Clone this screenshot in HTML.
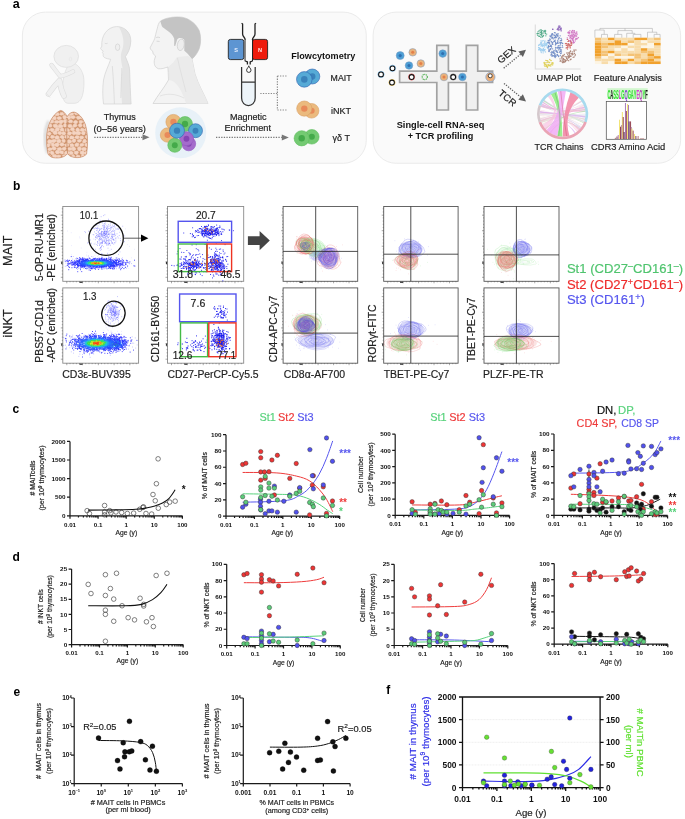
<!DOCTYPE html>
<html><head><meta charset="utf-8"><style>
html,body{margin:0;padding:0;background:#fff;width:685px;height:819px;overflow:hidden}
svg{display:block;position:absolute;left:0;top:0;will-change:transform}
text{font-family:"Liberation Sans", sans-serif}
</style></head><body>
<svg width="685" height="819" viewBox="0 0 685 819">
<text x="12.80" y="8.30" font-size="12.5" text-anchor="start" font-weight="bold" fill="#000">a</text>
<rect x="22.4" y="12.1" width="343.9" height="151.2" rx="23" fill="#fafafa" stroke="#e6e6e6" stroke-width="0.8"/>
<rect x="373.1" y="12.1" width="307.5" height="151.2" rx="23" fill="#fafafa" stroke="#e6e6e6" stroke-width="0.8"/>
<path d="M72,63 C77,63.5 81,68 83.2,75 C84.5,80 84.3,92 81.5,98 C79.5,102 77,103.3 74,103.3 L68,103.3 C65,103.2 63.5,100.5 63,97 C62,90 62.5,82 64,76 C65.5,70 68,64 72,63 Z" fill="#f0f0f0" stroke="#dddddd" stroke-width="0.7"/>
<ellipse cx="66.2" cy="56.4" rx="12.3" ry="11" fill="#f0f0f0" stroke="#dddddd" stroke-width="0.7"/>
<path d="M64,96 C61,90 60,84 59.5,80.5 C56,84 52,89 48.5,94" stroke="#dddddd" stroke-width="5.6" fill="none" stroke-linecap="round" stroke-linejoin="round"/>
<path d="M64,96 C61,90 60,84 59.5,80.5 C56,84 52,89 48.5,94" stroke="#f0f0f0" stroke-width="4.4" fill="none" stroke-linecap="round" stroke-linejoin="round"/>
<path d="M73,71.5 C68,74 63,76.5 60,76 C56.5,72 54,68 51.5,65" stroke="#dddddd" stroke-width="4.4" fill="none" stroke-linecap="round" stroke-linejoin="round"/>
<path d="M73,71.5 C68,74 63,76.5 60,76 C56.5,72 54,68 51.5,65" stroke="#f0f0f0" stroke-width="3.3" fill="none" stroke-linecap="round" stroke-linejoin="round"/>
<path d="M46.5,93.5 L50,97.6" stroke="#dddddd" stroke-width="0.6" fill="none"/>
<ellipse cx="70.5" cy="59" rx="1.3" ry="1.8" fill="none" stroke="#e0e0e0" stroke-width="0.5"/>
<path d="M104.4,57.5 C103,56.5 103,55 103.4,54 L102.4,52.6 L103.2,51.2 L101.3,49.6 L100.6,48.4 L101.8,46.2 C101,36 107,27 116.5,26.6 C125,26.4 131,33 130.8,41 C130.6,48 128,53 125.4,56.6 C127.5,62 129.5,66 129.6,70 C130,80 130.5,95 131.1,104 L103.5,104 C102.5,96 102.5,88 103.5,80 C105,72 108.5,66 110.7,59.3 C108.5,59 106,58.5 104.4,57.5 Z" fill="#f2f2f2"/>
<path d="M119,27 C126,28 131,34 130.8,41 C130.6,48 128,53 125.4,56.6 C127.5,62 129.5,66 129.6,70 C130,80 130.5,95 131.1,104 L122,104 C121,90 121,78 122.5,68 C121.5,62 120,57 121.5,52 C124,46 125,38 119,27 Z" fill="#e4e4e4"/>
<path d="M104.4,57.5 C103,56.5 103,55 103.4,54 L102.4,52.6 L103.2,51.2 L101.3,49.6 L100.6,48.4 L101.8,46.2 C101,36 107,27 116.5,26.6 C125,26.4 131,33 130.8,41 C130.6,48 128,53 125.4,56.6 C127.5,62 129.5,66 129.6,70 C130,80 130.5,95 131.1,104 L103.5,104 C102.5,96 102.5,88 103.5,80 C105,72 108.5,66 110.7,59.3 C108.5,59 106,58.5 104.4,57.5 Z" fill="none" stroke="#d4d4d4" stroke-width="0.7"/>
<ellipse cx="117.6" cy="47.2" rx="2.2" ry="3.3" fill="#efefef" stroke="#cccccc" stroke-width="0.6"/>
<path d="M112.3,66 C113.5,80 114,92 114.4,104 M121.8,68 C121.5,80 121,90 120.8,98" stroke="#d2d2d2" stroke-width="0.6" fill="none"/>
<path d="M104.8,43.2 C105.8,43.8 106.8,43.8 107.6,43.2" stroke="#c4c4c4" stroke-width="0.5" fill="none"/>
<path d="M160.3,21.2 C158.5,23 157.8,26 157.3,28.4 C156.5,31 156,33 155.7,34.5 L154.7,38.6 C154,40 153.5,41.5 152.7,42.7 L150.1,47.8 C150.5,49.5 151.5,50.5 152.7,51.3 L153.2,53.9 L155.6,56 L154.7,59 C154.3,60 154.2,61 154.2,62.1 C154.3,64 154.6,65.3 155.2,66.2 C156.2,67.5 157,68.3 158.3,68.7 C161,69 163.5,68.5 165.4,67.7 L168,67 L168.5,80 C164,88 158,95 153,103.5 L208,103.5 C204,94 198,84 195,74 L192,59 C195,56.5 197.5,53 199.2,48.8 C201,44 201.2,36 199.2,30.4 C195,22 187,17 178.7,16.9 C171,16.8 164,18.5 160.3,21.2 Z" fill="#f3f3f3" stroke="#d0d0d0" stroke-width="0.7"/>
<path d="M168,67 C172,64 175,61 177,57 L188,56 L192,59 L195,74 C198,84 204,94 208,103.5 L186,103.5 C182,90 176,80 168.5,80 Z" fill="#ebebeb"/>
<path d="M160.3,21.2 C164,18.5 171,16.8 178.7,16.9 C187,17 195,22 199.2,30.4 C201.2,36 201,44 199.2,48.8 C197.5,53 195,56.5 192,59 C189,55 186,52 184.3,50.8 L184.3,40 C182,37.5 179,37.5 177.2,39.5 L175.2,46 L174.1,45.7 C174.3,42 174.3,39 174.1,38.6 C173.5,36 171,33 168.5,31.4 C165,29 162.5,27.5 161.9,26.3 Z" fill="#c4c4c4"/>
<ellipse cx="180.8" cy="44.8" rx="3.4" ry="5.8" fill="#ededed" stroke="#c8c8c8" stroke-width="0.6" transform="rotate(10 180.8 44.8)"/>
<path d="M177.5,58 C180,70 183,80 186,92 M160,96 C168,93 176,94 184,98 M168.5,80 C169,74 168.5,70 168,67" stroke="#d8d8d8" stroke-width="0.6" fill="none"/>
<path d="M156.2,37.6 C157.5,37 159,37 160,37.8 M156.6,41.2 L159.6,41.4" stroke="#bdbdbd" stroke-width="0.5" fill="none"/>
<defs><clipPath id="thyc"><path d="M48,154 C45.5,142 46,131 49.5,123 C52.5,116 57,111.5 60.8,110.4 C63.5,111 65.5,113.5 67.2,116.5 C68.8,113.8 71.2,112 74,112 C78.5,113 82.5,117.5 85.2,124 C87.8,132 88.2,144 86.6,154 C83,158 76,158.5 71,156.5 C69,155.5 68,154.5 67.5,153.5 C66,156 62,158 57,158 C52,158 49.5,156.5 48,154 Z"/></clipPath></defs>
<path d="M47.5,153 C44,142 44.5,130 48.5,121" stroke="#888" stroke-width="2.6" fill="none" opacity="0.3" filter="url(#bl2a)"/>
<defs><filter id="bl2a" x="-50%" y="-50%" width="200%" height="200%"><feGaussianBlur stdDeviation="0.8"/></filter></defs>
<path d="M48,154 C45.5,142 46,131 49.5,123 C52.5,116 57,111.5 60.8,110.4 C63.5,111 65.5,113.5 67.2,116.5 C68.8,113.8 71.2,112 74,112 C78.5,113 82.5,117.5 85.2,124 C87.8,132 88.2,144 86.6,154 C83,158 76,158.5 71,156.5 C69,155.5 68,154.5 67.5,153.5 C66,156 62,158 57,158 C52,158 49.5,156.5 48,154 Z" fill="#cf936c"/>
<g clip-path="url(#thyc)"><polygon points="46.0,111.7 43.5,111.1 42.9,109.9 44.4,108.0 46.0,108.0 47.3,110.6" fill="#f4d4c2" stroke="#f4d4c2" stroke-width="0.5" stroke-linejoin="round"/><polygon points="51.5,107.8 51.9,109.4 50.4,110.5 48.2,110.1 47.1,108.9 48.9,107.4" fill="#f4d4c2" stroke="#f4d4c2" stroke-width="0.5" stroke-linejoin="round"/><polygon points="56.7,110.3 53.9,111.0 51.9,109.2 53.0,108.0 56.6,108.2" fill="#f4d4c2" stroke="#f4d4c2" stroke-width="0.5" stroke-linejoin="round"/><polygon points="59.2,110.7 57.4,109.1 58.5,107.4 60.8,107.1 62.6,109.1 61.6,110.7" fill="#f4d4c2" stroke="#f4d4c2" stroke-width="0.5" stroke-linejoin="round"/><polygon points="68.2,109.8 66.9,111.3 65.1,111.1 63.4,108.9 64.8,108.0 66.4,107.7" fill="#f4d4c2" stroke="#f4d4c2" stroke-width="0.5" stroke-linejoin="round"/><polygon points="67.9,109.2 69.9,108.2 72.2,109.3 72.1,110.8 70.4,111.4 67.7,110.4" fill="#f4d4c2" stroke="#f4d4c2" stroke-width="0.5" stroke-linejoin="round"/><polygon points="76.2,108.6 76.6,109.7 75.0,111.3 73.2,111.2 71.6,110.0 72.2,109.0 74.4,108.2" fill="#f4d4c2" stroke="#f4d4c2" stroke-width="0.5" stroke-linejoin="round"/><polygon points="78.8,108.1 81.0,108.9 81.5,110.6 78.8,111.4 77.5,111.0 77.0,109.1" fill="#f4d4c2" stroke="#f4d4c2" stroke-width="0.5" stroke-linejoin="round"/><polygon points="84.4,107.9 86.4,108.3 86.9,110.2 84.7,111.3 82.7,111.0 82.1,108.8" fill="#f4d4c2" stroke="#f4d4c2" stroke-width="0.5" stroke-linejoin="round"/><polygon points="91.0,108.3 91.3,111.1 89.0,111.8 87.1,110.2 87.9,108.3" fill="#f4d4c2" stroke="#f4d4c2" stroke-width="0.5" stroke-linejoin="round"/><polygon points="45.3,113.6 46.7,112.3 49.6,113.3 49.1,115.3 46.4,115.7" fill="#f4d4c2" stroke="#f4d4c2" stroke-width="0.5" stroke-linejoin="round"/><polygon points="50.6,111.8 53.0,111.7 54.3,113.3 53.1,115.7 50.6,115.2 49.8,113.7" fill="#f4d4c2" stroke="#f4d4c2" stroke-width="0.5" stroke-linejoin="round"/><polygon points="57.6,112.0 59.7,114.2 58.5,115.5 55.6,115.7 54.4,113.7 55.2,112.2" fill="#f4d4c2" stroke="#f4d4c2" stroke-width="0.5" stroke-linejoin="round"/><polygon points="60.4,112.5 63.1,112.4 64.0,114.5 61.4,115.3 59.9,114.7" fill="#f4d4c2" stroke="#f4d4c2" stroke-width="0.5" stroke-linejoin="round"/><polygon points="67.9,114.7 65.2,114.6 64.4,113.2 65.7,111.2 67.9,111.4 68.8,113.2" fill="#f4d4c2" stroke="#f4d4c2" stroke-width="0.5" stroke-linejoin="round"/><polygon points="71.6,115.5 69.9,115.5 68.7,114.2 69.6,112.9 72.1,112.5 73.8,113.3 73.2,114.8" fill="#f4d4c2" stroke="#f4d4c2" stroke-width="0.5" stroke-linejoin="round"/><polygon points="76.0,115.0 74.5,113.9 74.4,112.1 76.2,110.8 78.3,111.8 78.0,114.1" fill="#f4d4c2" stroke="#f4d4c2" stroke-width="0.5" stroke-linejoin="round"/><polygon points="83.9,113.1 83.5,114.6 81.7,116.0 79.6,115.3 79.0,113.7 80.4,112.2 82.2,111.7" fill="#f4d4c2" stroke="#f4d4c2" stroke-width="0.5" stroke-linejoin="round"/><polygon points="86.9,115.7 84.8,115.2 83.5,113.6 84.1,112.5 86.6,112.0 88.2,113.2 88.5,114.6" fill="#f4d4c2" stroke="#f4d4c2" stroke-width="0.5" stroke-linejoin="round"/><polygon points="42.5,117.3 43.3,115.8 45.9,115.2 46.6,116.3 46.8,117.9 44.7,119.1 43.0,118.6" fill="#f4d4c2" stroke="#f4d4c2" stroke-width="0.5" stroke-linejoin="round"/><polygon points="52.6,118.2 51.2,119.5 48.7,119.4 48.0,118.5 48.0,116.5 49.3,115.6 51.9,116.5" fill="#f4d4c2" stroke="#f4d4c2" stroke-width="0.5" stroke-linejoin="round"/><polygon points="55.7,116.5 56.2,118.8 55.3,120.0 52.7,119.5 52.3,117.7 54.2,116.2" fill="#f4d4c2" stroke="#f4d4c2" stroke-width="0.5" stroke-linejoin="round"/><polygon points="56.7,117.8 57.6,116.9 59.9,116.4 61.8,118.1 60.6,119.2 58.0,119.7" fill="#f4d4c2" stroke="#f4d4c2" stroke-width="0.5" stroke-linejoin="round"/><polygon points="66.5,117.8 65.0,119.2 63.5,118.9 62.7,117.0 63.1,115.7 65.0,115.2 66.7,116.8" fill="#f4d4c2" stroke="#f4d4c2" stroke-width="0.5" stroke-linejoin="round"/><polygon points="66.9,116.8 68.3,115.3 70.0,115.8 70.9,117.6 69.9,119.1 68.7,119.5 67.2,118.4" fill="#f4d4c2" stroke="#f4d4c2" stroke-width="0.5" stroke-linejoin="round"/><polygon points="75.6,117.3 73.5,118.9 70.6,117.9 70.9,116.2 74.1,115.6" fill="#f4d4c2" stroke="#f4d4c2" stroke-width="0.5" stroke-linejoin="round"/><polygon points="80.6,118.7 77.7,119.6 76.1,117.3 77.6,116.0 80.5,116.6" fill="#f4d4c2" stroke="#f4d4c2" stroke-width="0.5" stroke-linejoin="round"/><polygon points="83.3,115.9 85.1,117.4 84.5,118.8 83.1,119.2 81.0,118.8 80.1,117.8 81.5,116.2" fill="#f4d4c2" stroke="#f4d4c2" stroke-width="0.5" stroke-linejoin="round"/><polygon points="86.9,115.8 89.2,115.8 90.1,117.5 88.7,118.9 86.8,119.1 85.2,117.3" fill="#f4d4c2" stroke="#f4d4c2" stroke-width="0.5" stroke-linejoin="round"/><polygon points="49.7,120.9 48.6,123.0 46.1,122.6 45.0,120.9 46.8,119.9" fill="#f4d4c2" stroke="#f4d4c2" stroke-width="0.5" stroke-linejoin="round"/><polygon points="50.3,120.1 52.8,119.7 53.8,120.9 53.5,122.7 50.8,123.2 49.0,121.9" fill="#f4d4c2" stroke="#f4d4c2" stroke-width="0.5" stroke-linejoin="round"/><polygon points="56.5,120.2 59.4,121.3 58.4,122.9 57.3,123.4 54.6,122.8 54.5,121.2" fill="#f4d4c2" stroke="#f4d4c2" stroke-width="0.5" stroke-linejoin="round"/><polygon points="58.6,122.1 59.6,120.3 62.3,120.0 63.4,121.5 61.9,123.7 59.9,123.7" fill="#f4d4c2" stroke="#f4d4c2" stroke-width="0.5" stroke-linejoin="round"/><polygon points="63.1,120.4 65.0,119.4 67.3,119.5 67.9,121.4 66.1,123.2 63.7,122.4" fill="#f4d4c2" stroke="#f4d4c2" stroke-width="0.5" stroke-linejoin="round"/><polygon points="68.3,121.2 69.8,119.8 71.9,119.9 72.9,121.6 72.0,122.8 69.0,122.7" fill="#f4d4c2" stroke="#f4d4c2" stroke-width="0.5" stroke-linejoin="round"/><polygon points="77.3,123.1 75.6,123.9 73.5,122.8 73.8,121.3 75.4,120.3 77.4,121.1" fill="#f4d4c2" stroke="#f4d4c2" stroke-width="0.5" stroke-linejoin="round"/><polygon points="79.1,120.8 81.0,120.4 82.8,120.9 82.8,122.2 80.9,123.8 79.4,123.2" fill="#f4d4c2" stroke="#f4d4c2" stroke-width="0.5" stroke-linejoin="round"/><polygon points="85.5,120.1 87.7,121.4 87.2,122.8 85.0,123.6 83.3,122.1 83.8,120.5" fill="#f4d4c2" stroke="#f4d4c2" stroke-width="0.5" stroke-linejoin="round"/><polygon points="46.4,124.3 48.3,125.7 45.9,127.9 44.1,127.3 43.8,125.0" fill="#f4d4c2" stroke="#f4d4c2" stroke-width="0.5" stroke-linejoin="round"/><polygon points="51.8,124.7 52.1,126.4 50.3,127.2 48.3,126.6 48.3,124.4 50.0,123.5" fill="#f4d4c2" stroke="#f4d4c2" stroke-width="0.5" stroke-linejoin="round"/><polygon points="57.1,124.5 58.2,126.4 56.8,127.5 54.6,127.8 53.6,127.0 53.1,124.8 55.3,123.9" fill="#f4d4c2" stroke="#f4d4c2" stroke-width="0.5" stroke-linejoin="round"/><polygon points="58.0,126.9 58.7,124.4 61.0,124.2 63.0,125.8 62.6,127.2 59.6,128.0" fill="#f4d4c2" stroke="#f4d4c2" stroke-width="0.5" stroke-linejoin="round"/><polygon points="65.8,123.4 67.2,125.3 66.5,127.0 63.9,127.0 63.3,125.1 64.4,123.4" fill="#f4d4c2" stroke="#f4d4c2" stroke-width="0.5" stroke-linejoin="round"/><polygon points="70.8,127.6 69.5,127.6 68.0,126.8 68.3,124.8 69.9,124.2 71.4,124.5 72.2,126.6" fill="#f4d4c2" stroke="#f4d4c2" stroke-width="0.5" stroke-linejoin="round"/><polygon points="72.4,126.5 73.9,124.0 76.4,124.2 77.2,126.0 75.0,127.2" fill="#f4d4c2" stroke="#f4d4c2" stroke-width="0.5" stroke-linejoin="round"/><polygon points="79.7,127.3 78.1,125.5 79.0,124.0 81.1,123.7 82.2,125.2 81.7,126.6" fill="#f4d4c2" stroke="#f4d4c2" stroke-width="0.5" stroke-linejoin="round"/><polygon points="83.5,126.9 83.1,124.6 84.5,123.0 86.4,123.6 87.1,124.7 86.9,126.2 84.7,127.6" fill="#f4d4c2" stroke="#f4d4c2" stroke-width="0.5" stroke-linejoin="round"/><polygon points="89.5,127.5 88.3,126.3 88.8,124.6 91.0,124.2 92.1,125.5 91.7,127.0" fill="#f4d4c2" stroke="#f4d4c2" stroke-width="0.5" stroke-linejoin="round"/><polygon points="45.8,128.9 48.4,128.0 49.8,130.5 47.4,132.0 45.6,130.9" fill="#f4d4c2" stroke="#f4d4c2" stroke-width="0.5" stroke-linejoin="round"/><polygon points="52.9,131.9 51.0,131.5 49.9,129.5 51.0,128.2 53.3,128.4 54.3,129.6" fill="#f4d4c2" stroke="#f4d4c2" stroke-width="0.5" stroke-linejoin="round"/><polygon points="56.2,131.4 54.8,129.9 56.2,127.8 57.8,127.3 59.6,128.7 58.7,130.9" fill="#f4d4c2" stroke="#f4d4c2" stroke-width="0.5" stroke-linejoin="round"/><polygon points="61.9,127.6 63.7,128.7 63.9,130.9 60.6,131.1 59.9,129.4" fill="#f4d4c2" stroke="#f4d4c2" stroke-width="0.5" stroke-linejoin="round"/><polygon points="65.3,128.7 67.6,127.9 69.6,129.9 69.1,131.5 65.2,131.2" fill="#f4d4c2" stroke="#f4d4c2" stroke-width="0.5" stroke-linejoin="round"/><polygon points="73.7,127.6 74.6,130.1 73.1,131.1 70.1,129.9 71.4,127.6" fill="#f4d4c2" stroke="#f4d4c2" stroke-width="0.5" stroke-linejoin="round"/><polygon points="77.8,131.8 75.9,130.7 75.9,129.0 77.3,127.7 78.9,128.4 79.8,130.3" fill="#f4d4c2" stroke="#f4d4c2" stroke-width="0.5" stroke-linejoin="round"/><polygon points="84.9,129.9 83.1,131.5 80.2,130.9 80.4,129.3 81.6,127.9 84.2,128.9" fill="#f4d4c2" stroke="#f4d4c2" stroke-width="0.5" stroke-linejoin="round"/><polygon points="84.5,129.3 86.8,127.3 88.3,127.6 88.8,130.3 87.8,131.6 85.5,131.3" fill="#f4d4c2" stroke="#f4d4c2" stroke-width="0.5" stroke-linejoin="round"/><polygon points="42.7,133.1 44.2,131.2 45.8,131.2 47.7,133.4 46.5,134.2 44.2,134.7" fill="#f4d4c2" stroke="#f4d4c2" stroke-width="0.5" stroke-linejoin="round"/><polygon points="47.4,132.7 49.9,132.0 51.3,133.5 49.9,135.5 47.5,134.8" fill="#f4d4c2" stroke="#f4d4c2" stroke-width="0.5" stroke-linejoin="round"/><polygon points="57.1,133.2 57.0,134.2 54.2,134.6 53.3,133.6 52.8,132.1 54.7,130.6 56.8,131.4" fill="#f4d4c2" stroke="#f4d4c2" stroke-width="0.5" stroke-linejoin="round"/><polygon points="60.6,131.2 61.8,132.4 61.4,134.3 59.8,134.9 57.5,133.3 58.6,131.4" fill="#f4d4c2" stroke="#f4d4c2" stroke-width="0.5" stroke-linejoin="round"/><polygon points="64.5,131.8 66.0,133.3 64.5,135.2 62.3,134.5 61.3,133.1 63.1,131.4" fill="#f4d4c2" stroke="#f4d4c2" stroke-width="0.5" stroke-linejoin="round"/><polygon points="69.8,135.3 67.1,134.2 67.1,133.2 68.4,131.7 70.9,132.0 72.0,132.9 70.7,134.7" fill="#f4d4c2" stroke="#f4d4c2" stroke-width="0.5" stroke-linejoin="round"/><polygon points="76.0,134.0 73.6,135.1 72.1,133.7 72.7,131.3 74.2,131.0 76.3,132.2" fill="#f4d4c2" stroke="#f4d4c2" stroke-width="0.5" stroke-linejoin="round"/><polygon points="80.9,133.5 79.5,134.9 76.1,134.6 75.6,132.4 77.6,131.1 80.3,131.9" fill="#f4d4c2" stroke="#f4d4c2" stroke-width="0.5" stroke-linejoin="round"/><polygon points="81.2,133.5 82.3,131.5 84.2,131.3 85.4,132.6 84.6,134.7 83.0,134.9" fill="#f4d4c2" stroke="#f4d4c2" stroke-width="0.5" stroke-linejoin="round"/><polygon points="88.8,135.1 86.6,133.7 87.0,131.9 89.6,131.7 91.0,132.4 91.4,134.2" fill="#f4d4c2" stroke="#f4d4c2" stroke-width="0.5" stroke-linejoin="round"/><polygon points="45.0,137.3 46.0,135.7 48.4,135.9 49.0,137.4 47.9,138.6 45.3,138.4" fill="#f4d4c2" stroke="#f4d4c2" stroke-width="0.5" stroke-linejoin="round"/><polygon points="51.8,138.6 50.3,137.4 51.5,135.1 54.5,135.9 54.4,137.8" fill="#f4d4c2" stroke="#f4d4c2" stroke-width="0.5" stroke-linejoin="round"/><polygon points="57.2,139.4 55.3,138.7 54.8,137.1 56.7,135.4 58.8,136.2 59.4,138.2" fill="#f4d4c2" stroke="#f4d4c2" stroke-width="0.5" stroke-linejoin="round"/><polygon points="62.9,135.4 64.2,136.7 63.9,138.4 62.9,138.9 60.6,138.0 59.9,136.9 60.9,135.5" fill="#f4d4c2" stroke="#f4d4c2" stroke-width="0.5" stroke-linejoin="round"/><polygon points="66.4,138.5 64.7,137.7 65.3,135.5 67.0,134.8 68.9,136.2 68.5,137.9" fill="#f4d4c2" stroke="#f4d4c2" stroke-width="0.5" stroke-linejoin="round"/><polygon points="74.3,137.7 73.0,139.1 70.2,138.9 69.5,138.2 70.0,136.4 71.1,135.8 73.6,136.5" fill="#f4d4c2" stroke="#f4d4c2" stroke-width="0.5" stroke-linejoin="round"/><polygon points="77.2,139.0 74.8,137.8 75.1,136.4 76.8,135.6 79.2,136.3 78.6,138.6" fill="#f4d4c2" stroke="#f4d4c2" stroke-width="0.5" stroke-linejoin="round"/><polygon points="80.8,139.3 79.5,137.9 80.0,136.2 82.6,136.0 84.0,137.3 82.7,139.0" fill="#f4d4c2" stroke="#f4d4c2" stroke-width="0.5" stroke-linejoin="round"/><polygon points="86.9,138.7 85.4,137.8 85.2,136.1 86.3,135.2 88.6,135.3 89.2,136.1 88.8,137.8" fill="#f4d4c2" stroke="#f4d4c2" stroke-width="0.5" stroke-linejoin="round"/><polygon points="44.9,143.5 42.8,142.3 43.4,140.5 44.8,139.4 47.0,141.3 46.9,142.7" fill="#f4d4c2" stroke="#f4d4c2" stroke-width="0.5" stroke-linejoin="round"/><polygon points="48.0,143.3 47.6,140.8 48.9,139.6 52.0,140.2 52.4,142.0 50.4,143.8" fill="#f4d4c2" stroke="#f4d4c2" stroke-width="0.5" stroke-linejoin="round"/><polygon points="51.8,141.9 51.7,140.2 53.4,139.2 55.5,139.5 56.7,140.6 55.5,142.1 54.1,142.7" fill="#f4d4c2" stroke="#f4d4c2" stroke-width="0.5" stroke-linejoin="round"/><polygon points="56.7,141.3 57.5,139.8 59.3,138.9 60.7,140.1 60.9,142.2 59.1,143.0 57.4,142.6" fill="#f4d4c2" stroke="#f4d4c2" stroke-width="0.5" stroke-linejoin="round"/><polygon points="65.4,141.1 64.5,142.6 62.7,142.3 61.7,140.4 62.4,139.2 64.8,139.6" fill="#f4d4c2" stroke="#f4d4c2" stroke-width="0.5" stroke-linejoin="round"/><polygon points="67.0,142.5 67.1,140.6 68.3,139.7 70.1,139.7 71.8,141.3 71.1,142.8 69.1,143.5" fill="#f4d4c2" stroke="#f4d4c2" stroke-width="0.5" stroke-linejoin="round"/><polygon points="76.0,141.0 74.7,142.6 72.6,142.3 71.9,140.5 73.3,139.1 75.3,138.9" fill="#f4d4c2" stroke="#f4d4c2" stroke-width="0.5" stroke-linejoin="round"/><polygon points="77.4,140.1 80.2,139.2 81.8,140.7 80.0,142.2 77.8,142.1" fill="#f4d4c2" stroke="#f4d4c2" stroke-width="0.5" stroke-linejoin="round"/><polygon points="86.0,139.8 86.5,141.7 85.0,143.1 82.9,142.8 82.5,141.9 83.3,139.7 84.7,139.0" fill="#f4d4c2" stroke="#f4d4c2" stroke-width="0.5" stroke-linejoin="round"/><polygon points="87.0,141.8 87.6,139.9 88.7,138.9 90.5,140.0 91.3,141.8 90.3,143.1 88.6,143.6" fill="#f4d4c2" stroke="#f4d4c2" stroke-width="0.5" stroke-linejoin="round"/><polygon points="50.6,144.8 48.9,147.1 46.4,147.0 45.1,145.4 46.3,143.9 49.1,143.8" fill="#f4d4c2" stroke="#f4d4c2" stroke-width="0.5" stroke-linejoin="round"/><polygon points="53.3,142.7 54.9,144.8 54.0,146.5 51.9,146.6 51.0,143.6" fill="#f4d4c2" stroke="#f4d4c2" stroke-width="0.5" stroke-linejoin="round"/><polygon points="58.7,146.0 57.3,146.9 55.2,146.1 54.4,144.6 55.0,143.7 57.2,142.8 59.1,143.7" fill="#f4d4c2" stroke="#f4d4c2" stroke-width="0.5" stroke-linejoin="round"/><polygon points="61.7,146.3 59.6,145.0 59.9,143.8 62.0,142.5 64.5,144.2 63.7,145.4" fill="#f4d4c2" stroke="#f4d4c2" stroke-width="0.5" stroke-linejoin="round"/><polygon points="68.9,144.2 68.4,146.2 65.7,146.7 64.4,144.7 66.8,143.3" fill="#f4d4c2" stroke="#f4d4c2" stroke-width="0.5" stroke-linejoin="round"/><polygon points="70.4,146.7 69.9,144.3 72.3,143.5 74.0,144.9 73.3,146.8" fill="#f4d4c2" stroke="#f4d4c2" stroke-width="0.5" stroke-linejoin="round"/><polygon points="74.7,144.5 76.6,142.7 79.1,143.8 78.1,146.4 75.3,146.3" fill="#f4d4c2" stroke="#f4d4c2" stroke-width="0.5" stroke-linejoin="round"/><polygon points="79.8,145.0 80.4,143.7 82.9,143.3 84.0,144.4 83.3,146.0 80.4,146.4" fill="#f4d4c2" stroke="#f4d4c2" stroke-width="0.5" stroke-linejoin="round"/><polygon points="84.6,145.1 85.5,143.3 88.8,143.4 89.5,145.5 87.6,146.8 85.4,146.2" fill="#f4d4c2" stroke="#f4d4c2" stroke-width="0.5" stroke-linejoin="round"/><polygon points="45.1,147.0 47.1,148.9 46.4,150.7 43.8,150.3 43.4,148.4" fill="#f4d4c2" stroke="#f4d4c2" stroke-width="0.5" stroke-linejoin="round"/><polygon points="47.6,149.3 48.9,147.7 51.7,148.1 52.1,149.8 49.1,151.1" fill="#f4d4c2" stroke="#f4d4c2" stroke-width="0.5" stroke-linejoin="round"/><polygon points="55.3,149.8 53.8,150.3 51.5,148.6 52.4,147.2 53.7,146.6 55.4,146.9 56.4,148.9" fill="#f4d4c2" stroke="#f4d4c2" stroke-width="0.5" stroke-linejoin="round"/><polygon points="57.6,150.5 57.3,148.2 60.2,147.2 62.1,148.9 60.4,150.7" fill="#f4d4c2" stroke="#f4d4c2" stroke-width="0.5" stroke-linejoin="round"/><polygon points="63.3,147.2 65.3,146.9 66.4,148.8 64.9,150.4 62.8,150.1 61.8,148.5" fill="#f4d4c2" stroke="#f4d4c2" stroke-width="0.5" stroke-linejoin="round"/><polygon points="68.6,150.5 67.4,148.5 68.7,147.4 71.8,147.7 71.8,150.1" fill="#f4d4c2" stroke="#f4d4c2" stroke-width="0.5" stroke-linejoin="round"/><polygon points="72.9,151.0 71.6,148.6 72.2,147.3 74.3,146.7 76.1,148.9 74.6,150.5" fill="#f4d4c2" stroke="#f4d4c2" stroke-width="0.5" stroke-linejoin="round"/><polygon points="78.1,150.6 77.5,148.7 77.5,147.7 79.2,146.6 81.3,147.7 81.5,149.4 79.9,150.9" fill="#f4d4c2" stroke="#f4d4c2" stroke-width="0.5" stroke-linejoin="round"/><polygon points="82.7,150.7 81.9,149.2 82.0,148.0 84.3,147.2 86.2,148.0 86.5,148.9 85.5,150.8" fill="#f4d4c2" stroke="#f4d4c2" stroke-width="0.5" stroke-linejoin="round"/><polygon points="87.3,147.9 89.2,147.1 91.8,148.6 91.0,150.6 87.9,150.4" fill="#f4d4c2" stroke="#f4d4c2" stroke-width="0.5" stroke-linejoin="round"/><polygon points="47.9,154.5 45.7,153.8 44.9,152.9 45.9,151.3 48.0,151.1 49.8,152.2 48.9,153.9" fill="#f4d4c2" stroke="#f4d4c2" stroke-width="0.5" stroke-linejoin="round"/><polygon points="54.3,153.4 52.8,154.4 51.0,154.5 50.1,152.1 51.2,151.1 53.3,151.4" fill="#f4d4c2" stroke="#f4d4c2" stroke-width="0.5" stroke-linejoin="round"/><polygon points="56.3,150.2 59.1,150.8 60.0,152.8 58.6,153.7 56.5,153.9 55.1,152.1" fill="#f4d4c2" stroke="#f4d4c2" stroke-width="0.5" stroke-linejoin="round"/><polygon points="63.5,151.6 63.2,153.9 61.7,154.1 59.7,152.9 60.1,151.1 62.2,150.7" fill="#f4d4c2" stroke="#f4d4c2" stroke-width="0.5" stroke-linejoin="round"/><polygon points="64.3,153.5 65.0,151.4 66.6,151.0 68.4,151.2 69.4,152.7 67.6,154.4 65.5,154.3" fill="#f4d4c2" stroke="#f4d4c2" stroke-width="0.5" stroke-linejoin="round"/><polygon points="73.3,152.6 72.6,154.5 69.5,154.6 69.2,151.8 71.3,151.0" fill="#f4d4c2" stroke="#f4d4c2" stroke-width="0.5" stroke-linejoin="round"/><polygon points="74.4,153.7 74.4,151.3 77.7,151.0 78.5,152.6 77.0,154.8" fill="#f4d4c2" stroke="#f4d4c2" stroke-width="0.5" stroke-linejoin="round"/><polygon points="80.3,151.3 83.4,150.9 84.7,152.9 82.6,154.9 80.1,153.6" fill="#f4d4c2" stroke="#f4d4c2" stroke-width="0.5" stroke-linejoin="round"/><polygon points="85.5,151.4 88.1,151.7 88.3,152.8 86.9,154.9 84.7,154.2 84.1,152.9" fill="#f4d4c2" stroke="#f4d4c2" stroke-width="0.5" stroke-linejoin="round"/><polygon points="44.0,154.8 45.1,154.7 46.7,155.8 46.4,157.7 45.0,158.6 43.3,158.0 42.9,156.4" fill="#f4d4c2" stroke="#f4d4c2" stroke-width="0.5" stroke-linejoin="round"/><polygon points="49.6,155.0 51.4,156.6 50.2,158.0 46.9,157.3 46.6,155.6" fill="#f4d4c2" stroke="#f4d4c2" stroke-width="0.5" stroke-linejoin="round"/><polygon points="57.3,155.7 56.0,158.1 53.8,158.4 52.4,155.9 52.5,154.6 55.5,154.5" fill="#f4d4c2" stroke="#f4d4c2" stroke-width="0.5" stroke-linejoin="round"/><polygon points="60.8,155.4 60.2,157.7 59.1,158.4 56.6,157.0 57.4,155.2 58.9,154.9" fill="#f4d4c2" stroke="#f4d4c2" stroke-width="0.5" stroke-linejoin="round"/><polygon points="66.1,157.3 63.6,157.8 62.3,155.5 64.3,154.4 66.1,154.9" fill="#f4d4c2" stroke="#f4d4c2" stroke-width="0.5" stroke-linejoin="round"/><polygon points="70.4,158.6 67.8,159.0 66.3,156.6 67.5,155.1 69.9,155.4 71.7,157.4" fill="#f4d4c2" stroke="#f4d4c2" stroke-width="0.5" stroke-linejoin="round"/><polygon points="71.1,157.3 71.2,156.1 73.5,154.6 74.4,155.3 75.0,157.0 72.9,158.1" fill="#f4d4c2" stroke="#f4d4c2" stroke-width="0.5" stroke-linejoin="round"/><polygon points="76.4,158.0 75.9,156.5 77.3,154.9 79.7,155.5 80.3,157.5 78.5,158.5" fill="#f4d4c2" stroke="#f4d4c2" stroke-width="0.5" stroke-linejoin="round"/><polygon points="81.2,155.7 82.8,154.3 84.9,155.3 85.2,156.9 83.5,158.5 81.6,157.5" fill="#f4d4c2" stroke="#f4d4c2" stroke-width="0.5" stroke-linejoin="round"/><polygon points="89.9,157.5 86.9,158.6 85.3,156.8 86.2,154.8 89.6,155.0" fill="#f4d4c2" stroke="#f4d4c2" stroke-width="0.5" stroke-linejoin="round"/></g>
<path d="M67.3,118 C66.5,130 66.5,142 67.5,153" stroke="#c98e6a" stroke-width="0.9" fill="none"/>
<path d="M48,154 C45.5,142 46,131 49.5,123 C52.5,116 57,111.5 60.8,110.4 C63.5,111 65.5,113.5 67.2,116.5 C68.8,113.8 71.2,112 74,112 C78.5,113 82.5,117.5 85.2,124 C87.8,132 88.2,144 86.6,154 C83,158 76,158.5 71,156.5 C69,155.5 68,154.5 67.5,153.5 C66,156 62,158 57,158 C52,158 49.5,156.5 48,154 Z" fill="none" stroke="#c88c68" stroke-width="0.6"/>
<text x="119.80" y="120.10" font-size="9" text-anchor="middle" fill="#222" stroke="#222" stroke-width="0.18">Thymus</text>
<text x="119.70" y="131.50" font-size="9" text-anchor="middle" fill="#222" stroke="#222" stroke-width="0.18" textLength="52.6" lengthAdjust="spacingAndGlyphs">(0&#8211;56 years)</text>
<line x1="94.30" y1="137.30" x2="142.50" y2="137.30" stroke="#777" stroke-width="1.2" stroke-dasharray="1.3 1.3"/>
<path d="M149.50,137.30 L142.50,140.30 L142.50,134.30 Z" fill="#777"/>
<circle cx="180.70" cy="132.80" r="25.5" fill="#e8f1f8" stroke="none" stroke-width="0.5"/>
<circle cx="173.40" cy="121.90" r="7.5" fill="#ebba7e" stroke="#d9a064" stroke-width="0.6"/>
<circle cx="173.40" cy="121.90" r="3.15" fill="#e88a5a" stroke="none" stroke-width="0.5"/>
<circle cx="167.50" cy="135.00" r="7.2" fill="#ebba7e" stroke="#d9a064" stroke-width="0.6"/>
<circle cx="167.50" cy="135.00" r="3.024" fill="#e88a5a" stroke="none" stroke-width="0.5"/>
<circle cx="185.00" cy="124.00" r="7.5" fill="#74ca72" stroke="#5cbc5c" stroke-width="0.6"/>
<circle cx="185.00" cy="124.00" r="3.15" fill="#44aa4a" stroke="none" stroke-width="0.5"/>
<circle cx="195.50" cy="130.70" r="7.0" fill="#56aad6" stroke="#3062b0" stroke-width="0.6"/>
<circle cx="195.50" cy="130.70" r="2.94" fill="#3a82ba" stroke="none" stroke-width="0.5"/>
<circle cx="188.70" cy="143.80" r="7.0" fill="#a46ccc" stroke="#9058c0" stroke-width="0.6"/>
<circle cx="188.70" cy="143.80" r="2.94" fill="#8444b4" stroke="none" stroke-width="0.5"/>
<circle cx="186.50" cy="138.70" r="7.0" fill="#a46ccc" stroke="#9058c0" stroke-width="0.6"/>
<circle cx="186.50" cy="138.70" r="2.94" fill="#8444b4" stroke="none" stroke-width="0.5"/>
<circle cx="174.80" cy="145.30" r="7.0" fill="#74ca72" stroke="#5cbc5c" stroke-width="0.6"/>
<circle cx="174.80" cy="145.30" r="2.94" fill="#44aa4a" stroke="none" stroke-width="0.5"/>
<circle cx="177.00" cy="130.70" r="7.5" fill="#56aad6" stroke="#3062b0" stroke-width="0.6"/>
<circle cx="177.00" cy="130.70" r="3.15" fill="#3a82ba" stroke="none" stroke-width="0.5"/>
<text x="248.30" y="120.00" font-size="9" text-anchor="middle" fill="#222" stroke="#222" stroke-width="0.18" textLength="36.7" lengthAdjust="spacingAndGlyphs">Magnetic</text>
<text x="247.70" y="130.70" font-size="9" text-anchor="middle" fill="#222" stroke="#222" stroke-width="0.18" textLength="46.6" lengthAdjust="spacingAndGlyphs">Enrichment</text>
<line x1="216.00" y1="137.40" x2="281.80" y2="137.40" stroke="#777" stroke-width="1.2" stroke-dasharray="1.3 1.3"/>
<path d="M288.80,137.40 L281.80,140.40 L281.80,134.40 Z" fill="#777"/>
<rect x="228.3" y="39.4" width="15.5" height="20.2" rx="2.2" fill="#5d95d2" stroke="#222" stroke-width="0.9"/>
<rect x="252.4" y="39.4" width="15.2" height="20.2" rx="2.2" fill="#ee1b0c" stroke="#222" stroke-width="0.9"/>
<text x="236.00" y="52.30" font-size="5.6" text-anchor="middle" font-weight="bold" fill="#e8f0ff">S</text>
<text x="260.00" y="52.30" font-size="5.6" text-anchor="middle" font-weight="bold" fill="#ffe8e8">N</text>
<path d="M241.6,23.3 L242.6,24 L242.6,34 C242.6,37 245.2,37 245.2,40 L245.2,60.8 L247.4,62 L247.4,64.5 M256,23.3 L255,24 L255,34 C255,37 252.4,37 252.4,40 L252.4,60.8 L250.2,62 L250.2,64.5" stroke="#222" stroke-width="1.3" fill="none"/>
<rect x="245.6" y="40" width="6.4" height="20.5" fill="#fcfcfc"/>
<path d="M248.8,65.8 C248.8,67.3 246.6,68.4 246.6,70.2 A2.2,2.2 0 0 0 251,70.2 C251,68.4 248.8,67.3 248.8,65.8 Z" fill="#fff" stroke="#222" stroke-width="0.9"/>
<path d="M241.6,82.2 L241.6,98 C241.6,108 255.2,108 255.2,98 L255.2,82.2 Z" fill="#edf4f9"/>
<path d="M241.6,66.9 L241.6,98 C241.6,108 255.2,108 255.2,98 L255.2,66.9 M241.6,82.2 L255.2,82.2" stroke="#333" stroke-width="1.25" fill="none"/>
<path d="M260.3,93.5 L277.4,93.5 M277.4,76 L277.4,110 M277.4,76 L287,76 M277.4,110 L287,110" stroke="#8a8a8a" stroke-width="1.2" stroke-dasharray="1.3 1.3" fill="none"/>
<text x="291.20" y="58.70" font-size="9" text-anchor="start" font-weight="bold" fill="#111" textLength="64.2" lengthAdjust="spacingAndGlyphs">Flowcytometry</text>
<circle cx="312.30" cy="76.50" r="7.5" fill="#56aad6" stroke="#3062b0" stroke-width="0.6"/>
<circle cx="312.30" cy="76.50" r="3.15" fill="#3a82ba" stroke="none" stroke-width="0.5"/>
<circle cx="304.30" cy="79.40" r="7.8" fill="#56aad6" stroke="#3062b0" stroke-width="0.6"/>
<circle cx="304.30" cy="79.40" r="3.276" fill="#3a82ba" stroke="none" stroke-width="0.5"/>
<circle cx="311.60" cy="110.80" r="7.3" fill="#ebba7e" stroke="#d9a064" stroke-width="0.6"/>
<circle cx="311.60" cy="110.80" r="3.066" fill="#e88a5a" stroke="none" stroke-width="0.5"/>
<circle cx="304.30" cy="108.60" r="7.6" fill="#ebba7e" stroke="#d9a064" stroke-width="0.6"/>
<circle cx="304.30" cy="108.60" r="3.1919999999999997" fill="#e88a5a" stroke="none" stroke-width="0.5"/>
<circle cx="311.80" cy="136.80" r="7.3" fill="#74ca72" stroke="#5cbc5c" stroke-width="0.6"/>
<circle cx="311.80" cy="136.80" r="3.066" fill="#44aa4a" stroke="none" stroke-width="0.5"/>
<circle cx="301.70" cy="138.30" r="7.6" fill="#74ca72" stroke="#5cbc5c" stroke-width="0.6"/>
<circle cx="301.70" cy="138.30" r="3.1919999999999997" fill="#44aa4a" stroke="none" stroke-width="0.5"/>
<text x="330.60" y="80.90" font-size="9" text-anchor="start" fill="#222" stroke="#222" stroke-width="0.18" textLength="20.9" lengthAdjust="spacingAndGlyphs">MAIT</text>
<text x="331.00" y="113.70" font-size="9" text-anchor="start" fill="#222" stroke="#222" stroke-width="0.18" textLength="20.0" lengthAdjust="spacingAndGlyphs">iNKT</text>
<text x="332.40" y="141.40" font-size="9" text-anchor="start" fill="#222" stroke="#222" stroke-width="0.18" textLength="17.6" lengthAdjust="spacingAndGlyphs">&#947;&#948; T</text>
<path d="M399.6,71.2 L436.8,71.2 L436.8,45.3 L448.4,45.3 L448.4,71.2 L466.3,71.2 L466.3,45.3 L477.7,45.3 L477.7,71.2 L492.6,71.2 L492.6,82.5 L477.7,82.5 L477.7,110 L466.3,110 L466.3,82.5 L448.4,82.5 L448.4,110 L436.8,110 L436.8,82.5 L399.6,82.5 Z" fill="#f0f0f0" stroke="#a2a2a2" stroke-width="1.7"/>
<circle cx="400.20" cy="55.60" r="4.0" fill="#4c9fd6" stroke="#7a9ac0" stroke-width="0.5"/>
<circle cx="400.20" cy="55.60" r="1.6" fill="#2f6fb0" stroke="none" stroke-width="0.5"/>
<circle cx="412.70" cy="52.30" r="3.8" fill="#eab37c" stroke="#7a9ac0" stroke-width="0.5"/>
<circle cx="412.70" cy="52.30" r="1.52" fill="#e4804a" stroke="none" stroke-width="0.5"/>
<circle cx="409.00" cy="65.50" r="3.8" fill="#4c9fd6" stroke="#7a9ac0" stroke-width="0.5"/>
<circle cx="409.00" cy="65.50" r="1.52" fill="#2f6fb0" stroke="none" stroke-width="0.5"/>
<circle cx="420.80" cy="63.50" r="3.8" fill="#eab37c" stroke="#7a9ac0" stroke-width="0.5"/>
<circle cx="420.80" cy="63.50" r="1.52" fill="#e4804a" stroke="none" stroke-width="0.5"/>
<circle cx="442.70" cy="53.60" r="3.8" fill="#4c9fd6" stroke="#7a9ac0" stroke-width="0.5"/>
<circle cx="442.70" cy="53.60" r="1.52" fill="#2f6fb0" stroke="none" stroke-width="0.5"/>
<circle cx="444.00" cy="77.00" r="3.8" fill="#eab37c" stroke="#7a9ac0" stroke-width="0.5"/>
<circle cx="444.00" cy="77.00" r="1.52" fill="#e4804a" stroke="none" stroke-width="0.5"/>
<circle cx="462.40" cy="77.00" r="3.8" fill="#4c9fd6" stroke="#7a9ac0" stroke-width="0.5"/>
<circle cx="462.40" cy="77.00" r="1.52" fill="#2f6fb0" stroke="none" stroke-width="0.5"/>
<circle cx="392.50" cy="68.30" r="3.1" fill="#fff" stroke="#5aa8e0" stroke-width="0.7"/>
<circle cx="392.50" cy="68.30" r="2.4" fill="none" stroke="#111" stroke-width="1.05"/>
<circle cx="381.00" cy="74.40" r="3.1" fill="#fff" stroke="#5aa8e0" stroke-width="0.7"/>
<circle cx="381.00" cy="74.40" r="2.4" fill="none" stroke="#111" stroke-width="1.05"/>
<circle cx="392.00" cy="82.50" r="3.1" fill="#fff" stroke="#e6b830" stroke-width="0.7"/>
<circle cx="392.00" cy="82.50" r="2.4" fill="none" stroke="#111" stroke-width="1.05"/>
<circle cx="411.60" cy="77.00" r="3.1" fill="#fff" stroke="#dd3333" stroke-width="0.7"/>
<circle cx="411.60" cy="77.00" r="2.4" fill="none" stroke="#111" stroke-width="1.05"/>
<circle cx="424.70" cy="77.00" r="2.6" fill="none" stroke="#44aa44" stroke-width="1.1" stroke-dasharray="1.0 0.65"/>
<circle cx="453.20" cy="77.00" r="3.1" fill="#fff" stroke="#777" stroke-width="0.7"/>
<circle cx="453.20" cy="77.00" r="2.4" fill="none" stroke="#111" stroke-width="1.05"/>
<circle cx="490.40" cy="77.00" r="4.6" fill="#ebb07a" stroke="#8aa8d0" stroke-width="0.8"/>
<circle cx="490.20" cy="75.80" r="2.0" fill="#fff" stroke="#222" stroke-width="0.8"/>
<text x="440.50" y="127.90" font-size="8.8" text-anchor="middle" font-weight="bold" fill="#111" textLength="87.6" lengthAdjust="spacingAndGlyphs">Single-cell RNA-seq</text>
<text x="440.50" y="138.80" font-size="8.8" text-anchor="middle" font-weight="bold" fill="#111" textLength="65.6" lengthAdjust="spacingAndGlyphs">+ TCR profiling</text>
<text x="508.60" y="57.40" font-size="9.6" text-anchor="middle" fill="#222" stroke="#222" stroke-width="0.18" transform="rotate(-40 508.60 57.40)">GEX</text>
<text x="505.40" y="100.60" font-size="9.6" text-anchor="middle" fill="#222" stroke="#222" stroke-width="0.18" transform="rotate(40 505.40 100.60)">TCR</text>
<line x1="503.70" y1="68.20" x2="520.60" y2="54.26" stroke="#606060" stroke-width="1.3" stroke-dasharray="1.3 1.3"/>
<path d="M526.00,49.80 L522.89,57.03 L518.31,51.48 Z" fill="#606060"/>
<line x1="504.00" y1="83.40" x2="520.58" y2="96.97" stroke="#606060" stroke-width="1.3" stroke-dasharray="1.3 1.3"/>
<path d="M526.00,101.40 L518.30,99.75 L522.86,94.18 Z" fill="#606060"/>
<path d="M535.3,24.5 L535.3,69.0 L580.5,69.0" stroke="#dcdcdc" stroke-width="1.1" fill="none"/>
<path d="M542.3 36.9h.1M539.3 36.2h.1M541.1 33.0h.1M546.6 34.1h.1M541.9 35.8h.1M545.4 33.7h.1M543.8 31.3h.1M540.8 32.6h.1M538.9 30.9h.1M537.7 33.3h.1M541.4 32.9h.1M542.2 30.6h.1M541.7 34.5h.1M544.3 31.6h.1M541.1 29.9h.1M540.9 29.9h.1M538.5 36.1h.1M537.5 35.2h.1M543.1 32.9h.1M543.5 35.3h.1M545.2 33.2h.1M540.1 32.2h.1M538.9 33.7h.1M539.7 36.4h.1M537.9 31.8h.1M540.0 30.1h.1M545.1 30.5h.1M541.0 32.3h.1M545.1 30.6h.1M545.1 32.0h.1M541.5 31.9h.1M543.9 31.0h.1M541.7 34.8h.1M545.0 30.5h.1M545.8 35.8h.1M540.4 34.7h.1M540.8 37.3h.1M542.7 33.2h.1M541.2 33.2h.1M541.4 31.4h.1M545.6 31.0h.1M537.0 33.7h.1M541.5 34.9h.1M541.3 33.4h.1M543.0 36.3h.1" fill="none" stroke="#2f9a72" stroke-width="1.3" stroke-linecap="round" opacity="0.8"/>
<path d="M541.6 45.0h.1M547.9 48.3h.1M541.2 52.6h.1M545.7 44.2h.1M539.6 47.9h.1M540.7 42.7h.1M539.4 44.8h.1M546.6 45.0h.1M539.2 49.0h.1M543.4 50.3h.1M546.9 46.0h.1M542.7 46.5h.1M539.8 49.3h.1M547.2 47.4h.1M542.3 45.5h.1M540.7 43.5h.1M541.9 43.2h.1M542.0 41.2h.1M544.5 46.9h.1M540.9 40.9h.1M543.2 51.2h.1M540.7 44.6h.1M541.3 49.5h.1M540.5 50.4h.1M542.2 50.6h.1M543.3 45.6h.1M539.2 44.3h.1M542.3 49.6h.1M544.0 43.7h.1M544.5 50.7h.1M542.7 44.7h.1M541.9 50.1h.1M544.9 42.9h.1M544.5 44.6h.1M541.0 51.3h.1M545.8 43.8h.1M543.5 49.0h.1M541.0 46.2h.1M544.9 41.0h.1M544.3 49.9h.1M544.7 41.7h.1M544.3 43.1h.1M545.1 49.3h.1M543.9 43.4h.1M541.3 50.2h.1M540.3 48.7h.1M545.0 45.5h.1M548.2 46.9h.1M547.0 42.2h.1M538.6 49.3h.1M545.4 45.3h.1M543.1 40.7h.1M541.3 42.6h.1M542.5 50.4h.1M543.4 48.4h.1M540.8 44.8h.1M543.6 45.4h.1M546.8 43.6h.1M547.6 43.8h.1M546.4 43.7h.1M547.7 47.2h.1M544.5 49.9h.1M541.2 42.6h.1M538.9 50.0h.1M540.9 44.2h.1M543.1 52.8h.1M538.6 47.5h.1M541.8 49.1h.1M538.6 45.4h.1M545.4 51.9h.1" fill="none" stroke="#8cc6ee" stroke-width="1.3" stroke-linecap="round" opacity="0.8"/>
<path d="M561.6 39.9h.1M555.6 44.4h.1M550.2 36.7h.1M559.3 47.5h.1M554.6 54.8h.1M550.4 49.6h.1M555.4 44.9h.1M558.0 47.0h.1M556.8 47.8h.1M562.6 43.5h.1M560.2 50.1h.1M553.5 52.1h.1M551.5 53.8h.1M551.2 41.4h.1M557.0 52.3h.1M559.5 52.2h.1M554.3 37.6h.1M558.3 48.0h.1M551.0 52.6h.1M556.3 37.6h.1M557.3 35.7h.1M550.9 48.7h.1M548.6 45.7h.1M549.4 50.6h.1M551.5 47.0h.1M548.8 43.0h.1M560.0 49.1h.1M548.6 50.9h.1M559.8 42.3h.1M561.0 38.5h.1M554.9 54.2h.1M560.5 53.6h.1M551.4 35.0h.1M557.0 35.2h.1M554.7 35.7h.1M560.2 51.4h.1M558.3 45.6h.1M555.6 42.7h.1M557.4 47.6h.1M557.8 41.6h.1M562.6 47.2h.1M560.6 53.6h.1M551.9 34.9h.1M561.1 42.5h.1M555.8 43.0h.1M555.9 36.2h.1M554.7 41.3h.1M555.2 32.8h.1M559.5 48.2h.1M548.6 40.8h.1M555.5 50.9h.1M555.3 55.6h.1M555.4 37.2h.1M551.9 51.5h.1M552.3 52.2h.1M560.2 50.0h.1M560.4 44.0h.1M555.2 40.2h.1M552.8 34.9h.1M552.7 37.1h.1M548.9 46.5h.1M557.8 42.4h.1M561.0 51.8h.1M560.3 40.7h.1M548.9 49.3h.1M556.9 51.6h.1M557.2 54.8h.1M553.8 51.2h.1M552.5 33.6h.1M553.4 55.9h.1M549.0 51.6h.1M551.7 42.0h.1M555.5 47.3h.1M550.4 46.4h.1M557.6 52.3h.1M552.2 55.7h.1M560.2 55.6h.1M549.2 46.7h.1M548.1 47.8h.1M557.9 36.7h.1M548.6 46.7h.1M558.4 39.0h.1M554.5 32.7h.1M551.5 46.7h.1M555.9 56.4h.1M551.8 34.0h.1M557.7 40.3h.1M556.8 51.5h.1M557.9 55.5h.1M560.1 35.8h.1M555.1 57.5h.1M553.3 53.2h.1M555.0 41.6h.1M561.4 51.9h.1M554.1 52.9h.1M549.5 40.2h.1M559.9 45.7h.1M550.2 48.9h.1M556.8 55.0h.1M560.1 43.1h.1M552.6 44.2h.1M554.3 55.9h.1M561.0 53.4h.1M557.4 43.2h.1M559.9 42.5h.1M556.3 34.2h.1M553.4 55.7h.1M551.2 35.8h.1M554.6 56.6h.1M561.7 42.8h.1M552.7 44.4h.1M550.6 45.7h.1M554.0 34.9h.1M552.2 43.2h.1M551.4 37.2h.1M558.6 56.5h.1M553.7 41.6h.1M558.0 43.4h.1M552.0 55.0h.1M550.4 39.8h.1M552.0 38.4h.1M554.0 50.4h.1M561.4 50.0h.1M555.5 35.8h.1M555.0 37.6h.1M554.8 53.4h.1M556.4 43.5h.1M551.3 45.2h.1M555.9 37.7h.1M552.8 52.6h.1M548.5 42.5h.1M550.9 55.0h.1M558.5 49.8h.1M557.5 48.0h.1M556.5 34.5h.1M556.7 50.6h.1M549.3 51.0h.1M558.1 35.1h.1M552.7 42.7h.1M552.5 48.8h.1M549.4 43.7h.1M556.5 51.6h.1M555.6 43.2h.1M557.8 33.8h.1M560.0 42.9h.1M549.5 42.2h.1M550.0 35.8h.1M553.6 38.8h.1M558.8 38.4h.1M549.8 38.8h.1M562.3 45.6h.1M552.4 37.6h.1M549.9 44.1h.1M557.3 54.3h.1M560.8 47.5h.1M552.1 38.5h.1M548.1 40.3h.1M557.6 42.4h.1M557.0 35.5h.1M559.9 47.8h.1M555.5 49.0h.1M547.8 42.4h.1M552.0 56.3h.1M554.3 40.9h.1M559.2 37.6h.1M561.4 40.5h.1M555.0 37.8h.1M558.0 33.6h.1M558.7 38.8h.1M555.5 36.4h.1" fill="none" stroke="#5577bb" stroke-width="1.3" stroke-linecap="round" opacity="0.8"/>
<path d="M560.3 28.5h.1M561.1 28.8h.1M561.0 30.0h.1M558.9 25.9h.1M557.1 29.3h.1M558.9 30.2h.1M559.8 26.1h.1M561.1 30.9h.1M559.3 26.2h.1M557.9 29.8h.1M558.3 27.2h.1M561.3 28.1h.1M560.0 26.9h.1M558.2 28.5h.1M560.1 29.4h.1M558.5 28.8h.1M560.9 28.3h.1M560.9 30.1h.1M560.2 28.3h.1M557.5 28.8h.1M559.5 27.4h.1M557.8 29.3h.1" fill="none" stroke="#7a4fb0" stroke-width="1.3" stroke-linecap="round" opacity="0.8"/>
<circle cx="552.80" cy="29.20" r="0.8" fill="#7a4fb0" stroke="none" stroke-width="0.5"/>
<path d="M578.3 37.7h.1M572.8 38.6h.1M570.0 37.0h.1M569.8 33.9h.1M573.4 37.7h.1M572.0 33.2h.1M573.4 32.2h.1M575.5 35.1h.1M572.4 40.0h.1M574.3 31.8h.1M571.4 38.3h.1M569.9 30.7h.1M572.1 36.4h.1M574.2 37.0h.1M573.0 37.7h.1M577.1 38.4h.1M574.6 34.9h.1M576.6 35.9h.1M574.3 30.6h.1M573.4 36.2h.1M570.8 41.4h.1M574.1 36.0h.1M570.9 42.5h.1M575.3 39.3h.1M569.9 41.3h.1M574.7 35.4h.1M572.1 31.0h.1M574.7 32.4h.1M575.7 34.8h.1M569.9 38.2h.1M573.2 32.1h.1M572.1 39.3h.1M571.5 31.6h.1M571.5 32.6h.1M570.0 36.8h.1M572.2 35.6h.1M567.2 37.8h.1M571.6 34.8h.1M572.9 42.6h.1M568.8 31.8h.1M575.2 33.4h.1M576.6 33.2h.1M570.5 40.1h.1M575.9 38.4h.1M574.3 36.0h.1M570.6 35.7h.1M576.7 39.2h.1M572.5 38.1h.1M575.2 40.9h.1M571.8 36.2h.1M573.2 43.0h.1M573.3 41.5h.1M567.7 39.4h.1M568.1 33.0h.1M569.8 36.0h.1M573.2 38.3h.1M573.3 34.6h.1M578.3 37.6h.1M574.2 42.5h.1M576.0 38.9h.1M573.3 42.5h.1M568.7 33.1h.1M572.8 30.5h.1M569.7 40.8h.1M570.5 37.3h.1M574.8 32.2h.1M573.5 33.8h.1M568.4 35.5h.1M572.2 34.8h.1M570.0 40.4h.1M576.5 38.7h.1M572.0 32.3h.1M569.6 32.5h.1M573.2 40.4h.1M575.9 36.5h.1M570.8 37.4h.1M572.9 39.2h.1M577.1 34.2h.1M576.7 32.0h.1M567.9 32.5h.1" fill="none" stroke="#c85ab8" stroke-width="1.3" stroke-linecap="round" opacity="0.8"/>
<path d="M566.0 43.5h.1M571.6 42.6h.1M570.7 43.1h.1M568.6 40.9h.1M571.8 44.1h.1M567.4 49.1h.1M568.8 45.7h.1M568.0 41.4h.1M565.4 43.7h.1M571.4 45.3h.1M567.9 47.6h.1M566.5 47.9h.1M568.3 41.4h.1M569.9 45.9h.1M567.4 45.0h.1M570.1 47.9h.1M567.2 39.3h.1M571.7 43.6h.1M567.3 45.7h.1M567.3 47.5h.1M565.6 43.6h.1M566.1 47.9h.1M567.7 47.7h.1M570.8 41.2h.1M567.8 46.6h.1M568.4 43.7h.1M570.1 47.0h.1M566.8 43.7h.1M569.9 44.9h.1M568.6 40.7h.1M571.6 43.6h.1M569.0 44.1h.1M568.5 44.7h.1M566.3 45.4h.1M570.9 45.4h.1M570.0 45.8h.1" fill="none" stroke="#c8504c" stroke-width="1.3" stroke-linecap="round" opacity="0.8"/>
<path d="M570.3 59.3h.1M564.9 59.6h.1M574.3 53.4h.1M562.0 57.5h.1M574.1 50.4h.1M569.1 57.5h.1M566.8 53.0h.1M560.1 61.2h.1M563.5 58.5h.1M569.1 56.3h.1M561.5 57.1h.1M572.6 51.8h.1M562.2 56.2h.1M569.5 52.2h.1M563.6 61.0h.1M570.9 56.4h.1M562.8 55.4h.1M562.5 59.1h.1M565.9 60.4h.1M568.9 52.9h.1M571.5 53.8h.1M567.2 60.1h.1M562.3 62.3h.1M570.5 50.9h.1M566.9 56.7h.1M561.7 58.8h.1M563.7 59.4h.1M564.2 54.5h.1M575.2 54.3h.1M565.0 60.8h.1M574.0 50.0h.1M565.1 56.6h.1M571.2 53.5h.1M563.6 62.1h.1M567.4 59.1h.1M575.9 50.1h.1M567.2 59.7h.1M568.4 57.9h.1M570.4 59.7h.1M572.5 54.7h.1M569.6 56.7h.1M560.4 60.6h.1M570.6 51.7h.1M568.4 55.9h.1M568.6 60.7h.1M572.9 54.4h.1M563.8 59.4h.1M566.3 57.2h.1M571.1 59.1h.1M575.1 55.6h.1M574.1 56.9h.1M563.5 55.9h.1M570.0 56.1h.1M567.6 54.7h.1M573.1 57.3h.1M569.4 54.9h.1M574.2 51.7h.1M566.6 58.4h.1M562.8 62.7h.1M568.4 57.9h.1M570.8 56.0h.1M564.8 62.1h.1M572.2 54.8h.1M575.8 49.9h.1M572.5 53.4h.1M564.6 62.2h.1M561.0 61.2h.1M568.1 57.1h.1M565.5 61.4h.1M568.1 53.0h.1M562.3 60.8h.1M562.8 61.0h.1M569.5 53.7h.1M560.0 58.9h.1M569.8 53.8h.1" fill="none" stroke="#9a6a5a" stroke-width="1.3" stroke-linecap="round" opacity="0.8"/>
<path d="M552.7 62.6h.1M549.6 65.4h.1M548.7 64.4h.1M551.4 63.1h.1M549.5 62.5h.1M552.9 63.8h.1M549.7 59.5h.1M547.0 60.7h.1M548.5 62.2h.1M545.3 62.8h.1M550.7 66.1h.1M546.9 66.2h.1M546.5 65.2h.1M546.1 66.0h.1M553.0 63.0h.1M551.2 60.6h.1M547.3 67.5h.1M548.2 65.0h.1M544.3 63.5h.1M546.3 66.3h.1M547.4 67.5h.1M545.2 64.3h.1M544.0 62.7h.1M551.9 63.2h.1M544.9 64.7h.1M551.2 64.7h.1M550.8 60.5h.1M552.5 64.9h.1M544.9 66.3h.1M546.9 64.9h.1M544.1 62.3h.1M544.3 65.1h.1M547.7 61.0h.1M547.3 66.3h.1M546.0 65.0h.1M545.8 60.3h.1M546.8 62.7h.1M548.9 66.0h.1M547.1 62.5h.1M550.8 64.7h.1" fill="none" stroke="#d8c532" stroke-width="1.3" stroke-linecap="round" opacity="0.8"/>
<text x="558.90" y="80.70" font-size="9.4" text-anchor="middle" fill="#222" stroke="#222" stroke-width="0.18" textLength="44.6" lengthAdjust="spacingAndGlyphs">UMAP Plot</text>
<rect x="594.90" y="37.70" width="6.62" height="2.68" fill="#f4c274"/>
<rect x="601.47" y="37.70" width="6.62" height="2.68" fill="#f8dcaa"/>
<rect x="608.04" y="37.70" width="6.62" height="2.68" fill="#f1a12c"/>
<rect x="614.61" y="37.70" width="6.62" height="2.68" fill="#f8dcaa"/>
<rect x="621.18" y="37.70" width="6.62" height="2.68" fill="#f8dcaa"/>
<rect x="627.75" y="37.70" width="6.62" height="2.68" fill="#f8dcaa"/>
<rect x="634.32" y="37.70" width="6.62" height="2.68" fill="#f1a12c"/>
<rect x="640.89" y="37.70" width="6.62" height="2.68" fill="#f1a12c"/>
<rect x="647.46" y="37.70" width="6.62" height="2.68" fill="#f8dcaa"/>
<rect x="654.03" y="37.70" width="6.62" height="2.68" fill="#f4c274"/>
<rect x="594.90" y="40.33" width="6.62" height="2.68" fill="#f4c274"/>
<rect x="601.47" y="40.33" width="6.62" height="2.68" fill="#f8dcaa"/>
<rect x="608.04" y="40.33" width="6.62" height="2.68" fill="#f8dcaa"/>
<rect x="614.61" y="40.33" width="6.62" height="2.68" fill="#f1a12c"/>
<rect x="621.18" y="40.33" width="6.62" height="2.68" fill="#f8dcaa"/>
<rect x="627.75" y="40.33" width="6.62" height="2.68" fill="#f4c274"/>
<rect x="634.32" y="40.33" width="6.62" height="2.68" fill="#f8dcaa"/>
<rect x="640.89" y="40.33" width="6.62" height="2.68" fill="#fdf5e4"/>
<rect x="647.46" y="40.33" width="6.62" height="2.68" fill="#f8dcaa"/>
<rect x="654.03" y="40.33" width="6.62" height="2.68" fill="#f8dcaa"/>
<rect x="594.90" y="42.96" width="6.62" height="2.68" fill="#f1a12c"/>
<rect x="601.47" y="42.96" width="6.62" height="2.68" fill="#f4c274"/>
<rect x="608.04" y="42.96" width="6.62" height="2.68" fill="#f1a12c"/>
<rect x="614.61" y="42.96" width="6.62" height="2.68" fill="#f1a12c"/>
<rect x="621.18" y="42.96" width="6.62" height="2.68" fill="#f1a12c"/>
<rect x="627.75" y="42.96" width="6.62" height="2.68" fill="#fdf5e4"/>
<rect x="634.32" y="42.96" width="6.62" height="2.68" fill="#f8dcaa"/>
<rect x="640.89" y="42.96" width="6.62" height="2.68" fill="#f8dcaa"/>
<rect x="647.46" y="42.96" width="6.62" height="2.68" fill="#fdf5e4"/>
<rect x="654.03" y="42.96" width="6.62" height="2.68" fill="#f1a12c"/>
<rect x="594.90" y="45.59" width="6.62" height="2.68" fill="#f1a12c"/>
<rect x="601.47" y="45.59" width="6.62" height="2.68" fill="#f4c274"/>
<rect x="608.04" y="45.59" width="6.62" height="2.68" fill="#f8dcaa"/>
<rect x="614.61" y="45.59" width="6.62" height="2.68" fill="#f8dcaa"/>
<rect x="621.18" y="45.59" width="6.62" height="2.68" fill="#fdf5e4"/>
<rect x="627.75" y="45.59" width="6.62" height="2.68" fill="#f8dcaa"/>
<rect x="634.32" y="45.59" width="6.62" height="2.68" fill="#f8dcaa"/>
<rect x="640.89" y="45.59" width="6.62" height="2.68" fill="#fdf5e4"/>
<rect x="647.46" y="45.59" width="6.62" height="2.68" fill="#fdf5e4"/>
<rect x="654.03" y="45.59" width="6.62" height="2.68" fill="#f8dcaa"/>
<rect x="594.90" y="48.22" width="6.62" height="2.68" fill="#f1a12c"/>
<rect x="601.47" y="48.22" width="6.62" height="2.68" fill="#f8dcaa"/>
<rect x="608.04" y="48.22" width="6.62" height="2.68" fill="#f8dcaa"/>
<rect x="614.61" y="48.22" width="6.62" height="2.68" fill="#fdf5e4"/>
<rect x="621.18" y="48.22" width="6.62" height="2.68" fill="#f8dcaa"/>
<rect x="627.75" y="48.22" width="6.62" height="2.68" fill="#fdf5e4"/>
<rect x="634.32" y="48.22" width="6.62" height="2.68" fill="#f8dcaa"/>
<rect x="640.89" y="48.22" width="6.62" height="2.68" fill="#f1a12c"/>
<rect x="647.46" y="48.22" width="6.62" height="2.68" fill="#f8dcaa"/>
<rect x="654.03" y="48.22" width="6.62" height="2.68" fill="#f8dcaa"/>
<rect x="594.90" y="50.85" width="6.62" height="2.68" fill="#f1a12c"/>
<rect x="601.47" y="50.85" width="6.62" height="2.68" fill="#f4c274"/>
<rect x="608.04" y="50.85" width="6.62" height="2.68" fill="#f1a12c"/>
<rect x="614.61" y="50.85" width="6.62" height="2.68" fill="#f8dcaa"/>
<rect x="621.18" y="50.85" width="6.62" height="2.68" fill="#f8dcaa"/>
<rect x="627.75" y="50.85" width="6.62" height="2.68" fill="#f8dcaa"/>
<rect x="634.32" y="50.85" width="6.62" height="2.68" fill="#f8dcaa"/>
<rect x="640.89" y="50.85" width="6.62" height="2.68" fill="#f4c274"/>
<rect x="647.46" y="50.85" width="6.62" height="2.68" fill="#f4c274"/>
<rect x="654.03" y="50.85" width="6.62" height="2.68" fill="#f8dcaa"/>
<rect x="594.90" y="53.48" width="6.62" height="2.68" fill="#f1a12c"/>
<rect x="601.47" y="53.48" width="6.62" height="2.68" fill="#f4c274"/>
<rect x="608.04" y="53.48" width="6.62" height="2.68" fill="#fdf5e4"/>
<rect x="614.61" y="53.48" width="6.62" height="2.68" fill="#f4c274"/>
<rect x="621.18" y="53.48" width="6.62" height="2.68" fill="#f8dcaa"/>
<rect x="627.75" y="53.48" width="6.62" height="2.68" fill="#f4c274"/>
<rect x="634.32" y="53.48" width="6.62" height="2.68" fill="#f4c274"/>
<rect x="640.89" y="53.48" width="6.62" height="2.68" fill="#f8dcaa"/>
<rect x="647.46" y="53.48" width="6.62" height="2.68" fill="#f1a12c"/>
<rect x="654.03" y="53.48" width="6.62" height="2.68" fill="#f8dcaa"/>
<rect x="594.90" y="56.11" width="6.62" height="2.68" fill="#f4c274"/>
<rect x="601.47" y="56.11" width="6.62" height="2.68" fill="#fdf5e4"/>
<rect x="608.04" y="56.11" width="6.62" height="2.68" fill="#f8dcaa"/>
<rect x="614.61" y="56.11" width="6.62" height="2.68" fill="#fdf5e4"/>
<rect x="621.18" y="56.11" width="6.62" height="2.68" fill="#fdf5e4"/>
<rect x="627.75" y="56.11" width="6.62" height="2.68" fill="#fdf5e4"/>
<rect x="634.32" y="56.11" width="6.62" height="2.68" fill="#f4c274"/>
<rect x="640.89" y="56.11" width="6.62" height="2.68" fill="#f8dcaa"/>
<rect x="647.46" y="56.11" width="6.62" height="2.68" fill="#f4c274"/>
<rect x="654.03" y="56.11" width="6.62" height="2.68" fill="#f1a12c"/>
<rect x="594.90" y="58.74" width="6.62" height="2.68" fill="#f8dcaa"/>
<rect x="601.47" y="58.74" width="6.62" height="2.68" fill="#f8dcaa"/>
<rect x="608.04" y="58.74" width="6.62" height="2.68" fill="#f8dcaa"/>
<rect x="614.61" y="58.74" width="6.62" height="2.68" fill="#f1a12c"/>
<rect x="621.18" y="58.74" width="6.62" height="2.68" fill="#f8dcaa"/>
<rect x="627.75" y="58.74" width="6.62" height="2.68" fill="#f1a12c"/>
<rect x="634.32" y="58.74" width="6.62" height="2.68" fill="#f8dcaa"/>
<rect x="640.89" y="58.74" width="6.62" height="2.68" fill="#f4c274"/>
<rect x="647.46" y="58.74" width="6.62" height="2.68" fill="#f1a12c"/>
<rect x="654.03" y="58.74" width="6.62" height="2.68" fill="#f8dcaa"/>
<rect x="594.90" y="61.37" width="6.62" height="2.68" fill="#fdf5e4"/>
<rect x="601.47" y="61.37" width="6.62" height="2.68" fill="#f8dcaa"/>
<rect x="608.04" y="61.37" width="6.62" height="2.68" fill="#fdf5e4"/>
<rect x="614.61" y="61.37" width="6.62" height="2.68" fill="#f1a12c"/>
<rect x="621.18" y="61.37" width="6.62" height="2.68" fill="#f1a12c"/>
<rect x="627.75" y="61.37" width="6.62" height="2.68" fill="#f8dcaa"/>
<rect x="634.32" y="61.37" width="6.62" height="2.68" fill="#f4c274"/>
<rect x="640.89" y="61.37" width="6.62" height="2.68" fill="#f1a12c"/>
<rect x="647.46" y="61.37" width="6.62" height="2.68" fill="#f1a12c"/>
<rect x="654.03" y="61.37" width="6.62" height="2.68" fill="#f1a12c"/>
<path d="M594.9,30.0L604.2,30.0M594.9,30.0L594.9,37.7M604.2,30.0L604.2,34.4M601.5,34.4L607.5,34.4M601.5,34.4L601.5,37.7M607.5,34.4L607.5,37.7M617.9,30.6L632.2,30.6M617.9,30.6L617.9,34.4M614.6,34.4L621.8,34.4M614.6,34.4L614.6,37.7M621.8,34.4L621.8,37.7M632.2,30.6L632.2,33.3M626.7,33.3L634.9,33.3M626.7,33.3L626.7,37.7M634.9,33.3L634.9,34.4M633.2,34.4L640.9,34.4M633.2,34.4L633.2,37.7M640.9,34.4L640.9,37.7M647.5,32.2L656.8,32.2M647.5,32.2L647.5,37.7M656.8,32.2L656.8,34.4M654.1,34.4L660.1,34.4M654.1,34.4L654.1,37.7M660.1,34.4L660.1,37.7M599.9,28.4L652.4,28.4M599.9,28.4L599.9,30.0M625.0,28.4L625.0,30.6M652.4,28.4L652.4,32.2" stroke="#a8a8a8" stroke-width="0.55" fill="none"/>
<text x="627.80" y="80.60" font-size="9.4" text-anchor="middle" fill="#222" stroke="#222" stroke-width="0.18" textLength="68.0" lengthAdjust="spacingAndGlyphs">Feature Analysis</text>
<rect x="607.4" y="88.2" width="40.3" height="10.6" fill="#b8f5b0" opacity="0.6"/>
<text x="607.4" y="98.6" font-size="11.5" font-weight="bold" textLength="40.3" lengthAdjust="spacingAndGlyphs" transform="translate(0,-7.5) scale(1,1.08)" style="font-family:"Liberation Sans", sans-serif"><tspan fill="#2ee02e">C</tspan><tspan fill="#111">A</tspan><tspan fill="#2ee02e">S</tspan><tspan fill="#2ee02e">S</tspan><tspan fill="#d040d0">L</tspan><tspan fill="#2ee02e">G</tspan><tspan fill="#7a3ad0">Q</tspan><tspan fill="#2ee02e">G</tspan><tspan fill="#2ee02e">A</tspan><tspan fill="#2ee02e">Y</tspan><tspan fill="#e03ad8">E</tspan><tspan fill="#b03ab0">Q</tspan><tspan fill="#2ee02e">Y</tspan><tspan fill="#111">F</tspan></text>
<rect x="606.3" y="101.5" width="40.2" height="37.8" fill="#fff" stroke="#555" stroke-width="0.75"/>
<rect x="614.85" y="137.80" width="0.9" height="1.20" fill="#a66"/>
<rect x="616.55" y="136.50" width="0.9" height="2.50" fill="#6a2a4a"/>
<rect x="617.75" y="135.00" width="0.9" height="4.00" fill="#b070a0"/>
<rect x="619.15" y="119.70" width="0.9" height="19.30" fill="#f0e060"/>
<rect x="620.05" y="126.70" width="0.9" height="12.30" fill="#8a3040"/>
<rect x="621.05" y="125.00" width="0.9" height="14.00" fill="#b080b0"/>
<rect x="621.85" y="112.00" width="0.9" height="27.00" fill="#f0e060"/>
<rect x="622.75" y="117.00" width="0.9" height="22.00" fill="#8a3040"/>
<rect x="623.65" y="132.00" width="0.9" height="7.00" fill="#4a1a40"/>
<rect x="624.95" y="103.00" width="0.9" height="36.00" fill="#a070b0"/>
<rect x="625.85" y="111.00" width="0.9" height="28.00" fill="#8a3040"/>
<rect x="627.15" y="104.00" width="0.9" height="35.00" fill="#f0e060"/>
<rect x="628.05" y="105.00" width="0.9" height="34.00" fill="#a070b0"/>
<rect x="628.65" y="121.40" width="0.9" height="17.60" fill="#4a1a40"/>
<rect x="630.15" y="121.40" width="0.9" height="17.60" fill="#8a3040"/>
<rect x="630.85" y="127.00" width="0.9" height="12.00" fill="#b080b0"/>
<rect x="631.55" y="128.50" width="0.9" height="10.50" fill="#f0e060"/>
<rect x="632.65" y="130.60" width="0.9" height="8.40" fill="#8a3040"/>
<rect x="634.15" y="134.00" width="0.9" height="5.00" fill="#f0e060"/>
<rect x="635.45" y="136.00" width="0.9" height="3.00" fill="#6a2a4a"/>
<rect x="637.65" y="136.00" width="0.9" height="3.00" fill="#a66"/>
<rect x="640.55" y="138.00" width="0.9" height="1.00" fill="#a66"/>
<rect x="642.55" y="138.00" width="0.9" height="1.00" fill="#a66"/>
<text x="628.10" y="150.30" font-size="9.4" text-anchor="middle" fill="#222" stroke="#222" stroke-width="0.18" textLength="74.4" lengthAdjust="spacingAndGlyphs">CDR3 Amino Acid</text>
<circle cx="562.7" cy="113.7" r="23.0" fill="#fff"/>
<path d="M540.99,121.29 A23.0,23.0 0 0 1 540.75,120.58 Q562.7,113.7 584.90,119.72 A23.0,23.0 0 0 1 584.73,120.30 Q562.7,113.7 540.99,121.29 Z" fill="#d8d8d8" opacity="0.55"/>
<path d="M541.82,104.05 A23.0,23.0 0 0 1 542.10,103.47 Q562.7,113.7 580.53,128.23 A23.0,23.0 0 0 1 580.20,128.63 Q562.7,113.7 541.82,104.05 Z" fill="#e0c0f0" opacity="0.55"/>
<path d="M540.83,120.83 A23.0,23.0 0 0 1 540.58,120.01 Q562.7,113.7 585.68,114.58 A23.0,23.0 0 0 1 585.65,115.27 Q562.7,113.7 540.83,120.83 Z" fill="#c8c8e8" opacity="0.55"/>
<path d="M539.82,116.06 A23.0,23.0 0 0 1 539.79,115.69 Q562.7,113.7 585.54,116.43 A23.0,23.0 0 0 1 585.50,116.73 Q562.7,113.7 539.82,116.06 Z" fill="#f0d0c0" opacity="0.55"/>
<path d="M540.93,106.27 A23.0,23.0 0 0 1 541.20,105.53 Q562.7,113.7 581.83,126.47 A23.0,23.0 0 0 1 581.47,126.99 Q562.7,113.7 540.93,106.27 Z" fill="#d8d8d8" opacity="0.55"/>
<path d="M543.82,100.56 A23.0,23.0 0 0 1 544.36,99.82 Q562.7,113.7 584.43,121.22 A23.0,23.0 0 0 1 584.18,121.91 Q562.7,113.7 543.82,100.56 Z" fill="#e0c0f0" opacity="0.55"/>
<path d="M539.71,114.21 A23.0,23.0 0 0 1 539.70,113.52 Q562.7,113.7 581.18,127.39 A23.0,23.0 0 0 1 580.85,127.83 Q562.7,113.7 539.71,114.21 Z" fill="#c0e0f0" opacity="0.55"/>
<path d="M541.45,122.49 A23.0,23.0 0 0 1 541.23,121.96 Q562.7,113.7 581.27,127.27 A23.0,23.0 0 0 1 581.00,127.64 Q562.7,113.7 541.45,122.49 Z" fill="#e8c8d8" opacity="0.55"/>
<path d="M540.85,106.53 A23.0,23.0 0 0 1 541.13,105.71 Q562.7,113.7 582.01,101.20 A23.0,23.0 0 0 1 582.38,101.79 Q562.7,113.7 540.85,106.53 Z" fill="#c8c8e8" opacity="0.55"/>
<path d="M539.70,113.92 A23.0,23.0 0 0 1 539.70,113.36 Q562.7,113.7 585.64,115.37 A23.0,23.0 0 0 1 585.60,115.81 Q562.7,113.7 539.70,113.92 Z" fill="#d8d8d8" opacity="0.55"/>
<path d="M541.11,121.63 A23.0,23.0 0 0 1 540.90,121.03 Q562.7,113.7 585.09,118.96 A23.0,23.0 0 0 1 584.97,119.45 Q562.7,113.7 541.11,121.63 Z" fill="#f0d0c0" opacity="0.55"/>
<path d="M540.46,119.55 A23.0,23.0 0 0 1 540.34,119.10 Q562.7,113.7 583.96,122.47 A23.0,23.0 0 0 1 583.82,122.81 Q562.7,113.7 540.46,119.55 Z" fill="#f0d0c0" opacity="0.55"/>
<path d="M542.41,102.86 A23.0,23.0 0 0 1 542.82,102.13 Q562.7,113.7 584.26,121.71 A23.0,23.0 0 0 1 584.02,122.34 Q562.7,113.7 542.41,102.86 Z" fill="#e0c0f0" opacity="0.55"/>
<path d="M543.69,100.75 A23.0,23.0 0 0 1 544.10,100.17 Q562.7,113.7 581.69,100.73 A23.0,23.0 0 0 1 582.01,101.20 Q562.7,113.7 543.69,100.75 Z" fill="#e0c0f0" opacity="0.55"/>
<path d="M541.65,104.43 A23.0,23.0 0 0 1 542.05,103.57 Q562.7,113.7 583.73,104.38 A23.0,23.0 0 0 1 584.02,105.08 Q562.7,113.7 541.65,104.43 Z" fill="#e0c0f0" opacity="0.55"/>
<path d="M539.74,115.05 A23.0,23.0 0 0 1 539.71,114.43 Q562.7,113.7 585.29,109.40 A23.0,23.0 0 0 1 585.38,109.89 Q562.7,113.7 539.74,115.05 Z" fill="#d8d8d8" opacity="0.55"/>
<path d="M540.00,117.43 A23.0,23.0 0 0 1 539.93,116.93 Q562.7,113.7 585.69,113.20 A23.0,23.0 0 0 1 585.70,113.60 Q562.7,113.7 540.00,117.43 Z" fill="#f0d0c0" opacity="0.55"/>
<path d="M541.68,123.03 A23.0,23.0 0 0 1 541.29,122.11 Q562.7,113.7 584.64,120.60 A23.0,23.0 0 0 1 584.39,121.35 Q562.7,113.7 541.68,123.03 Z" fill="#d8d8d8" opacity="0.55"/>
<path d="M542.74,125.14 A23.0,23.0 0 0 1 542.39,124.50 Q562.7,113.7 581.68,100.71 A23.0,23.0 0 0 1 582.00,101.20 Q562.7,113.7 542.74,125.14 Z" fill="#e0c0f0" opacity="0.55"/>
<path d="M540.54,119.87 A23.0,23.0 0 0 1 540.37,119.19 Q562.7,113.7 585.43,117.18 A23.0,23.0 0 0 1 585.34,117.74 Q562.7,113.7 540.54,119.87 Z" fill="#e0c0f0" opacity="0.55"/>
<path d="M541.48,122.57 A23.0,23.0 0 0 1 541.20,121.87 Q562.7,113.7 585.06,119.10 A23.0,23.0 0 0 1 584.91,119.68 Q562.7,113.7 541.48,122.57 Z" fill="#f0d0c0" opacity="0.55"/>
<path d="M542.83,102.11 A23.0,23.0 0 0 1 543.21,101.49 Q562.7,113.7 585.17,108.81 A23.0,23.0 0 0 1 585.29,109.38 Q562.7,113.7 542.83,102.11 Z" fill="#c8e8c8" opacity="0.55"/>
<path d="M540.39,119.27 A23.0,23.0 0 0 1 540.17,118.35 Q562.7,113.7 583.28,103.44 A23.0,23.0 0 0 1 583.61,104.12 Q562.7,113.7 540.39,119.27 Z" fill="#e8c8d8" opacity="0.55"/>
<path d="M541.16,105.64 A23.0,23.0 0 0 1 541.45,104.91 Q562.7,113.7 585.35,109.70 A23.0,23.0 0 0 1 585.45,110.32 Q562.7,113.7 541.16,105.64 Z" fill="#c0e0f0" opacity="0.55"/>
<path d="M539.75,112.18 A23.0,23.0 0 0 1 539.79,111.70 Q562.7,113.7 585.14,118.73 A23.0,23.0 0 0 1 585.05,119.11 Q562.7,113.7 539.75,112.18 Z" fill="#e8c8d8" opacity="0.55"/>
<path d="M543.30,101.34 A23.0,23.0 0 0 1 543.81,100.58 Q562.7,113.7 585.52,116.60 A23.0,23.0 0 0 1 585.41,117.33 Q562.7,113.7 543.30,101.34 Z" fill="#d8d8d8" opacity="0.55"/>
<path d="M539.73,112.54 A23.0,23.0 0 0 1 539.80,111.58 Q562.7,113.7 585.08,119.01 A23.0,23.0 0 0 1 584.89,119.76 Q562.7,113.7 539.73,112.54 Z" fill="#e8c8d8" opacity="0.55"/>
<path d="M541.01,121.36 A23.0,23.0 0 0 1 540.74,120.53 Q562.7,113.7 581.67,100.69 A23.0,23.0 0 0 1 582.05,101.27 Q562.7,113.7 541.01,121.36 Z" fill="#f0d0c0" opacity="0.55"/>
<path d="M540.85,106.52 A23.0,23.0 0 0 1 541.02,106.03 Q562.7,113.7 581.45,100.37 A23.0,23.0 0 0 1 581.68,100.71 Q562.7,113.7 540.85,106.52 Z" fill="#f0d0c0" opacity="0.55"/>
<path d="M540.31,118.96 A23.0,23.0 0 0 1 540.18,118.37 Q562.7,113.7 584.72,107.05 A23.0,23.0 0 0 1 584.85,107.52 Q562.7,113.7 540.31,118.96 Z" fill="#e8c8d8" opacity="0.55"/>
<path d="M539.77,115.45 A23.0,23.0 0 0 1 539.72,114.69 Q562.7,113.7 582.69,125.07 A23.0,23.0 0 0 1 582.38,125.60 Q562.7,113.7 539.77,115.45 Z" fill="#e8c8d8" opacity="0.55"/>
<path d="M543.62,100.86 A23.0,23.0 0 0 1 543.98,100.33 Q562.7,113.7 584.36,121.44 A23.0,23.0 0 0 1 584.18,121.93 Q562.7,113.7 543.62,100.86 Z" fill="#c8e8c8" opacity="0.55"/>
<path d="M541.22,121.91 A23.0,23.0 0 0 1 540.90,121.03 Q562.7,113.7 585.20,118.49 A23.0,23.0 0 0 1 585.03,119.23 Q562.7,113.7 541.22,121.91 Z" fill="#d8d8d8" opacity="0.55"/>
<path d="M542.42,124.55 A23.0,23.0 0 0 1 542.02,123.76 Q562.7,113.7 583.87,104.70 A23.0,23.0 0 0 1 584.14,105.36 Q562.7,113.7 542.42,124.55 Z" fill="#f0d0c0" opacity="0.55"/>
<path d="M584.79,107.30 A23.0,23.0 0 0 1 585.13,108.59 Q562.7,113.7 541.01,121.35 A23.0,23.0 0 0 1 540.60,120.09 Q562.7,113.7 584.79,107.30 Z" fill="#f4b8d0" opacity="0.6"/>
<path d="M583.98,122.43 A23.0,23.0 0 0 1 583.67,123.14 Q562.7,113.7 543.50,101.03 A23.0,23.0 0 0 1 543.94,100.39 Q562.7,113.7 583.98,122.43 Z" fill="#a0e0a0" opacity="0.6"/>
<path d="M584.64,106.80 A23.0,23.0 0 0 1 584.88,107.63 Q562.7,113.7 540.99,106.10 A23.0,23.0 0 0 1 541.29,105.30 Q562.7,113.7 584.64,106.80 Z" fill="#d0a0f0" opacity="0.6"/>
<path d="M575.61,132.74 A23.0,23.0 0 0 1 574.67,133.34 Q562.7,113.7 550.31,133.08 A23.0,23.0 0 0 1 549.39,132.46 Q562.7,113.7 575.61,132.74 Z" fill="#d0a0f0" opacity="0.6"/>
<path d="M578.49,130.43 A23.0,23.0 0 0 1 577.96,130.91 Q562.7,113.7 539.76,111.98 A23.0,23.0 0 0 1 539.83,111.28 Q562.7,113.7 578.49,130.43 Z" fill="#f4b8d0" opacity="0.6"/>
<path d="M580.91,127.75 A23.0,23.0 0 0 1 580.56,128.19 Q562.7,113.7 542.65,102.43 A23.0,23.0 0 0 1 542.93,101.94 Q562.7,113.7 580.91,127.75 Z" fill="#d0a0f0" opacity="0.6"/>
<path d="M584.10,105.28 A23.0,23.0 0 0 1 584.26,105.69 Q562.7,113.7 547.81,131.23 A23.0,23.0 0 0 1 547.49,130.95 Q562.7,113.7 584.10,105.28 Z" fill="#f4b8d0" opacity="0.6"/>
<path d="M580.12,128.71 A23.0,23.0 0 0 1 579.76,129.12 Q562.7,113.7 548.57,131.85 A23.0,23.0 0 0 1 548.14,131.51 Q562.7,113.7 580.12,128.71 Z" fill="#a0e0a0" opacity="0.6"/>
<path d="M584.50,106.36 A23.0,23.0 0 0 1 584.74,107.11 Q562.7,113.7 539.70,114.00 A23.0,23.0 0 0 1 539.71,113.21 Q562.7,113.7 584.50,106.36 Z" fill="#f4b8d0" opacity="0.6"/>
<path d="M577.51,131.30 A23.0,23.0 0 0 1 577.03,131.69 Q562.7,113.7 539.94,110.37 A23.0,23.0 0 0 1 540.04,109.75 Q562.7,113.7 577.51,131.30 Z" fill="#f4b8d0" opacity="0.6"/>
<path d="M585.21,108.98 A23.0,23.0 0 0 1 585.44,110.27 Q562.7,113.7 541.35,105.14 A23.0,23.0 0 0 1 541.88,103.93 Q562.7,113.7 585.21,108.98 Z" fill="#f0a0c8" opacity="0.6"/>
<path d="M580.01,128.84 A23.0,23.0 0 0 1 579.37,129.55 Q562.7,113.7 550.90,133.44 A23.0,23.0 0 0 1 550.09,132.93 Q562.7,113.7 580.01,128.84 Z" fill="#f0a0c8" opacity="0.6"/>
<path d="M585.58,116.03 A23.0,23.0 0 0 1 585.39,117.45 Q562.7,113.7 539.72,112.75 A23.0,23.0 0 0 1 539.82,111.32 Q562.7,113.7 585.58,116.03 Z" fill="#d0a0f0" opacity="0.6"/>
<path d="M585.52,110.80 A23.0,23.0 0 0 1 585.60,111.58 Q562.7,113.7 540.66,107.11 A23.0,23.0 0 0 1 540.90,106.37 Q562.7,113.7 585.52,110.80 Z" fill="#f0a0c8" opacity="0.6"/>
<path d="M585.48,110.51 A23.0,23.0 0 0 1 585.62,111.78 Q562.7,113.7 545.83,129.33 A23.0,23.0 0 0 1 544.99,128.37 Q562.7,113.7 585.48,110.51 Z" fill="#a0e0a0" opacity="0.6"/>
<path d="M579.36,129.56 A23.0,23.0 0 0 1 578.66,130.26 Q562.7,113.7 542.46,102.78 A23.0,23.0 0 0 1 542.95,101.92 Q562.7,113.7 579.36,129.56 Z" fill="#f0a0c8" opacity="0.6"/>
<path d="M570.57,92.09 A23.0,23.0 0 0 1 578.96,97.44 Q562.7,113.7 569.42,135.70 A23.0,23.0 0 0 1 562.70,136.70 Q562.7,113.7 570.57,92.09 Z" fill="#f28aa6" opacity="0.9"/>
<path d="M550.85,93.99 A23.0,23.0 0 0 1 556.75,91.48 Q562.7,113.7 562.30,136.70 A23.0,23.0 0 0 1 557.14,136.02 Q562.7,113.7 550.85,93.99 Z" fill="#94ec86" opacity="0.9"/>
<path d="M557.92,91.20 A23.0,23.0 0 0 1 565.90,90.92 Q562.7,113.7 557.14,136.02 A23.0,23.0 0 0 1 546.44,129.96 Q562.7,113.7 557.92,91.20 Z" fill="#f0a6f4" opacity="0.8"/>
<path d="M547.61,96.34 A23.0,23.0 0 0 1 550.51,94.19 Q562.7,113.7 546.16,129.68 A23.0,23.0 0 0 1 542.78,125.20 Q562.7,113.7 547.61,96.34 Z" fill="#f8c0e0" opacity="0.7"/>
<path d="M560.70,90.79 Q562.7,113.7 566.69,136.35" stroke="#d05070" stroke-width="0.6" fill="none" opacity="0.7"/>
<path d="M554.83,92.09 Q562.7,113.7 558.71,136.35" stroke="#50a050" stroke-width="0.6" fill="none" opacity="0.7"/>
<path d="M539.87,105.39 A24.3,24.3 0 0 1 585.53,122.01" stroke="#a8daee" stroke-width="2.6" fill="none"/>
<path d="M585.53,122.01 A24.3,24.3 0 0 1 539.87,122.01" stroke="#eaa4b4" stroke-width="2.6" fill="none"/>
<path d="M539.87,122.01 A24.3,24.3 0 0 1 539.87,105.39" stroke="#d4c8cc" stroke-width="2.6" fill="none"/>
<text x="559.00" y="150.30" font-size="9.4" text-anchor="middle" fill="#222" stroke="#222" stroke-width="0.18" textLength="49.0" lengthAdjust="spacingAndGlyphs">TCR Chains</text>
<text x="13.00" y="190.40" font-size="12" text-anchor="start" font-weight="bold" fill="#000">b</text>
<defs><filter id="bl1" x="-50%" y="-50%" width="200%" height="200%"><feGaussianBlur stdDeviation="1.2"/></filter><filter id="bl2" x="-50%" y="-50%" width="200%" height="200%"><feGaussianBlur stdDeviation="0.6"/></filter></defs>
<rect x="62.8" y="206.5" width="75.80" height="74.80" fill="#fff" stroke="#8a8a8a" stroke-width="0.9"/>
<path d="M62.80,277.30 L60.80,277.30 M62.80,274.10 L61.80,274.10 M62.80,270.90 L61.80,270.90 M62.80,267.70 L61.80,267.70 M62.80,264.50 L61.80,264.50 M62.80,261.77 L60.80,261.77 M62.80,258.57 L61.80,258.57 M62.80,255.37 L61.80,255.37 M62.80,252.17 L61.80,252.17 M62.80,248.97 L61.80,248.97 M62.80,246.23 L60.80,246.23 M62.80,243.03 L61.80,243.03 M62.80,239.83 L61.80,239.83 M62.80,236.63 L61.80,236.63 M62.80,233.43 L61.80,233.43 M62.80,230.70 L60.80,230.70 M62.80,227.50 L61.80,227.50 M62.80,224.30 L61.80,224.30 M62.80,221.10 L61.80,221.10 M62.80,217.90 L61.80,217.90 M62.80,215.16 L60.80,215.16 M62.80,211.96 L61.80,211.96 M62.80,208.76 L61.80,208.76 M66.80,281.30 L66.80,283.30 M70.00,281.30 L70.00,282.30 M73.20,281.30 L73.20,282.30 M76.40,281.30 L76.40,282.30 M79.60,281.30 L79.60,282.30 M82.57,281.30 L82.57,283.30 M85.77,281.30 L85.77,282.30 M88.97,281.30 L88.97,282.30 M92.17,281.30 L92.17,282.30 M95.37,281.30 L95.37,282.30 M98.33,281.30 L98.33,283.30 M101.53,281.30 L101.53,282.30 M104.73,281.30 L104.73,282.30 M107.93,281.30 L107.93,282.30 M111.13,281.30 L111.13,282.30 M114.10,281.30 L114.10,283.30 M117.30,281.30 L117.30,282.30 M120.50,281.30 L120.50,282.30 M123.70,281.30 L123.70,282.30 M126.90,281.30 L126.90,282.30 M129.87,281.30 L129.87,283.30 M133.07,281.30 L133.07,282.30 M136.27,281.30 L136.27,282.30 " stroke="#555" stroke-width="0.5"/>
<rect x="61.20" y="261.85" width="1.2" height="2.2" fill="#333"/>
<rect x="79.48" y="281.70" width="3" height="1.2" fill="#333"/>
<rect x="167.5" y="206.5" width="76.20" height="74.80" fill="#fff" stroke="#8a8a8a" stroke-width="0.9"/>
<path d="M167.50,277.30 L165.50,277.30 M167.50,274.10 L166.50,274.10 M167.50,270.90 L166.50,270.90 M167.50,267.70 L166.50,267.70 M167.50,264.50 L166.50,264.50 M167.50,261.77 L165.50,261.77 M167.50,258.57 L166.50,258.57 M167.50,255.37 L166.50,255.37 M167.50,252.17 L166.50,252.17 M167.50,248.97 L166.50,248.97 M167.50,246.23 L165.50,246.23 M167.50,243.03 L166.50,243.03 M167.50,239.83 L166.50,239.83 M167.50,236.63 L166.50,236.63 M167.50,233.43 L166.50,233.43 M167.50,230.70 L165.50,230.70 M167.50,227.50 L166.50,227.50 M167.50,224.30 L166.50,224.30 M167.50,221.10 L166.50,221.10 M167.50,217.90 L166.50,217.90 M167.50,215.16 L165.50,215.16 M167.50,211.96 L166.50,211.96 M167.50,208.76 L166.50,208.76 M171.50,281.30 L171.50,283.30 M174.70,281.30 L174.70,282.30 M177.90,281.30 L177.90,282.30 M181.10,281.30 L181.10,282.30 M184.30,281.30 L184.30,282.30 M187.36,281.30 L187.36,283.30 M190.56,281.30 L190.56,282.30 M193.76,281.30 L193.76,282.30 M196.96,281.30 L196.96,282.30 M200.16,281.30 L200.16,282.30 M203.22,281.30 L203.22,283.30 M206.42,281.30 L206.42,282.30 M209.62,281.30 L209.62,282.30 M212.82,281.30 L212.82,282.30 M216.02,281.30 L216.02,282.30 M219.08,281.30 L219.08,283.30 M222.28,281.30 L222.28,282.30 M225.48,281.30 L225.48,282.30 M228.68,281.30 L228.68,282.30 M231.88,281.30 L231.88,282.30 M234.94,281.30 L234.94,283.30 M238.14,281.30 L238.14,282.30 M241.34,281.30 L241.34,282.30 " stroke="#555" stroke-width="0.5"/>
<rect x="165.90" y="261.85" width="1.2" height="2.2" fill="#333"/>
<rect x="184.26" y="281.70" width="3" height="1.2" fill="#333"/>
<rect x="283.1" y="206.5" width="74.60" height="74.80" fill="#fff" stroke="#555" stroke-width="0.9"/>
<path d="M283.10,277.30 L281.10,277.30 M283.10,274.10 L282.10,274.10 M283.10,270.90 L282.10,270.90 M283.10,267.70 L282.10,267.70 M283.10,264.50 L282.10,264.50 M283.10,261.77 L281.10,261.77 M283.10,258.57 L282.10,258.57 M283.10,255.37 L282.10,255.37 M283.10,252.17 L282.10,252.17 M283.10,248.97 L282.10,248.97 M283.10,246.23 L281.10,246.23 M283.10,243.03 L282.10,243.03 M283.10,239.83 L282.10,239.83 M283.10,236.63 L282.10,236.63 M283.10,233.43 L282.10,233.43 M283.10,230.70 L281.10,230.70 M283.10,227.50 L282.10,227.50 M283.10,224.30 L282.10,224.30 M283.10,221.10 L282.10,221.10 M283.10,217.90 L282.10,217.90 M283.10,215.16 L281.10,215.16 M283.10,211.96 L282.10,211.96 M283.10,208.76 L282.10,208.76 M287.10,281.30 L287.10,283.30 M290.30,281.30 L290.30,282.30 M293.50,281.30 L293.50,282.30 M296.70,281.30 L296.70,282.30 M299.90,281.30 L299.90,282.30 M302.59,281.30 L302.59,283.30 M305.79,281.30 L305.79,282.30 M308.99,281.30 L308.99,282.30 M312.19,281.30 L312.19,282.30 M315.39,281.30 L315.39,282.30 M318.08,281.30 L318.08,283.30 M321.28,281.30 L321.28,282.30 M324.48,281.30 L324.48,282.30 M327.68,281.30 L327.68,282.30 M330.88,281.30 L330.88,282.30 M333.57,281.30 L333.57,283.30 M336.77,281.30 L336.77,282.30 M339.97,281.30 L339.97,282.30 M343.17,281.30 L343.17,282.30 M346.37,281.30 L346.37,282.30 M349.05,281.30 L349.05,283.30 M352.25,281.30 L352.25,282.30 M355.45,281.30 L355.45,282.30 " stroke="#555" stroke-width="0.5"/>
<rect x="281.50" y="261.85" width="1.2" height="2.2" fill="#333"/>
<rect x="299.51" y="281.70" width="3" height="1.2" fill="#333"/>
<rect x="383.7" y="206.5" width="74.40" height="74.80" fill="#fff" stroke="#555" stroke-width="0.9"/>
<path d="M383.70,277.30 L381.70,277.30 M383.70,274.10 L382.70,274.10 M383.70,270.90 L382.70,270.90 M383.70,267.70 L382.70,267.70 M383.70,264.50 L382.70,264.50 M383.70,261.77 L381.70,261.77 M383.70,258.57 L382.70,258.57 M383.70,255.37 L382.70,255.37 M383.70,252.17 L382.70,252.17 M383.70,248.97 L382.70,248.97 M383.70,246.23 L381.70,246.23 M383.70,243.03 L382.70,243.03 M383.70,239.83 L382.70,239.83 M383.70,236.63 L382.70,236.63 M383.70,233.43 L382.70,233.43 M383.70,230.70 L381.70,230.70 M383.70,227.50 L382.70,227.50 M383.70,224.30 L382.70,224.30 M383.70,221.10 L382.70,221.10 M383.70,217.90 L382.70,217.90 M383.70,215.16 L381.70,215.16 M383.70,211.96 L382.70,211.96 M383.70,208.76 L382.70,208.76 M387.70,281.30 L387.70,283.30 M390.90,281.30 L390.90,282.30 M394.10,281.30 L394.10,282.30 M397.30,281.30 L397.30,282.30 M400.50,281.30 L400.50,282.30 M403.14,281.30 L403.14,283.30 M406.34,281.30 L406.34,282.30 M409.54,281.30 L409.54,282.30 M412.74,281.30 L412.74,282.30 M415.94,281.30 L415.94,282.30 M418.58,281.30 L418.58,283.30 M421.78,281.30 L421.78,282.30 M424.98,281.30 L424.98,282.30 M428.18,281.30 L428.18,282.30 M431.38,281.30 L431.38,282.30 M434.03,281.30 L434.03,283.30 M437.23,281.30 L437.23,282.30 M440.43,281.30 L440.43,282.30 M443.63,281.30 L443.63,282.30 M446.83,281.30 L446.83,282.30 M449.47,281.30 L449.47,283.30 M452.67,281.30 L452.67,282.30 M455.87,281.30 L455.87,282.30 " stroke="#555" stroke-width="0.5"/>
<rect x="382.10" y="261.85" width="1.2" height="2.2" fill="#333"/>
<rect x="400.07" y="281.70" width="3" height="1.2" fill="#333"/>
<rect x="484.0" y="206.5" width="75.00" height="74.80" fill="#fff" stroke="#555" stroke-width="0.9"/>
<path d="M484.00,277.30 L482.00,277.30 M484.00,274.10 L483.00,274.10 M484.00,270.90 L483.00,270.90 M484.00,267.70 L483.00,267.70 M484.00,264.50 L483.00,264.50 M484.00,261.77 L482.00,261.77 M484.00,258.57 L483.00,258.57 M484.00,255.37 L483.00,255.37 M484.00,252.17 L483.00,252.17 M484.00,248.97 L483.00,248.97 M484.00,246.23 L482.00,246.23 M484.00,243.03 L483.00,243.03 M484.00,239.83 L483.00,239.83 M484.00,236.63 L483.00,236.63 M484.00,233.43 L483.00,233.43 M484.00,230.70 L482.00,230.70 M484.00,227.50 L483.00,227.50 M484.00,224.30 L483.00,224.30 M484.00,221.10 L483.00,221.10 M484.00,217.90 L483.00,217.90 M484.00,215.16 L482.00,215.16 M484.00,211.96 L483.00,211.96 M484.00,208.76 L483.00,208.76 M488.00,281.30 L488.00,283.30 M491.20,281.30 L491.20,282.30 M494.40,281.30 L494.40,282.30 M497.60,281.30 L497.60,282.30 M500.80,281.30 L500.80,282.30 M503.58,281.30 L503.58,283.30 M506.78,281.30 L506.78,282.30 M509.98,281.30 L509.98,282.30 M513.18,281.30 L513.18,282.30 M516.38,281.30 L516.38,282.30 M519.16,281.30 L519.16,283.30 M522.36,281.30 L522.36,282.30 M525.56,281.30 L525.56,282.30 M528.76,281.30 L528.76,282.30 M531.96,281.30 L531.96,282.30 M534.74,281.30 L534.74,283.30 M537.94,281.30 L537.94,282.30 M541.14,281.30 L541.14,282.30 M544.34,281.30 L544.34,282.30 M547.54,281.30 L547.54,282.30 M550.33,281.30 L550.33,283.30 M553.53,281.30 L553.53,282.30 M556.73,281.30 L556.73,282.30 " stroke="#555" stroke-width="0.5"/>
<rect x="482.40" y="261.85" width="1.2" height="2.2" fill="#333"/>
<rect x="500.50" y="281.70" width="3" height="1.2" fill="#333"/>
<rect x="62.8" y="287.9" width="75.80" height="75.30" fill="#fff" stroke="#8a8a8a" stroke-width="0.9"/>
<path d="M62.80,359.20 L60.80,359.20 M62.80,356.00 L61.80,356.00 M62.80,352.80 L61.80,352.80 M62.80,349.60 L61.80,349.60 M62.80,346.40 L61.80,346.40 M62.80,343.55 L60.80,343.55 M62.80,340.35 L61.80,340.35 M62.80,337.15 L61.80,337.15 M62.80,333.95 L61.80,333.95 M62.80,330.75 L61.80,330.75 M62.80,327.90 L60.80,327.90 M62.80,324.70 L61.80,324.70 M62.80,321.50 L61.80,321.50 M62.80,318.30 L61.80,318.30 M62.80,315.10 L61.80,315.10 M62.80,312.25 L60.80,312.25 M62.80,309.05 L61.80,309.05 M62.80,305.85 L61.80,305.85 M62.80,302.65 L61.80,302.65 M62.80,299.45 L61.80,299.45 M62.80,296.60 L60.80,296.60 M62.80,293.40 L61.80,293.40 M62.80,290.20 L61.80,290.20 M66.80,363.20 L66.80,365.20 M70.00,363.20 L70.00,364.20 M73.20,363.20 L73.20,364.20 M76.40,363.20 L76.40,364.20 M79.60,363.20 L79.60,364.20 M82.57,363.20 L82.57,365.20 M85.77,363.20 L85.77,364.20 M88.97,363.20 L88.97,364.20 M92.17,363.20 L92.17,364.20 M95.37,363.20 L95.37,364.20 M98.33,363.20 L98.33,365.20 M101.53,363.20 L101.53,364.20 M104.73,363.20 L104.73,364.20 M107.93,363.20 L107.93,364.20 M111.13,363.20 L111.13,364.20 M114.10,363.20 L114.10,365.20 M117.30,363.20 L117.30,364.20 M120.50,363.20 L120.50,364.20 M123.70,363.20 L123.70,364.20 M126.90,363.20 L126.90,364.20 M129.87,363.20 L129.87,365.20 M133.07,363.20 L133.07,364.20 M136.27,363.20 L136.27,364.20 " stroke="#555" stroke-width="0.5"/>
<rect x="61.20" y="343.62" width="1.2" height="2.2" fill="#333"/>
<rect x="79.48" y="363.60" width="3" height="1.2" fill="#333"/>
<rect x="167.5" y="287.9" width="76.20" height="75.30" fill="#fff" stroke="#8a8a8a" stroke-width="0.9"/>
<path d="M167.50,359.20 L165.50,359.20 M167.50,356.00 L166.50,356.00 M167.50,352.80 L166.50,352.80 M167.50,349.60 L166.50,349.60 M167.50,346.40 L166.50,346.40 M167.50,343.55 L165.50,343.55 M167.50,340.35 L166.50,340.35 M167.50,337.15 L166.50,337.15 M167.50,333.95 L166.50,333.95 M167.50,330.75 L166.50,330.75 M167.50,327.90 L165.50,327.90 M167.50,324.70 L166.50,324.70 M167.50,321.50 L166.50,321.50 M167.50,318.30 L166.50,318.30 M167.50,315.10 L166.50,315.10 M167.50,312.25 L165.50,312.25 M167.50,309.05 L166.50,309.05 M167.50,305.85 L166.50,305.85 M167.50,302.65 L166.50,302.65 M167.50,299.45 L166.50,299.45 M167.50,296.60 L165.50,296.60 M167.50,293.40 L166.50,293.40 M167.50,290.20 L166.50,290.20 M171.50,363.20 L171.50,365.20 M174.70,363.20 L174.70,364.20 M177.90,363.20 L177.90,364.20 M181.10,363.20 L181.10,364.20 M184.30,363.20 L184.30,364.20 M187.36,363.20 L187.36,365.20 M190.56,363.20 L190.56,364.20 M193.76,363.20 L193.76,364.20 M196.96,363.20 L196.96,364.20 M200.16,363.20 L200.16,364.20 M203.22,363.20 L203.22,365.20 M206.42,363.20 L206.42,364.20 M209.62,363.20 L209.62,364.20 M212.82,363.20 L212.82,364.20 M216.02,363.20 L216.02,364.20 M219.08,363.20 L219.08,365.20 M222.28,363.20 L222.28,364.20 M225.48,363.20 L225.48,364.20 M228.68,363.20 L228.68,364.20 M231.88,363.20 L231.88,364.20 M234.94,363.20 L234.94,365.20 M238.14,363.20 L238.14,364.20 M241.34,363.20 L241.34,364.20 " stroke="#555" stroke-width="0.5"/>
<rect x="165.90" y="343.62" width="1.2" height="2.2" fill="#333"/>
<rect x="184.26" y="363.60" width="3" height="1.2" fill="#333"/>
<rect x="283.1" y="287.9" width="74.60" height="75.30" fill="#fff" stroke="#555" stroke-width="0.9"/>
<path d="M283.10,359.20 L281.10,359.20 M283.10,356.00 L282.10,356.00 M283.10,352.80 L282.10,352.80 M283.10,349.60 L282.10,349.60 M283.10,346.40 L282.10,346.40 M283.10,343.55 L281.10,343.55 M283.10,340.35 L282.10,340.35 M283.10,337.15 L282.10,337.15 M283.10,333.95 L282.10,333.95 M283.10,330.75 L282.10,330.75 M283.10,327.90 L281.10,327.90 M283.10,324.70 L282.10,324.70 M283.10,321.50 L282.10,321.50 M283.10,318.30 L282.10,318.30 M283.10,315.10 L282.10,315.10 M283.10,312.25 L281.10,312.25 M283.10,309.05 L282.10,309.05 M283.10,305.85 L282.10,305.85 M283.10,302.65 L282.10,302.65 M283.10,299.45 L282.10,299.45 M283.10,296.60 L281.10,296.60 M283.10,293.40 L282.10,293.40 M283.10,290.20 L282.10,290.20 M287.10,363.20 L287.10,365.20 M290.30,363.20 L290.30,364.20 M293.50,363.20 L293.50,364.20 M296.70,363.20 L296.70,364.20 M299.90,363.20 L299.90,364.20 M302.59,363.20 L302.59,365.20 M305.79,363.20 L305.79,364.20 M308.99,363.20 L308.99,364.20 M312.19,363.20 L312.19,364.20 M315.39,363.20 L315.39,364.20 M318.08,363.20 L318.08,365.20 M321.28,363.20 L321.28,364.20 M324.48,363.20 L324.48,364.20 M327.68,363.20 L327.68,364.20 M330.88,363.20 L330.88,364.20 M333.57,363.20 L333.57,365.20 M336.77,363.20 L336.77,364.20 M339.97,363.20 L339.97,364.20 M343.17,363.20 L343.17,364.20 M346.37,363.20 L346.37,364.20 M349.05,363.20 L349.05,365.20 M352.25,363.20 L352.25,364.20 M355.45,363.20 L355.45,364.20 " stroke="#555" stroke-width="0.5"/>
<rect x="281.50" y="343.62" width="1.2" height="2.2" fill="#333"/>
<rect x="299.51" y="363.60" width="3" height="1.2" fill="#333"/>
<rect x="383.7" y="287.9" width="74.40" height="75.30" fill="#fff" stroke="#555" stroke-width="0.9"/>
<path d="M383.70,359.20 L381.70,359.20 M383.70,356.00 L382.70,356.00 M383.70,352.80 L382.70,352.80 M383.70,349.60 L382.70,349.60 M383.70,346.40 L382.70,346.40 M383.70,343.55 L381.70,343.55 M383.70,340.35 L382.70,340.35 M383.70,337.15 L382.70,337.15 M383.70,333.95 L382.70,333.95 M383.70,330.75 L382.70,330.75 M383.70,327.90 L381.70,327.90 M383.70,324.70 L382.70,324.70 M383.70,321.50 L382.70,321.50 M383.70,318.30 L382.70,318.30 M383.70,315.10 L382.70,315.10 M383.70,312.25 L381.70,312.25 M383.70,309.05 L382.70,309.05 M383.70,305.85 L382.70,305.85 M383.70,302.65 L382.70,302.65 M383.70,299.45 L382.70,299.45 M383.70,296.60 L381.70,296.60 M383.70,293.40 L382.70,293.40 M383.70,290.20 L382.70,290.20 M387.70,363.20 L387.70,365.20 M390.90,363.20 L390.90,364.20 M394.10,363.20 L394.10,364.20 M397.30,363.20 L397.30,364.20 M400.50,363.20 L400.50,364.20 M403.14,363.20 L403.14,365.20 M406.34,363.20 L406.34,364.20 M409.54,363.20 L409.54,364.20 M412.74,363.20 L412.74,364.20 M415.94,363.20 L415.94,364.20 M418.58,363.20 L418.58,365.20 M421.78,363.20 L421.78,364.20 M424.98,363.20 L424.98,364.20 M428.18,363.20 L428.18,364.20 M431.38,363.20 L431.38,364.20 M434.03,363.20 L434.03,365.20 M437.23,363.20 L437.23,364.20 M440.43,363.20 L440.43,364.20 M443.63,363.20 L443.63,364.20 M446.83,363.20 L446.83,364.20 M449.47,363.20 L449.47,365.20 M452.67,363.20 L452.67,364.20 M455.87,363.20 L455.87,364.20 " stroke="#555" stroke-width="0.5"/>
<rect x="382.10" y="343.62" width="1.2" height="2.2" fill="#333"/>
<rect x="400.07" y="363.60" width="3" height="1.2" fill="#333"/>
<rect x="484.0" y="287.9" width="75.00" height="75.30" fill="#fff" stroke="#555" stroke-width="0.9"/>
<path d="M484.00,359.20 L482.00,359.20 M484.00,356.00 L483.00,356.00 M484.00,352.80 L483.00,352.80 M484.00,349.60 L483.00,349.60 M484.00,346.40 L483.00,346.40 M484.00,343.55 L482.00,343.55 M484.00,340.35 L483.00,340.35 M484.00,337.15 L483.00,337.15 M484.00,333.95 L483.00,333.95 M484.00,330.75 L483.00,330.75 M484.00,327.90 L482.00,327.90 M484.00,324.70 L483.00,324.70 M484.00,321.50 L483.00,321.50 M484.00,318.30 L483.00,318.30 M484.00,315.10 L483.00,315.10 M484.00,312.25 L482.00,312.25 M484.00,309.05 L483.00,309.05 M484.00,305.85 L483.00,305.85 M484.00,302.65 L483.00,302.65 M484.00,299.45 L483.00,299.45 M484.00,296.60 L482.00,296.60 M484.00,293.40 L483.00,293.40 M484.00,290.20 L483.00,290.20 M488.00,363.20 L488.00,365.20 M491.20,363.20 L491.20,364.20 M494.40,363.20 L494.40,364.20 M497.60,363.20 L497.60,364.20 M500.80,363.20 L500.80,364.20 M503.58,363.20 L503.58,365.20 M506.78,363.20 L506.78,364.20 M509.98,363.20 L509.98,364.20 M513.18,363.20 L513.18,364.20 M516.38,363.20 L516.38,364.20 M519.16,363.20 L519.16,365.20 M522.36,363.20 L522.36,364.20 M525.56,363.20 L525.56,364.20 M528.76,363.20 L528.76,364.20 M531.96,363.20 L531.96,364.20 M534.74,363.20 L534.74,365.20 M537.94,363.20 L537.94,364.20 M541.14,363.20 L541.14,364.20 M544.34,363.20 L544.34,364.20 M547.54,363.20 L547.54,364.20 M550.33,363.20 L550.33,365.20 M553.53,363.20 L553.53,364.20 M556.73,363.20 L556.73,364.20 " stroke="#555" stroke-width="0.5"/>
<rect x="482.40" y="343.62" width="1.2" height="2.2" fill="#333"/>
<rect x="500.50" y="363.60" width="3" height="1.2" fill="#333"/>
<path d="M92.8 262.8h.6M93.3 265.0h.6M93.1 259.3h.6M100.0 262.5h.6M91.7 263.5h.6M98.5 266.2h.6M104.8 263.5h.6M83.9 260.6h.6M98.7 266.6h.6M95.6 262.9h.6M103.0 259.4h.6M90.3 264.5h.6M108.1 262.6h.6M100.6 263.8h.6M106.7 260.3h.6M103.5 259.3h.6M81.3 265.5h.6M105.0 260.0h.6M107.7 260.6h.6M93.7 262.4h.6M96.7 265.3h.6M104.6 264.1h.6M104.7 264.4h.6M85.6 261.3h.6M88.0 264.5h.6M91.2 269.3h.6M82.7 260.3h.6M106.5 266.9h.6M102.6 265.4h.6M116.4 263.0h.6M73.7 261.8h.6M109.3 259.4h.6M95.5 263.9h.6M90.3 265.1h.6M103.7 269.2h.6M104.3 261.6h.6M86.6 261.0h.6M109.3 261.7h.6M93.9 265.1h.6M84.1 262.4h.6M67.4 260.4h.6M86.5 264.3h.6M112.9 263.2h.6M98.9 263.6h.6M111.3 265.5h.6M99.1 260.6h.6M108.6 264.2h.6M113.4 263.1h.6M124.3 262.3h.6M118.9 263.5h.6M87.3 260.3h.6M92.7 266.9h.6M107.2 265.0h.6M103.3 261.8h.6M85.6 263.2h.6M120.9 260.5h.6M88.6 266.7h.6M88.3 262.3h.6M96.5 260.0h.6M98.3 260.1h.6M108.3 263.2h.6M129.3 263.9h.6M115.5 259.8h.6M93.2 264.0h.6M121.2 258.8h.6M109.9 264.7h.6M118.0 265.1h.6M95.8 261.8h.6M76.3 263.7h.6M92.1 268.5h.6M85.8 264.0h.6M71.5 262.2h.6M98.9 265.3h.6M116.7 263.1h.6M78.2 264.4h.6M102.8 264.5h.6M84.5 266.1h.6M96.3 265.0h.6M114.1 264.8h.6M99.3 268.8h.6M98.7 262.4h.6M96.7 267.1h.6M96.8 264.6h.6M112.9 261.9h.6M69.1 264.0h.6M98.4 261.6h.6M108.1 264.8h.6M80.1 264.5h.6M92.1 259.3h.6M101.8 263.1h.6M83.8 264.6h.6M102.3 261.7h.6M101.0 265.8h.6M84.3 264.2h.6M95.0 269.1h.6M67.1 265.0h.6M90.4 262.9h.6M123.5 263.2h.6M128.6 262.1h.6M100.3 261.9h.6M84.6 263.4h.6M90.8 263.7h.6M92.5 267.7h.6M79.9 264.0h.6M72.6 261.8h.6M102.1 265.0h.6M114.4 262.5h.6M71.0 262.1h.6M113.6 264.4h.6M65.6 263.1h.6M116.0 268.7h.6M103.4 264.0h.6M76.4 261.0h.6M95.7 264.5h.6M103.7 262.0h.6M77.7 261.2h.6M77.6 264.9h.6M101.7 267.2h.6M96.1 265.8h.6M89.0 261.3h.6M84.9 267.2h.6M109.9 264.5h.6M104.3 264.0h.6M91.7 269.2h.6M117.6 259.6h.6M89.0 264.3h.6M106.7 259.7h.6M93.9 262.9h.6M100.2 261.2h.6M76.6 257.9h.6M99.9 264.2h.6M109.9 265.3h.6M92.1 266.7h.6M93.0 261.5h.6M87.2 261.7h.6M98.7 262.3h.6M84.3 264.2h.6M120.8 263.3h.6M87.4 261.7h.6M94.0 259.9h.6M93.1 263.4h.6M122.7 265.7h.6M110.5 261.3h.6M105.0 260.2h.6M99.7 264.3h.6M83.5 268.4h.6M103.5 258.3h.6M103.3 262.1h.6M95.0 264.4h.6M100.9 257.9h.6M77.6 265.2h.6M114.5 268.1h.6M122.0 257.9h.6M106.5 258.2h.6M119.2 263.9h.6M77.9 268.4h.6M104.7 258.3h.6M99.4 261.3h.6M96.7 262.0h.6M115.6 259.5h.6M99.8 267.9h.6M82.6 263.7h.6M98.0 261.4h.6M104.7 263.5h.6M80.8 267.8h.6M106.9 262.8h.6M85.4 261.2h.6M113.5 262.8h.6M101.9 262.7h.6M104.2 262.9h.6M106.5 262.7h.6M107.4 264.9h.6M93.3 261.0h.6M80.9 261.3h.6M80.2 265.5h.6M94.3 267.3h.6M129.2 263.3h.6M71.8 262.2h.6M93.9 259.3h.6M91.2 263.9h.6M88.1 261.2h.6M83.6 267.8h.6M92.6 261.0h.6M89.4 265.7h.6M84.7 264.5h.6M105.9 265.1h.6M116.0 261.8h.6M112.0 261.1h.6M89.1 266.3h.6M107.3 263.2h.6M77.1 264.7h.6M85.5 260.8h.6M85.3 263.8h.6M97.6 261.7h.6M110.6 264.8h.6M85.9 261.5h.6M105.4 259.3h.6M90.0 261.6h.6M96.0 263.7h.6M95.6 266.2h.6M98.4 262.4h.6M76.8 265.1h.6M102.9 267.0h.6M83.8 263.3h.6M94.1 263.0h.6M95.2 258.7h.6M107.4 264.9h.6M112.0 269.0h.6M90.2 263.1h.6M95.1 268.2h.6M69.0 264.5h.6M72.9 256.5h.6M64.7 259.6h.6M111.0 260.9h.6M91.6 260.2h.6M104.2 260.3h.6M114.8 260.6h.6M83.5 263.5h.6M95.4 266.9h.6M96.8 260.1h.6M86.6 261.7h.6M105.9 264.2h.6M93.2 265.5h.6M87.1 262.8h.6M97.7 267.2h.6M93.5 262.3h.6M79.3 265.0h.6M86.2 264.1h.6M66.5 265.9h.6M75.0 261.2h.6M110.9 259.7h.6M93.8 263.4h.6M80.0 266.7h.6M117.5 258.1h.6M73.3 265.3h.6M75.5 262.2h.6M96.9 265.0h.6M91.7 263.4h.6M83.3 266.6h.6M87.6 264.1h.6M87.3 263.5h.6M92.5 262.8h.6M79.8 265.3h.6M116.2 263.8h.6M106.0 265.4h.6M108.9 264.0h.6M98.2 265.4h.6M96.0 260.7h.6M95.4 258.3h.6M94.9 264.3h.6M113.5 263.6h.6M108.9 263.2h.6M79.6 259.5h.6M80.5 259.6h.6M104.5 262.7h.6M103.6 263.4h.6M110.7 266.0h.6M85.3 262.5h.6M87.0 259.0h.6M105.1 266.3h.6M94.9 261.9h.6M111.4 257.1h.6M97.7 263.6h.6M86.4 266.8h.6M109.6 262.5h.6M93.7 262.2h.6M87.3 259.8h.6M115.7 265.9h.6M107.0 260.4h.6M126.2 268.3h.6M97.8 260.8h.6M82.0 264.3h.6M81.3 263.1h.6M111.3 259.3h.6M125.1 267.3h.6M76.4 259.5h.6M90.7 260.5h.6M91.0 256.5h.6M91.6 267.9h.6M78.3 262.5h.6M72.7 264.9h.6M91.6 268.2h.6M98.1 262.2h.6M103.3 261.9h.6M74.9 264.0h.6M92.4 263.6h.6M100.6 261.9h.6M101.3 267.7h.6M78.4 267.7h.6M91.4 261.2h.6M131.4 263.6h.6M115.6 265.3h.6M69.8 263.5h.6M87.1 259.7h.6M68.4 263.5h.6M103.9 264.2h.6M90.4 261.1h.6M80.2 261.8h.6M79.5 262.7h.6M94.7 260.9h.6M91.5 261.2h.6M94.9 264.5h.6M97.7 264.4h.6M70.2 262.2h.6M99.2 264.9h.6M71.0 263.6h.6M113.1 262.7h.6M93.6 264.4h.6M98.7 265.0h.6M96.1 263.6h.6M83.3 262.8h.6M113.8 262.7h.6M92.5 261.9h.6M106.8 261.0h.6M108.7 260.8h.6M79.1 263.7h.6M97.0 264.0h.6M110.9 262.1h.6M101.6 260.8h.6M113.9 264.8h.6M103.0 263.7h.6M83.2 262.3h.6M102.5 263.2h.6M96.9 259.7h.6M97.7 261.4h.6M78.7 262.8h.6M67.2 265.0h.6M107.8 263.1h.6M80.1 260.7h.6M92.7 256.9h.6M97.7 264.9h.6M90.3 261.9h.6M97.7 264.1h.6M111.4 263.2h.6M84.7 262.0h.6M97.7 267.2h.6M90.2 260.5h.6M81.9 257.7h.6M99.9 259.7h.6M76.5 258.1h.6M78.2 264.7h.6M75.3 258.7h.6M97.7 262.3h.6M101.5 265.1h.6M94.9 259.8h.6M93.1 264.5h.6M86.3 259.5h.6M111.5 262.1h.6M88.9 263.2h.6M110.5 263.9h.6M90.0 265.0h.6M127.2 266.8h.6M105.1 260.3h.6M89.4 261.4h.6M119.4 264.3h.6M73.6 263.9h.6M103.2 262.4h.6M76.7 261.3h.6M88.4 263.3h.6M87.2 265.1h.6M80.8 258.7h.6M83.9 266.7h.6M86.4 269.3h.6M102.4 260.2h.6M82.5 263.8h.6M77.3 269.4h.6M80.1 265.0h.6M116.9 262.9h.6M80.1 262.5h.6M100.4 265.5h.6M95.9 259.6h.6M95.6 261.4h.6M73.5 264.7h.6M124.2 268.0h.6M86.4 262.0h.6M105.3 266.0h.6M88.7 262.8h.6M128.1 262.9h.6M87.7 263.5h.6M103.7 260.5h.6M91.3 260.2h.6M90.8 268.1h.6M106.1 263.0h.6M81.0 262.4h.6M110.8 261.7h.6M116.8 259.6h.6M90.6 267.7h.6M64.9 266.3h.6M67.2 263.0h.6M92.4 265.3h.6M86.5 263.3h.6M81.6 262.6h.6M77.2 262.2h.6M82.3 263.8h.6M103.7 266.9h.6M85.2 262.4h.6M95.7 262.4h.6M94.2 259.1h.6M100.6 260.8h.6M80.6 259.1h.6M112.4 262.8h.6M112.2 263.9h.6M69.4 260.4h.6M106.4 261.2h.6M78.6 262.7h.6M92.3 260.6h.6M90.1 262.0h.6M82.8 266.6h.6M77.7 259.1h.6M112.8 259.1h.6M85.5 264.8h.6M90.1 258.9h.6M97.8 262.7h.6M114.3 264.7h.6M94.7 260.4h.6M112.3 265.3h.6M106.3 261.2h.6M83.8 257.9h.6M120.6 264.5h.6M91.1 265.6h.6M106.3 265.7h.6M70.6 261.3h.6M97.9 264.1h.6M109.4 260.6h.6M96.9 268.9h.6M105.4 265.5h.6M94.7 265.2h.6M122.1 263.5h.6M113.4 260.9h.6M103.9 265.6h.6M83.7 266.1h.6M84.9 261.1h.6M95.0 268.2h.6M99.6 265.6h.6M84.0 263.4h.6M77.4 261.7h.6M107.5 263.1h.6M116.8 262.7h.6M92.0 266.5h.6M85.3 259.2h.6M114.5 264.3h.6M88.9 267.7h.6M84.1 261.7h.6M81.3 260.5h.6M84.5 259.5h.6M79.5 259.0h.6M72.5 259.1h.6M87.2 261.4h.6M76.6 264.4h.6M94.3 262.1h.6M88.0 267.3h.6M98.6 264.4h.6M100.6 261.4h.6M102.8 260.5h.6M103.6 259.2h.6M91.1 264.3h.6M103.0 262.9h.6M124.1 262.1h.6M88.2 256.0h.6M121.5 262.2h.6M77.4 266.6h.6M113.5 263.5h.6M73.5 264.3h.6M85.7 260.2h.6M110.7 257.7h.6M103.5 264.4h.6M125.8 264.0h.6M64.1 261.0h.6M96.0 264.1h.6M109.7 258.1h.6M90.1 265.7h.6M118.2 268.0h.6M89.1 266.1h.6M120.7 266.3h.6M105.9 265.4h.6M83.2 259.4h.6M109.7 262.3h.6M94.6 261.7h.6M89.1 263.8h.6M79.7 263.4h.6M98.7 263.0h.6M83.8 265.2h.6M123.1 261.6h.6" stroke="#3030ff" stroke-width="0.6" opacity="0.7"/>
<path d="M77.3 271.7h.9M101.4 254.1h.9M81.3 271.6h.9M68.3 269.7h.9M70.8 256.6h.9M120.2 269.7h.9M134.1 260.2h.9M134.4 266.1h.9M123.4 268.6h.9M90.1 270.3h.9M80.0 269.7h.9M133.5 265.8h.9M88.7 270.0h.9M120.8 268.5h.9M125.0 267.3h.9M113.5 269.1h.9M108.3 257.1h.9M79.3 257.5h.9M68.9 267.5h.9M71.5 267.7h.9M112.2 268.8h.9M121.9 267.4h.9M119.4 267.9h.9M101.5 269.3h.9M115.8 258.0h.9M98.0 269.3h.9M127.2 266.0h.9M129.4 261.9h.9M125.9 260.3h.9M113.9 268.2h.9M76.0 268.1h.9M110.0 268.6h.9M67.2 260.1h.9M110.7 257.8h.9M68.3 266.6h.9M101.5 257.3h.9M106.5 268.8h.9M118.5 258.8h.9M126.7 260.9h.9M65.8 260.6h.9M95.1 269.1h.9M126.7 260.9h.9M79.8 268.2h.9M76.8 258.5h.9M112.1 268.2h.9M82.2 258.1h.9M121.9 259.8h.9M118.9 259.3h.9M65.4 261.4h.9M109.5 258.0h.9M127.4 262.5h.9M85.3 268.5h.9M82.3 258.1h.9M73.8 267.2h.9M66.9 265.3h.9M109.6 268.3h.9M69.0 260.4h.9M113.4 267.9h.9M123.0 260.4h.9M107.9 268.4h.9M87.4 268.6h.9M111.2 268.0h.9M74.7 267.3h.9M119.0 266.8h.9M74.3 267.1h.9M76.9 267.5h.9M85.6 268.4h.9M68.0 261.0h.9M79.8 258.6h.9M67.3 261.3h.9M123.5 265.5h.9M90.6 268.5h.9M125.5 264.6h.9M126.2 262.8h.9M91.1 268.5h.9M88.8 258.0h.9M93.9 268.6h.9M125.2 264.6h.9M67.6 261.6h.9M68.0 264.8h.9M107.7 258.5h.9M125.1 263.2h.9M120.4 260.5h.9M124.8 262.7h.9M122.5 261.2h.9M89.6 268.2h.9M105.9 258.5h.9M71.2 260.5h.9M105.9 258.4h.9M109.3 267.7h.9M110.1 258.8h.9M78.7 259.2h.9M67.4 263.7h.9M116.8 259.7h.9M84.4 258.6h.9M92.0 268.1h.9M103.6 268.0h.9M112.8 267.2h.9M98.6 258.2h.9M68.0 263.1h.9M102.2 258.3h.9M121.8 265.2h.9M80.6 267.3h.9M82.6 258.8h.9M80.3 259.0h.9M115.5 266.8h.9M105.4 267.9h.9M94.8 258.3h.9M120.1 265.7h.9M89.4 258.5h.9M101.3 268.0h.9M122.5 264.4h.9M109.3 267.4h.9M98.7 258.5h.9M91.0 267.9h.9M80.8 259.2h.9M114.4 259.7h.9M122.5 262.3h.9M74.3 260.4h.9M92.8 268.0h.9M122.8 262.8h.9M81.7 267.3h.9M121.9 264.3h.9M96.8 258.5h.9M69.1 263.4h.9M71.6 265.2h.9M120.5 261.3h.9M114.1 266.6h.9M120.6 265.0h.9M117.2 266.0h.9M122.1 263.0h.9M101.6 267.7h.9M101.3 267.7h.9M121.6 261.9h.9M116.9 260.4h.9M101.0 258.7h.9M115.7 260.2h.9M120.9 264.5h.9M70.5 262.2h.9M99.8 258.6h.9M79.6 259.7h.9M72.5 261.4h.9M110.0 259.4h.9M71.6 264.8h.9M101.1 258.6h.9M82.7 259.3h.9M70.2 263.8h.9M118.8 261.0h.9M94.3 258.6h.9M119.0 265.3h.9M71.7 264.7h.9M119.3 261.3h.9M92.8 258.8h.9M118.2 261.1h.9M114.3 266.3h.9M81.4 259.5h.9M110.7 259.4h.9M93.4 258.7h.9M121.5 263.7h.9M119.5 261.5h.9M106.1 259.1h.9M115.9 260.5h.9M85.6 259.2h.9M112.8 266.4h.9M74.7 265.5h.9M115.5 266.0h.9M115.7 260.4h.9M82.9 259.4h.9M103.8 258.9h.9M86.8 259.0h.9M82.1 259.5h.9M112.7 266.6h.9M81.5 266.8h.9M110.0 266.9h.9M74.5 265.4h.9M119.9 264.3h.9M78.8 260.1h.9M70.9 263.0h.9M77.4 266.1h.9M97.5 267.6h.9M106.0 259.3h.9" stroke="#2828ff" stroke-width="0.9"/>
<path d="M118.5 261.3h.9M118.2 261.2h.9M95.9 267.6h.9M83.9 267.1h.9M118.1 261.3h.9M78.1 266.2h.9M79.8 266.4h.9M84.9 259.4h.9M108.1 266.9h.9M115.4 260.6h.9M112.5 266.3h.9M108.8 266.9h.9M115.6 265.8h.9M94.7 267.4h.9M71.8 262.6h.9M86.5 259.2h.9M72.4 262.5h.9M112.2 260.0h.9M109.0 259.6h.9M120.4 263.5h.9M82.7 266.8h.9M96.3 259.0h.9M76.6 260.6h.9M88.6 267.2h.9M82.1 266.6h.9M107.8 259.6h.9M118.2 264.8h.9M109.9 266.6h.9M73.2 264.2h.9M120.2 263.1h.9M119.2 264.0h.9M116.5 265.2h.9M87.6 259.2h.9M114.0 265.9h.9M77.0 265.8h.9M105.5 259.4h.9M95.6 267.4h.9M72.4 262.9h.9M119.7 263.7h.9M78.9 260.4h.9M102.8 267.2h.9M83.9 266.8h.9M73.5 264.5h.9M111.6 266.4h.9M109.6 259.8h.9M110.8 266.3h.9M73.1 264.2h.9M72.6 263.6h.9M104.0 259.3h.9M76.3 261.0h.9M78.0 265.8h.9M114.9 260.8h.9M86.7 267.0h.9M99.0 267.3h.9M78.3 260.7h.9M117.8 264.6h.9M78.9 260.4h.9M115.9 261.1h.9M94.1 259.1h.9M117.1 264.6h.9M78.2 265.6h.9M77.4 260.8h.9M114.0 265.5h.9M118.1 264.2h.9M118.5 263.0h.9M103.4 259.3h.9M116.6 264.8h.9M74.3 261.8h.9M106.2 266.8h.9M73.9 263.9h.9M74.7 261.9h.9M116.7 264.7h.9M73.5 262.6h.9M112.3 260.4h.9M118.2 262.3h.9M116.1 264.8h.9M100.6 259.3h.9M114.1 265.4h.9M92.8 267.1h.9M118.2 262.6h.9M74.4 264.2h.9M78.7 265.7h.9M89.9 266.9h.9M112.5 265.7h.9M80.7 266.0h.9M110.6 266.2h.9M112.9 265.8h.9M82.4 266.3h.9M99.7 267.1h.9M86.3 259.7h.9M77.0 265.3h.9M79.3 260.6h.9M75.4 261.7h.9M114.0 265.5h.9M77.3 265.3h.9M74.0 262.6h.9M116.0 261.8h.9M117.5 263.4h.9M86.8 259.7h.9M75.4 264.3h.9M106.4 259.8h.9M84.0 266.5h.9M80.5 265.9h.9M104.3 266.8h.9M76.1 264.5h.9M109.0 266.4h.9M101.0 267.0h.9M74.9 262.8h.9M100.3 267.0h.9M110.8 260.5h.9M87.0 259.6h.9M101.2 259.4h.9M116.1 264.7h.9M74.2 263.3h.9M81.8 260.4h.9M77.5 261.2h.9M77.3 261.2h.9M114.3 261.3h.9M113.0 260.8h.9M98.9 259.5h.9M116.2 264.4h.9M83.8 266.3h.9M75.2 262.9h.9M75.4 262.5h.9M116.8 262.4h.9M91.7 259.6h.9M112.0 265.7h.9M88.7 266.8h.9M112.4 265.4h.9M105.6 259.8h.9M97.7 267.0h.9M110.4 265.9h.9M81.0 265.8h.9M84.1 266.3h.9M76.0 262.1h.9M113.1 265.3h.9M99.2 259.5h.9M90.7 266.8h.9M113.1 265.3h.9M74.8 263.5h.9M102.6 266.8h.9M79.4 261.1h.9M103.8 259.8h.9M106.1 266.4h.9M110.0 266.0h.9M76.8 264.4h.9M102.1 259.7h.9M76.6 264.6h.9M78.7 261.4h.9" stroke="#2830ff" stroke-width="0.9"/>
<path d="M84.7 260.1h.9M83.7 266.2h.9M80.4 265.5h.9M97.5 266.9h.9M112.9 261.1h.9M84.6 266.2h.9M111.2 265.5h.9M103.9 259.9h.9M110.6 265.9h.9M113.7 261.4h.9M97.5 259.7h.9M77.0 264.4h.9M77.7 261.6h.9M81.8 265.9h.9M102.1 266.6h.9M114.3 261.7h.9M105.6 260.1h.9M115.7 262.5h.9M104.6 266.4h.9M114.9 264.6h.9M76.7 264.1h.9M93.5 266.8h.9M110.0 260.5h.9M81.2 265.7h.9M110.1 265.9h.9M107.8 266.0h.9M96.1 266.7h.9M113.2 261.3h.9M84.6 266.2h.9M82.1 265.8h.9M115.5 262.9h.9M104.7 266.3h.9M84.9 260.3h.9M84.3 260.4h.9M78.8 265.1h.9M83.6 260.4h.9M113.5 261.5h.9M115.0 262.3h.9M76.9 262.1h.9M83.6 260.4h.9M103.4 266.5h.9M89.9 266.6h.9M82.8 260.5h.9M79.5 265.0h.9M84.2 260.4h.9M76.5 262.9h.9M77.3 264.3h.9M79.9 265.2h.9M94.6 259.7h.9M112.0 265.2h.9M115.9 263.8h.9M116.0 263.4h.9M107.8 265.9h.9M112.5 265.0h.9M103.0 259.9h.9M76.9 263.4h.9M87.8 260.1h.9M107.5 260.5h.9M115.6 262.5h.9M78.2 261.6h.9M86.1 260.4h.9M107.9 265.8h.9M85.9 260.3h.9M115.3 263.6h.9M85.5 260.3h.9M103.1 266.4h.9M92.4 259.9h.9M115.3 263.4h.9M115.4 263.8h.9M77.4 264.1h.9M99.0 266.7h.9M103.9 266.3h.9M112.8 264.8h.9M100.4 266.5h.9M113.1 261.5h.9M111.4 265.2h.9M108.7 265.7h.9M81.9 261.0h.9M114.2 262.4h.9M79.3 261.7h.9M76.9 263.9h.9M98.3 259.9h.9M93.3 266.6h.9M81.7 261.0h.9M80.9 265.2h.9M114.1 262.0h.9M87.8 266.2h.9M104.2 266.1h.9M78.0 262.4h.9M114.2 262.0h.9M105.8 260.3h.9M77.6 264.2h.9M103.5 260.0h.9M94.0 266.5h.9M84.3 265.9h.9M101.2 266.5h.9M95.6 266.5h.9M85.1 266.0h.9M114.6 262.8h.9M97.0 266.6h.9M91.5 260.0h.9M107.7 260.5h.9M98.9 259.9h.9M77.2 263.8h.9M99.2 266.5h.9M114.2 263.1h.9M114.9 263.4h.9M114.3 262.5h.9M114.9 263.4h.9M101.7 266.4h.9M103.9 260.2h.9M110.0 265.3h.9M83.2 260.8h.9M89.8 260.1h.9M79.3 261.7h.9M79.9 264.8h.9M107.4 260.5h.9M101.8 260.0h.9" stroke="#2839ff" stroke-width="0.9"/>
<path d="M101.5 266.3h.9M82.0 265.3h.9M79.0 262.2h.9M82.6 265.3h.9M86.4 266.0h.9M85.4 260.7h.9M81.0 261.3h.9M90.0 266.2h.9M96.0 266.5h.9M112.6 261.8h.9M93.1 266.3h.9M100.1 260.1h.9M91.3 260.0h.9M85.3 260.7h.9M81.7 265.3h.9M89.8 260.1h.9M77.9 263.8h.9M113.9 262.9h.9M112.8 264.5h.9M95.7 260.1h.9M83.4 265.5h.9M105.9 265.9h.9M111.3 264.9h.9M110.8 261.4h.9M84.0 260.8h.9M110.6 264.9h.9M81.3 261.4h.9M84.6 260.7h.9M100.8 266.1h.9M93.3 260.1h.9M83.5 260.9h.9M87.4 265.8h.9M101.7 260.2h.9M99.0 266.2h.9M92.9 260.2h.9M83.1 261.2h.9M110.6 265.1h.9M100.2 260.3h.9M107.0 265.7h.9M111.2 264.9h.9M112.4 263.9h.9M102.4 260.4h.9M96.3 260.1h.9M81.6 261.4h.9M79.1 263.1h.9M82.4 261.5h.9M112.8 262.8h.9M100.2 266.1h.9M109.5 261.4h.9M79.0 263.4h.9M91.6 260.3h.9M101.7 266.2h.9M111.4 261.9h.9M96.7 266.3h.9M113.1 262.6h.9M110.9 261.9h.9M87.8 260.4h.9M86.7 265.8h.9M80.6 262.0h.9M90.1 266.1h.9M112.5 263.3h.9M112.3 262.6h.9M81.1 261.7h.9M81.1 264.5h.9M82.0 264.7h.9M83.3 265.3h.9M106.8 260.9h.9M83.3 265.1h.9M91.8 260.2h.9M79.2 263.2h.9M85.1 261.0h.9M82.4 265.1h.9M97.6 260.3h.9M97.4 260.2h.9M111.0 264.5h.9M84.2 265.2h.9M81.6 264.9h.9" stroke="#2842ff" stroke-width="0.9"/>
<path d="M94.6 266.1h.9M83.5 265.2h.9M112.5 263.0h.9M85.0 261.0h.9M112.2 263.0h.9M97.3 260.2h.9M104.4 265.8h.9M103.2 260.6h.9M80.2 263.7h.9M112.5 263.2h.9M80.0 264.0h.9M101.7 260.6h.9M110.8 264.3h.9M102.3 260.5h.9M111.1 262.4h.9M81.8 264.8h.9M108.7 264.9h.9M105.2 260.7h.9M80.8 264.1h.9M92.4 266.0h.9M79.5 263.2h.9M88.6 265.7h.9M81.3 264.2h.9M112.2 263.0h.9M88.5 260.6h.9M101.9 265.8h.9M96.5 260.3h.9M87.7 260.8h.9M85.3 265.5h.9M82.3 261.6h.9M104.9 265.7h.9M110.1 261.8h.9M112.0 263.1h.9M90.8 265.9h.9M87.5 260.8h.9M110.0 264.6h.9M111.7 264.0h.9M83.7 261.5h.9M108.8 264.9h.9M110.5 264.4h.9M109.1 261.7h.9M83.8 261.5h.9M104.0 260.8h.9M106.6 261.1h.9M80.8 263.0h.9M88.3 260.7h.9M81.6 261.9h.9M103.2 265.7h.9M103.6 260.7h.9M110.5 264.1h.9M106.4 261.1h.9M110.5 264.1h.9M92.8 260.4h.9M90.5 265.7h.9M107.9 261.3h.9M85.8 265.2h.9M103.9 265.6h.9M91.0 265.8h.9M80.1 263.7h.9M90.6 260.6h.9M110.8 263.9h.9M80.6 262.3h.9M81.4 262.1h.9M84.7 261.5h.9M80.4 263.2h.9M82.8 264.5h.9M82.7 261.6h.9M110.0 262.3h.9M110.0 264.3h.9M91.9 265.9h.9" stroke="#284bff" stroke-width="0.9"/>
<path d="M95.1 265.9h.9M84.4 261.4h.9M108.6 261.5h.9M107.0 265.0h.9M106.9 261.4h.9M110.2 262.3h.9M82.1 264.2h.9M105.2 260.9h.9M110.0 261.9h.9M89.6 265.6h.9M99.8 260.5h.9M81.9 262.4h.9M102.9 260.8h.9M110.8 263.2h.9M111.0 262.8h.9M82.3 262.1h.9M105.9 265.2h.9M107.6 265.0h.9M91.9 265.7h.9M83.8 264.8h.9M99.1 260.6h.9M83.1 264.7h.9M81.7 263.0h.9M106.1 261.2h.9M109.8 264.4h.9M107.2 265.0h.9M81.9 263.7h.9M101.5 265.8h.9M109.4 262.1h.9M99.0 260.7h.9M90.9 260.7h.9M107.7 265.0h.9M92.1 260.8h.9M84.9 261.4h.9M80.8 263.1h.9M89.9 265.5h.9M103.9 261.0h.9M81.3 263.5h.9M109.2 264.3h.9M110.0 262.7h.9M98.7 260.6h.9M104.8 261.3h.9M83.3 264.7h.9M107.8 261.5h.9M88.7 265.5h.9M90.6 265.5h.9M83.3 261.7h.9M89.5 260.8h.9M87.1 265.3h.9M100.5 260.7h.9M107.3 261.7h.9M110.4 263.9h.9M89.4 265.5h.9M97.4 260.5h.9M99.1 260.6h.9M82.0 262.4h.9M108.2 264.7h.9M87.2 261.3h.9M109.5 262.7h.9M99.9 265.8h.9M82.4 264.4h.9M108.7 264.4h.9M92.3 265.7h.9M97.2 265.8h.9M86.4 265.0h.9M86.3 261.4h.9M110.0 262.6h.9M110.6 262.9h.9M88.0 265.2h.9" stroke="#2854ff" stroke-width="0.9"/>
<path d="M95.6 260.6h.9M82.2 262.3h.9M92.4 260.8h.9M110.1 263.2h.9M82.1 263.4h.9M100.7 260.9h.9M109.6 263.0h.9M87.0 265.2h.9M110.5 262.9h.9M101.3 260.8h.9M106.2 264.7h.9M82.4 263.1h.9M104.7 261.1h.9M106.4 264.8h.9M101.4 265.5h.9M110.5 263.6h.9M110.5 263.2h.9M90.4 265.4h.9M83.8 264.5h.9M90.1 265.5h.9M94.9 265.6h.9M84.2 264.4h.9M103.1 265.4h.9M98.0 260.7h.9M97.4 265.7h.9M107.9 264.5h.9M84.8 264.8h.9M87.7 261.3h.9M93.6 265.7h.9M98.9 265.5h.9M97.5 265.5h.9M87.3 265.1h.9M84.0 262.3h.9M84.8 264.3h.9M91.0 261.0h.9M95.2 260.9h.9M83.9 262.3h.9M108.2 264.5h.9M108.6 263.1h.9M93.2 265.4h.9M82.1 263.2h.9M109.2 264.0h.9M98.9 265.5h.9M85.1 261.7h.9M95.1 265.7h.9M95.1 260.7h.9M102.6 265.2h.9M83.4 263.6h.9M86.0 264.7h.9" stroke="#285dff" stroke-width="0.9"/>
<path d="M104.3 264.9h.9M95.0 265.4h.9M106.7 264.6h.9M107.5 264.0h.9M87.8 261.5h.9M83.0 263.7h.9M89.6 261.3h.9M88.5 265.2h.9M107.6 263.9h.9M82.5 263.2h.9M109.9 263.0h.9M83.0 263.5h.9M90.1 265.3h.9M95.0 260.9h.9M89.3 261.1h.9M109.0 263.9h.9M103.8 265.1h.9M109.1 263.2h.9M108.7 264.0h.9M98.6 265.3h.9M91.0 265.2h.9M101.3 265.2h.9M84.5 263.8h.9M88.1 265.0h.9M108.5 263.8h.9M100.8 261.0h.9M84.0 263.2h.9M83.5 262.6h.9M85.2 264.4h.9M85.0 264.2h.9M84.1 262.2h.9M84.0 264.1h.9M106.7 264.7h.9M108.6 263.3h.9M86.0 264.5h.9M90.2 261.1h.9M83.0 263.2h.9M84.0 262.7h.9M85.7 262.1h.9M106.7 262.1h.9M108.9 263.6h.9M104.8 264.8h.9M106.6 264.4h.9M84.1 263.7h.9M106.6 262.4h.9M97.1 261.0h.9M107.0 262.6h.9M87.4 264.7h.9M107.3 264.0h.9M84.7 263.7h.9M108.8 263.2h.9M86.4 264.4h.9M108.1 262.9h.9" stroke="#2866ff" stroke-width="0.9"/>
<path d="M102.4 261.5h.9M101.4 265.3h.9M104.5 264.8h.9M107.5 264.2h.9M85.2 262.4h.9M106.5 262.0h.9M94.2 265.4h.9M92.1 261.3h.9M98.4 261.1h.9M102.1 265.1h.9M108.3 262.5h.9M108.8 263.1h.9M91.4 265.3h.9M88.9 261.4h.9M107.5 262.2h.9M96.9 265.2h.9M96.6 265.4h.9M101.5 261.2h.9M95.3 265.2h.9M107.0 262.7h.9M94.1 261.1h.9M103.3 264.8h.9M92.8 261.3h.9M86.2 261.9h.9M84.2 262.5h.9M92.2 261.1h.9M98.7 265.2h.9M91.6 265.2h.9M97.6 265.3h.9M90.3 261.2h.9M98.3 261.1h.9M106.2 264.3h.9M96.0 265.4h.9M87.9 264.5h.9M88.0 261.5h.9M95.0 261.2h.9M90.7 261.4h.9M104.8 264.8h.9M95.9 261.3h.9M92.3 261.3h.9M90.3 261.4h.9M97.5 265.2h.9M85.0 262.2h.9M104.9 264.4h.9M104.2 264.5h.9M101.6 261.4h.9M85.7 262.6h.9M96.1 265.3h.9M101.2 264.9h.9M99.1 261.1h.9M107.0 263.3h.9M99.6 261.1h.9" stroke="#286fff" stroke-width="0.9"/>
<path d="M87.1 264.4h.9M85.7 263.9h.9M102.5 261.5h.9M88.5 264.7h.9M103.2 264.7h.9M97.3 265.3h.9M86.2 264.0h.9M102.2 261.6h.9M95.3 261.3h.9M91.1 265.1h.9M101.2 264.8h.9M91.6 265.1h.9M102.2 261.6h.9M102.1 264.9h.9M106.4 262.1h.9M94.7 261.2h.9M105.3 262.0h.9M93.0 261.1h.9M98.9 261.4h.9M94.1 265.2h.9M107.1 262.9h.9M107.4 263.0h.9M104.2 264.4h.9M84.8 262.7h.9M89.4 264.6h.9M87.9 261.9h.9M99.3 261.2h.9M87.9 264.5h.9M85.1 263.7h.9M95.2 265.2h.9M104.8 264.1h.9M105.1 263.9h.9M98.4 261.3h.9M107.4 263.4h.9M87.2 262.0h.9M85.7 263.6h.9M99.6 261.3h.9M88.6 264.5h.9M101.0 265.0h.9M86.1 262.3h.9M105.4 263.6h.9M86.4 263.8h.9M100.8 261.7h.9M87.3 261.9h.9M86.3 263.7h.9" stroke="#2878ff" stroke-width="0.9"/>
<path d="M94.7 261.4h.9M89.9 264.9h.9M105.4 262.2h.9M102.4 261.6h.9M106.6 262.6h.9M95.6 261.2h.9M92.5 265.0h.9M105.0 264.4h.9M91.1 264.8h.9M86.2 264.0h.9M86.0 262.7h.9M100.7 261.6h.9M100.4 264.9h.9M105.7 263.0h.9M106.2 262.3h.9M88.2 264.5h.9M105.8 263.3h.9M99.2 261.4h.9M96.2 265.1h.9M86.6 262.6h.9M102.5 264.5h.9M99.8 261.7h.9M87.4 262.3h.9M93.3 265.0h.9M87.7 262.4h.9M93.0 261.5h.9M93.3 265.0h.9M88.8 262.0h.9M86.6 263.0h.9M91.4 261.5h.9M91.8 261.5h.9M100.4 261.6h.9M86.0 263.8h.9M104.3 264.1h.9M102.3 261.7h.9M85.3 263.2h.9M99.2 264.9h.9M88.3 262.0h.9M105.3 262.8h.9M105.5 262.4h.9M87.5 262.6h.9M88.3 262.0h.9M105.0 264.2h.9M101.8 261.6h.9M100.6 264.7h.9M101.1 261.7h.9M92.2 264.7h.9M87.7 262.4h.9" stroke="#2592f4" stroke-width="0.9"/>
<path d="M89.0 262.3h.9M86.3 263.9h.9M86.9 263.6h.9M102.7 261.7h.9M88.5 261.8h.9M88.8 262.1h.9M91.8 261.7h.9M100.2 264.6h.9M85.7 262.7h.9M87.1 263.4h.9M91.3 261.8h.9M94.8 264.9h.9M88.1 262.3h.9M99.5 264.8h.9M105.9 263.3h.9M88.9 262.4h.9M101.7 264.4h.9M87.9 263.9h.9M95.9 264.9h.9M93.5 265.0h.9M96.8 261.4h.9M85.8 262.9h.9M103.0 264.5h.9M102.6 261.9h.9M98.3 264.7h.9M87.9 262.9h.9M104.1 262.1h.9M100.3 261.9h.9M86.1 262.8h.9M94.4 261.6h.9M104.7 262.9h.9M101.7 264.4h.9M104.8 264.0h.9M101.9 262.2h.9M97.1 261.5h.9M93.2 261.8h.9M90.2 261.8h.9M104.2 262.7h.9M90.2 264.5h.9M94.4 261.6h.9M94.5 264.6h.9M93.0 261.6h.9M94.6 261.6h.9M90.9 262.0h.9" stroke="#22acea" stroke-width="0.9"/>
<path d="M97.0 264.8h.9M94.7 261.7h.9M98.1 261.6h.9M104.4 263.6h.9M95.4 264.9h.9M90.7 264.3h.9M102.9 263.9h.9M87.1 262.6h.9M93.0 261.9h.9M102.3 264.4h.9M88.3 264.1h.9M96.2 261.7h.9M103.5 263.6h.9M101.8 262.3h.9M98.0 264.6h.9M90.4 262.3h.9M90.8 262.3h.9M89.7 264.1h.9M87.3 263.4h.9M96.3 261.7h.9M92.4 262.1h.9M104.7 263.3h.9M94.1 261.9h.9M89.5 262.5h.9M95.7 261.5h.9M88.3 263.1h.9M88.3 262.6h.9M96.4 264.7h.9M89.5 262.2h.9M93.9 264.7h.9M102.7 264.4h.9M100.6 262.2h.9M105.1 263.2h.9M95.7 264.9h.9M96.0 261.8h.9M100.5 264.3h.9M104.4 262.8h.9M102.1 263.9h.9" stroke="#1fc7e0" stroke-width="0.9"/>
<path d="M89.7 262.8h.9M101.1 262.2h.9M102.8 263.8h.9M103.8 263.9h.9M91.3 264.4h.9M88.1 263.8h.9M97.3 264.4h.9M98.8 261.9h.9M100.3 262.2h.9M94.7 264.4h.9M89.5 263.9h.9M103.1 262.5h.9M100.0 262.1h.9M103.2 262.7h.9M88.9 264.0h.9M92.1 264.4h.9M101.9 262.8h.9M102.8 264.2h.9M100.6 262.0h.9M88.3 262.7h.9M96.7 261.7h.9M89.0 262.3h.9M97.8 262.0h.9M90.8 264.1h.9M95.4 264.4h.9M104.4 263.5h.9M96.0 264.6h.9M87.7 263.5h.9M90.9 263.8h.9M97.6 264.2h.9M102.9 263.0h.9M89.4 263.1h.9M90.2 262.2h.9M98.2 264.3h.9M96.8 264.5h.9M96.4 264.5h.9" stroke="#24d5b9" stroke-width="0.9"/>
<path d="M94.7 262.1h.9M91.5 262.0h.9M89.1 262.6h.9M88.0 262.8h.9M96.7 262.0h.9M89.6 262.2h.9M100.6 263.9h.9M95.2 262.0h.9M102.0 263.6h.9M89.2 262.4h.9M91.0 262.8h.9M96.4 261.8h.9M88.1 263.3h.9M101.3 262.2h.9M99.3 264.1h.9M100.8 264.3h.9M98.4 262.1h.9M102.7 262.9h.9M99.5 262.4h.9M100.6 263.6h.9M95.6 264.6h.9M102.0 262.2h.9M102.5 263.9h.9M93.1 264.4h.9M92.1 263.9h.9M91.9 262.6h.9M94.5 264.1h.9M90.4 263.0h.9M103.0 262.9h.9M100.3 262.7h.9M103.3 262.7h.9M96.1 264.2h.9" stroke="#2fda80" stroke-width="0.9"/>
<path d="M96.3 264.4h.9M91.8 263.7h.9M94.7 262.1h.9M93.7 261.9h.9M93.1 262.5h.9M100.9 262.9h.9M98.9 262.5h.9M90.1 262.3h.9M92.7 264.3h.9M89.8 263.1h.9M91.0 263.9h.9M93.1 264.1h.9M91.0 263.7h.9M98.5 262.7h.9M99.7 262.8h.9M90.4 262.4h.9M91.2 263.8h.9M102.1 263.9h.9M101.7 263.9h.9M94.3 262.5h.9M91.7 263.5h.9M90.7 264.1h.9M95.6 262.0h.9M99.4 264.2h.9M95.7 263.9h.9M95.6 263.9h.9M95.8 264.3h.9M95.3 264.1h.9M92.3 262.7h.9M91.2 262.4h.9M91.6 264.2h.9M100.2 262.5h.9M92.0 263.2h.9M90.1 263.3h.9" stroke="#39df47" stroke-width="0.9"/>
<path d="M90.7 263.8h.9M93.2 263.8h.9M102.8 263.0h.9M98.5 264.3h.9M100.6 262.6h.9M97.4 262.8h.9M95.0 263.9h.9M101.7 263.2h.9M92.2 263.1h.9M95.1 264.2h.9M97.0 263.6h.9M94.2 262.2h.9M93.4 262.9h.9M98.4 262.1h.9M91.3 262.6h.9M99.5 262.5h.9M101.5 262.7h.9M96.3 262.8h.9M91.3 263.2h.9M100.9 263.8h.9M96.4 262.9h.9M95.9 263.7h.9M95.2 262.3h.9M89.9 263.5h.9M97.7 263.8h.9M93.2 262.8h.9M92.5 262.9h.9M90.3 262.8h.9M100.5 263.0h.9" stroke="#6be236" stroke-width="0.9"/>
<path d="M98.4 262.2h.9M98.6 264.0h.9M93.3 263.9h.9M101.6 263.6h.9M98.7 262.8h.9M100.1 262.5h.9M94.0 262.2h.9M91.7 262.9h.9M94.2 264.1h.9M99.2 263.5h.9M97.7 263.3h.9M100.9 262.7h.9M98.8 263.2h.9M94.1 263.8h.9M98.3 263.6h.9M94.6 262.2h.9M100.8 263.2h.9M93.5 263.5h.9M98.0 263.5h.9M99.3 263.2h.9M94.0 262.4h.9M96.3 263.9h.9M93.3 263.7h.9M100.3 263.1h.9M99.4 263.9h.9" stroke="#a6e42f" stroke-width="0.9"/>
<path d="M93.2 262.4h.9M97.0 263.3h.9M99.9 263.3h.9M100.3 262.8h.9M91.2 263.1h.9M100.9 263.5h.9M95.2 263.8h.9M92.7 263.2h.9M92.1 262.7h.9M99.3 263.1h.9M96.0 263.5h.9M91.8 263.4h.9M97.2 262.3h.9M94.1 263.0h.9M99.6 263.0h.9M94.6 264.0h.9M95.5 262.9h.9M99.7 263.7h.9M93.5 263.5h.9" stroke="#e1e628" stroke-width="0.9"/>
<path d="M95.8 263.1h.9M91.4 263.2h.9M97.3 263.0h.9M93.8 262.8h.9M94.1 263.9h.9M98.8 263.5h.9M93.7 263.7h.9M92.0 263.1h.9M92.3 263.4h.9M97.1 263.7h.9M99.2 263.4h.9M92.0 263.0h.9M94.3 263.1h.9M93.6 262.6h.9M93.8 262.9h.9M93.8 263.4h.9M98.1 262.9h.9M95.9 263.6h.9" stroke="#ef8c1e" stroke-width="0.9"/>
<path d="M98.2 263.3h.9M95.0 263.7h.9M94.4 263.3h.9M95.2 263.4h.9M96.2 262.9h.9" stroke="#ff3214" stroke-width="0.9"/>
<path d="M97.1 241.6h.6M114.2 234.0h.6M85.0 232.6h.6M103.7 240.4h.6M107.7 248.2h.6M117.5 236.7h.6M103.6 229.9h.6M97.7 232.1h.6M108.9 233.2h.6M111.4 236.5h.6M109.5 240.0h.6M101.4 232.6h.6M106.6 232.2h.6M93.8 244.0h.6M104.5 224.1h.6M106.6 231.0h.6M110.1 225.8h.6M92.9 228.2h.6M101.0 231.8h.6M104.5 226.2h.6M107.4 236.1h.6M106.3 228.8h.6M108.3 228.6h.6M114.4 224.9h.6M106.9 244.8h.6M104.7 234.4h.6M106.6 228.4h.6M104.9 236.9h.6M101.9 234.0h.6M100.9 234.9h.6M115.5 238.4h.6M100.0 239.6h.6M99.1 230.5h.6M106.4 240.5h.6M102.8 237.2h.6M112.8 239.4h.6M111.7 237.1h.6M112.1 239.1h.6M106.0 231.4h.6M111.0 241.5h.6M96.1 235.8h.6M108.5 243.9h.6M105.1 229.9h.6M115.6 240.1h.6M98.9 248.8h.6M113.7 240.4h.6M100.2 237.9h.6M101.7 243.2h.6M111.0 235.9h.6M114.5 234.3h.6M112.5 234.5h.6M106.7 236.6h.6M107.3 230.9h.6M97.8 243.2h.6M107.4 232.3h.6M120.4 240.6h.6M117.2 228.9h.6M106.0 234.0h.6M104.4 231.9h.6M104.2 235.5h.6M107.6 243.2h.6M107.8 242.9h.6M105.1 242.8h.6M105.0 231.3h.6M105.1 233.8h.6M97.2 230.0h.6M109.3 236.1h.6M103.1 246.7h.6M103.9 233.5h.6M105.0 234.3h.6M101.5 238.5h.6M111.2 227.0h.6M106.3 234.0h.6M111.8 227.7h.6M106.3 241.6h.6M108.4 234.5h.6M100.3 247.5h.6M101.4 234.1h.6M98.3 235.0h.6M106.7 234.4h.6M105.6 243.3h.6M102.2 240.9h.6M108.8 240.2h.6M100.1 242.6h.6M107.1 253.7h.6M93.6 234.9h.6M96.1 225.1h.6M114.7 227.1h.6M113.6 236.6h.6M104.8 238.8h.6M113.1 229.0h.6M110.9 238.5h.6M114.2 232.7h.6M102.2 231.5h.6M105.7 238.9h.6M119.5 232.3h.6M101.6 242.5h.6M106.5 238.6h.6M94.2 231.9h.6M109.1 230.6h.6M103.3 227.0h.6M119.7 251.9h.6M109.1 234.4h.6M118.7 228.8h.6M102.1 242.9h.6M108.6 233.9h.6M100.0 247.7h.6M103.9 223.5h.6M110.4 230.2h.6M99.5 238.9h.6M118.1 229.2h.6M110.2 232.8h.6M106.1 231.8h.6M109.9 245.6h.6M101.6 231.5h.6M101.2 233.0h.6M106.6 245.3h.6M99.2 243.0h.6M97.9 236.2h.6M97.4 228.4h.6M96.6 244.5h.6M102.0 235.2h.6M106.1 236.6h.6M105.6 233.8h.6M104.7 242.0h.6M104.6 214.8h.6M105.6 232.5h.6M122.5 226.2h.6M110.6 229.2h.6M102.2 241.7h.6M105.6 241.9h.6M115.7 237.9h.6M101.4 239.0h.6M97.3 227.8h.6M98.9 230.4h.6M113.6 226.6h.6M98.4 234.0h.6M106.4 233.2h.6M113.4 234.8h.6M97.1 241.8h.6M98.2 232.1h.6M104.1 233.4h.6M103.8 241.6h.6M101.4 247.0h.6M98.9 236.7h.6M103.9 233.5h.6M101.9 234.6h.6M108.9 228.5h.6M105.0 231.7h.6M108.3 219.2h.6M104.3 231.5h.6M99.4 238.8h.6M109.3 243.2h.6M104.5 230.6h.6M100.8 236.4h.6M100.4 221.2h.6M108.5 224.6h.6M107.8 237.3h.6M99.6 237.0h.6M99.2 234.0h.6M107.5 227.1h.6M111.5 232.9h.6M97.4 242.9h.6M112.6 230.4h.6M103.5 231.7h.6M108.3 231.9h.6M103.9 228.1h.6M101.4 245.8h.6M96.9 238.2h.6M108.1 237.4h.6M108.1 244.1h.6M105.4 242.5h.6M110.5 228.3h.6M118.9 235.5h.6M106.2 244.0h.6M98.9 236.1h.6M113.2 239.4h.6M105.8 243.6h.6M99.4 229.1h.6M106.4 233.1h.6M111.1 242.9h.6M117.9 238.0h.6M99.3 223.8h.6M101.1 249.6h.6M111.9 237.1h.6M109.7 244.1h.6M97.9 228.3h.6M96.0 228.3h.6M108.7 241.7h.6M92.3 227.5h.6M110.1 238.2h.6M101.2 239.9h.6M111.8 238.0h.6M100.4 233.2h.6M112.1 242.8h.6M104.3 243.2h.6M95.6 233.4h.6M103.1 232.9h.6M104.3 225.5h.6M112.9 234.4h.6M99.8 220.3h.6M110.8 234.5h.6M101.1 231.3h.6M84.6 231.5h.6M103.4 237.8h.6M98.2 231.8h.6M100.4 229.2h.6M109.3 243.4h.6M100.8 216.7h.6M106.9 235.0h.6M103.2 232.6h.6M112.2 225.1h.6M112.2 235.0h.6M101.3 242.5h.6M104.9 234.2h.6M107.1 240.3h.6M106.9 229.4h.6M99.8 234.7h.6M115.4 235.4h.6M99.8 244.2h.6M104.3 233.9h.6M108.1 240.4h.6M100.4 243.6h.6M115.5 228.9h.6M101.0 228.8h.6M95.9 224.7h.6M99.8 233.6h.6M106.9 228.1h.6M104.9 222.1h.6M102.3 245.4h.6M102.3 242.7h.6M108.1 245.0h.6M109.7 221.5h.6M95.1 249.3h.6M105.2 236.7h.6M114.6 234.0h.6M110.1 227.6h.6M98.8 240.8h.6M112.7 226.5h.6M103.9 229.3h.6M112.1 236.4h.6M100.7 235.1h.6M90.3 240.0h.6M106.7 240.6h.6M114.2 242.7h.6M108.0 220.2h.6M104.1 235.5h.6M97.9 235.9h.6M110.9 249.3h.6M104.6 226.8h.6M106.1 231.3h.6M113.9 225.9h.6M114.5 231.1h.6M112.5 243.1h.6M95.6 237.7h.6M104.9 234.9h.6M114.5 230.7h.6M103.2 233.4h.6M103.5 235.4h.6M96.0 233.7h.6M102.2 243.2h.6M100.3 248.3h.6M103.7 239.0h.6M104.6 240.9h.6M102.5 236.2h.6M108.6 239.4h.6M114.5 235.9h.6M101.1 234.6h.6M102.1 239.8h.6M111.9 243.2h.6M104.5 240.0h.6M113.6 239.1h.6M101.8 241.2h.6M110.5 240.6h.6M104.1 232.1h.6M112.0 237.4h.6M109.3 243.3h.6M95.2 227.9h.6M102.7 226.1h.6M100.9 246.6h.6M103.3 225.1h.6M88.4 231.2h.6M105.8 227.4h.6M113.5 244.2h.6M111.9 231.3h.6M96.0 237.8h.6M103.7 227.6h.6M106.0 239.8h.6M111.3 227.8h.6M111.0 231.5h.6M102.5 225.4h.6M108.7 221.3h.6M104.0 235.5h.6M99.5 236.0h.6M101.6 236.0h.6M106.5 225.8h.6M107.6 237.3h.6M110.3 223.9h.6M101.2 243.7h.6M107.6 226.9h.6M100.0 239.1h.6M99.6 229.1h.6M111.8 233.9h.6M99.1 245.5h.6M95.9 228.6h.6M95.0 239.7h.6M100.9 233.6h.6M104.1 232.7h.6M113.2 231.3h.6M96.8 235.8h.6M97.5 237.0h.6M107.3 231.2h.6M107.9 234.3h.6M114.7 242.9h.6M106.3 228.4h.6M96.0 235.4h.6M115.6 241.8h.6M116.2 225.4h.6M105.4 234.9h.6M107.7 238.1h.6M99.2 233.7h.6M101.7 232.9h.6M103.1 229.6h.6M92.5 228.6h.6M100.3 250.3h.6M88.5 242.7h.6M103.9 237.4h.6M124.5 236.0h.6M102.7 237.0h.6M103.8 241.3h.6M103.5 234.3h.6M102.0 222.9h.6M97.3 245.5h.6M108.7 231.3h.6M103.6 228.5h.6M102.8 241.1h.6M99.5 240.8h.6M101.6 228.4h.6M107.9 241.2h.6M116.6 229.1h.6M118.2 254.4h.6M103.8 231.8h.6M106.5 235.5h.6M104.2 227.3h.6M87.3 243.0h.6M113.5 239.9h.6M99.3 238.8h.6M107.6 226.0h.6M101.8 236.9h.6M97.3 234.5h.6M99.7 237.0h.6M109.0 243.5h.6M94.4 228.8h.6M106.1 243.0h.6M98.6 239.5h.6M93.4 249.0h.6M96.3 230.6h.6M111.1 240.1h.6M104.2 231.5h.6M103.3 215.6h.6M116.7 233.8h.6M102.9 235.6h.6M107.7 233.1h.6M95.0 236.9h.6M108.0 234.3h.6M97.7 225.9h.6M104.7 237.1h.6M99.2 244.8h.6M97.9 236.6h.6M95.1 237.1h.6M91.0 243.2h.6M107.1 229.6h.6M119.9 238.4h.6M105.5 224.0h.6M103.4 234.1h.6M101.6 235.7h.6M124.3 241.6h.6M108.8 226.1h.6M104.9 237.7h.6M92.8 234.5h.6" stroke="#3a3aff" stroke-width="0.6" opacity="0.8"/>
<path d="M98.1 255.3h.5M92.4 269.4h.5M109.7 250.4h.5M112.2 261.9h.5M112.7 258.8h.5M105.5 242.7h.5M93.0 239.0h.5M112.2 231.0h.5M95.4 253.5h.5M128.6 268.4h.5M113.3 259.6h.5M134.3 249.3h.5M101.6 260.7h.5M91.1 244.8h.5M98.2 240.8h.5M79.0 236.9h.5M109.0 254.0h.5M86.4 255.0h.5M99.2 233.3h.5M80.9 248.0h.5M93.8 239.1h.5M124.7 266.0h.5M71.4 254.8h.5M129.4 246.4h.5M67.5 231.0h.5M111.4 243.0h.5M99.0 254.5h.5M88.7 241.8h.5M104.8 233.5h.5M97.4 236.7h.5M106.2 258.5h.5M95.4 244.1h.5M71.4 245.6h.5M101.5 248.6h.5M107.7 252.7h.5M86.7 252.3h.5M97.3 256.4h.5M108.7 250.7h.5M127.1 244.5h.5M125.1 228.9h.5M79.7 238.0h.5M128.7 263.5h.5M120.0 260.6h.5M120.9 242.4h.5M94.9 242.8h.5M70.9 232.7h.5M96.5 260.4h.5M128.2 240.2h.5M94.7 255.3h.5M131.0 257.8h.5M86.7 256.0h.5M98.0 260.7h.5M90.4 246.0h.5" stroke="#6a6aff" stroke-width="0.5" opacity="0.5"/>
<circle cx="106.1" cy="238.2" r="17.2" fill="none" stroke="#111" stroke-width="1.3"/>
<line x1="123.3" y1="238.2" x2="141.5" y2="238.2" stroke="#333" stroke-width="0.8"/>
<path d="M148.4,238.2 L141,234.6 L141,241.8 Z" fill="#000"/>
<text x="79.80" y="218.80" font-size="10.8" text-anchor="start" fill="#222" stroke="#222" stroke-width="0.18" textLength="18.36" lengthAdjust="spacingAndGlyphs">10.1</text>
<path d="M89.6 343.5h.6M99.2 340.3h.6M77.4 335.8h.6M96.5 341.4h.6M115.5 345.9h.6M97.9 348.2h.6M104.8 341.9h.6M75.8 335.5h.6M92.0 340.4h.6M88.0 334.3h.6M81.9 341.0h.6M114.2 341.5h.6M71.4 346.7h.6M103.1 335.8h.6M96.8 343.3h.6M124.5 341.1h.6M78.7 344.0h.6M111.0 341.8h.6M91.7 339.4h.6M72.5 335.2h.6M113.6 346.3h.6M104.0 343.0h.6M73.2 345.3h.6M92.4 341.2h.6M112.3 344.5h.6M106.4 349.7h.6M114.8 339.6h.6M94.0 344.8h.6M81.6 338.1h.6M104.3 345.6h.6M94.2 337.6h.6M92.6 343.5h.6M85.6 342.4h.6M70.2 341.6h.6M103.0 343.7h.6M99.0 342.1h.6M118.0 348.8h.6M89.8 339.2h.6M84.7 335.3h.6M109.7 348.1h.6M101.7 342.9h.6M111.8 348.4h.6M65.0 345.2h.6M120.4 345.3h.6M104.3 345.4h.6M110.2 344.6h.6M102.5 338.7h.6M107.6 348.6h.6M100.9 341.5h.6M71.1 343.5h.6M103.0 351.2h.6M73.5 347.0h.6M120.5 342.7h.6M79.6 354.1h.6M90.8 342.3h.6M111.8 336.7h.6M99.8 337.5h.6M94.1 345.3h.6M107.8 346.9h.6M91.7 338.1h.6M66.3 347.2h.6M104.7 343.9h.6M109.9 338.4h.6M98.5 342.6h.6M96.3 343.4h.6M100.8 345.1h.6M79.9 335.9h.6M74.5 347.4h.6M101.3 336.7h.6M103.8 349.5h.6M82.7 342.7h.6M117.1 341.1h.6M107.2 344.0h.6M79.7 337.9h.6M97.2 343.7h.6M98.7 345.6h.6M91.4 343.0h.6M81.6 349.1h.6M87.8 342.6h.6M100.8 337.0h.6M96.4 346.2h.6M104.6 337.0h.6M114.7 342.4h.6M108.0 349.3h.6M118.8 345.1h.6M94.5 348.0h.6M84.3 350.3h.6M98.2 342.1h.6M95.9 333.4h.6M109.8 350.3h.6M90.6 343.6h.6M117.0 339.1h.6M86.9 341.3h.6M105.1 349.7h.6M86.1 350.2h.6M94.9 345.2h.6M95.7 334.5h.6M90.5 345.6h.6M81.0 344.3h.6M104.5 341.8h.6M112.9 341.3h.6M91.8 344.9h.6M94.0 337.3h.6M108.0 342.9h.6M114.1 348.2h.6M105.6 344.3h.6M107.9 339.5h.6M104.5 347.0h.6M113.4 339.5h.6M103.3 337.3h.6M91.0 341.7h.6M127.0 341.8h.6M123.3 347.9h.6M74.0 338.8h.6M93.6 350.4h.6M97.0 340.1h.6M88.8 348.5h.6M113.6 339.7h.6M109.6 348.0h.6M114.4 344.6h.6M98.5 342.3h.6M81.2 342.4h.6M106.3 335.6h.6M87.4 344.4h.6M95.8 343.2h.6M93.8 332.7h.6M106.4 346.1h.6M94.1 341.9h.6M85.3 343.9h.6M89.4 335.1h.6M97.9 342.4h.6M73.2 345.5h.6M108.8 340.2h.6M101.6 339.3h.6M77.3 344.8h.6M101.7 342.1h.6M108.6 340.9h.6M113.5 344.3h.6M93.5 354.0h.6M72.3 341.3h.6M99.4 341.6h.6M115.9 338.5h.6M132.0 347.0h.6M83.7 335.2h.6M109.0 346.1h.6M87.5 340.5h.6M106.7 348.4h.6M119.5 346.2h.6M109.9 355.3h.6M98.5 345.6h.6M64.8 338.0h.6M104.2 350.4h.6M100.2 347.5h.6M95.5 350.0h.6M97.1 345.0h.6M88.2 347.6h.6M90.4 343.0h.6M92.4 337.0h.6M85.8 342.7h.6M78.5 338.0h.6M123.7 340.7h.6M103.1 342.8h.6M110.9 340.3h.6M126.1 347.9h.6M89.0 354.1h.6M107.3 345.6h.6M92.3 338.5h.6M110.9 339.6h.6M89.3 340.8h.6M116.4 342.4h.6M107.3 346.4h.6M77.7 345.6h.6M96.6 344.9h.6M105.6 341.1h.6M118.4 341.3h.6M86.3 345.5h.6M89.9 340.3h.6M78.7 339.6h.6M106.9 339.4h.6M95.3 345.6h.6M100.3 340.8h.6M96.9 348.5h.6M123.3 342.0h.6M111.4 344.6h.6M89.3 344.1h.6M119.0 340.2h.6M89.1 354.9h.6M110.3 337.7h.6M93.7 341.2h.6M98.3 344.7h.6M94.8 345.5h.6M97.4 346.2h.6M94.3 343.0h.6M92.4 347.1h.6M85.0 347.3h.6M104.6 346.6h.6M111.4 341.3h.6M89.6 343.4h.6M85.3 344.4h.6M122.6 343.6h.6M111.3 342.8h.6M93.3 338.6h.6M89.1 353.6h.6M117.4 342.7h.6M109.7 347.9h.6M111.5 340.8h.6M88.9 336.8h.6M104.7 342.0h.6M85.8 342.2h.6M74.6 348.3h.6M91.8 344.0h.6M118.2 345.5h.6M88.8 341.8h.6M109.1 342.0h.6M116.5 344.2h.6M76.9 345.6h.6M113.3 346.1h.6M102.5 347.0h.6M69.6 336.9h.6M109.9 341.1h.6M115.6 350.3h.6M88.1 346.5h.6M95.0 347.4h.6M128.2 342.1h.6M118.6 347.1h.6M102.1 340.0h.6M111.6 332.4h.6M69.6 347.7h.6M110.8 347.9h.6M106.8 344.9h.6M68.2 344.8h.6M103.5 343.3h.6M122.4 341.6h.6M111.1 345.8h.6M111.3 341.1h.6M75.8 341.0h.6M98.3 341.0h.6M103.8 347.4h.6M93.8 343.0h.6M111.1 336.0h.6M91.6 348.7h.6M94.6 343.6h.6M109.7 343.5h.6M125.4 341.1h.6M76.5 344.5h.6M110.2 340.5h.6M75.1 343.7h.6M98.2 345.6h.6M89.8 357.3h.6M120.7 346.4h.6M81.1 340.6h.6M112.3 338.8h.6M75.2 344.4h.6M111.1 347.0h.6M72.2 339.5h.6M100.7 344.7h.6M84.9 351.6h.6M103.9 345.4h.6M95.8 347.9h.6M110.0 341.2h.6M93.4 348.6h.6M114.6 341.3h.6M99.0 340.6h.6M118.8 347.5h.6M68.7 341.0h.6M108.6 337.5h.6M90.8 349.8h.6M95.5 341.6h.6M73.5 339.5h.6M116.1 343.8h.6M85.9 347.0h.6M80.3 351.6h.6M105.0 344.9h.6M99.7 346.2h.6M114.5 339.7h.6M107.0 338.7h.6M79.4 342.3h.6M98.3 341.2h.6M92.2 343.8h.6M112.3 334.3h.6M85.1 343.9h.6M80.0 349.6h.6M113.6 339.6h.6M99.2 339.4h.6M97.1 342.4h.6M102.2 340.5h.6M103.2 341.5h.6M99.1 345.7h.6M102.1 344.7h.6M88.5 336.2h.6M120.9 347.0h.6M98.2 342.1h.6M118.7 348.3h.6M92.8 343.3h.6M106.4 345.7h.6M118.4 346.0h.6M98.7 335.7h.6M106.9 342.0h.6M105.8 341.8h.6M94.1 344.9h.6M118.3 334.8h.6M111.2 342.1h.6M107.4 347.8h.6M96.5 340.2h.6M91.8 342.5h.6M95.8 343.1h.6M100.0 346.2h.6M91.6 352.7h.6M106.5 345.2h.6M74.5 343.2h.6M84.6 347.8h.6M103.9 347.1h.6M90.4 345.5h.6M99.0 345.5h.6M105.7 343.2h.6M104.2 344.9h.6M99.8 336.5h.6M94.0 343.0h.6M94.5 345.3h.6M93.7 349.2h.6M82.4 354.5h.6M80.1 345.3h.6M90.6 351.8h.6M100.1 344.9h.6M107.2 339.2h.6M93.9 340.9h.6M115.4 343.4h.6M110.7 346.3h.6M94.6 341.8h.6M107.4 346.9h.6M92.1 342.3h.6M134.9 337.9h.6M135.5 348.1h.6M87.3 348.4h.6M105.7 343.3h.6M110.7 337.4h.6M93.8 350.2h.6M87.6 341.7h.6M103.3 337.3h.6M84.2 346.3h.6M85.8 340.7h.6M85.9 343.7h.6M98.8 341.3h.6M97.9 348.6h.6M92.4 341.7h.6M102.0 344.2h.6M118.5 346.2h.6M112.5 342.6h.6M94.3 341.1h.6M93.1 342.0h.6M120.2 346.8h.6M100.9 335.6h.6M104.6 349.6h.6M86.3 343.6h.6M81.5 350.7h.6M113.6 344.3h.6M110.7 341.2h.6M92.2 347.3h.6M94.2 343.7h.6M70.1 340.4h.6M90.3 349.9h.6M89.9 343.5h.6M94.3 338.4h.6M115.4 347.6h.6M85.8 337.7h.6M82.7 341.2h.6M108.9 339.3h.6M84.4 346.6h.6M118.4 342.3h.6M73.1 353.1h.6M96.5 344.3h.6M125.4 345.7h.6M83.6 349.3h.6M129.2 345.0h.6M94.3 345.1h.6M90.1 346.8h.6M84.9 348.6h.6M98.3 349.8h.6M70.5 338.1h.6M109.7 344.9h.6M96.4 344.1h.6M90.3 347.7h.6M110.7 339.1h.6M107.6 341.4h.6M91.3 337.9h.6M112.6 343.0h.6M82.9 347.0h.6M100.5 341.5h.6M91.8 339.9h.6M72.5 343.3h.6M86.9 348.5h.6M87.5 347.0h.6M68.9 343.6h.6M104.6 335.2h.6M86.0 342.6h.6M89.2 345.2h.6M97.7 341.5h.6M101.7 341.8h.6M95.1 344.8h.6M103.4 338.7h.6M104.7 351.0h.6M90.6 340.4h.6M103.3 339.0h.6M88.3 342.7h.6M80.8 346.9h.6M73.6 345.6h.6M99.2 344.2h.6M89.4 335.0h.6M88.8 342.0h.6M122.0 341.7h.6M63.5 345.5h.6M77.7 342.2h.6M99.9 338.7h.6M78.7 340.9h.6M83.9 342.8h.6M103.1 345.4h.6M93.0 340.0h.6M85.9 344.9h.6M100.6 342.0h.6M102.5 347.7h.6M107.7 337.7h.6M97.2 349.4h.6M91.9 344.6h.6M102.0 346.5h.6M105.8 339.1h.6M83.1 341.7h.6M95.5 342.4h.6M102.4 345.4h.6M96.6 351.3h.6M92.9 341.1h.6M121.2 334.3h.6M95.0 343.5h.6M102.0 342.0h.6M73.8 338.1h.6M110.4 340.8h.6M83.6 348.3h.6M128.3 349.1h.6M96.7 341.0h.6M116.6 348.0h.6M114.6 341.2h.6M115.5 333.9h.6M108.4 342.0h.6M106.3 341.2h.6M117.6 348.9h.6M88.5 348.5h.6M78.8 348.1h.6M99.4 348.0h.6M103.7 345.5h.6M113.9 342.5h.6M97.5 349.3h.6M83.5 343.7h.6M110.4 342.2h.6M77.8 346.5h.6M128.0 341.3h.6M111.1 341.8h.6M92.0 335.4h.6M136.8 344.9h.6M75.3 338.2h.6M79.3 334.5h.6M88.4 336.2h.6M99.2 349.0h.6M84.2 353.7h.6M80.1 349.5h.6M119.7 349.5h.6M107.3 340.0h.6M110.6 341.0h.6M109.4 342.9h.6M121.5 347.8h.6M98.9 346.4h.6M123.8 337.2h.6M77.1 336.7h.6M99.6 338.9h.6M127.4 345.3h.6M113.8 334.0h.6M82.8 344.2h.6M110.9 337.5h.6M117.9 337.7h.6M108.5 337.3h.6M84.0 343.2h.6M76.0 338.6h.6M96.7 338.6h.6M102.8 343.6h.6M84.7 338.6h.6M100.1 341.1h.6M80.9 347.0h.6M95.6 345.1h.6M107.9 347.8h.6M125.8 341.8h.6M100.4 334.9h.6M87.5 336.2h.6M90.8 348.0h.6M96.9 340.0h.6M87.2 335.8h.6M101.1 340.6h.6M89.8 344.8h.6M123.7 336.0h.6M106.0 341.3h.6M130.2 340.2h.6M85.3 338.5h.6M131.8 336.8h.6M105.4 349.9h.6M105.4 347.3h.6M87.5 344.9h.6M110.2 345.6h.6M105.1 342.7h.6M94.9 338.8h.6M112.5 341.1h.6M94.5 341.4h.6M95.8 340.6h.6M114.9 337.5h.6M93.9 348.4h.6M118.2 349.7h.6M93.4 349.9h.6M84.6 345.6h.6M105.6 346.3h.6M96.5 349.5h.6M110.0 341.1h.6M91.3 338.9h.6M106.0 343.6h.6M87.8 349.5h.6M88.8 337.0h.6M91.7 336.5h.6M97.7 345.4h.6M110.6 344.8h.6M101.1 353.0h.6M133.5 343.2h.6M117.8 342.2h.6M97.9 342.1h.6M97.5 349.5h.6M93.1 347.6h.6M70.9 351.8h.6M79.6 341.3h.6M96.9 348.6h.6M125.9 339.6h.6M106.9 346.2h.6M89.9 342.9h.6M101.3 344.3h.6M119.1 349.8h.6M110.6 337.1h.6M108.9 341.8h.6M112.8 339.2h.6M98.9 340.0h.6M85.8 352.0h.6M78.6 356.4h.6M98.7 340.9h.6M111.2 338.3h.6M99.5 342.0h.6M104.4 346.0h.6M109.4 344.2h.6M93.6 338.9h.6M132.3 343.1h.6M111.6 344.4h.6M93.6 338.5h.6M69.0 343.8h.6M103.2 341.7h.6M123.1 348.3h.6M101.8 345.8h.6M86.0 343.2h.6M113.4 339.7h.6M63.4 337.5h.6M78.8 342.5h.6M92.8 344.3h.6M100.6 336.8h.6M100.6 342.7h.6M88.5 337.4h.6M82.2 347.0h.6M125.2 340.9h.6M101.5 344.9h.6M108.7 337.8h.6M96.7 343.1h.6M119.5 342.2h.6M110.7 342.2h.6M95.2 336.3h.6M116.8 341.9h.6M99.1 344.7h.6M89.8 340.3h.6M103.4 344.0h.6M112.0 342.1h.6M90.4 345.0h.6M127.3 341.5h.6M122.9 348.0h.6M111.6 349.9h.6M92.5 350.6h.6M93.7 341.6h.6M82.1 343.7h.6M102.5 339.8h.6M94.8 341.3h.6M83.7 336.2h.6" stroke="#3030ff" stroke-width="0.6" opacity="0.7"/>
<path d="M129.7 352.1h.9M96.1 349.5h.9M94.7 341.7h.9M97.3 339.0h.9M111.2 334.1h.9M107.2 353.4h.9M131.4 339.8h.9M98.9 338.3h.9M96.2 346.8h.9M112.6 334.6h.9M99.5 338.5h.9M130.7 340.6h.9M96.5 344.6h.9M124.2 336.8h.9M125.5 337.5h.9M112.4 352.8h.9M109.1 335.6h.9M99.3 339.9h.9M101.4 338.5h.9M121.8 351.6h.9M130.3 343.3h.9M101.7 349.1h.9M104.2 337.7h.9M113.7 335.8h.9M101.2 339.3h.9M98.6 344.3h.9M120.3 336.6h.9M125.7 349.1h.9M101.8 339.1h.9M100.3 340.5h.9M127.8 340.4h.9M113.1 336.0h.9M113.9 336.2h.9M115.6 336.2h.9M110.0 336.5h.9M117.2 336.5h.9M111.2 351.5h.9M105.3 337.7h.9M123.1 350.1h.9M124.1 349.5h.9M121.9 337.8h.9M110.2 351.3h.9M116.7 351.3h.9" stroke="#2828ff" stroke-width="0.9"/>
<path d="M100.9 346.8h.9M113.2 351.3h.9M100.3 342.2h.9M118.4 351.1h.9M120.5 337.6h.9M126.7 340.8h.9M124.7 339.6h.9M123.8 339.3h.9M105.1 338.7h.9M103.5 339.8h.9M104.6 349.2h.9M125.3 340.3h.9M106.4 349.6h.9M126.6 342.8h.9M120.1 349.9h.9M109.3 337.6h.9M109.1 350.1h.9M113.7 337.3h.9M102.5 341.1h.9M125.9 342.1h.9M102.0 345.7h.9M122.2 349.0h.9M102.8 341.3h.9M104.6 348.5h.9M101.7 345.7h.9M124.9 347.2h.9M126.5 343.2h.9M117.6 337.9h.9M125.5 341.9h.9M104.0 340.1h.9M125.6 341.7h.9M102.1 345.4h.9M118.7 338.1h.9M125.9 342.4h.9M103.5 340.9h.9M102.6 345.9h.9M121.3 339.1h.9M103.8 340.5h.9M118.9 338.5h.9M110.1 349.9h.9M114.5 337.8h.9M104.5 347.7h.9M102.3 344.8h.9M122.1 348.4h.9M114.7 350.2h.9" stroke="#2830ff" stroke-width="0.9"/>
<path d="M102.9 346.1h.9M105.9 339.7h.9M102.8 345.4h.9M102.8 342.7h.9M109.0 338.5h.9M108.1 338.7h.9M125.8 344.4h.9M122.4 340.1h.9M119.0 338.7h.9M104.5 341.0h.9M112.9 338.0h.9M124.5 341.7h.9M124.9 346.0h.9M102.9 342.6h.9M104.4 346.9h.9M124.1 346.1h.9M124.5 342.0h.9M106.9 339.3h.9M124.5 342.6h.9M118.2 349.4h.9M105.3 340.4h.9M118.9 349.2h.9M112.3 338.5h.9M110.3 338.7h.9M109.0 349.0h.9M116.5 338.4h.9M104.6 341.4h.9M103.8 342.8h.9M122.8 340.9h.9M125.0 343.5h.9M106.9 348.4h.9M124.9 343.9h.9M122.5 340.8h.9M110.1 349.0h.9M104.5 346.1h.9M122.2 340.5h.9M121.8 340.4h.9M103.6 344.0h.9M110.4 349.3h.9M103.4 343.8h.9M122.9 341.2h.9" stroke="#2839ff" stroke-width="0.9"/>
<path d="M103.7 344.4h.9M104.7 346.2h.9M110.7 338.8h.9M106.6 347.8h.9M116.9 338.9h.9M120.8 340.0h.9M122.9 341.5h.9M123.8 343.1h.9M104.1 343.9h.9M104.4 344.7h.9M122.4 347.1h.9M114.0 339.0h.9M123.7 345.0h.9M122.0 340.8h.9M107.8 347.9h.9M124.0 343.4h.9M114.2 339.0h.9M121.0 347.9h.9M114.3 349.3h.9M107.0 347.7h.9M112.5 349.1h.9M112.1 349.2h.9M121.2 347.3h.9M109.4 339.5h.9M112.4 349.3h.9M116.1 349.1h.9M121.9 341.1h.9M106.0 347.0h.9M104.1 344.4h.9M108.2 339.7h.9M114.1 349.2h.9M123.3 343.0h.9M107.4 340.3h.9M104.7 345.4h.9M107.8 347.9h.9M106.5 340.7h.9M111.9 339.0h.9M117.7 339.5h.9M121.6 346.9h.9M111.1 348.5h.9M108.7 348.2h.9M122.0 346.4h.9M115.0 348.9h.9M110.6 348.4h.9M108.4 340.0h.9M105.2 345.5h.9M114.4 339.3h.9M117.5 348.8h.9M114.1 339.1h.9" stroke="#2842ff" stroke-width="0.9"/>
<path d="M104.6 343.2h.9M122.6 345.3h.9M107.1 347.3h.9M119.1 340.1h.9M116.8 348.4h.9M120.6 340.8h.9M105.5 345.3h.9M121.6 346.5h.9M117.5 339.5h.9M105.2 345.0h.9M119.4 347.5h.9M121.7 341.8h.9M114.8 339.3h.9M121.6 341.9h.9M115.2 339.2h.9M122.6 345.7h.9M122.2 342.7h.9M123.2 344.2h.9M109.0 339.9h.9M122.7 343.5h.9M107.7 341.0h.9M121.4 346.2h.9M120.1 347.0h.9M122.4 342.6h.9M119.5 340.5h.9M107.9 347.5h.9M108.0 347.2h.9M121.2 346.9h.9M107.6 340.6h.9M107.3 341.2h.9M121.0 346.9h.9M114.9 339.4h.9M109.5 340.3h.9M114.9 348.6h.9M110.1 347.9h.9M105.5 343.3h.9M114.1 339.5h.9M105.0 344.4h.9M119.9 347.1h.9M106.9 341.2h.9M113.4 339.6h.9M110.3 340.1h.9M119.7 347.5h.9M105.3 344.5h.9M122.6 344.2h.9M107.2 341.6h.9M121.5 345.8h.9M105.7 344.6h.9" stroke="#284bff" stroke-width="0.9"/>
<path d="M106.9 346.5h.9M116.9 348.2h.9M107.1 346.7h.9M111.2 340.1h.9M107.3 341.9h.9M109.5 340.3h.9M115.6 339.9h.9M108.6 341.0h.9M118.3 340.5h.9M109.8 340.5h.9M122.4 343.7h.9M106.5 342.1h.9M108.4 341.0h.9M117.2 340.4h.9M116.3 348.1h.9M110.2 340.2h.9M122.2 343.8h.9M121.4 345.6h.9M116.2 348.1h.9M106.8 343.9h.9M107.6 346.6h.9M120.1 342.0h.9" stroke="#2854ff" stroke-width="0.9"/>
<path d="M108.5 346.4h.9M111.1 340.2h.9M106.5 342.7h.9M115.1 348.1h.9M118.4 340.9h.9M107.0 343.1h.9M110.0 347.2h.9M106.3 344.7h.9M107.1 342.3h.9M117.5 347.2h.9M106.8 345.5h.9M106.7 344.0h.9M114.5 339.9h.9M114.1 340.3h.9M106.5 344.3h.9M121.2 345.4h.9M108.7 346.8h.9M110.7 347.3h.9M107.7 345.4h.9M120.7 345.4h.9M114.0 340.1h.9M119.3 346.2h.9M111.7 347.6h.9M116.4 347.4h.9M108.3 342.2h.9M107.0 344.5h.9M117.5 347.4h.9M111.5 347.7h.9M117.4 347.1h.9M107.1 344.9h.9M118.3 341.2h.9M115.4 340.2h.9M106.5 343.7h.9M114.1 340.4h.9M107.4 344.5h.9M120.9 344.5h.9M115.8 347.6h.9M111.7 347.3h.9M116.7 347.1h.9" stroke="#285dff" stroke-width="0.9"/>
<path d="M110.6 341.0h.9M115.3 340.6h.9M107.4 344.3h.9M119.3 341.4h.9M114.1 340.6h.9M117.9 346.8h.9M116.1 340.7h.9M117.0 347.1h.9M121.2 344.2h.9M119.3 341.8h.9M111.4 347.0h.9M120.4 345.4h.9M120.1 344.3h.9M107.5 342.4h.9M119.2 342.0h.9M107.4 342.6h.9M120.0 345.2h.9M110.7 346.7h.9M109.0 341.9h.9M118.5 341.8h.9M113.7 347.6h.9M107.8 345.7h.9M116.3 347.1h.9M115.0 340.9h.9M108.9 341.9h.9M108.4 343.3h.9M109.7 342.0h.9M120.0 345.8h.9M120.4 342.6h.9" stroke="#2866ff" stroke-width="0.9"/>
<path d="M119.6 342.4h.9M116.1 346.9h.9M107.5 344.7h.9M119.9 343.8h.9M111.4 340.8h.9M111.5 341.2h.9M111.6 347.3h.9M109.0 345.4h.9M109.9 341.8h.9M117.3 341.5h.9M108.0 344.9h.9M111.9 346.9h.9M119.8 345.2h.9M116.8 340.9h.9M110.8 341.8h.9M117.0 346.9h.9M109.6 345.8h.9M120.4 344.2h.9M117.0 341.3h.9M117.6 341.7h.9M111.2 341.0h.9M119.9 343.7h.9M108.2 344.5h.9M119.4 345.7h.9M110.2 346.0h.9M108.3 345.1h.9M116.2 341.1h.9M109.1 345.6h.9M119.3 343.9h.9M119.7 343.6h.9M109.6 346.2h.9M116.0 341.2h.9M113.0 347.1h.9M118.0 345.9h.9M118.6 346.2h.9" stroke="#286fff" stroke-width="0.9"/>
<path d="M119.2 345.1h.9M120.2 343.3h.9M115.2 341.2h.9M117.6 346.7h.9M117.7 342.1h.9M119.6 343.1h.9M117.1 346.1h.9M116.7 346.4h.9M119.6 343.1h.9M119.5 345.0h.9M118.4 345.2h.9M109.7 344.8h.9M118.4 345.7h.9M117.8 341.8h.9M114.8 346.7h.9M109.1 343.0h.9M117.9 342.0h.9M112.7 341.2h.9M108.9 344.1h.9M111.5 341.8h.9M116.4 341.7h.9M118.5 342.2h.9M116.2 346.3h.9M119.3 344.1h.9M109.1 343.7h.9M117.9 346.0h.9M110.9 341.9h.9M117.7 346.1h.9" stroke="#2878ff" stroke-width="0.9"/>
<path d="M116.8 345.8h.9M110.0 345.6h.9M116.4 345.8h.9M113.3 341.4h.9M118.6 344.1h.9M114.9 346.6h.9M117.7 345.6h.9M111.5 346.4h.9M117.4 345.7h.9M109.6 345.8h.9M117.6 342.0h.9M118.9 345.5h.9M112.8 341.8h.9M112.0 346.0h.9M110.2 343.3h.9M118.6 345.0h.9M109.5 342.3h.9M110.9 346.2h.9M109.9 343.5h.9M118.2 345.0h.9M118.2 344.4h.9M116.2 342.3h.9M111.9 341.6h.9M111.8 341.7h.9M110.3 342.6h.9M113.0 341.6h.9M117.3 345.6h.9M110.6 346.1h.9M115.3 346.1h.9M118.4 343.7h.9M111.0 342.1h.9M117.9 344.3h.9M113.2 341.7h.9M117.3 345.6h.9M118.7 343.8h.9M115.5 342.0h.9M117.6 344.1h.9" stroke="#2592f4" stroke-width="0.9"/>
<path d="M113.0 346.4h.9M117.9 342.2h.9M110.6 342.2h.9M110.0 342.6h.9M109.4 344.9h.9M110.7 343.4h.9M109.8 343.7h.9M110.2 343.1h.9M117.2 344.1h.9M117.2 342.9h.9M116.7 343.0h.9M111.4 345.1h.9M116.3 342.7h.9M110.8 345.2h.9M112.3 342.2h.9M117.5 342.8h.9M117.8 344.9h.9M115.5 342.5h.9M110.6 345.0h.9M111.8 341.9h.9" stroke="#22acea" stroke-width="0.9"/>
<path d="M116.1 345.0h.9M112.5 342.2h.9M112.3 345.0h.9M116.5 344.4h.9M116.2 345.0h.9M116.0 344.8h.9M114.8 346.2h.9M115.6 346.0h.9M117.8 344.8h.9M116.0 344.6h.9M117.2 344.8h.9M115.2 345.8h.9M114.5 345.0h.9M111.8 343.5h.9M115.3 346.0h.9M115.1 346.1h.9M112.6 345.4h.9" stroke="#1fc7e0" stroke-width="0.9"/>
<path d="M115.7 345.4h.9M114.2 345.5h.9M116.5 344.9h.9M116.1 345.4h.9M113.0 344.6h.9M114.5 343.0h.9M117.4 343.4h.9M114.7 345.4h.9M112.4 344.8h.9M113.9 345.4h.9M113.3 343.9h.9M113.4 344.9h.9M113.6 342.5h.9M116.0 345.4h.9M112.8 342.9h.9M116.7 344.7h.9M113.4 344.1h.9M113.6 343.3h.9" stroke="#24d5b9" stroke-width="0.9"/>
<path d="M111.9 345.0h.9M116.0 344.5h.9M116.6 343.0h.9M117.2 344.1h.9M114.7 343.8h.9M114.2 345.4h.9M116.5 344.0h.9M112.0 344.9h.9M112.8 344.8h.9M112.0 343.3h.9M115.2 345.0h.9M113.7 343.8h.9" stroke="#2fda80" stroke-width="0.9"/>
<path d="M114.4 344.9h.9M114.5 342.6h.9M116.0 344.6h.9M111.6 344.2h.9M115.0 345.2h.9M113.2 343.9h.9M112.4 344.6h.9M113.1 343.6h.9M114.1 344.9h.9M114.8 344.7h.9M115.4 344.4h.9M114.5 344.6h.9M114.5 344.9h.9" stroke="#39df47" stroke-width="0.9"/>
<path d="M114.6 344.1h.9M114.8 343.8h.9M113.3 344.1h.9M114.2 344.0h.9" stroke="#6be236" stroke-width="0.9"/>
<path d="M82.1 357.0h.9M133.0 350.1h.9M136.5 340.4h.9M66.4 334.1h.9M129.9 337.8h.9M65.8 335.7h.9M95.0 331.2h.9M92.1 331.5h.9M118.5 334.0h.9M119.2 334.5h.9M65.5 348.9h.9M130.6 341.5h.9M117.8 334.4h.9M115.6 352.4h.9M69.3 336.0h.9M110.4 353.4h.9M65.3 338.6h.9M83.6 353.2h.9M102.9 332.6h.9M65.4 338.7h.9M128.6 345.8h.9M81.7 333.5h.9M123.2 337.0h.9M116.2 334.8h.9M104.4 353.3h.9M109.1 352.8h.9M65.7 340.4h.9M71.5 336.9h.9M121.0 337.0h.9M90.8 353.2h.9M73.3 350.0h.9M65.9 341.9h.9M76.2 335.7h.9M126.2 345.4h.9M115.6 350.7h.9M123.6 347.5h.9M92.4 353.0h.9M100.9 352.9h.9M79.5 351.5h.9M79.0 335.2h.9M121.9 347.7h.9M113.2 335.4h.9M83.5 352.0h.9M94.3 333.5h.9M116.1 336.2h.9M106.2 334.0h.9M91.4 333.6h.9M120.6 338.0h.9M125.3 344.6h.9M120.9 337.8h.9M124.3 340.8h.9M124.1 340.4h.9M118.0 349.4h.9M91.5 352.7h.9M72.1 348.6h.9M119.9 337.6h.9M86.9 352.3h.9M113.6 350.5h.9M101.5 352.4h.9M78.2 335.9h.9M118.9 337.3h.9M68.6 345.4h.9M124.1 344.7h.9M116.4 349.8h.9" stroke="#2828ff" stroke-width="0.9"/>
<path d="M77.6 336.1h.9M123.0 341.3h.9M118.8 338.0h.9M123.1 345.2h.9M113.4 336.3h.9M118.1 348.6h.9M109.7 335.3h.9M104.3 334.8h.9M69.0 344.2h.9M103.5 334.6h.9M105.5 334.9h.9M69.1 342.4h.9M103.4 334.6h.9M122.7 344.4h.9M117.9 348.7h.9M116.5 348.8h.9M72.5 347.2h.9M121.9 341.0h.9M111.0 335.7h.9M114.4 336.6h.9M71.7 339.5h.9M72.0 339.3h.9M85.6 351.1h.9M116.1 337.3h.9M70.7 340.4h.9M108.7 350.9h.9M93.0 334.6h.9M99.3 351.9h.9M115.2 337.0h.9M83.7 350.8h.9M77.1 337.0h.9M114.0 349.5h.9M87.7 351.5h.9M122.3 342.0h.9M117.9 348.3h.9M92.4 334.7h.9M118.3 339.0h.9M70.0 342.3h.9M73.4 339.2h.9M77.2 349.2h.9M92.6 351.6h.9M86.0 350.9h.9M77.1 349.0h.9M112.3 336.6h.9M76.6 348.5h.9M90.0 334.9h.9M70.2 342.0h.9M121.9 342.5h.9M75.1 348.3h.9M93.5 351.4h.9M89.0 335.3h.9M85.3 335.7h.9M94.7 335.0h.9M111.4 336.6h.9M78.6 337.2h.9M87.4 351.1h.9M70.9 345.2h.9M120.8 345.3h.9M108.1 350.7h.9M119.4 340.0h.9M115.5 338.3h.9M119.2 340.2h.9M83.9 350.3h.9M87.6 350.9h.9M118.9 340.1h.9M119.6 340.7h.9M73.6 339.4h.9M118.0 339.8h.9M86.6 350.8h.9M80.8 349.5h.9M114.5 348.4h.9M119.9 341.8h.9M117.6 339.2h.9M71.1 343.1h.9M103.7 335.7h.9M76.7 348.2h.9M115.5 348.1h.9M72.1 341.8h.9M79.9 348.9h.9M72.7 344.7h.9M107.3 350.1h.9M74.1 340.3h.9M81.2 337.2h.9M105.1 350.3h.9M116.8 339.4h.9M98.0 350.9h.9M83.0 349.9h.9M89.2 335.6h.9M110.4 337.0h.9M78.5 348.5h.9M84.9 336.3h.9M115.8 347.5h.9M104.6 350.4h.9M118.9 341.6h.9M75.0 339.3h.9M119.5 344.6h.9M118.9 344.6h.9M97.4 350.8h.9M86.6 350.4h.9M89.8 350.6h.9M79.0 348.3h.9M98.0 335.5h.9M85.8 336.2h.9M72.5 342.3h.9" stroke="#2830ff" stroke-width="0.9"/>
<path d="M117.1 346.7h.9M78.7 337.9h.9M116.4 339.1h.9M83.9 349.7h.9M119.1 343.4h.9M78.9 348.2h.9M104.6 336.1h.9M118.3 345.8h.9M74.4 340.2h.9M116.7 346.6h.9M116.5 339.5h.9M84.1 336.9h.9M86.1 336.4h.9M99.4 335.6h.9M114.2 338.9h.9M79.8 348.8h.9M104.0 336.0h.9M89.9 336.1h.9M113.2 348.4h.9M93.7 335.8h.9M107.6 337.0h.9M75.3 345.9h.9M80.8 348.6h.9M93.6 335.8h.9M75.0 346.4h.9M119.0 343.1h.9M78.0 338.4h.9M94.1 335.9h.9M95.6 335.7h.9M92.4 350.4h.9M74.3 344.6h.9M90.0 336.1h.9M108.7 349.1h.9M112.1 338.3h.9M80.0 348.4h.9M117.9 343.6h.9M75.8 339.7h.9M117.9 343.0h.9M96.4 335.7h.9M78.9 348.2h.9M116.8 345.5h.9M116.3 339.7h.9M74.4 345.4h.9M77.0 339.7h.9M82.9 337.1h.9M78.2 338.5h.9M117.2 340.5h.9M75.1 340.1h.9M114.0 347.8h.9M90.8 336.1h.9M74.3 343.1h.9M109.5 349.1h.9M103.6 350.1h.9M74.7 341.6h.9M95.6 350.6h.9M115.2 346.8h.9M74.1 343.4h.9M80.5 348.3h.9M79.2 338.7h.9M105.5 336.7h.9M88.2 350.0h.9M92.0 336.3h.9M79.0 339.0h.9M75.7 340.1h.9M74.7 344.4h.9M86.6 336.8h.9M108.2 337.3h.9M110.0 337.9h.9M77.4 346.6h.9M103.1 336.4h.9M117.5 343.6h.9M99.8 336.1h.9M83.4 349.2h.9M103.3 349.9h.9M117.8 344.8h.9M79.0 347.7h.9M86.3 336.9h.9M108.0 349.0h.9M94.8 335.9h.9M87.3 336.7h.9M108.8 337.3h.9M95.6 336.3h.9M74.7 341.7h.9M90.5 336.6h.9M113.6 347.5h.9M103.3 349.6h.9M117.5 342.3h.9M103.1 349.7h.9M86.7 336.8h.9M101.1 336.4h.9M75.6 342.2h.9M90.2 336.5h.9M93.7 336.3h.9M91.5 350.0h.9M98.9 349.9h.9M110.5 348.5h.9M79.2 347.2h.9M88.6 349.9h.9M78.4 347.3h.9M103.3 336.6h.9" stroke="#2839ff" stroke-width="0.9"/>
<path d="M105.0 337.0h.9M85.7 349.1h.9M116.3 344.8h.9M76.6 345.7h.9M108.1 348.6h.9M117.1 344.6h.9M116.1 343.8h.9M116.5 342.7h.9M84.5 337.3h.9M92.2 336.7h.9M97.3 349.8h.9M78.1 339.8h.9M77.7 340.4h.9M75.5 344.1h.9M96.1 336.7h.9M76.0 344.7h.9M94.1 350.0h.9M76.0 341.8h.9M116.8 343.7h.9M79.5 338.9h.9M95.6 349.8h.9M95.0 336.6h.9M89.5 349.5h.9M115.5 345.5h.9M91.3 349.5h.9M88.9 349.5h.9M92.6 336.8h.9M76.1 343.3h.9M90.4 349.7h.9M77.7 346.5h.9M107.0 337.6h.9M90.2 349.6h.9M112.5 339.3h.9M114.6 340.8h.9M94.4 349.9h.9M115.7 342.5h.9M105.4 337.6h.9M76.4 341.7h.9M78.1 340.7h.9M104.1 336.9h.9M96.8 349.9h.9M78.6 346.7h.9M104.1 349.3h.9M108.7 348.5h.9M115.1 344.6h.9M112.5 339.7h.9M115.4 345.4h.9M95.4 336.8h.9M116.1 342.0h.9M115.8 343.5h.9M115.5 341.2h.9M94.4 349.6h.9M87.3 337.5h.9M80.5 339.1h.9M94.3 336.8h.9M76.5 342.2h.9M115.6 342.6h.9M112.8 339.6h.9M80.2 339.3h.9M98.0 336.8h.9M81.7 347.9h.9M102.5 349.3h.9M115.1 341.9h.9M114.9 345.5h.9M93.8 336.7h.9M79.2 346.5h.9M114.3 340.5h.9M112.0 347.0h.9M99.4 337.0h.9M110.9 338.9h.9M87.5 348.9h.9M82.7 347.7h.9M115.9 342.4h.9M84.5 348.6h.9M106.1 348.8h.9M78.6 340.0h.9M114.7 344.0h.9M101.3 349.3h.9M110.4 339.1h.9M113.7 340.1h.9M110.1 338.8h.9M92.6 349.6h.9M77.3 341.8h.9M77.2 341.2h.9M103.3 337.5h.9M107.7 338.2h.9M89.0 337.2h.9M86.4 337.9h.9M77.8 341.7h.9M89.7 337.5h.9M77.5 342.3h.9M90.9 337.3h.9M78.1 340.6h.9M104.1 348.8h.9M76.3 343.0h.9" stroke="#2842ff" stroke-width="0.9"/>
<path d="M115.1 342.4h.9M108.9 347.6h.9M115.4 342.9h.9M89.0 337.2h.9M105.8 338.1h.9M106.9 338.0h.9M99.4 337.2h.9M77.8 345.4h.9M83.7 348.0h.9M81.1 339.6h.9M79.8 340.1h.9M78.6 345.3h.9M76.9 344.6h.9M109.7 347.6h.9M104.3 337.7h.9M115.6 342.8h.9M92.7 349.2h.9M99.6 337.0h.9M109.8 347.3h.9M86.0 348.6h.9M109.8 347.5h.9M82.8 338.7h.9M98.0 336.9h.9M80.8 339.7h.9M109.5 339.1h.9M82.9 338.6h.9M86.9 348.6h.9M85.6 337.9h.9M80.9 346.5h.9M112.4 340.7h.9M114.5 342.8h.9M83.0 347.3h.9M92.6 349.3h.9M96.0 337.1h.9M91.0 349.0h.9M110.4 339.4h.9M78.4 344.6h.9M89.0 337.9h.9M113.8 345.3h.9M114.9 342.9h.9M80.6 346.5h.9M110.7 339.3h.9M113.8 342.9h.9M104.6 337.8h.9M78.8 341.0h.9M108.3 347.5h.9M112.4 340.6h.9M86.3 338.3h.9M81.7 346.9h.9M114.3 341.9h.9M114.0 344.4h.9M79.3 346.2h.9M79.8 346.1h.9M114.4 343.2h.9M93.8 337.4h.9M108.5 347.6h.9M113.3 344.9h.9M112.9 344.7h.9M92.6 349.3h.9M108.8 347.4h.9M87.5 348.7h.9M113.8 343.8h.9M103.4 348.7h.9M99.1 337.4h.9M104.6 348.4h.9M102.2 348.9h.9M94.0 349.0h.9M89.3 337.6h.9M101.7 337.7h.9M89.6 337.6h.9M114.1 342.4h.9M99.6 349.1h.9M113.3 344.4h.9M79.9 340.7h.9M112.9 342.3h.9M79.2 345.5h.9M102.8 337.8h.9M79.0 345.2h.9M114.4 342.8h.9" stroke="#284bff" stroke-width="0.9"/>
<path d="M103.5 348.6h.9M95.3 349.1h.9M82.8 346.7h.9M113.0 343.9h.9M99.9 337.7h.9M81.8 346.2h.9M113.7 343.5h.9M95.3 337.7h.9M81.7 346.9h.9M82.6 339.3h.9M98.9 337.6h.9M78.3 342.6h.9M94.4 348.8h.9M82.4 346.5h.9M79.3 343.7h.9M111.9 340.9h.9M112.1 345.5h.9M112.8 341.3h.9M85.8 348.1h.9M108.9 347.3h.9M112.7 341.9h.9M82.3 339.4h.9M82.6 346.9h.9M109.5 346.6h.9M88.5 348.3h.9M88.6 348.2h.9M78.5 342.2h.9M101.7 337.7h.9M105.0 347.9h.9M99.8 348.9h.9M82.1 339.7h.9M99.2 348.8h.9M78.9 344.9h.9M103.0 337.8h.9M103.0 348.6h.9M104.6 338.6h.9M82.4 346.9h.9M80.1 345.1h.9M111.6 346.0h.9M102.3 338.0h.9M95.6 337.5h.9M97.7 337.7h.9M100.5 348.6h.9M94.1 348.7h.9M110.9 345.7h.9M91.1 338.1h.9M86.7 348.0h.9M110.0 340.3h.9M81.0 340.6h.9M105.5 338.7h.9M112.7 344.4h.9M112.1 342.4h.9M90.7 338.1h.9M84.7 339.3h.9M80.6 340.9h.9M79.4 345.0h.9M91.9 348.7h.9M104.7 338.3h.9M80.0 341.9h.9M110.1 340.0h.9M108.9 346.8h.9M100.2 348.2h.9M87.9 347.7h.9M87.5 338.6h.9M84.4 339.5h.9M85.0 347.0h.9M109.7 340.4h.9M113.0 344.2h.9M81.1 341.6h.9M79.9 342.5h.9M80.1 344.2h.9M86.6 347.5h.9M109.6 340.5h.9M79.2 342.2h.9" stroke="#2854ff" stroke-width="0.9"/>
<path d="M101.2 338.2h.9M85.0 347.0h.9M78.9 343.5h.9M102.4 348.0h.9M79.5 344.2h.9M94.1 348.3h.9M84.3 347.2h.9M105.6 347.4h.9M80.8 345.4h.9M98.6 348.3h.9M105.7 347.2h.9M112.1 342.3h.9M111.9 344.1h.9M112.7 343.9h.9M105.6 347.2h.9M93.5 348.4h.9M99.3 338.0h.9M93.2 348.5h.9M98.4 338.2h.9M111.4 341.7h.9M110.6 341.2h.9M112.7 342.6h.9M87.4 347.6h.9M96.6 348.7h.9M104.6 347.9h.9M95.0 337.8h.9M93.2 338.1h.9M99.6 338.1h.9M103.2 338.3h.9M111.1 344.1h.9M90.9 338.3h.9M80.8 341.5h.9M82.4 345.4h.9M100.8 348.1h.9M83.5 340.1h.9M91.0 338.3h.9M80.0 344.3h.9M110.4 345.3h.9M91.8 348.3h.9M86.0 339.4h.9M83.6 340.3h.9M80.3 343.7h.9M107.9 339.7h.9M82.3 341.2h.9M102.7 347.9h.9M109.2 340.9h.9M88.8 347.5h.9M82.7 340.5h.9M112.2 344.3h.9M109.9 345.1h.9M111.5 342.7h.9M112.1 342.0h.9M111.5 344.7h.9M99.6 348.1h.9M101.9 338.5h.9M110.0 340.4h.9M110.8 344.0h.9M108.7 346.4h.9M96.4 348.5h.9M82.5 340.6h.9M111.0 343.2h.9M93.7 338.2h.9M107.1 339.3h.9M103.2 338.9h.9M99.1 338.5h.9M83.5 340.2h.9M110.4 340.8h.9M90.7 347.9h.9M108.1 340.4h.9M88.5 338.9h.9M85.1 339.5h.9M111.9 342.6h.9M106.7 339.5h.9M109.0 346.2h.9M93.5 348.2h.9M84.0 346.3h.9M88.9 347.8h.9M83.3 345.9h.9M82.0 341.3h.9M93.5 348.1h.9M89.8 338.7h.9M100.8 347.7h.9M81.9 341.1h.9M98.5 348.2h.9M90.1 347.8h.9" stroke="#285dff" stroke-width="0.9"/>
<path d="M81.7 345.1h.9M83.8 345.8h.9M109.5 341.3h.9M105.6 347.1h.9M82.0 344.2h.9M101.2 338.5h.9M101.6 348.0h.9M109.2 341.2h.9M110.2 345.5h.9M110.0 343.9h.9M97.7 348.0h.9M89.9 348.0h.9M93.1 338.4h.9M100.6 338.7h.9M82.3 344.4h.9M102.2 338.6h.9M90.8 348.1h.9M102.4 338.8h.9M84.2 340.3h.9M111.0 342.5h.9M87.4 339.2h.9M82.2 340.9h.9M80.6 344.3h.9M92.0 347.9h.9M89.7 338.6h.9M107.7 340.3h.9M111.5 342.5h.9M110.3 342.9h.9M111.2 342.5h.9M81.2 344.8h.9M87.4 347.4h.9M94.9 338.6h.9M81.2 342.3h.9M94.9 338.5h.9M85.7 340.1h.9M83.1 341.1h.9M93.6 338.6h.9M82.5 340.7h.9M85.0 346.5h.9M109.4 344.8h.9M84.4 345.7h.9M108.2 345.4h.9M96.1 348.1h.9M97.8 338.5h.9M93.2 347.6h.9M86.4 346.4h.9M102.7 338.8h.9M85.9 339.5h.9M98.9 347.7h.9M87.7 346.9h.9M86.0 340.1h.9M83.5 340.8h.9M88.8 347.6h.9M110.3 342.3h.9M95.1 338.8h.9M92.8 348.1h.9M85.6 340.2h.9M91.3 339.0h.9M82.1 344.5h.9M83.1 345.2h.9M83.4 346.0h.9M96.3 347.7h.9M91.7 339.0h.9M85.1 346.0h.9M96.2 338.8h.9M86.4 339.8h.9M104.4 339.7h.9M106.2 346.8h.9M92.5 347.9h.9M89.7 347.4h.9M87.1 339.8h.9M106.4 346.3h.9M83.2 340.5h.9M96.0 347.9h.9M81.8 342.4h.9M81.7 341.6h.9M110.7 344.0h.9M82.6 341.2h.9" stroke="#2866ff" stroke-width="0.9"/>
<path d="M83.2 341.1h.9M97.8 338.7h.9M89.6 339.4h.9M90.4 339.0h.9M81.5 342.6h.9M92.0 347.5h.9M108.5 345.8h.9M109.8 342.2h.9M81.8 342.4h.9M100.2 338.6h.9M81.5 342.2h.9M81.6 343.4h.9M102.5 347.0h.9M107.4 340.8h.9M96.0 347.7h.9M95.0 338.8h.9M83.6 341.2h.9M91.3 339.0h.9M103.6 347.0h.9M84.6 340.7h.9M95.1 347.6h.9M107.4 345.4h.9M105.7 346.0h.9M86.1 346.1h.9M109.0 342.1h.9M85.2 346.4h.9M103.8 346.9h.9M108.7 345.1h.9M87.3 339.3h.9M81.7 344.2h.9M93.1 339.0h.9M92.5 339.0h.9M96.4 347.9h.9M81.4 342.9h.9M109.5 342.7h.9M108.1 340.5h.9M100.1 347.3h.9M85.9 345.7h.9M108.9 344.3h.9M83.5 345.5h.9M105.6 346.4h.9M84.4 340.4h.9M84.5 345.8h.9M94.0 347.3h.9M83.3 345.4h.9M109.4 344.3h.9M84.8 340.7h.9M105.1 346.1h.9M84.7 344.9h.9M94.5 338.8h.9M95.2 339.0h.9M104.1 346.5h.9M107.1 340.6h.9M106.4 340.8h.9M92.4 338.7h.9M92.2 338.8h.9M106.9 340.7h.9M82.8 343.3h.9M95.6 347.7h.9M104.9 346.7h.9M96.4 347.6h.9M104.0 339.8h.9M108.2 345.5h.9M104.4 346.7h.9M105.9 340.0h.9M104.4 340.1h.9M101.9 347.2h.9M84.3 345.5h.9M108.5 344.6h.9M94.6 338.6h.9" stroke="#286fff" stroke-width="0.9"/>
<path d="M104.6 340.4h.9M89.9 339.6h.9M86.6 345.8h.9M106.7 340.9h.9M109.9 344.0h.9M110.0 343.7h.9M107.5 344.7h.9M99.3 347.4h.9M106.7 345.5h.9M90.1 339.3h.9M108.8 343.7h.9M99.2 347.7h.9M105.6 346.4h.9M97.7 347.1h.9M88.8 346.9h.9M86.6 340.4h.9M86.5 340.3h.9M87.4 339.6h.9M95.4 347.4h.9M101.9 339.8h.9M108.9 344.1h.9M98.6 338.8h.9M107.7 343.6h.9M98.5 339.0h.9M105.5 339.9h.9M86.6 345.9h.9M86.8 345.7h.9M87.2 346.1h.9M101.0 339.7h.9M85.8 345.2h.9M108.4 343.5h.9M100.1 346.8h.9M93.3 339.0h.9M84.9 344.4h.9M87.3 346.1h.9M83.0 343.8h.9M84.8 345.3h.9M84.7 341.5h.9M98.5 338.8h.9M98.4 347.2h.9M82.6 342.6h.9M85.3 341.4h.9M86.0 345.1h.9M109.3 344.3h.9M84.6 340.8h.9M105.2 345.9h.9M90.9 346.7h.9M109.4 342.4h.9M96.6 347.4h.9M96.9 339.5h.9M104.9 340.0h.9M100.5 339.3h.9M106.8 345.6h.9M91.5 339.6h.9M98.8 347.3h.9M94.5 339.1h.9M107.3 341.1h.9M108.7 342.4h.9M105.3 346.1h.9M85.7 341.7h.9M101.9 339.4h.9M107.5 343.8h.9M108.4 342.1h.9M99.7 347.1h.9M106.3 345.2h.9M107.5 343.0h.9M101.2 346.6h.9M86.5 346.3h.9M92.5 346.8h.9M107.8 344.5h.9M88.2 340.6h.9M107.2 344.1h.9M83.6 342.1h.9M85.1 345.4h.9M84.3 343.8h.9M96.7 347.4h.9M103.7 346.2h.9M95.8 347.1h.9" stroke="#2878ff" stroke-width="0.9"/>
<path d="M100.8 347.1h.9M92.7 347.3h.9M103.0 339.5h.9M108.7 343.1h.9M88.1 345.9h.9M97.3 339.4h.9M87.3 345.9h.9M107.5 345.0h.9M106.3 340.6h.9M102.1 346.2h.9M92.2 339.9h.9M95.6 339.3h.9M88.2 346.6h.9M89.1 340.1h.9M100.2 339.3h.9M87.9 339.9h.9M103.4 346.7h.9M87.0 345.8h.9M84.1 341.7h.9M94.1 347.4h.9M93.0 339.8h.9M102.9 346.6h.9M85.1 345.2h.9M87.1 346.0h.9M102.5 340.0h.9M105.0 341.2h.9M83.9 341.8h.9M93.7 339.7h.9M84.7 343.5h.9M87.5 341.1h.9M93.4 339.2h.9M97.9 339.1h.9M105.7 345.6h.9M107.5 341.6h.9M84.5 344.1h.9M106.6 344.8h.9M86.2 345.1h.9M92.6 346.6h.9M89.2 346.2h.9M106.5 345.0h.9M107.0 341.1h.9M87.2 346.1h.9M108.0 342.3h.9M100.5 346.5h.9M87.1 340.7h.9M94.6 339.4h.9M108.3 342.3h.9M104.2 346.1h.9M90.4 346.7h.9M106.5 342.5h.9M98.2 346.6h.9M106.9 341.9h.9M106.7 344.4h.9M103.5 346.3h.9M87.6 341.0h.9M106.2 344.7h.9M85.7 344.9h.9M87.7 341.1h.9M100.5 346.2h.9M106.0 341.9h.9M92.0 339.5h.9M85.4 342.1h.9M83.6 343.4h.9M88.1 345.6h.9M105.4 344.8h.9M94.0 346.6h.9M106.0 342.5h.9M107.2 342.3h.9M102.9 346.4h.9M86.2 342.3h.9M105.5 345.8h.9M87.0 340.6h.9M105.5 345.9h.9M85.3 344.4h.9M93.6 339.9h.9M98.2 346.5h.9" stroke="#2592f4" stroke-width="0.9"/>
<path d="M87.3 340.6h.9M107.4 342.7h.9M88.8 339.9h.9M99.2 339.8h.9M93.8 339.2h.9M85.9 341.4h.9M92.0 339.5h.9M85.8 344.4h.9M102.0 340.0h.9M107.4 344.0h.9M91.5 339.8h.9M104.8 345.1h.9M107.2 342.3h.9M108.1 342.9h.9M103.8 346.0h.9M86.2 343.6h.9M104.9 345.4h.9M101.4 346.2h.9M91.1 346.6h.9M93.4 346.4h.9M86.5 344.8h.9M85.4 344.7h.9M101.0 339.8h.9M107.6 344.4h.9M88.8 345.7h.9M89.2 340.4h.9M105.7 343.6h.9M97.2 339.8h.9M105.9 342.1h.9M96.3 339.6h.9M101.8 340.2h.9M104.6 340.7h.9M102.1 339.9h.9M97.0 339.5h.9M89.7 340.4h.9M85.9 345.0h.9M105.4 342.4h.9M96.7 346.3h.9M107.1 342.0h.9M87.0 345.5h.9M100.8 346.4h.9M88.1 344.9h.9M106.4 341.5h.9M101.9 346.5h.9M94.5 346.5h.9M88.1 341.3h.9M91.9 346.8h.9M95.2 340.1h.9M97.1 346.7h.9M98.0 346.3h.9M95.4 339.6h.9M85.9 341.9h.9M102.9 341.2h.9M87.2 342.2h.9M97.2 339.8h.9M90.9 346.4h.9M96.0 340.1h.9M89.0 346.3h.9M88.6 345.7h.9M85.7 341.7h.9M93.2 346.6h.9M101.2 345.7h.9M106.8 342.3h.9" stroke="#22acea" stroke-width="0.9"/>
<path d="M106.2 344.2h.9M89.9 340.5h.9M105.5 342.7h.9M105.4 342.8h.9M106.4 344.7h.9M97.2 346.6h.9M95.7 339.7h.9M100.5 340.6h.9M86.6 342.1h.9M87.0 343.7h.9M91.5 346.0h.9M99.1 346.3h.9M85.6 343.1h.9M87.2 343.6h.9M102.1 345.8h.9M106.0 345.0h.9M93.4 340.3h.9M90.5 346.0h.9M90.8 345.8h.9M88.7 341.1h.9M93.0 340.4h.9M98.4 340.0h.9M99.7 346.5h.9M90.2 340.3h.9M104.6 342.5h.9M105.5 344.9h.9M106.2 342.2h.9M96.4 340.1h.9M106.2 342.9h.9M96.8 346.4h.9M101.6 346.2h.9M87.3 345.0h.9M101.1 345.7h.9M104.5 344.1h.9M100.7 346.0h.9M96.0 339.7h.9M85.6 344.5h.9M88.2 341.4h.9M93.6 346.7h.9M93.2 346.1h.9M104.4 343.8h.9M88.5 341.3h.9M86.3 342.5h.9M104.1 345.7h.9M85.2 342.5h.9M94.1 346.7h.9M99.8 345.7h.9M99.0 346.6h.9M95.3 346.3h.9M101.4 345.6h.9M104.9 345.1h.9M99.4 345.9h.9M95.1 340.3h.9M94.4 346.0h.9M105.8 342.3h.9M89.6 341.2h.9M96.4 346.4h.9M87.0 341.6h.9M91.0 340.4h.9M94.6 340.0h.9M88.9 344.9h.9M85.1 343.5h.9M103.6 344.9h.9M99.9 340.4h.9M85.8 342.5h.9M106.7 343.6h.9M104.0 343.9h.9M106.2 343.5h.9M92.3 345.7h.9M96.6 340.1h.9M90.3 340.4h.9M87.2 342.0h.9M95.4 346.2h.9M104.9 344.2h.9M103.2 345.7h.9M94.1 340.3h.9M98.4 346.2h.9M86.3 343.2h.9M93.1 340.3h.9" stroke="#1fc7e0" stroke-width="0.9"/>
<path d="M96.7 340.1h.9M104.0 341.6h.9M89.0 345.5h.9M91.8 340.3h.9M87.9 344.6h.9M86.5 342.2h.9M85.5 343.4h.9M94.6 340.2h.9M96.6 340.5h.9M86.3 342.2h.9M90.5 346.1h.9M105.6 343.4h.9M93.0 339.8h.9M93.1 345.9h.9M95.1 339.9h.9M91.4 341.2h.9M86.4 344.0h.9M86.5 344.6h.9M101.6 340.3h.9M88.2 342.8h.9M103.5 342.6h.9M94.1 340.5h.9M95.4 346.3h.9M87.7 345.1h.9M93.0 346.1h.9M105.6 342.6h.9M90.4 345.5h.9M102.8 341.3h.9M97.3 346.0h.9M90.3 341.0h.9M105.1 341.8h.9M87.5 345.1h.9M103.3 341.7h.9M90.7 341.3h.9M96.3 346.0h.9M103.4 345.0h.9M97.0 346.2h.9M104.2 342.9h.9M102.4 340.7h.9M95.3 346.4h.9M98.0 346.6h.9M100.6 340.6h.9M104.9 342.2h.9M87.7 344.4h.9M96.5 339.9h.9M93.8 345.8h.9M92.7 340.1h.9M91.6 346.3h.9M86.9 342.3h.9M101.6 341.2h.9M87.2 343.2h.9M102.4 340.6h.9M93.5 346.2h.9M97.2 340.5h.9M105.4 342.4h.9M101.5 340.4h.9M86.6 343.2h.9M105.6 342.7h.9M96.9 340.5h.9M89.8 340.7h.9M102.5 345.2h.9M88.5 344.6h.9M101.6 340.6h.9M92.8 345.6h.9M103.0 341.2h.9M103.4 345.0h.9M96.0 340.0h.9M92.7 340.7h.9M96.6 345.6h.9M103.0 342.4h.9M91.6 340.8h.9M93.8 345.5h.9M100.1 346.1h.9M98.3 345.4h.9M99.2 345.9h.9M98.1 345.6h.9M103.7 344.1h.9M87.2 342.5h.9M103.0 344.0h.9M98.0 340.0h.9M91.2 341.4h.9M100.9 344.8h.9M89.0 342.3h.9M93.0 341.0h.9M104.7 343.9h.9M103.3 344.6h.9M103.8 344.9h.9M93.2 340.5h.9M97.1 340.8h.9M86.6 343.7h.9M103.2 343.9h.9M88.0 341.3h.9" stroke="#24d5b9" stroke-width="0.9"/>
<path d="M97.2 340.4h.9M98.6 340.2h.9M91.3 345.0h.9M99.2 340.9h.9M87.0 343.6h.9M102.9 340.9h.9M88.0 341.8h.9M90.7 341.3h.9M103.7 344.7h.9M104.2 342.8h.9M87.3 342.2h.9M102.2 345.1h.9M89.6 342.9h.9M89.2 342.3h.9M90.0 341.2h.9M98.2 345.4h.9M94.6 345.9h.9M87.2 342.7h.9M101.9 345.3h.9M91.3 341.7h.9M104.4 342.3h.9M101.7 340.7h.9M100.3 341.3h.9M103.5 343.6h.9M104.7 341.9h.9M94.1 341.0h.9M93.1 345.3h.9M90.6 340.7h.9M101.1 344.6h.9M91.6 341.1h.9M88.4 342.5h.9M89.8 342.2h.9M98.8 345.5h.9M101.9 341.0h.9M104.4 343.2h.9M95.2 345.4h.9M93.3 345.7h.9M95.3 340.3h.9M86.7 343.6h.9M103.8 343.5h.9M98.5 345.9h.9M90.6 344.2h.9M89.4 342.9h.9M90.9 341.6h.9M93.2 345.8h.9M87.2 342.3h.9M89.7 343.8h.9M95.6 340.7h.9M91.6 340.7h.9M93.2 340.6h.9M89.1 344.4h.9M101.2 342.3h.9M89.6 343.0h.9M90.3 343.5h.9M88.0 343.9h.9M88.9 344.8h.9M96.6 345.5h.9M87.6 344.4h.9M103.6 343.0h.9M103.2 342.2h.9M90.0 342.2h.9M90.7 345.6h.9M96.2 341.3h.9M98.9 345.5h.9M91.8 344.7h.9M88.6 344.6h.9M90.2 342.3h.9M94.1 341.4h.9M98.8 340.7h.9M88.6 341.8h.9M90.6 344.3h.9M103.8 341.9h.9M97.5 346.1h.9M97.4 345.1h.9M102.8 341.2h.9M92.2 341.3h.9M102.1 342.2h.9M95.7 340.7h.9M103.0 345.0h.9M101.1 341.7h.9M92.5 341.6h.9" stroke="#2fda80" stroke-width="0.9"/>
<path d="M97.5 340.9h.9M98.0 341.3h.9M93.6 340.5h.9M87.9 344.2h.9M91.2 341.0h.9M91.6 345.7h.9M101.8 341.1h.9M104.6 342.5h.9M101.2 343.7h.9M102.1 344.6h.9M88.9 343.2h.9M97.8 345.2h.9M96.9 340.6h.9M102.3 344.7h.9M103.0 343.1h.9M87.7 343.0h.9M99.9 345.2h.9M91.9 340.8h.9M96.0 340.5h.9M89.3 341.9h.9M91.2 340.8h.9M90.7 344.8h.9M90.7 343.6h.9M88.2 344.4h.9M91.1 341.7h.9M93.0 341.5h.9M97.8 341.4h.9M87.4 343.1h.9M90.7 342.5h.9M90.9 344.0h.9M97.8 344.8h.9M89.8 343.9h.9M97.6 340.4h.9M96.1 341.0h.9M90.8 341.1h.9M91.5 342.5h.9M91.9 344.3h.9M95.6 345.8h.9M100.5 345.4h.9M101.0 341.1h.9M93.3 345.0h.9M87.7 343.7h.9M99.5 341.4h.9M101.3 341.7h.9M91.2 345.6h.9M102.3 344.4h.9M90.3 344.8h.9M95.5 340.5h.9M94.7 340.5h.9M100.7 342.4h.9M103.5 344.7h.9M92.7 345.0h.9M101.1 344.6h.9M88.6 342.8h.9M93.1 341.4h.9M102.9 343.8h.9M100.1 345.3h.9M91.0 343.9h.9M98.7 344.6h.9M99.8 342.0h.9M91.1 343.4h.9M100.3 341.8h.9M98.6 341.0h.9M90.1 342.4h.9M89.2 343.3h.9M96.9 341.7h.9M88.6 342.6h.9M94.4 344.9h.9M97.0 345.6h.9M89.0 344.6h.9M102.6 342.1h.9M96.0 344.7h.9M92.4 344.4h.9M93.0 344.3h.9M100.4 343.2h.9M90.9 345.3h.9M90.4 341.9h.9M95.9 341.4h.9M95.1 340.9h.9M100.3 342.3h.9M90.8 343.5h.9" stroke="#39df47" stroke-width="0.9"/>
<path d="M98.0 344.8h.9M100.9 343.0h.9M90.3 342.9h.9M98.9 345.4h.9M96.1 341.3h.9M99.9 342.1h.9M103.4 343.0h.9M88.0 343.4h.9M99.1 341.0h.9M102.5 342.6h.9M94.4 345.2h.9M104.2 343.1h.9M103.7 343.4h.9M91.6 341.1h.9M93.4 342.1h.9M91.4 342.7h.9M100.9 342.9h.9M102.3 343.5h.9M91.7 345.3h.9M93.4 342.2h.9M90.6 344.1h.9M90.3 344.1h.9M90.9 342.9h.9M97.8 345.3h.9M99.1 342.3h.9M100.9 342.9h.9M101.5 342.8h.9M92.2 342.1h.9M95.7 342.0h.9M101.2 343.3h.9M93.5 344.6h.9M99.0 343.5h.9M101.5 343.5h.9M95.0 341.8h.9M93.3 342.2h.9M98.4 345.3h.9M98.8 341.6h.9M97.8 342.1h.9M90.8 341.5h.9M92.0 344.2h.9M99.5 341.2h.9M100.6 344.9h.9M98.2 341.3h.9M94.0 342.6h.9M102.1 342.5h.9M102.1 342.2h.9M99.2 344.2h.9M102.3 344.6h.9M102.4 344.1h.9M92.9 342.2h.9M99.9 343.8h.9M101.6 344.1h.9M93.3 344.5h.9M97.7 342.3h.9M91.8 341.7h.9M90.4 344.0h.9M98.3 345.0h.9M103.3 343.6h.9M98.0 341.6h.9M95.8 345.0h.9M92.1 343.0h.9M93.3 341.3h.9" stroke="#6be236" stroke-width="0.9"/>
<path d="M98.9 345.3h.9M100.3 344.0h.9M98.1 343.6h.9M96.3 341.1h.9M100.2 341.7h.9M100.5 342.5h.9M102.9 342.4h.9M91.6 342.0h.9M95.7 340.8h.9M101.6 344.2h.9M96.0 342.9h.9M97.6 344.2h.9M92.4 343.1h.9M92.9 344.5h.9M95.7 341.4h.9M90.2 344.3h.9M98.0 345.2h.9M93.7 345.4h.9M99.8 344.4h.9M96.1 342.7h.9M94.6 342.6h.9M101.7 344.4h.9M94.3 343.5h.9M92.7 343.7h.9M99.4 342.6h.9M92.1 343.0h.9M95.1 342.9h.9M92.5 342.8h.9M90.7 343.2h.9M95.4 345.3h.9M91.1 341.7h.9M99.3 344.2h.9M96.7 343.7h.9M96.2 343.3h.9M101.3 343.5h.9M94.5 345.2h.9M90.9 342.0h.9M98.1 344.3h.9M93.5 342.7h.9M91.3 344.8h.9M99.7 342.9h.9M94.1 344.8h.9M90.0 343.7h.9M93.6 343.1h.9M94.3 345.1h.9M97.4 341.4h.9M102.0 343.7h.9M96.8 341.1h.9M95.1 341.4h.9" stroke="#a6e42f" stroke-width="0.9"/>
<path d="M91.0 341.9h.9M97.2 344.8h.9M95.8 344.1h.9M97.0 343.0h.9M96.0 341.1h.9M90.3 344.2h.9M100.3 342.7h.9M99.1 341.5h.9M95.8 343.1h.9M100.3 342.9h.9M101.9 343.1h.9M89.9 343.6h.9M92.3 344.7h.9M92.1 341.9h.9M94.6 343.9h.9M100.3 344.3h.9M90.5 343.7h.9M95.3 343.7h.9M91.9 343.4h.9M94.8 343.1h.9M90.2 343.6h.9M99.7 342.1h.9M98.5 341.4h.9M93.4 341.7h.9M97.4 342.3h.9M96.1 344.9h.9M91.5 343.5h.9M93.5 342.1h.9M93.3 344.3h.9M94.2 343.6h.9M96.2 343.7h.9M100.4 344.0h.9M95.4 343.2h.9M95.9 342.8h.9M91.5 343.5h.9M98.9 343.5h.9M97.3 344.8h.9M91.9 342.0h.9M95.0 343.1h.9M93.6 343.0h.9M90.3 343.2h.9M96.9 342.9h.9M99.7 343.9h.9M93.9 343.7h.9M96.0 342.7h.9M98.3 343.3h.9" stroke="#e1e628" stroke-width="0.9"/>
<path d="M100.0 343.8h.9M93.3 344.4h.9M98.4 342.1h.9M93.0 343.5h.9M95.1 343.2h.9M98.1 344.2h.9M93.0 343.9h.9M100.7 342.7h.9M94.8 344.0h.9M96.8 342.5h.9M97.9 344.3h.9M97.5 343.5h.9M96.8 342.0h.9M96.8 344.9h.9M93.7 343.2h.9M98.7 341.9h.9M93.8 343.9h.9M100.4 342.5h.9M96.1 343.9h.9M99.5 344.3h.9M99.9 342.2h.9M94.8 341.9h.9M94.1 344.0h.9M95.5 343.6h.9M96.4 344.6h.9M97.9 342.1h.9M100.3 343.4h.9" stroke="#ef8c1e" stroke-width="0.9"/>
<path d="M93.3 343.8h.9M96.8 344.4h.9M93.2 342.8h.9M93.6 342.5h.9M96.9 343.9h.9M94.5 343.7h.9M94.5 342.8h.9M94.9 343.0h.9M95.0 343.4h.9M96.1 343.5h.9M96.4 342.8h.9M96.6 342.6h.9M96.6 343.3h.9M97.5 342.8h.9M97.5 344.3h.9M97.7 342.4h.9M98.2 343.4h.9" stroke="#ff3214" stroke-width="0.9"/>
<path d="M108.3 322.0h.6M112.1 305.8h.6M110.2 312.3h.6M119.9 306.2h.6M117.6 315.8h.6M111.2 317.4h.6M118.0 318.0h.6M113.6 309.8h.6M116.1 314.2h.6M116.7 319.4h.6M114.3 302.2h.6M113.6 312.0h.6M115.5 302.5h.6M111.4 310.0h.6M107.9 304.8h.6M105.9 314.5h.6M113.4 309.7h.6M117.0 317.4h.6M114.9 319.9h.6M114.4 313.1h.6M113.3 311.9h.6M113.7 308.5h.6M114.4 312.6h.6M111.1 317.5h.6M110.6 312.5h.6M117.9 311.5h.6M114.2 315.8h.6M109.8 303.1h.6M115.1 313.2h.6M115.2 312.1h.6M113.6 314.6h.6M103.7 308.5h.6M111.3 304.6h.6M115.1 313.5h.6M108.1 326.0h.6M115.7 318.1h.6M108.9 308.3h.6M110.1 311.8h.6M107.0 316.2h.6M112.6 305.9h.6M107.7 301.2h.6M112.9 320.4h.6M114.2 312.7h.6M109.7 318.7h.6M108.2 305.7h.6M118.4 316.1h.6M112.9 311.2h.6M112.9 309.9h.6M106.2 306.1h.6M109.5 317.8h.6M112.4 310.3h.6M112.5 321.5h.6M107.4 314.5h.6M108.8 312.7h.6M113.3 307.7h.6M115.3 312.0h.6M112.1 311.2h.6M110.6 316.5h.6M105.1 314.7h.6M118.5 301.0h.6M105.5 314.4h.6M111.1 312.8h.6M113.0 306.8h.6M114.9 312.4h.6M108.6 325.8h.6M110.5 308.3h.6M119.3 312.8h.6M111.8 309.4h.6M111.1 310.2h.6M116.0 314.8h.6M114.9 315.7h.6M116.6 312.7h.6M110.0 323.8h.6M110.5 310.9h.6M107.2 312.7h.6M105.0 317.0h.6M118.1 323.1h.6M121.5 316.7h.6M115.9 313.8h.6M110.1 312.6h.6M113.8 323.9h.6M114.2 307.1h.6M116.1 312.3h.6M115.8 317.9h.6M111.5 307.2h.6M114.4 313.8h.6M111.8 319.9h.6M115.5 302.6h.6M106.5 321.7h.6M116.6 314.1h.6M110.9 313.7h.6M111.8 315.2h.6M115.2 308.9h.6M121.3 305.2h.6M114.1 305.8h.6M110.1 309.9h.6M113.6 314.4h.6M110.8 318.4h.6M115.6 311.3h.6M110.8 310.0h.6M114.8 306.8h.6M112.3 312.2h.6M111.4 311.8h.6M113.0 305.0h.6M116.6 314.8h.6M106.9 305.7h.6M115.7 311.0h.6M107.1 314.7h.6M113.7 308.1h.6M117.3 319.6h.6M115.5 313.4h.6M110.9 308.7h.6M114.9 306.9h.6M114.7 315.2h.6M108.5 325.1h.6M109.5 308.2h.6M115.3 305.6h.6M117.7 310.2h.6M117.3 317.6h.6M112.8 308.7h.6M113.9 308.1h.6M114.0 306.9h.6M113.2 311.3h.6M112.9 314.8h.6M118.2 313.1h.6M113.1 310.0h.6M105.3 314.4h.6M116.0 317.6h.6M108.5 309.7h.6M113.1 309.6h.6M112.6 316.0h.6M111.9 306.7h.6M114.0 314.2h.6M114.8 311.3h.6M116.1 307.3h.6M110.9 315.2h.6M112.2 305.8h.6M109.4 306.8h.6M110.5 314.7h.6M113.5 310.9h.6M112.0 318.3h.6M106.2 307.7h.6M118.4 314.7h.6M113.9 313.3h.6M114.9 313.2h.6M104.5 310.3h.6M113.6 320.3h.6M116.2 311.2h.6M107.9 316.3h.6M108.5 312.3h.6M107.9 310.9h.6M111.3 313.8h.6M115.9 303.8h.6M111.3 312.8h.6M115.4 309.9h.6M113.3 319.2h.6M111.9 311.4h.6M114.4 309.0h.6M115.4 312.9h.6M113.2 314.9h.6M115.9 307.7h.6M110.3 319.5h.6M112.7 311.1h.6M113.4 306.2h.6M110.3 305.2h.6M112.0 311.6h.6M110.9 310.2h.6M112.6 311.7h.6M111.6 305.7h.6M107.8 319.9h.6M114.3 315.0h.6M105.2 309.5h.6M112.9 307.9h.6M109.0 309.9h.6M114.3 314.8h.6M110.5 309.2h.6M111.7 315.4h.6M115.2 314.8h.6M117.8 313.2h.6M110.5 307.1h.6M111.1 313.8h.6M119.3 314.3h.6M112.7 301.8h.6M114.4 318.2h.6M112.9 302.5h.6M109.6 302.7h.6M114.4 307.7h.6M117.8 314.3h.6M106.2 307.8h.6M112.9 318.0h.6M112.1 315.2h.6M114.4 316.1h.6M107.3 312.0h.6M112.3 306.6h.6M108.3 317.3h.6M116.6 309.3h.6M107.7 306.9h.6M108.8 301.8h.6M114.5 313.1h.6M113.9 312.0h.6M113.5 312.2h.6M113.0 312.0h.6M107.5 314.7h.6M114.6 311.5h.6M109.5 317.3h.6M118.8 310.5h.6M111.0 314.9h.6M111.3 308.5h.6M114.8 312.6h.6M115.5 316.3h.6M122.4 306.1h.6M114.6 310.7h.6M107.2 302.7h.6M115.0 302.1h.6M115.0 310.7h.6M117.4 317.2h.6M105.8 314.9h.6M112.0 308.2h.6M117.6 312.9h.6M118.1 315.0h.6M113.8 316.9h.6M112.3 313.0h.6M109.3 314.3h.6M113.3 312.7h.6M117.2 307.6h.6M120.1 309.4h.6M111.6 304.3h.6M113.8 315.8h.6M108.6 300.7h.6M115.1 319.1h.6M117.4 296.6h.6M117.5 313.8h.6M115.9 307.0h.6M111.1 303.5h.6M111.7 304.0h.6M112.6 314.1h.6M108.5 318.9h.6M109.7 310.7h.6M117.7 307.3h.6M109.9 310.9h.6M110.6 308.1h.6M110.0 309.7h.6M119.1 311.1h.6M116.2 318.0h.6M117.2 307.2h.6M105.3 319.0h.6M115.4 314.0h.6M118.3 320.7h.6M110.6 307.7h.6M107.7 310.2h.6M115.5 309.1h.6M121.9 305.0h.6M115.0 315.6h.6M109.0 305.9h.6M115.8 306.7h.6M119.3 310.7h.6M114.6 307.5h.6M116.3 302.8h.6M117.5 311.6h.6M108.3 311.2h.6" stroke="#3a3aff" stroke-width="0.6" opacity="0.8"/>
<path d="M109.8 332.6h.5M117.7 321.5h.5M106.5 315.3h.5M105.6 325.4h.5M112.5 320.0h.5M115.6 322.2h.5M111.5 321.2h.5M107.0 329.9h.5M110.0 322.2h.5M106.5 319.9h.5M115.4 314.0h.5M110.1 325.2h.5M111.6 318.2h.5M112.2 327.1h.5M121.0 331.4h.5M110.3 331.1h.5M112.8 318.3h.5M117.5 331.3h.5M111.2 325.2h.5M112.3 327.7h.5M110.3 322.7h.5M109.7 339.7h.5M105.9 327.7h.5M103.7 330.3h.5M108.5 330.7h.5M111.4 331.1h.5M105.2 321.3h.5M108.9 323.8h.5M108.7 325.1h.5M109.5 326.4h.5" stroke="#6a6aff" stroke-width="0.5" opacity="0.5"/>
<ellipse cx="113.4" cy="313.7" rx="11.6" ry="12.6" fill="none" stroke="#111" stroke-width="1.3" transform="rotate(20 113.4 313.7)"/>
<text x="82.90" y="300.00" font-size="10.8" text-anchor="start" fill="#222" stroke="#222" stroke-width="0.18" textLength="13.5" lengthAdjust="spacingAndGlyphs">1.3</text>
<path d="M205.1 227.0h.95M203.0 233.5h.95M217.1 233.6h.95M204.6 230.0h.95M216.4 231.0h.95M210.8 231.6h.95M194.9 231.9h.95M201.0 232.0h.95M218.0 233.4h.95M205.8 226.2h.95M198.6 232.6h.95M210.0 238.4h.95M214.5 231.9h.95M211.2 226.9h.95M210.4 233.9h.95M212.4 231.6h.95M216.4 228.3h.95M215.5 230.5h.95M201.8 231.5h.95M206.9 229.3h.95M217.4 229.9h.95M217.2 232.5h.95M206.6 228.9h.95M213.4 230.3h.95M211.8 233.2h.95M207.5 232.5h.95M216.0 235.3h.95M211.4 234.1h.95M220.2 231.6h.95M213.9 226.6h.95M209.3 230.8h.95M211.4 233.5h.95M203.9 227.3h.95M209.9 234.1h.95M204.6 226.5h.95M211.9 232.3h.95M208.0 225.7h.95M202.6 230.5h.95M202.3 234.3h.95M216.9 231.9h.95M205.8 228.3h.95M214.8 233.2h.95M207.5 234.5h.95M206.9 231.9h.95M207.7 237.3h.95M204.9 233.4h.95M221.4 229.0h.95M211.3 230.6h.95M213.4 234.2h.95M205.4 229.3h.95M215.3 231.4h.95M208.8 232.4h.95M210.0 230.0h.95M201.9 233.1h.95M209.4 232.8h.95M215.8 234.3h.95M211.3 231.6h.95M209.8 230.4h.95M204.7 228.7h.95M222.4 231.8h.95M218.5 235.6h.95M216.5 228.2h.95M211.8 234.0h.95M206.1 231.6h.95M202.0 233.7h.95M197.7 230.4h.95M211.1 232.5h.95M196.1 231.2h.95M216.1 232.7h.95M217.4 231.3h.95M209.2 235.5h.95M212.3 229.6h.95M209.8 233.4h.95M215.4 232.4h.95M216.8 228.5h.95M218.6 232.1h.95M214.9 230.5h.95M198.8 228.5h.95M209.0 230.2h.95M200.4 228.7h.95M216.2 229.3h.95M209.1 230.1h.95M204.6 230.3h.95M210.0 229.0h.95M211.4 231.7h.95M220.8 234.1h.95M214.7 234.2h.95M204.6 233.3h.95M197.5 232.5h.95M213.8 230.5h.95M203.4 231.0h.95M203.3 237.0h.95M202.6 231.3h.95M215.8 228.8h.95M204.0 226.4h.95M201.5 229.3h.95M202.5 230.3h.95M215.3 233.0h.95M204.7 233.9h.95M205.6 230.2h.95M208.4 233.4h.95M207.1 234.3h.95M203.5 236.3h.95M216.0 229.8h.95M205.8 233.2h.95M212.6 228.9h.95M204.7 232.5h.95M200.5 233.1h.95M210.6 226.5h.95M216.1 234.7h.95M206.2 235.0h.95M203.8 233.8h.95M204.0 235.4h.95M205.5 230.8h.95M206.9 226.7h.95M206.2 230.3h.95M212.0 227.1h.95M212.8 234.7h.95M204.1 231.5h.95M203.9 231.7h.95M201.7 230.3h.95M214.4 234.1h.95M208.7 237.8h.95M216.2 225.1h.95M213.2 231.5h.95M222.6 229.3h.95M189.9 233.6h.95M204.5 230.5h.95M205.1 230.8h.95M215.5 232.3h.95M217.7 231.1h.95M202.6 231.9h.95M212.0 232.5h.95M201.5 234.8h.95M220.9 233.1h.95M207.6 234.5h.95M207.7 235.7h.95M217.8 229.9h.95M212.8 236.4h.95M208.2 231.4h.95M204.2 234.4h.95M207.8 234.0h.95M210.1 234.8h.95M204.4 230.7h.95M197.2 230.0h.95M213.8 234.0h.95M207.1 233.0h.95M213.2 227.3h.95M211.6 234.7h.95M211.7 231.2h.95M207.9 224.9h.95M208.1 234.2h.95M219.4 234.1h.95M210.3 234.1h.95M211.0 232.8h.95M209.6 232.6h.95M209.4 233.6h.95M201.3 229.9h.95M205.6 232.6h.95M211.2 232.1h.95M207.4 229.0h.95M208.6 229.1h.95M204.2 229.9h.95M204.0 231.0h.95M214.6 229.6h.95M210.9 228.7h.95M205.7 234.0h.95M199.7 228.5h.95M204.1 230.1h.95M206.5 228.4h.95M207.0 229.3h.95M210.0 229.9h.95M206.4 233.7h.95M209.0 233.5h.95M210.1 234.7h.95M207.6 231.6h.95M213.5 230.8h.95M206.7 229.0h.95M211.0 229.2h.95M205.4 233.4h.95M198.6 231.7h.95M211.4 230.9h.95M208.9 233.2h.95M194.1 237.6h.95M205.1 231.7h.95M214.7 228.8h.95M199.4 228.9h.95M219.3 226.0h.95M201.8 234.6h.95M221.2 234.4h.95M217.4 233.5h.95M211.5 231.8h.95M215.5 230.4h.95M205.6 236.1h.95M206.4 236.8h.95M209.7 233.6h.95M204.3 231.3h.95M210.8 231.9h.95M202.6 228.0h.95M223.8 229.9h.95" stroke="#1818ee" stroke-width="0.95" opacity="1.0"/>
<path d="M211.8 237.5h.9M228.8 230.0h.9M206.9 240.2h.9M211.4 238.9h.9M210.1 233.8h.9M208.1 230.7h.9M214.5 236.1h.9M206.3 226.6h.9M221.0 240.6h.9M205.0 233.5h.9M217.6 227.6h.9M202.6 232.9h.9M200.9 233.0h.9M207.5 233.9h.9M208.6 234.8h.9M219.7 227.2h.9M196.3 231.6h.9M205.2 235.5h.9M212.0 234.9h.9M192.2 227.8h.9M215.7 234.6h.9M218.3 233.0h.9M210.5 227.3h.9M193.2 236.1h.9M192.9 235.8h.9M232.9 230.7h.9M195.1 237.3h.9M201.1 226.5h.9M205.1 228.1h.9M193.1 235.6h.9M183.3 233.0h.9M209.3 238.2h.9M198.2 235.5h.9M195.2 230.5h.9M196.7 235.7h.9M201.8 235.4h.9M217.8 233.4h.9M200.6 231.3h.9M219.1 227.7h.9M204.9 227.2h.9M202.1 235.8h.9M213.6 233.3h.9M192.1 234.7h.9M191.9 233.9h.9M214.9 230.0h.9M201.6 233.7h.9M229.2 230.2h.9M213.9 231.4h.9M217.7 234.5h.9M191.8 236.8h.9" stroke="#1818ee" stroke-width="0.9" opacity="1.0"/>
<path d="M185.0 266.8h.95M188.2 268.0h.95M178.0 266.1h.95M198.0 262.3h.95M190.4 266.7h.95M196.5 264.1h.95M196.6 264.9h.95M191.8 262.5h.95M197.5 265.3h.95M191.6 264.9h.95M183.4 268.3h.95M184.2 266.1h.95M192.5 266.0h.95M189.7 264.8h.95M186.0 266.4h.95M193.2 264.1h.95M194.9 259.9h.95M190.8 264.5h.95M207.8 263.5h.95M186.1 268.3h.95M183.3 266.9h.95M192.6 266.8h.95M195.5 264.3h.95M188.1 267.1h.95M198.3 265.7h.95M197.1 264.4h.95M186.9 263.6h.95M194.7 263.4h.95M188.2 264.3h.95M193.2 264.9h.95M204.8 267.6h.95M192.3 268.7h.95M199.7 266.5h.95M207.7 264.1h.95M190.3 265.1h.95M179.5 266.7h.95M179.5 259.0h.95M202.6 258.6h.95M192.6 269.1h.95M202.2 261.2h.95M188.3 269.1h.95M183.5 264.2h.95M197.4 261.3h.95M188.2 259.7h.95M193.9 262.6h.95M195.8 261.9h.95M190.9 272.5h.95M187.5 273.2h.95M195.1 264.9h.95M183.2 261.9h.95M192.4 271.0h.95M181.2 262.9h.95M196.2 272.9h.95M189.3 265.4h.95M199.6 267.3h.95M186.0 269.0h.95M187.9 266.4h.95M196.4 265.9h.95M178.2 265.9h.95M198.2 266.1h.95M198.3 262.8h.95M194.5 263.3h.95M191.4 265.1h.95M196.0 264.4h.95M194.2 271.6h.95M176.6 265.4h.95M187.4 263.3h.95M196.1 262.9h.95M190.0 263.8h.95M196.1 267.4h.95M191.1 265.9h.95M203.1 267.8h.95M201.1 265.2h.95M190.1 265.1h.95M204.6 263.9h.95M180.9 257.0h.95M197.1 265.0h.95M205.5 271.8h.95M186.4 268.6h.95M195.8 262.3h.95M191.3 264.6h.95M197.5 263.2h.95M201.3 266.0h.95M201.9 264.7h.95M194.8 263.1h.95M196.1 267.8h.95M196.1 264.9h.95M185.5 262.6h.95M180.9 264.0h.95M192.5 266.1h.95M189.0 263.5h.95M186.7 261.1h.95M200.3 267.5h.95M192.4 264.2h.95M198.8 261.2h.95M189.0 259.5h.95M188.1 268.0h.95M190.2 269.8h.95M183.4 268.4h.95M194.8 274.2h.95M190.9 267.7h.95M193.2 266.8h.95M194.5 266.1h.95M190.2 264.2h.95M198.5 267.2h.95M194.5 266.0h.95M194.3 260.2h.95M183.9 262.6h.95M189.9 265.6h.95M183.4 259.0h.95M184.8 263.6h.95M197.1 264.2h.95M191.3 265.1h.95M195.3 266.7h.95M194.5 265.3h.95M196.0 263.1h.95M196.0 268.5h.95M189.4 262.3h.95M191.5 262.3h.95M196.9 267.1h.95M199.7 264.3h.95M187.3 271.5h.95M183.8 263.0h.95M204.4 265.3h.95M199.5 264.1h.95M173.7 265.8h.95M201.1 270.3h.95M193.6 269.3h.95M206.7 263.1h.95M191.8 261.7h.95M194.2 260.5h.95M190.2 259.4h.95M192.7 265.2h.95M180.9 265.6h.95M188.5 265.0h.95M188.3 269.1h.95M192.3 261.2h.95M179.6 263.7h.95M201.9 264.8h.95M187.7 262.8h.95M204.1 263.2h.95M183.1 266.4h.95M185.3 263.8h.95M193.1 264.0h.95M189.7 267.8h.95M185.0 260.9h.95M179.8 266.0h.95M206.0 261.9h.95M189.3 263.5h.95M189.5 268.9h.95M187.8 265.8h.95M191.9 264.3h.95M194.8 271.9h.95M192.9 267.5h.95M191.2 264.8h.95M199.8 264.0h.95M187.5 267.0h.95M204.3 263.5h.95M191.2 270.8h.95M186.5 264.0h.95M176.9 264.9h.95M195.6 260.6h.95M190.0 269.1h.95M211.5 268.0h.95M195.2 269.6h.95M192.2 266.5h.95M194.9 274.6h.95M187.6 263.9h.95M188.8 264.4h.95M191.9 263.8h.95M183.5 258.8h.95M196.4 265.2h.95M193.0 262.5h.95M187.7 261.0h.95M180.8 268.5h.95M194.1 266.8h.95M205.3 269.3h.95M190.0 268.7h.95M190.7 264.6h.95M206.1 264.3h.95M193.3 264.8h.95M193.7 270.5h.95M197.3 257.6h.95M196.1 264.7h.95M189.8 265.5h.95M194.1 259.5h.95M189.8 265.4h.95M190.4 262.8h.95M202.9 267.8h.95M189.1 267.5h.95M198.8 272.2h.95M190.8 258.0h.95M180.5 259.2h.95M195.1 255.1h.95M196.1 267.5h.95M183.2 264.3h.95M199.9 274.2h.95M193.3 262.0h.95M189.5 267.7h.95M193.1 263.5h.95M181.2 264.5h.95M194.0 267.0h.95M185.7 260.8h.95M193.0 263.8h.95M197.7 264.9h.95M185.1 259.1h.95M181.8 265.2h.95M185.9 268.0h.95M193.6 265.9h.95M192.5 265.1h.95M181.1 272.5h.95M201.6 263.1h.95M182.3 268.1h.95M205.7 263.8h.95M203.8 268.1h.95M186.1 262.7h.95M195.6 266.2h.95M171.3 265.4h.95M192.1 262.1h.95M191.8 264.4h.95M195.9 262.6h.95M188.4 270.5h.95M189.5 271.1h.95M198.2 265.9h.95M196.4 264.6h.95M192.7 268.1h.95M196.4 267.4h.95M190.8 265.7h.95M190.5 264.8h.95M191.0 267.5h.95" stroke="#1818ee" stroke-width="0.95" opacity="1.0"/>
<path d="M214.3 261.2h.9M186.1 269.1h.9M204.6 244.5h.9M179.5 248.6h.9M189.7 260.7h.9M191.4 265.2h.9M195.9 254.7h.9M195.4 272.0h.9M192.7 264.4h.9M197.5 249.5h.9M176.7 253.9h.9M195.8 248.7h.9M181.2 252.3h.9M189.0 267.7h.9M187.0 274.2h.9M192.0 255.7h.9M199.3 253.9h.9M188.5 252.7h.9M194.9 259.0h.9M202.1 254.6h.9M199.1 263.7h.9M184.6 259.5h.9M185.9 256.4h.9M183.4 252.5h.9M192.9 254.8h.9M197.7 268.1h.9M177.4 251.3h.9M191.0 256.9h.9M194.5 270.3h.9M201.7 275.6h.9M198.3 250.8h.9M192.8 257.9h.9M185.7 257.1h.9M195.8 244.7h.9M195.9 267.3h.9M197.1 260.0h.9M189.4 253.5h.9M184.8 256.7h.9M183.2 264.0h.9M197.6 254.5h.9M192.1 273.8h.9M197.9 263.9h.9M186.4 250.5h.9M200.1 256.9h.9M194.2 263.7h.9M195.5 261.7h.9M189.4 254.9h.9M190.0 254.2h.9M219.5 265.1h.9M191.6 245.0h.9" stroke="#1818ee" stroke-width="0.9" opacity="1.0"/>
<path d="M215.0 261.8h.95M218.3 275.2h.95M210.2 261.0h.95M214.3 255.7h.95M218.1 264.2h.95M216.7 266.4h.95M214.7 256.2h.95M218.7 261.1h.95M210.4 267.5h.95M213.9 259.6h.95M217.9 270.1h.95M217.1 268.0h.95M222.1 257.5h.95M213.3 259.6h.95M220.6 262.5h.95M215.9 268.8h.95M220.3 270.6h.95M219.8 257.5h.95M213.0 263.5h.95M218.8 266.4h.95M215.4 266.7h.95M216.6 258.9h.95M216.1 262.4h.95M212.3 265.1h.95M216.5 267.0h.95M221.6 257.5h.95M219.5 263.2h.95M211.2 264.6h.95M221.2 269.8h.95M213.3 260.5h.95M221.7 263.5h.95M214.4 262.0h.95M215.5 268.3h.95M215.9 266.1h.95M219.5 259.9h.95M214.3 268.3h.95M226.4 268.4h.95M223.5 270.0h.95M216.0 267.4h.95M226.1 261.3h.95M219.6 259.4h.95M225.0 259.4h.95M207.4 255.1h.95M227.4 264.2h.95M212.8 270.1h.95M210.5 262.1h.95M219.0 264.0h.95M219.0 266.4h.95M216.3 260.6h.95M218.0 258.4h.95M211.4 259.1h.95M221.6 262.6h.95M213.3 267.4h.95M209.3 257.3h.95M212.0 271.9h.95M211.3 269.9h.95M210.9 262.9h.95M210.8 266.4h.95M215.2 262.0h.95M218.6 262.0h.95M218.0 261.7h.95M203.3 271.8h.95M222.1 267.0h.95M220.8 263.3h.95M220.8 269.5h.95M216.4 266.0h.95M215.6 274.1h.95M204.3 271.5h.95M210.1 256.6h.95M217.6 262.8h.95M221.5 261.1h.95M218.8 265.9h.95M209.9 259.7h.95M219.1 262.7h.95M212.4 264.5h.95M219.8 270.6h.95M214.6 253.8h.95M202.0 264.9h.95M218.7 255.0h.95M220.3 267.1h.95M216.8 269.8h.95M222.9 264.0h.95M222.9 261.0h.95M213.5 263.1h.95M215.1 251.4h.95M210.0 261.1h.95M219.0 271.8h.95M216.1 265.4h.95M219.6 271.6h.95M217.2 267.6h.95M220.6 265.8h.95M215.2 263.2h.95M214.9 256.9h.95M210.9 269.6h.95M216.6 255.5h.95M209.8 266.9h.95M217.3 261.7h.95M214.0 265.9h.95M218.7 264.6h.95M218.6 260.1h.95M218.3 265.3h.95M220.2 266.1h.95M209.6 266.8h.95M219.6 270.2h.95M213.9 254.9h.95M206.5 262.1h.95M206.4 257.7h.95M212.5 261.9h.95M207.9 266.5h.95M210.5 260.3h.95M217.1 268.8h.95M220.0 271.6h.95M212.3 265.3h.95M207.9 257.6h.95M218.6 255.8h.95M217.2 267.6h.95M216.7 259.0h.95M221.0 267.2h.95M216.7 261.8h.95M222.9 266.4h.95M207.3 262.1h.95M211.8 262.3h.95M211.8 258.3h.95M216.6 262.6h.95M219.9 272.3h.95M217.0 260.8h.95M224.4 266.8h.95M214.3 263.5h.95M214.2 263.5h.95M214.0 263.7h.95M215.6 269.7h.95M216.6 262.8h.95M207.4 264.5h.95M221.1 270.1h.95M215.4 262.2h.95M218.9 267.9h.95M210.4 267.0h.95M222.7 267.7h.95M209.4 265.7h.95M220.1 263.8h.95M216.7 264.1h.95M222.6 265.1h.95M224.1 265.2h.95M219.9 264.8h.95M216.4 255.8h.95M214.4 263.0h.95M220.1 274.4h.95M222.4 268.6h.95M211.8 262.9h.95M217.7 256.7h.95M210.3 259.6h.95M219.9 263.7h.95M212.2 256.9h.95M212.3 263.9h.95M215.3 266.6h.95M213.6 263.3h.95M213.2 259.1h.95M214.7 269.3h.95M216.3 261.4h.95M217.7 260.7h.95M215.0 263.1h.95M215.1 264.9h.95M215.0 264.4h.95M215.7 263.8h.95M215.8 267.4h.95M213.7 267.4h.95M212.5 268.1h.95M211.5 263.1h.95M213.0 262.7h.95M218.1 266.9h.95M216.6 267.9h.95M213.7 260.4h.95M219.4 256.9h.95M215.1 264.9h.95M214.6 257.9h.95M218.9 265.0h.95M208.5 268.7h.95M210.2 261.8h.95M216.2 263.2h.95M211.5 259.5h.95M225.5 260.1h.95M216.7 265.5h.95M215.8 265.4h.95M219.2 267.1h.95M217.2 262.0h.95M210.8 262.1h.95M222.3 264.2h.95M215.5 272.9h.95M220.8 273.8h.95M205.6 264.1h.95M211.6 263.6h.95M216.5 258.5h.95M219.3 265.4h.95M216.9 265.4h.95M213.9 258.1h.95M215.2 266.6h.95M210.0 261.1h.95M215.4 259.4h.95M217.8 266.8h.95M209.7 267.5h.95M211.1 269.3h.95M212.9 263.4h.95M213.1 271.3h.95M224.0 268.5h.95M217.6 260.6h.95M220.4 263.5h.95M211.4 269.9h.95M216.4 255.0h.95M220.4 265.2h.95M216.9 270.7h.95M212.3 269.8h.95M212.9 275.0h.95M216.8 263.5h.95M219.8 266.2h.95M212.9 265.9h.95M214.5 269.7h.95M218.1 259.1h.95M222.7 260.2h.95M215.5 259.7h.95M211.0 262.2h.95M221.6 275.5h.95M210.1 274.5h.95M207.7 265.8h.95M222.4 266.6h.95M222.7 265.6h.95M224.2 267.1h.95M216.7 274.0h.95M218.0 271.4h.95M210.8 270.7h.95M215.8 267.9h.95M214.8 259.6h.95M216.4 266.4h.95M217.6 265.2h.95M211.5 260.8h.95M214.6 256.2h.95M210.1 262.3h.95M217.9 269.7h.95M214.0 261.8h.95M217.0 268.5h.95M214.6 266.9h.95M222.5 258.0h.95M214.1 252.9h.95M221.4 261.0h.95M208.4 263.8h.95M213.9 268.0h.95M210.8 265.3h.95M211.2 267.1h.95M222.2 256.8h.95M218.9 264.2h.95M222.6 250.0h.95M218.1 264.4h.95M216.4 261.8h.95M220.2 268.4h.95M219.0 262.5h.95M212.4 267.5h.95M215.0 260.6h.95M213.4 276.2h.95M221.3 268.9h.95M215.7 264.2h.95M213.7 261.8h.95" stroke="#1818ee" stroke-width="0.95" opacity="1.0"/>
<path d="M208.8 268.5h.9M217.4 260.1h.9M215.1 260.8h.9M221.2 264.8h.9M216.7 251.5h.9M211.8 256.6h.9M210.5 263.5h.9M220.2 249.0h.9M216.3 249.8h.9M220.6 269.3h.9M223.6 254.1h.9M213.7 257.9h.9M210.8 260.2h.9M213.7 259.7h.9M224.5 253.0h.9M219.1 252.8h.9M209.9 257.0h.9M215.8 243.0h.9M208.9 247.9h.9M212.3 265.9h.9M210.9 263.2h.9M216.5 255.6h.9M215.0 254.3h.9M223.2 268.1h.9M217.7 258.3h.9M222.4 280.8h.9M212.0 257.3h.9M206.4 268.5h.9M226.3 266.5h.9M219.4 258.8h.9M210.9 259.9h.9M215.9 254.3h.9M217.9 263.0h.9M220.5 253.5h.9M218.9 249.3h.9M219.2 267.5h.9M204.4 259.4h.9M209.1 262.7h.9M222.8 251.6h.9M227.3 256.5h.9M212.1 277.9h.9M219.8 262.5h.9M206.0 253.2h.9M226.4 256.7h.9M213.6 262.9h.9M224.6 244.6h.9M215.4 248.2h.9M212.5 261.0h.9M210.9 249.3h.9M218.0 260.6h.9" stroke="#1818ee" stroke-width="0.9" opacity="1.0"/>
<path d="M210.8 267.3h1.0M219.5 264.6h1.0M204.5 263.6h1.0M213.0 263.5h1.0M213.0 267.8h1.0M218.4 262.1h1.0M211.8 264.7h1.0M215.1 261.1h1.0M210.8 261.7h1.0M216.9 262.9h1.0M210.1 260.2h1.0M217.0 260.8h1.0M216.1 260.2h1.0M214.3 259.0h1.0M211.7 259.5h1.0M214.8 263.0h1.0M212.3 263.8h1.0M214.8 260.1h1.0M211.5 261.1h1.0M216.3 267.1h1.0M212.6 269.0h1.0M217.0 261.5h1.0" stroke="#f07020" stroke-width="1.0" opacity="1.0"/>
<path d="M195.1 260.2h1.0M201.1 263.5h1.0M198.9 268.0h1.0M194.0 263.3h1.0M194.3 260.8h1.0M188.3 266.4h1.0M194.3 264.8h1.0M192.4 264.6h1.0M190.8 264.5h1.0M190.2 262.9h1.0M185.7 267.6h1.0M191.4 263.8h1.0" stroke="#f07020" stroke-width="1.0" opacity="1.0"/>
<path d="M211.1 232.9h1.0M212.9 231.0h1.0M207.2 230.2h1.0M205.4 228.2h1.0M205.0 228.4h1.0M204.2 230.7h1.0M209.3 230.9h1.0M211.4 229.9h1.0" stroke="#f07020" stroke-width="1.0" opacity="1.0"/>
<rect x="178.2" y="221.3" width="53.4" height="21.0" fill="none" stroke="#5555ee" stroke-width="1.4"/>
<rect x="178.2" y="244.0" width="28.5" height="27.6" fill="none" stroke="#44bb44" stroke-width="1.4"/>
<rect x="207.1" y="244.0" width="24.5" height="27.6" fill="none" stroke="#ee3322" stroke-width="1.4"/>
<text x="195.90" y="218.80" font-size="10.8" text-anchor="start" fill="#222" stroke="#222" stroke-width="0.18" textLength="19.86" lengthAdjust="spacingAndGlyphs">20.7</text>
<text x="172.70" y="278.40" font-size="10.8" text-anchor="start" fill="#222" stroke="#222" stroke-width="0.18" textLength="20.46" lengthAdjust="spacingAndGlyphs">31.8</text>
<text x="220.60" y="278.40" font-size="10.8" text-anchor="start" fill="#222" stroke="#222" stroke-width="0.18" textLength="19.96" lengthAdjust="spacingAndGlyphs">46.5</text>
<path d="M222.7 313.1h.95M215.2 316.1h.95M227.0 312.1h.95M216.1 311.4h.95M225.7 314.3h.95M220.3 309.2h.95M219.9 308.3h.95M222.6 317.5h.95M223.2 315.7h.95M216.6 311.5h.95M214.1 306.7h.95M220.4 317.8h.95M220.1 311.4h.95M223.0 306.1h.95M220.2 306.1h.95M218.3 316.2h.95M221.1 312.1h.95M222.9 307.5h.95M217.9 314.3h.95M214.4 309.6h.95M221.1 310.5h.95M225.0 308.6h.95M220.5 311.0h.95M219.5 312.8h.95M217.4 309.0h.95M213.3 308.1h.95M209.8 321.8h.95M226.8 320.1h.95M217.7 314.7h.95M221.5 314.2h.95M214.5 308.4h.95M219.9 312.2h.95M222.7 311.8h.95M224.2 314.9h.95M223.8 315.6h.95M224.6 315.8h.95M222.9 314.3h.95M221.7 317.8h.95M221.0 317.7h.95M216.1 314.4h.95M223.0 317.8h.95M220.0 316.0h.95M223.6 313.5h.95M216.8 314.1h.95M222.4 318.1h.95M217.7 313.7h.95M213.8 317.3h.95M217.3 308.5h.95M217.0 317.0h.95M225.4 317.2h.95M218.5 306.0h.95M226.5 309.0h.95M224.0 312.4h.95M220.7 312.4h.95M219.6 312.2h.95M224.3 310.8h.95M218.8 323.0h.95M220.7 317.0h.95M221.1 314.1h.95M222.5 311.5h.95" stroke="#1818ee" stroke-width="0.95" opacity="1.0"/>
<path d="M200.3 344.9h.95M202.1 344.0h.95M180.3 347.9h.95M191.4 346.6h.95M211.3 345.8h.95M194.8 344.5h.95M199.5 349.3h.95M197.4 350.1h.95M204.9 336.1h.95M192.8 350.1h.95M177.6 342.9h.95M192.8 347.8h.95M182.0 348.7h.95M190.2 345.0h.95M186.6 342.5h.95M200.5 350.6h.95M209.4 348.4h.95M195.4 347.1h.95M199.1 342.1h.95M195.5 347.3h.95M185.9 347.8h.95M199.5 342.5h.95M180.3 344.0h.95M205.5 342.3h.95M187.6 346.0h.95M198.4 345.2h.95M201.0 341.1h.95M206.7 340.1h.95M184.9 342.0h.95M199.7 347.6h.95M177.3 344.7h.95M200.2 350.4h.95M195.2 341.4h.95M194.9 340.6h.95M196.7 350.2h.95M202.6 338.8h.95M182.1 344.0h.95M198.5 344.0h.95M193.4 342.8h.95M201.0 346.5h.95M196.0 335.9h.95M208.2 347.0h.95M186.5 342.6h.95M186.5 348.6h.95M203.7 345.8h.95M193.8 342.1h.95M200.8 344.9h.95M185.9 349.9h.95M203.5 351.6h.95M195.7 346.2h.95M193.2 345.6h.95M198.4 343.9h.95M191.7 343.4h.95M207.8 356.5h.95M191.6 340.7h.95M202.3 346.3h.95M212.4 345.3h.95M193.2 342.2h.95M197.6 347.3h.95M186.4 338.3h.95M204.2 348.3h.95M192.7 349.6h.95M186.9 347.4h.95M205.1 347.3h.95M196.8 342.9h.95M187.3 348.3h.95M193.9 350.9h.95M200.1 346.2h.95M197.5 345.3h.95M195.1 346.9h.95" stroke="#1818ee" stroke-width="0.95" opacity="1.0"/>
<path d="M214.6 335.8h.95M217.3 335.5h.95M225.6 339.9h.95M218.2 335.2h.95M219.4 343.6h.95M222.8 337.8h.95M219.5 334.8h.95M215.8 335.5h.95M219.0 346.6h.95M215.5 339.4h.95M223.4 330.3h.95M218.5 335.7h.95M218.4 343.6h.95M223.4 337.8h.95M217.9 343.2h.95M220.7 333.5h.95M225.7 342.2h.95M218.9 349.9h.95M221.5 340.6h.95M212.1 330.9h.95M214.8 341.2h.95M218.2 343.0h.95M213.3 332.9h.95M213.3 340.7h.95M224.5 349.1h.95M217.7 347.2h.95M213.0 341.3h.95M221.3 334.8h.95M219.9 340.8h.95M216.1 334.8h.95M221.1 336.2h.95M217.1 330.9h.95M215.6 332.0h.95M220.1 335.8h.95M219.5 336.4h.95M218.9 341.4h.95M218.8 338.2h.95M222.1 339.1h.95M219.8 330.8h.95M219.7 344.3h.95M215.4 340.1h.95M218.2 342.8h.95M222.7 334.7h.95M221.2 344.6h.95M226.1 338.6h.95M219.5 331.0h.95M221.9 331.5h.95M221.7 353.2h.95M211.3 337.8h.95M218.2 339.9h.95M217.3 343.3h.95M216.3 330.4h.95M222.8 349.1h.95M218.3 329.1h.95M224.4 352.3h.95M211.5 349.8h.95M224.8 352.1h.95M221.1 348.9h.95M216.8 346.9h.95M219.2 338.8h.95M226.4 331.5h.95M225.2 346.1h.95M219.3 341.9h.95M216.9 336.0h.95M229.9 337.6h.95M219.3 340.7h.95M217.9 346.4h.95M216.7 332.2h.95M220.4 344.4h.95M218.5 339.1h.95M217.7 335.4h.95M211.5 335.5h.95M223.6 344.9h.95M218.7 341.2h.95M213.5 339.9h.95M217.1 339.0h.95M227.8 343.3h.95M220.9 345.3h.95M217.9 346.1h.95M218.3 345.1h.95M225.3 346.2h.95M214.2 349.1h.95M222.0 335.6h.95M222.9 335.8h.95M220.3 346.5h.95M220.8 339.7h.95M223.2 340.0h.95M223.7 334.4h.95M218.7 339.0h.95M227.1 338.2h.95M223.8 342.1h.95M214.4 342.9h.95M222.0 340.1h.95M216.0 337.8h.95M226.3 344.1h.95M223.2 345.4h.95M219.7 343.7h.95M222.9 335.7h.95M222.4 337.2h.95M221.2 343.4h.95M216.3 349.3h.95M221.6 335.9h.95M223.5 342.7h.95M220.7 334.9h.95M221.2 335.5h.95M216.7 342.6h.95M222.4 346.3h.95M218.0 345.0h.95M219.6 333.3h.95M216.3 339.8h.95M210.8 333.9h.95M221.1 336.6h.95M218.7 334.0h.95M221.0 343.5h.95M228.9 338.0h.95M227.5 339.1h.95M216.6 343.0h.95M225.4 348.7h.95M220.9 340.0h.95M221.3 336.2h.95M220.8 348.4h.95M221.2 354.0h.95M225.8 348.8h.95M225.8 334.5h.95M222.6 331.0h.95M220.4 341.2h.95M219.4 342.2h.95M221.7 348.1h.95M217.5 339.9h.95M222.9 343.6h.95M223.0 335.9h.95M215.9 345.6h.95M224.9 340.8h.95M211.8 341.0h.95M223.0 340.8h.95M214.3 343.3h.95M210.4 345.6h.95M218.5 338.7h.95M224.0 341.2h.95M213.2 340.2h.95M222.0 345.3h.95M222.7 353.7h.95M212.5 339.5h.95M222.4 346.8h.95M222.8 333.2h.95M220.6 342.7h.95M220.7 343.8h.95M220.3 340.5h.95M219.4 343.2h.95M219.6 341.5h.95M222.7 343.1h.95M219.8 344.1h.95M219.1 335.3h.95M222.5 341.5h.95M215.0 342.1h.95M224.0 344.0h.95M222.1 330.1h.95M216.3 341.6h.95M219.9 336.1h.95M216.6 336.7h.95M213.9 348.1h.95M223.5 339.4h.95M216.3 336.8h.95M221.0 333.4h.95M211.4 344.2h.95M213.6 338.2h.95M215.9 345.1h.95M221.9 346.1h.95M223.4 345.0h.95M225.9 344.1h.95M222.4 349.7h.95M218.7 329.3h.95M213.9 329.8h.95M229.2 337.8h.95M218.8 343.8h.95M215.2 337.9h.95M214.8 335.4h.95M227.7 332.2h.95M219.2 331.7h.95M216.9 335.2h.95M218.0 338.1h.95M217.1 339.8h.95M223.1 347.6h.95M219.1 337.3h.95M212.1 335.8h.95M221.6 347.3h.95M218.4 346.1h.95M214.0 341.5h.95M219.3 330.3h.95M221.5 350.3h.95M217.5 353.0h.95M217.1 339.3h.95M219.8 350.5h.95M220.9 333.9h.95M219.6 337.8h.95M212.6 344.2h.95M222.9 336.7h.95M221.0 344.0h.95M221.3 341.7h.95M220.2 352.2h.95M215.0 342.3h.95M217.9 341.0h.95M211.1 341.7h.95M217.4 347.1h.95M211.3 336.9h.95M220.1 344.0h.95M222.7 333.0h.95M226.1 346.4h.95M214.1 346.5h.95M223.4 336.0h.95M224.0 350.6h.95M219.5 347.6h.95M212.2 333.3h.95M223.8 336.8h.95M214.6 340.7h.95M218.3 343.9h.95M219.6 332.9h.95M216.5 345.5h.95M222.4 347.8h.95M218.8 342.1h.95M223.7 333.6h.95M227.2 340.9h.95M221.0 345.0h.95M216.9 352.1h.95M215.3 333.4h.95M223.4 335.6h.95M221.2 342.2h.95M221.3 338.3h.95M221.7 349.1h.95M226.8 334.8h.95M222.4 341.4h.95M213.5 336.8h.95M219.3 334.1h.95M219.5 341.9h.95M218.4 346.6h.95M216.1 334.0h.95M222.0 347.7h.95M220.1 341.5h.95M215.9 344.0h.95M221.4 347.8h.95M229.2 348.5h.95M220.8 342.3h.95M221.4 343.4h.95M220.6 343.5h.95M217.5 333.6h.95M215.4 342.4h.95M219.3 339.5h.95M214.5 335.7h.95M221.7 342.4h.95M218.2 342.6h.95M220.9 343.4h.95M219.2 335.4h.95M219.0 333.5h.95M226.3 337.0h.95M222.5 339.6h.95M215.1 335.1h.95M225.3 342.6h.95M216.5 343.0h.95M214.0 339.3h.95M211.7 343.9h.95M222.7 332.7h.95M225.7 346.4h.95M219.6 343.3h.95M218.4 350.0h.95M217.6 334.3h.95M222.4 344.6h.95M226.2 341.4h.95M222.4 340.7h.95M219.5 343.7h.95M223.0 335.1h.95M218.8 336.3h.95M226.6 339.3h.95M220.8 339.4h.95M219.7 333.4h.95M221.0 337.6h.95M217.2 334.9h.95M224.5 346.8h.95M219.2 341.0h.95M229.1 348.9h.95M222.5 343.8h.95M216.5 343.3h.95M218.1 345.4h.95M216.7 352.1h.95M220.2 342.2h.95M228.2 337.1h.95M220.2 339.8h.95M229.7 340.3h.95M216.5 343.3h.95M221.6 344.2h.95M218.5 341.1h.95M218.8 339.9h.95M217.9 327.8h.95M212.4 345.3h.95M223.0 341.5h.95M222.4 344.0h.95M214.7 331.9h.95M218.2 344.4h.95M225.2 333.6h.95M217.6 334.2h.95M221.2 349.1h.95M219.3 344.8h.95M224.1 346.1h.95M223.6 338.1h.95M210.7 341.3h.95M217.4 337.2h.95M222.8 338.2h.95M224.2 343.2h.95M213.4 324.5h.95M216.9 344.9h.95M221.5 344.5h.95M218.0 341.3h.95M221.7 337.6h.95M218.1 342.0h.95M213.2 338.0h.95M221.5 335.0h.95M220.9 341.3h.95M226.3 336.1h.95M218.2 340.2h.95M214.3 346.3h.95M222.1 342.7h.95M214.8 340.3h.95M212.4 340.0h.95M217.8 336.0h.95M220.6 342.0h.95M217.9 327.2h.95M218.7 335.4h.95M220.4 342.4h.95M217.0 342.1h.95M217.1 341.9h.95M221.2 341.8h.95" stroke="#1818ee" stroke-width="0.95" opacity="1.0"/>
<path d="M221.6 339.9h1.0M218.0 341.5h1.0M218.6 347.1h1.0M221.8 346.2h1.0M223.2 342.6h1.0M221.3 345.4h1.0M217.7 341.5h1.0M217.6 343.4h1.0M220.0 342.7h1.0M220.2 342.2h1.0M221.2 346.2h1.0M221.2 340.6h1.0M216.2 345.2h1.0M222.4 340.4h1.0M219.9 345.2h1.0M216.3 345.5h1.0M222.9 343.9h1.0M215.3 341.1h1.0M219.1 338.8h1.0M226.8 343.7h1.0M217.8 343.8h1.0M219.2 344.5h1.0M216.4 339.3h1.0M220.2 341.1h1.0M216.9 339.7h1.0" stroke="#f07020" stroke-width="1.0" opacity="1.0"/>
<rect x="179.6" y="294.0" width="56.4" height="27.7" fill="none" stroke="#5555ee" stroke-width="1.4"/>
<rect x="180.5" y="322.9" width="27.1" height="33.8" fill="none" stroke="#44bb44" stroke-width="1.4"/>
<rect x="208.8" y="322.9" width="27.2" height="33.8" fill="none" stroke="#ee3322" stroke-width="1.4"/>
<text x="190.60" y="306.90" font-size="10.8" text-anchor="start" fill="#222" stroke="#222" stroke-width="0.18" textLength="14.7" lengthAdjust="spacingAndGlyphs">7.6</text>
<text x="172.70" y="359.30" font-size="10.8" text-anchor="start" fill="#222" stroke="#222" stroke-width="0.18" textLength="19.66" lengthAdjust="spacingAndGlyphs">12.6</text>
<text x="217.60" y="359.30" font-size="10.8" text-anchor="start" fill="#222" stroke="#222" stroke-width="0.18" textLength="18.56" lengthAdjust="spacingAndGlyphs">77.1</text>
<path d="M247.9,236.2 L259.6,236.2 L259.6,230.9 L269.8,240.6 L259.6,250.2 L259.6,245 L247.9,245 Z" fill="#444"/>
<ellipse cx="312" cy="247" rx="14.25" ry="8.07" fill="#48d048" opacity="0.2" transform="rotate(22 312 247)" filter="url(#bl2)"/>
<path d="M324.1 251.9 323.7 253.6 323.6 255.8 321.3 256.7 318.9 257.8 315.5 257.6 312.0 256.4 309.0 254.3 306.3 252.9 304.2 251.1 301.4 249.5 300.0 247.5 296.6 245.2 296.6 243.0 296.1 240.6 298.3 239.3 300.6 238.3 304.1 238.8 306.7 238.7 309.3 238.8 312.0 238.2 315.3 238.8 318.6 240.1 321.7 241.9 323.7 244.2 324.7 246.5 325.2 248.6 324.6 250.3ZM322.4 251.2 322.5 252.9 321.7 254.4 320.1 255.5 318.0 256.4 315.2 256.6 312.0 255.3 309.1 254.1 307.0 252.2 304.7 250.8 303.2 249.1 302.0 247.4 299.9 245.6 298.3 243.4 298.4 241.5 299.9 240.2 301.2 238.8 304.7 239.3 306.8 238.9 309.4 239.2 312.0 239.7 314.8 240.0 317.7 241.1 320.4 242.6 322.9 244.4 324.4 246.5 324.7 248.5 323.6 250.0ZM321.7 250.9 322.1 252.7 320.8 253.7 319.4 254.7 317.3 255.2 314.3 254.0 312.0 253.7 309.7 252.6 307.7 251.5 305.9 250.2 303.5 249.0 301.3 247.4 300.8 245.7 300.4 244.0 301.5 242.8 302.3 241.5 303.9 240.9 305.7 240.4 307.5 240.0 309.6 239.8 312.0 240.1 314.7 240.4 317.3 241.5 319.3 243.2 320.0 245.1 320.6 246.7 321.0 248.1 322.3 249.7ZM321.4 250.8 321.0 252.1 320.0 253.1 317.7 253.0 315.8 252.9 313.9 252.8 312.0 251.9 310.2 251.5 308.3 250.8 305.8 250.3 304.4 248.8 303.0 247.4 302.7 245.9 302.5 244.5 303.5 243.6 304.5 242.8 305.5 242.1 306.7 241.4 307.8 240.5 309.9 240.7 312.0 240.7 314.1 241.7 315.9 242.9 317.4 244.2 318.3 245.5 319.5 246.7 320.0 247.9 320.7 249.3ZM319.4 250.0 319.5 251.2 318.2 251.7 316.8 252.0 315.2 252.0 313.5 251.4 312.0 251.4 310.5 250.8 308.8 250.3 307.1 249.5 305.6 248.5 304.6 247.3 304.7 246.1 304.5 245.0 305.4 244.3 306.1 243.7 306.4 242.8 307.3 242.1 308.6 241.6 310.3 241.7 312.0 241.8 313.8 242.6 315.4 243.5 316.5 244.7 317.6 245.7 318.1 246.8 319.1 247.8 319.7 249.0ZM317.5 249.2 316.7 249.7 316.2 250.2 315.2 250.4 314.5 250.8 313.3 250.9 312.0 250.9 310.7 250.3 309.5 249.6 308.4 248.9 307.9 248.0 307.4 247.2 306.7 246.4 306.8 245.6 306.2 244.6 306.5 243.9 307.2 243.3 308.2 243.0 309.6 243.2 310.8 243.5 312.0 243.6 313.2 244.1 314.4 244.6 315.6 245.1 316.5 245.9 317.3 246.8 318.2 247.7 317.7 248.5ZM315.9 248.6 315.5 249.0 314.7 249.1 314.4 249.5 313.6 249.5 312.9 249.7 312.0 249.7 311.0 249.4 310.3 248.8 309.4 248.3 309.1 247.7 308.7 247.1 308.2 246.6 308.1 246.0 308.3 245.5 308.4 245.0 308.8 244.6 309.3 244.2 310.3 244.4 311.1 244.3 312.0 244.6 312.8 244.9 313.7 245.2 314.5 245.7 315.3 246.2 315.8 246.8 316.2 247.5 315.9 248.0ZM314.2 247.9 313.9 248.1 313.7 248.3 313.3 248.3 313.0 248.5 312.5 248.6 312.0 248.5 311.5 248.3 311.0 248.0 310.7 247.7 310.3 247.4 310.0 247.1 310.0 246.8 309.8 246.4 309.8 246.1 309.9 245.8 310.1 245.6 310.6 245.5 311.0 245.5 311.5 245.5 312.0 245.7 312.5 245.8 312.9 246.0 313.4 246.3 313.8 246.6 314.2 246.9 314.4 247.3 314.2 247.6Z" fill="none" stroke="#48d048" stroke-width="0.4" opacity="0.55"/>
<path d="M307.3 248.2h.5M316.4 255.6h.5M319.0 244.0h.5M304.8 245.6h.5M308.8 258.8h.5M299.1 242.8h.5M309.9 249.5h.5M318.9 250.0h.5M302.0 246.2h.5M304.5 238.3h.5M325.1 245.4h.5M309.4 236.8h.5M303.4 241.9h.5M329.3 248.1h.5M296.8 248.1h.5M298.0 245.3h.5M322.7 252.4h.5M321.1 248.8h.5M322.8 245.3h.5M315.2 248.6h.5M296.8 253.7h.5M307.9 239.2h.5M318.3 245.6h.5M315.9 253.3h.5M316.8 247.1h.5M305.0 244.4h.5M309.0 247.7h.5M318.2 247.2h.5M314.4 244.7h.5M310.2 246.8h.5M304.7 240.6h.5M306.4 246.3h.5M310.9 245.4h.5M321.6 248.3h.5M306.6 241.1h.5M314.0 248.0h.5M312.7 241.0h.5M307.9 252.1h.5M320.5 245.7h.5M301.3 241.8h.5" stroke="#48d048" stroke-width="0.5" opacity="0.5"/>
<ellipse cx="305" cy="245" rx="9.50" ry="9.50" fill="#e84848" opacity="0.18" transform="rotate(-20 305 245)" filter="url(#bl2)"/>
<path d="M313.2 242.0 314.9 243.8 315.6 246.1 315.8 248.6 314.2 250.6 312.9 252.7 310.5 253.5 308.1 253.4 306.2 254.2 304.2 253.5 301.9 254.1 299.8 253.5 297.5 252.7 295.5 251.1 294.6 248.8 295.0 246.3 295.9 244.1 296.5 242.2 297.5 240.4 298.4 238.6 299.6 236.6 301.3 234.9 303.6 234.0 306.1 234.4 308.3 235.1 309.9 237.0 311.5 238.4 312.8 240.0ZM312.4 242.3 313.2 244.0 314.0 245.9 313.8 248.0 313.8 250.4 312.0 251.8 310.5 253.6 308.1 253.6 306.1 253.7 304.2 253.2 302.3 253.0 300.5 252.3 298.8 251.4 296.9 250.2 295.2 248.6 294.7 246.3 295.9 244.1 296.8 242.2 297.8 240.6 299.3 239.5 300.6 238.1 301.8 236.2 303.8 235.7 306.0 235.1 308.2 235.4 310.0 236.8 311.5 238.3 312.0 240.5ZM312.9 242.1 313.3 244.0 312.2 245.7 311.6 247.2 311.3 248.8 310.9 250.7 309.5 252.0 308.1 253.4 306.1 253.7 304.1 253.6 302.2 253.2 300.8 251.9 300.1 250.0 298.5 249.2 297.7 247.6 297.0 246.0 296.3 244.1 296.0 242.0 297.5 240.4 298.7 238.9 300.5 238.0 302.3 237.7 304.1 237.5 305.8 237.1 307.5 237.6 309.6 237.4 311.6 238.2 312.6 240.1ZM311.8 242.5 312.8 244.0 313.0 245.8 312.7 247.6 311.3 248.8 309.8 249.7 308.7 250.7 307.4 251.5 305.8 251.7 304.3 252.3 302.5 252.5 300.7 252.0 299.2 250.9 298.8 249.0 298.0 247.5 298.3 245.8 298.5 244.4 298.4 242.8 299.2 241.4 299.3 239.5 300.5 238.1 302.1 237.2 304.0 236.9 305.7 237.8 307.2 238.3 308.6 239.1 309.6 240.2 310.9 241.2ZM311.5 242.6 311.7 244.2 312.0 245.7 311.1 247.1 310.3 248.2 309.1 249.0 308.1 249.8 307.0 250.4 305.8 251.4 304.3 251.7 302.7 251.8 301.2 251.2 300.1 250.0 299.5 248.5 299.3 247.1 299.0 245.7 299.2 244.4 299.2 243.1 299.4 241.6 300.2 240.4 301.3 239.2 302.6 238.4 304.2 238.5 305.6 238.9 306.8 239.7 307.9 240.2 309.4 240.5 310.6 241.4ZM310.8 242.9 310.7 244.3 310.5 245.5 309.7 246.6 309.5 247.8 308.7 248.6 307.9 249.5 306.9 250.3 305.7 250.8 304.4 250.7 303.1 250.6 302.1 249.8 301.5 248.6 300.9 247.7 299.9 246.8 299.7 245.7 299.0 244.4 299.1 243.0 299.9 241.9 300.8 240.9 302.0 240.4 303.2 240.1 304.4 239.9 305.5 239.8 306.8 239.7 307.9 240.3 309.1 240.8 310.1 241.7ZM309.2 243.5 309.6 244.4 309.5 245.4 309.8 246.6 309.2 247.6 308.6 248.5 307.5 248.9 306.5 249.1 305.5 249.3 304.6 249.4 303.6 249.1 302.7 248.7 301.5 248.6 300.8 247.7 300.4 246.7 300.2 245.6 300.2 244.5 300.6 243.5 301.3 242.8 301.9 242.0 302.5 241.1 303.4 240.6 304.4 240.1 305.5 239.8 306.6 240.2 307.6 240.8 308.2 241.8 308.8 242.6ZM308.2 243.8 308.7 244.5 308.9 245.4 308.7 246.3 308.4 247.1 307.9 247.8 307.2 248.4 306.2 248.3 305.5 248.7 304.6 248.7 303.9 248.4 303.0 248.3 302.2 247.8 301.7 247.1 301.3 246.3 301.0 245.5 301.4 244.6 301.6 243.9 302.1 243.2 302.6 242.6 303.0 241.9 303.6 241.3 304.5 240.8 305.4 240.9 306.3 241.1 307.0 241.8 307.6 242.3 307.9 243.1ZM307.9 243.9 308.1 244.6 308.2 245.3 307.9 246.0 307.4 246.5 307.1 247.1 306.4 247.2 305.9 247.4 305.4 247.8 304.7 247.8 304.0 247.8 303.4 247.6 302.8 247.2 302.4 246.7 302.3 246.0 302.4 245.3 302.3 244.7 302.5 244.1 302.5 243.5 302.9 243.0 303.3 242.4 303.9 242.1 304.6 241.9 305.3 242.2 305.9 242.3 306.4 242.7 307.0 243.0 307.4 243.4ZM307.0 244.3 306.9 244.8 306.9 245.2 306.7 245.6 306.7 246.0 306.4 246.4 306.2 246.9 305.7 247.0 305.3 247.2 304.8 247.1 304.4 246.9 304.0 246.6 303.6 246.4 303.4 246.0 303.1 245.7 302.8 245.3 302.8 244.8 302.9 244.3 303.2 243.9 303.6 243.6 303.9 243.3 304.4 243.2 304.8 243.2 305.2 243.0 305.7 243.0 306.1 243.2 306.5 243.5 306.8 243.8ZM306.2 244.6 306.2 244.9 306.2 245.1 306.0 245.4 305.9 245.6 305.7 245.7 305.6 245.9 305.4 246.0 305.1 246.1 304.9 246.2 304.6 246.1 304.4 246.0 304.1 245.9 304.1 245.6 304.0 245.4 303.9 245.1 303.9 244.9 303.9 244.6 304.0 244.4 304.1 244.1 304.4 244.0 304.6 243.9 304.9 243.9 305.1 244.0 305.3 244.0 305.5 244.1 305.8 244.2 306.0 244.4Z" fill="none" stroke="#e84848" stroke-width="0.4" opacity="0.6"/>
<path d="M308.6 253.3h.5M300.0 246.5h.5M303.5 245.3h.5M301.3 245.2h.5M310.9 240.2h.5M300.9 245.7h.5M308.5 245.6h.5M304.0 248.6h.5M307.5 240.6h.5M301.0 249.3h.5M303.6 248.5h.5M297.1 236.8h.5M300.7 244.7h.5M304.6 243.5h.5M300.7 240.2h.5M315.9 257.5h.5M310.2 245.6h.5M303.6 243.9h.5M304.9 244.7h.5M313.9 253.4h.5M317.1 244.0h.5M309.6 248.6h.5M305.3 253.7h.5M301.8 243.3h.5M306.9 251.7h.5M309.3 239.6h.5M296.0 238.9h.5M296.6 236.9h.5M300.6 253.7h.5M308.9 246.1h.5M316.8 245.5h.5M310.0 249.6h.5M304.2 249.8h.5M310.7 248.0h.5M298.2 247.8h.5M296.2 236.5h.5M297.5 245.9h.5M309.2 249.0h.5M304.9 254.4h.5M311.1 247.9h.5" stroke="#e84848" stroke-width="0.5" opacity="0.5"/>
<path d="M313.0 246.0 312.3 247.3 311.7 248.5 310.4 249.2 309.4 249.9 308.2 250.1 307.3 251.1 306.0 251.3 304.6 251.6 303.1 251.6 301.7 251.0 301.0 249.7 300.6 248.4 300.9 247.1 300.9 246.0 300.9 244.9 300.6 243.6 301.4 242.6 301.8 241.1 303.1 240.5 304.5 240.0 306.0 240.4 307.3 240.8 308.3 241.7 309.2 242.3 310.3 242.8 311.5 243.6 312.1 244.7ZM310.6 246.0 310.0 246.8 310.2 247.9 309.6 248.7 309.2 249.7 308.4 250.6 307.2 250.9 306.0 251.0 304.9 250.5 303.9 249.9 303.2 249.2 302.6 248.5 301.9 247.8 301.1 247.0 300.6 246.0 300.9 244.9 301.1 243.8 302.1 243.2 303.2 242.8 304.2 242.5 305.0 242.0 306.0 241.9 307.0 241.9 308.2 241.8 309.2 242.3 310.1 243.0 310.5 244.0 310.6 245.0ZM309.7 246.0 310.0 246.8 309.8 247.7 309.2 248.3 308.2 248.6 307.6 249.0 306.8 249.1 306.0 249.3 305.2 249.2 304.3 249.2 303.5 248.9 302.7 248.4 302.2 247.7 302.4 246.8 302.6 246.0 302.7 245.3 302.9 244.6 303.4 244.1 303.6 243.2 304.3 242.8 305.1 242.3 306.0 242.2 306.9 242.4 307.5 243.1 308.1 243.5 308.5 244.2 309.2 244.6 309.8 245.2ZM308.4 246.0 308.5 246.5 308.6 247.2 308.3 247.7 307.8 248.0 307.2 248.2 306.6 248.2 306.0 248.2 305.4 248.2 304.9 248.0 304.4 247.8 303.9 247.5 303.5 247.1 303.2 246.6 303.4 246.0 303.6 245.5 303.9 245.1 304.2 244.7 304.5 244.3 304.9 243.9 305.4 243.5 306.0 243.5 306.6 243.4 307.2 243.7 307.6 244.1 308.0 244.5 308.1 245.1 308.4 245.5ZM307.5 246.0 307.5 246.3 307.4 246.6 307.0 246.8 306.8 247.0 306.6 247.2 306.3 247.2 306.0 247.4 305.7 247.4 305.3 247.3 305.0 247.1 304.8 246.9 304.7 246.6 304.6 246.3 304.7 246.0 304.6 245.7 304.7 245.4 304.8 245.1 305.0 244.9 305.3 244.7 305.7 244.6 306.0 244.7 306.3 244.7 306.6 244.9 306.9 245.0 307.1 245.2 307.3 245.4 307.5 245.7Z" fill="none" stroke="#48d048" stroke-width="0.4" opacity="0.6"/>
<path d="M306.3 250.2h.5M305.9 250.9h.5M308.1 239.0h.5M305.5 243.9h.5M305.9 253.3h.5M304.9 244.7h.5M304.5 243.6h.5M306.0 244.7h.5M307.6 243.6h.5M314.8 245.0h.5M305.6 252.1h.5M298.6 250.7h.5M301.2 248.1h.5M307.0 245.6h.5M297.2 245.6h.5M313.7 244.1h.5M301.3 242.6h.5M308.6 243.2h.5M312.1 247.1h.5M308.3 242.9h.5M305.3 245.3h.5M309.7 244.4h.5M307.5 248.4h.5M305.8 249.2h.5M300.8 247.9h.5M306.7 244.7h.5M300.6 243.5h.5M304.3 248.6h.5M309.8 247.9h.5M309.6 249.5h.5M314.6 247.1h.5M304.7 244.3h.5M303.2 245.5h.5M299.7 248.2h.5M308.3 242.1h.5M304.8 241.8h.5M315.0 248.1h.5M310.2 250.0h.5M298.8 245.9h.5M306.5 251.5h.5" stroke="#48d048" stroke-width="0.5" opacity="0.5"/>
<ellipse cx="329" cy="258" rx="10.92" ry="10.92" fill="#e84848" opacity="0.1" transform="rotate(0 329 258)" filter="url(#bl2)"/>
<path d="M339.4 258.0 340.0 260.5 340.5 263.5 339.0 266.0 336.9 267.9 334.3 269.0 331.6 269.2 329.0 267.9 326.6 268.4 324.5 267.3 322.4 266.3 319.5 265.6 317.6 263.5 316.6 260.8 316.6 258.0 318.2 255.5 319.2 253.3 321.2 251.8 322.5 249.8 324.4 248.4 326.4 246.7 329.0 244.9 331.9 245.1 334.5 246.5 336.3 248.9 337.2 251.5 338.3 253.5 338.8 255.8ZM337.2 258.0 338.0 260.1 337.4 262.1 337.2 264.5 335.6 266.3 333.5 267.4 331.1 267.3 329.0 267.1 327.1 266.2 325.4 265.6 323.3 265.2 321.7 263.8 319.4 262.6 318.7 260.4 317.9 258.0 319.4 255.8 320.4 253.8 322.3 252.7 323.5 251.1 325.3 250.4 326.9 249.0 329.0 247.6 331.3 247.9 333.6 248.4 335.3 250.2 336.8 251.8 337.2 254.0 337.3 256.1ZM336.3 258.0 336.2 259.6 335.9 261.3 335.1 262.9 334.2 264.5 332.6 265.5 330.8 266.0 329.0 266.0 327.3 265.6 325.7 264.8 324.5 263.6 323.5 262.4 322.3 261.2 320.8 259.9 320.9 258.0 320.2 256.0 321.2 254.2 323.0 253.2 324.2 252.0 325.9 251.5 327.4 251.1 329.0 250.9 330.8 249.9 332.6 250.5 334.5 251.1 335.4 252.9 336.4 254.5 336.1 256.4ZM335.6 258.0 335.5 259.5 334.8 260.8 333.6 261.7 332.7 262.7 331.5 263.1 330.2 263.1 329.0 263.6 327.6 263.9 326.3 263.6 324.9 263.1 324.1 261.9 323.2 260.8 323.4 259.3 323.2 258.0 323.7 256.8 323.7 255.5 324.6 254.5 325.2 253.2 326.1 252.0 327.6 251.8 329.0 251.9 330.3 252.2 331.5 252.7 332.5 253.6 333.4 254.5 334.2 255.5 335.0 256.6ZM333.5 258.0 333.2 259.0 332.8 259.8 332.2 260.6 331.5 261.1 330.8 261.7 329.9 261.9 329.0 262.3 328.0 262.3 327.0 262.2 326.3 261.4 325.7 260.7 325.5 259.7 325.4 258.8 325.0 258.0 325.2 257.1 325.3 256.2 325.4 255.1 326.3 254.6 327.1 254.1 328.1 254.0 329.0 253.9 329.8 254.3 330.6 254.6 331.6 254.8 332.3 255.3 332.9 256.1 333.5 257.0ZM331.6 258.0 331.5 258.6 331.2 259.1 330.9 259.5 330.4 259.8 329.9 259.9 329.5 260.1 329.0 260.2 328.5 260.4 327.9 260.2 327.4 260.0 327.0 259.6 326.8 259.1 326.8 258.5 326.8 258.0 326.9 257.5 327.0 257.0 327.1 256.5 327.4 256.0 327.9 255.6 328.4 255.5 329.0 255.6 329.5 255.8 330.0 256.0 330.3 256.4 330.6 256.7 331.0 257.0 331.5 257.4Z" fill="none" stroke="#e84848" stroke-width="0.4" opacity="0.5"/>
<path d="M327.5 250.6h.5M325.6 260.5h.5M320.3 256.5h.5M331.7 258.8h.5M328.7 265.2h.5M342.4 244.9h.5M341.3 262.2h.5M330.0 266.4h.5M331.2 251.1h.5M326.9 246.6h.5M327.3 262.9h.5M339.2 256.5h.5M329.4 260.7h.5M319.8 261.2h.5M330.5 255.3h.5M331.8 254.3h.5M310.7 250.0h.5M322.8 259.5h.5M326.6 256.5h.5M338.0 265.2h.5M325.6 265.9h.5M326.7 268.3h.5M331.4 259.0h.5M328.4 266.4h.5M322.2 250.3h.5M331.2 263.3h.5M336.0 246.5h.5M315.4 256.8h.5M326.5 254.6h.5M331.2 255.3h.5M335.8 267.5h.5M337.3 250.4h.5M329.7 252.3h.5M318.9 265.9h.5M326.3 260.2h.5M328.1 261.2h.5M326.9 262.8h.5M327.0 260.8h.5M332.0 257.1h.5M322.2 271.1h.5" stroke="#e84848" stroke-width="0.5" opacity="0.5"/>
<ellipse cx="328.5" cy="257.5" rx="9.50" ry="9.97" fill="#3c3ce8" opacity="0.25" transform="rotate(0 328.5 257.5)" filter="url(#bl2)"/>
<path d="M338.1 257.5 337.5 259.7 336.8 261.7 335.5 263.3 334.7 265.6 333.1 267.5 330.9 268.5 328.5 269.1 326.2 268.0 324.2 266.9 322.6 265.3 321.4 263.4 320.8 261.4 319.3 259.7 318.3 257.5 317.7 254.9 318.1 252.2 319.9 250.3 322.4 249.4 324.6 249.1 326.6 248.8 328.5 248.3 330.5 248.3 332.7 248.3 335.1 248.8 337.0 250.4 338.6 252.4 339.1 255.0ZM336.6 257.5 336.1 259.3 336.4 261.5 335.7 263.5 334.5 265.4 333.0 267.2 330.9 268.4 328.5 268.1 326.4 267.1 324.8 265.7 323.5 264.1 322.1 262.8 320.7 261.4 319.2 259.7 318.4 257.5 318.9 255.2 319.2 252.8 321.0 251.2 323.0 250.3 324.7 249.3 326.7 249.2 328.5 248.8 330.5 248.4 332.7 248.4 334.9 249.1 336.5 250.8 337.1 253.1 337.4 255.4ZM336.3 257.5 336.6 259.4 336.0 261.3 335.8 263.6 334.2 265.0 332.5 266.1 330.3 266.0 328.5 266.1 326.8 265.4 325.2 264.7 323.5 264.1 322.3 262.7 320.8 261.4 319.4 259.7 319.2 257.5 320.1 255.5 321.2 253.8 322.5 252.5 323.7 251.2 325.2 250.3 326.7 249.4 328.5 248.6 330.5 248.5 332.6 248.6 334.0 250.3 335.1 252.0 335.3 254.0 335.9 255.7ZM335.7 257.5 336.0 259.3 335.6 261.1 334.9 262.9 333.7 264.4 331.9 265.0 330.1 265.0 328.5 264.9 327.0 264.4 325.3 264.4 323.6 263.9 322.4 262.6 320.8 261.4 320.5 259.4 320.2 257.5 321.6 255.8 322.4 254.4 323.2 253.0 324.0 251.6 325.4 250.8 326.8 249.7 328.5 248.6 330.3 249.1 331.9 250.2 333.2 251.3 334.2 252.7 334.8 254.3 335.3 255.9ZM335.0 257.5 335.3 259.1 335.3 260.9 334.5 262.5 332.9 263.3 331.4 263.8 330.0 264.3 328.5 264.0 327.2 263.7 325.7 263.7 324.5 262.8 323.0 262.1 322.1 260.8 321.2 259.2 321.4 257.5 322.2 256.0 322.7 254.6 323.9 253.6 324.8 252.7 325.7 251.4 326.9 250.2 328.5 249.6 330.1 250.0 331.7 250.5 332.6 252.1 333.3 253.5 333.8 254.8 334.6 256.0ZM334.3 257.5 333.8 258.8 333.2 259.9 333.0 261.2 332.3 262.5 331.1 263.3 329.9 264.1 328.5 264.3 327.1 264.0 325.9 263.2 325.2 261.9 324.5 260.8 323.8 259.9 323.0 258.8 322.1 257.5 322.4 256.0 322.8 254.6 323.6 253.4 324.8 252.6 326.0 252.1 327.3 251.9 328.5 252.0 329.7 251.8 331.2 251.7 332.4 252.3 333.7 253.1 334.2 254.6 334.3 256.1ZM333.7 257.5 334.0 258.8 333.4 260.0 332.6 261.0 331.6 261.6 330.7 262.2 329.5 262.2 328.5 262.5 327.3 262.8 326.2 262.6 324.9 262.2 324.2 261.1 323.7 259.9 323.5 258.7 323.7 257.5 324.0 256.4 324.4 255.4 324.5 254.2 325.2 253.2 326.0 252.1 327.3 251.9 328.5 252.0 329.7 252.0 330.5 253.1 331.4 253.7 332.2 254.4 332.8 255.3 333.4 256.3ZM333.2 257.5 333.1 258.6 332.7 259.6 331.7 260.1 330.9 260.7 330.3 261.3 329.4 261.5 328.5 262.1 327.5 261.9 326.5 261.8 325.7 261.2 324.9 260.5 324.7 259.4 324.7 258.4 324.6 257.5 324.4 256.5 324.8 255.6 324.9 254.5 325.6 253.7 326.4 252.9 327.5 253.0 328.5 252.9 329.5 253.1 330.3 253.7 331.1 254.1 331.6 254.9 332.3 255.6 333.0 256.4ZM331.8 257.5 331.8 258.3 331.8 259.1 331.5 260.0 330.9 260.7 330.1 261.0 329.3 261.0 328.5 261.1 327.8 260.8 327.1 260.5 326.4 260.2 325.7 259.9 325.1 259.2 324.7 258.4 324.7 257.5 325.2 256.7 325.4 255.9 326.0 255.4 326.4 254.8 327.1 254.3 327.7 253.8 328.5 253.6 329.3 253.7 330.2 253.9 330.8 254.4 331.1 255.3 331.5 256.0 331.7 256.7ZM330.9 257.5 331.0 258.1 330.8 258.6 330.7 259.3 330.3 259.9 329.7 260.1 329.2 260.5 328.5 260.4 327.9 260.2 327.5 259.8 327.0 259.5 326.5 259.1 326.2 258.7 325.9 258.1 325.7 257.5 325.8 256.9 325.9 256.2 326.4 255.8 326.9 255.3 327.4 255.1 327.9 255.0 328.5 254.7 329.1 254.8 329.7 254.8 330.4 255.1 330.7 255.6 330.9 256.3 331.1 256.9ZM330.2 257.5 330.3 257.9 330.1 258.3 330.0 258.8 329.8 259.2 329.4 259.5 328.9 259.4 328.5 259.5 328.1 259.3 327.7 259.1 327.4 258.9 327.1 258.6 326.8 258.4 326.5 258.0 326.5 257.5 326.6 257.0 326.8 256.6 327.1 256.3 327.4 256.1 327.7 255.8 328.1 255.7 328.5 255.5 328.9 255.6 329.3 255.6 329.7 255.9 330.1 256.2 330.1 256.7 330.2 257.1ZM329.6 257.5 329.5 257.7 329.4 258.0 329.3 258.1 329.1 258.3 329.0 258.5 328.7 258.6 328.5 258.7 328.3 258.6 328.0 258.5 327.9 258.3 327.7 258.2 327.6 258.0 327.5 257.7 327.4 257.5 327.5 257.3 327.5 257.0 327.6 256.7 327.8 256.6 328.0 256.5 328.3 256.5 328.5 256.5 328.7 256.5 328.9 256.5 329.2 256.6 329.3 256.8 329.6 257.0 329.6 257.2Z" fill="none" stroke="#3c3ce8" stroke-width="0.4" opacity="0.6"/>
<path d="M330.7 249.8h.5M331.9 252.0h.5M329.9 257.7h.5M317.6 264.2h.5M333.7 254.1h.5M329.1 258.0h.5M327.6 245.6h.5M325.0 254.1h.5M334.1 249.7h.5M339.6 250.7h.5M325.1 256.4h.5M327.6 253.7h.5M329.6 258.6h.5M338.8 258.3h.5M328.5 257.3h.5M324.0 258.3h.5M328.1 260.9h.5M328.6 259.6h.5M324.1 267.0h.5M324.6 253.6h.5M321.7 256.9h.5M315.3 258.6h.5M321.8 259.7h.5M328.0 254.5h.5M327.2 266.6h.5M320.9 268.2h.5M325.8 268.6h.5M324.4 261.2h.5M325.8 250.8h.5M331.4 255.4h.5M328.4 251.7h.5M341.5 258.3h.5M333.4 263.9h.5M327.7 251.4h.5M325.8 251.4h.5M337.6 252.9h.5M327.8 255.9h.5M331.3 248.4h.5M332.9 253.6h.5M326.6 265.8h.5" stroke="#3c3ce8" stroke-width="0.5" opacity="0.5"/>
<path d="M334.6 257.0 333.5 258.3 333.2 259.5 332.6 260.7 331.9 261.9 330.8 262.9 329.6 263.8 328.0 264.4 326.4 263.8 325.2 262.7 324.1 261.9 323.6 260.5 322.9 259.4 322.3 258.3 321.2 257.0 321.0 255.4 321.6 253.9 322.5 252.6 323.8 251.7 325.2 251.2 326.7 251.2 328.0 251.5 329.4 250.9 330.7 251.3 332.4 251.5 333.6 252.5 334.3 253.9 334.8 255.4ZM334.0 257.0 334.0 258.4 333.1 259.5 332.3 260.4 331.2 261.0 330.2 261.5 329.1 261.7 328.0 262.0 326.8 262.3 325.5 262.2 324.1 261.9 323.3 260.7 322.9 259.5 323.1 258.1 323.2 257.0 323.2 255.9 323.7 254.9 323.9 253.7 324.5 252.5 325.3 251.4 326.7 251.3 328.0 251.4 329.1 252.0 330.2 252.4 331.1 253.1 331.8 253.9 332.7 254.7 333.8 255.7ZM332.3 257.0 332.7 258.1 332.5 259.2 331.7 259.9 330.8 260.5 329.9 260.9 328.9 260.9 328.0 260.8 327.1 261.1 326.1 261.0 325.0 260.8 324.1 260.1 323.6 259.1 323.7 258.0 323.8 257.0 324.1 256.1 324.4 255.3 324.7 254.4 325.3 253.6 326.1 253.0 326.9 252.1 328.0 252.1 329.1 252.3 329.9 253.1 330.5 253.8 331.0 254.6 331.7 255.2 332.2 256.0ZM331.7 257.0 331.5 257.8 330.9 258.4 330.4 258.9 329.9 259.4 329.4 259.8 328.7 260.1 328.0 260.6 327.2 260.6 326.4 260.4 325.8 259.7 325.2 259.2 325.2 258.4 325.0 257.7 324.8 257.0 324.8 256.3 325.1 255.6 325.1 254.7 325.7 254.1 326.4 253.7 327.2 253.5 328.0 253.7 328.7 254.0 329.3 254.3 330.0 254.4 330.7 254.8 331.2 255.5 331.6 256.2ZM330.2 257.0 330.3 257.5 330.1 258.0 330.1 258.6 329.6 259.0 329.0 259.2 328.5 259.4 328.0 259.3 327.5 259.2 327.0 259.1 326.6 258.8 326.2 258.4 325.7 258.1 325.4 257.6 325.6 257.0 325.7 256.5 325.9 256.0 326.4 255.7 326.6 255.3 327.0 255.0 327.5 254.7 328.0 254.5 328.5 254.6 329.1 254.7 329.5 255.2 329.8 255.5 329.9 256.1 330.2 256.5ZM329.4 257.0 329.4 257.3 329.2 257.6 329.0 257.8 328.8 258.0 328.6 258.2 328.3 258.3 328.0 258.4 327.7 258.4 327.4 258.3 327.1 258.1 327.0 257.8 326.9 257.5 326.8 257.3 326.8 257.0 326.7 256.7 326.8 256.4 326.9 256.1 327.1 255.9 327.4 255.7 327.7 255.7 328.0 255.8 328.3 255.8 328.5 255.9 328.8 256.0 329.1 256.1 329.2 256.4 329.4 256.7Z" fill="none" stroke="#8a3ac0" stroke-width="0.4" opacity="0.6"/>
<path d="M330.3 250.8h.5M333.2 259.6h.5M324.9 255.6h.5M327.6 260.6h.5M329.3 256.9h.5M330.5 252.1h.5M332.6 253.4h.5M326.1 256.0h.5M330.8 262.5h.5M337.4 257.5h.5M332.3 262.0h.5M334.1 253.7h.5M329.0 257.0h.5M325.5 250.6h.5M329.8 259.1h.5M325.9 255.5h.5M321.4 257.6h.5M323.0 251.4h.5M334.0 256.4h.5M325.7 258.3h.5M323.2 254.6h.5M326.1 246.6h.5M323.7 260.1h.5M323.5 257.3h.5M333.8 264.3h.5M321.3 261.3h.5M330.8 254.2h.5M329.0 257.4h.5M325.6 259.4h.5M320.4 258.6h.5M328.6 252.3h.5M329.5 258.7h.5M333.3 261.9h.5M327.1 257.5h.5M322.5 257.5h.5M331.2 257.4h.5M327.3 247.3h.5M330.4 261.5h.5M325.1 259.8h.5M321.1 260.4h.5" stroke="#8a3ac0" stroke-width="0.5" opacity="0.5"/>
<path d="M309.3 246.0 308.9 246.8 308.7 247.6 308.3 248.3 307.9 249.2 307.1 249.9 306.1 250.4 305.0 250.3 303.9 250.1 303.0 249.7 302.5 248.8 301.8 248.3 301.4 247.5 300.6 246.9 300.5 246.0 300.3 245.0 300.4 244.0 301.1 243.3 302.2 242.9 303.2 242.7 304.1 242.7 305.0 242.3 305.9 242.5 306.9 242.5 308.0 242.7 308.8 243.3 309.5 244.1 309.7 245.1ZM308.8 246.0 308.5 246.7 308.0 247.3 307.4 247.7 306.9 248.1 306.4 248.7 305.8 249.0 305.0 249.3 304.1 249.4 303.4 249.0 302.8 248.5 302.4 247.8 302.1 247.2 302.0 246.6 301.9 246.0 301.7 245.3 301.7 244.6 302.1 243.9 302.5 243.3 303.3 242.9 304.2 243.0 305.0 243.0 305.7 243.4 306.3 243.6 307.0 243.8 307.6 244.1 308.3 244.6 308.8 245.2ZM307.2 246.0 307.2 246.5 307.3 247.0 307.1 247.5 306.7 247.8 306.1 248.1 305.5 248.1 305.0 248.0 304.5 247.9 304.1 247.7 303.6 247.6 303.1 247.3 302.7 247.0 302.4 246.5 302.4 246.0 302.7 245.5 303.0 245.2 303.2 244.8 303.6 244.5 304.0 244.2 304.4 243.8 305.0 243.6 305.6 243.7 306.1 244.0 306.5 244.3 306.8 244.7 307.1 245.1 307.2 245.6ZM306.5 246.0 306.4 246.3 306.3 246.5 306.1 246.8 305.8 246.9 305.5 247.0 305.3 247.1 305.0 247.1 304.7 247.2 304.4 247.2 304.1 247.0 303.9 246.8 303.8 246.5 303.7 246.3 303.7 246.0 303.8 245.8 303.9 245.5 303.9 245.2 304.1 245.0 304.4 244.9 304.7 244.7 305.0 244.8 305.3 244.8 305.6 245.0 305.8 245.1 306.1 245.3 306.2 245.5 306.4 245.7Z" fill="none" stroke="#3c3ce8" stroke-width="0.4" opacity="0.6"/>
<path d="M305.5 247.8h.5M304.6 251.9h.5M305.9 242.0h.5M303.1 246.7h.5M309.2 242.3h.5M301.6 249.5h.5M307.3 248.7h.5M307.1 242.9h.5M302.9 246.4h.5M303.5 246.3h.5M301.3 244.1h.5M303.9 247.9h.5M303.7 249.7h.5M308.9 246.0h.5M306.7 247.4h.5M304.3 245.4h.5M306.1 247.0h.5M307.7 245.7h.5M308.1 246.3h.5M303.7 246.1h.5M303.4 245.2h.5M309.0 246.4h.5M305.0 242.6h.5M309.8 248.1h.5M303.2 244.6h.5M304.8 243.9h.5M305.1 244.6h.5M302.3 246.0h.5M309.5 245.3h.5M303.3 247.3h.5M302.3 244.2h.5M304.5 247.6h.5M305.2 243.6h.5M300.7 240.5h.5M307.2 247.7h.5M301.9 246.4h.5M303.6 247.3h.5M302.2 244.9h.5M305.8 245.9h.5M299.6 249.7h.5" stroke="#3c3ce8" stroke-width="0.5" opacity="0.5"/>
<ellipse cx="316" cy="256" rx="5.70" ry="4.75" fill="#3c3ce8" opacity="0.1" transform="rotate(0 316 256)" filter="url(#bl2)"/>
<path d="M321.6 256.0 321.5 257.0 321.2 258.1 321.0 259.3 320.3 260.5 319.0 261.2 317.5 261.3 316.0 260.8 314.8 260.5 313.8 259.8 312.8 259.4 311.6 258.9 310.3 258.3 309.7 257.2 309.5 256.0 309.5 254.8 310.9 253.9 311.8 253.2 312.8 252.6 313.6 251.9 314.7 251.3 316.0 250.9 317.5 250.7 319.0 250.8 320.0 251.8 321.0 252.7 320.9 254.0 321.1 255.0ZM320.1 256.0 320.3 256.8 320.2 257.7 320.1 258.7 319.1 259.2 318.1 259.6 317.0 259.6 316.0 259.6 315.0 259.5 314.2 259.1 313.2 258.9 312.4 258.4 311.5 257.8 311.1 256.9 310.8 256.0 311.2 255.1 312.0 254.4 312.9 253.9 313.5 253.3 314.1 252.6 315.0 252.3 316.0 252.0 317.1 251.9 318.1 252.4 319.2 252.7 319.6 253.6 319.8 254.5 320.1 255.2ZM319.6 256.0 319.4 256.6 319.1 257.2 318.5 257.7 317.9 258.0 317.3 258.3 316.7 258.4 316.0 258.5 315.3 258.6 314.5 258.5 313.8 258.3 313.2 257.8 313.0 257.2 312.9 256.6 313.2 256.0 313.2 255.5 313.3 254.9 313.6 254.4 313.9 253.8 314.4 253.3 315.2 253.2 316.0 253.3 316.7 253.4 317.4 253.7 317.8 254.1 318.3 254.5 318.8 254.9 319.3 255.4ZM317.8 256.0 317.7 256.3 317.4 256.6 317.4 256.9 317.2 257.2 316.8 257.4 316.5 257.6 316.0 257.6 315.6 257.6 315.2 257.3 315.0 257.1 314.8 256.8 314.4 256.6 314.3 256.3 314.1 256.0 314.1 255.6 314.2 255.3 314.6 255.1 314.8 254.8 315.3 254.7 315.6 254.6 316.0 254.6 316.4 254.5 316.8 254.7 317.2 254.8 317.5 255.0 317.7 255.3 317.8 255.7Z" fill="none" stroke="#3c3ce8" stroke-width="0.4" opacity="0.35"/>
<path d="M315.0 258.3h.5M310.1 255.7h.5M311.3 261.1h.5M319.0 260.3h.5M317.1 262.3h.5M322.7 257.5h.5M319.0 257.8h.5M312.9 260.4h.5M320.3 254.2h.5M315.0 258.2h.5M314.5 255.3h.5M319.5 259.6h.5M315.7 254.2h.5M314.0 255.2h.5M317.9 252.8h.5M312.7 252.5h.5M313.3 257.8h.5M310.5 247.2h.5M314.2 254.4h.5M317.6 251.1h.5" stroke="#3c3ce8" stroke-width="0.5" opacity="0.5"/>
<path d="M315.7,206.5 L315.7,281.3 M283.1,251.4 L357.7,251.4" stroke="#222" stroke-width="0.8"/>
<ellipse cx="306" cy="325" rx="12.82" ry="10.45" fill="#e84848" opacity="0.18" transform="rotate(0 306 325)" filter="url(#bl2)"/>
<path d="M321.2 325.0 320.9 327.8 318.0 329.7 315.9 331.4 313.7 332.9 311.1 333.6 308.8 335.1 306.0 336.2 302.7 336.6 299.4 336.2 296.8 334.4 294.9 332.2 294.7 329.4 294.1 327.2 293.9 325.0 293.5 322.7 294.4 320.4 295.2 318.0 296.7 315.5 299.6 314.2 302.7 313.1 306.0 314.4 308.8 314.9 310.9 316.7 313.5 317.3 315.9 318.6 318.7 320.0 320.4 322.3ZM317.4 325.0 316.8 327.0 316.1 329.0 314.8 330.7 313.4 332.6 311.9 335.0 309.0 335.6 306.0 336.3 303.2 335.0 300.8 333.9 299.1 332.0 297.1 330.8 295.4 329.2 294.5 327.1 293.0 325.0 293.0 322.6 293.9 320.3 296.0 318.5 298.4 317.3 301.1 316.7 303.7 316.6 306.0 315.9 308.6 315.8 311.4 315.9 314.5 316.3 316.7 318.0 317.8 320.4 318.4 322.7ZM315.2 325.0 315.7 326.8 315.7 328.8 315.0 330.9 313.6 332.8 311.3 334.0 308.5 334.0 306.0 333.6 303.8 332.8 301.8 332.2 299.8 331.3 297.8 330.3 296.0 328.9 294.7 327.1 294.4 325.0 295.0 323.0 295.5 320.9 298.0 319.8 300.0 318.9 301.8 317.9 303.8 317.1 306.0 316.2 308.6 315.7 311.3 316.0 313.2 317.7 314.6 319.4 315.4 321.3 315.6 323.2ZM315.4 325.0 315.0 326.7 314.3 328.2 312.9 329.5 311.3 330.4 310.1 331.9 308.2 332.8 306.0 333.7 303.7 333.3 301.6 332.4 300.2 330.9 299.2 329.4 298.7 327.9 297.2 326.6 297.0 325.0 296.4 323.2 296.5 321.3 298.0 319.8 299.4 318.3 301.7 317.7 304.0 317.8 306.0 318.1 307.9 318.1 309.8 318.6 312.0 318.8 314.1 319.7 315.6 321.2 316.1 323.1ZM314.8 325.0 315.1 326.7 314.0 328.1 312.7 329.3 311.4 330.5 309.4 330.8 307.6 330.9 306.0 330.9 304.2 331.5 302.2 331.4 300.6 330.5 299.2 329.4 298.1 328.1 297.7 326.5 298.0 325.0 298.8 323.7 299.0 322.3 299.9 321.0 300.9 319.7 302.3 318.8 304.1 318.1 306.0 317.7 307.9 318.2 309.6 318.9 310.7 320.2 311.5 321.4 312.6 322.4 313.9 323.5ZM313.3 325.0 313.1 326.3 312.1 327.4 311.3 328.4 310.1 329.2 308.8 329.7 307.6 330.6 306.0 330.9 304.3 331.1 302.6 330.7 301.3 329.8 300.7 328.4 300.4 327.2 299.9 326.1 299.6 325.0 299.7 323.8 299.8 322.6 300.2 321.2 301.1 320.0 302.8 319.7 304.4 319.3 306.0 319.9 307.4 320.1 308.6 320.5 310.0 320.9 311.7 321.3 312.8 322.4 313.3 323.6ZM311.9 325.0 311.8 326.1 310.9 326.9 310.1 327.7 309.4 328.4 308.3 328.9 307.3 329.5 306.0 329.6 304.6 330.1 303.3 329.6 302.3 328.8 301.6 327.8 301.0 327.0 300.8 326.0 300.8 325.0 300.9 324.0 300.7 322.9 301.4 322.0 302.3 321.2 303.4 320.5 304.7 320.3 306.0 320.7 307.2 320.9 308.2 321.2 309.5 321.5 310.2 322.2 311.4 322.9 312.0 323.9ZM310.4 325.0 310.4 325.8 310.1 326.6 309.3 327.2 308.5 327.5 307.8 328.0 306.9 328.3 306.0 328.3 305.0 328.5 303.9 328.5 303.2 327.9 302.6 327.2 302.1 326.5 301.8 325.8 301.8 325.0 301.9 324.2 302.4 323.6 302.6 322.8 303.2 322.2 304.0 321.7 305.0 321.3 306.0 321.3 307.0 321.6 307.7 322.1 308.4 322.5 309.1 323.0 309.8 323.5 310.6 324.1ZM308.9 325.0 308.7 325.5 308.7 326.1 308.5 326.7 308.1 327.1 307.4 327.3 306.7 327.6 306.0 327.5 305.4 327.2 304.8 327.1 304.2 326.8 303.8 326.4 303.1 326.1 302.8 325.6 302.7 325.0 302.8 324.4 303.2 323.9 303.8 323.5 304.2 323.1 304.8 323.0 305.4 322.8 306.0 322.5 306.7 322.5 307.4 322.6 307.9 323.0 308.5 323.4 308.8 323.9 308.9 324.5ZM307.8 325.0 307.6 325.3 307.5 325.6 307.3 325.8 307.0 326.0 306.7 326.2 306.4 326.3 306.0 326.5 305.6 326.4 305.2 326.3 305.0 326.0 304.7 325.8 304.5 325.6 304.5 325.3 304.4 325.0 304.3 324.7 304.4 324.4 304.5 324.1 304.9 323.9 305.2 323.7 305.6 323.7 306.0 323.7 306.4 323.7 306.7 323.8 307.1 323.9 307.3 324.1 307.6 324.4 307.8 324.7Z" fill="none" stroke="#e84848" stroke-width="0.4" opacity="0.55"/>
<path d="M311.5 328.7h.5M317.3 333.5h.5M308.5 329.1h.5M309.3 318.8h.5M307.3 315.1h.5M308.5 329.5h.5M305.3 314.7h.5M312.6 323.7h.5M310.2 315.4h.5M304.0 319.2h.5M285.6 322.1h.5M296.6 313.9h.5M303.9 314.6h.5M317.4 321.9h.5M308.0 329.9h.5M296.5 335.7h.5M314.2 319.0h.5M314.9 325.9h.5M314.9 328.3h.5M299.0 324.6h.5M300.8 331.1h.5M306.9 321.9h.5M295.2 319.4h.5M293.0 329.1h.5M311.6 326.8h.5M296.7 331.3h.5M307.5 328.6h.5M295.7 315.3h.5M294.2 333.2h.5M288.1 326.3h.5M306.7 319.3h.5M298.5 325.1h.5M305.1 324.1h.5M302.7 327.5h.5M292.4 315.2h.5M306.7 323.4h.5M316.4 319.6h.5M296.9 323.4h.5M298.8 310.5h.5M319.4 319.3h.5" stroke="#e84848" stroke-width="0.5" opacity="0.5"/>
<ellipse cx="307.5" cy="324" rx="13.77" ry="9.97" fill="#48d048" opacity="0.12" transform="rotate(0 307.5 324)" filter="url(#bl2)"/>
<path d="M320.0 324.0 319.5 326.0 319.6 328.2 318.9 330.6 316.9 332.5 314.2 334.1 311.2 335.8 307.5 335.2 304.2 334.6 301.4 333.1 299.8 331.0 297.4 329.8 295.6 328.2 293.4 326.3 292.1 324.0 291.6 321.4 292.9 318.9 296.1 317.4 298.6 315.9 302.1 315.9 304.7 315.2 307.5 314.0 310.7 313.9 314.3 313.8 318.1 314.4 320.1 316.7 321.4 319.2 321.1 321.8ZM321.9 324.0 320.6 326.2 318.6 327.9 316.8 329.4 314.3 330.1 312.1 330.9 310.1 332.3 307.5 333.5 304.5 333.6 301.6 332.9 299.1 331.6 296.9 330.1 297.0 327.7 296.0 325.9 295.9 324.0 296.5 322.2 296.3 320.1 297.1 318.0 298.5 315.9 301.5 314.9 304.6 314.7 307.5 315.3 310.1 315.8 312.2 317.0 314.3 317.8 316.6 318.7 319.0 320.0 320.5 321.9ZM318.4 324.0 318.9 325.9 318.2 327.7 316.4 329.1 314.2 330.0 312.1 330.9 309.6 330.7 307.5 331.0 305.3 330.8 303.1 330.6 300.3 330.6 298.3 329.3 297.0 327.7 296.8 325.8 297.6 324.0 298.0 322.4 299.2 321.1 300.3 319.8 300.8 318.0 302.6 316.7 305.0 316.1 307.5 315.4 310.0 316.1 312.1 317.0 313.6 318.4 315.1 319.6 316.0 321.0 317.0 322.4ZM316.5 324.0 316.6 325.5 315.5 326.8 314.0 327.8 312.8 328.8 311.0 329.2 309.3 329.7 307.5 329.9 305.7 329.8 303.7 329.7 301.5 329.4 300.2 328.2 299.8 326.7 299.3 325.3 299.4 324.0 299.7 322.7 300.3 321.5 300.9 320.2 302.0 319.0 303.6 318.1 305.4 317.3 307.5 317.4 309.5 317.8 311.2 318.5 312.4 319.5 313.4 320.6 315.2 321.3 315.6 322.7ZM314.1 324.0 313.7 325.0 312.6 325.8 312.3 326.8 311.4 327.5 310.5 328.5 309.0 328.8 307.5 329.2 305.9 329.0 304.7 328.1 303.7 327.5 302.6 326.8 301.9 326.0 301.4 325.0 300.6 324.0 300.5 322.9 301.0 321.7 302.0 320.8 303.5 320.4 304.7 319.7 306.1 319.5 307.5 319.6 308.9 319.7 310.4 319.7 311.9 320.0 313.1 320.8 313.8 321.8 314.0 322.9ZM312.4 324.0 311.9 324.7 311.7 325.5 310.9 326.0 310.1 326.3 309.3 326.8 308.5 327.3 307.5 327.5 306.4 327.4 305.4 327.1 304.6 326.6 303.8 326.1 303.4 325.4 303.3 324.7 303.3 324.0 303.1 323.3 303.4 322.6 303.6 321.8 304.5 321.2 305.4 320.9 306.5 320.7 307.5 320.8 308.4 321.1 309.3 321.3 310.1 321.6 311.2 321.9 311.6 322.6 312.4 323.2ZM309.8 324.0 309.8 324.4 309.9 324.8 309.6 325.2 309.2 325.6 308.7 325.8 308.1 325.9 307.5 325.8 306.9 325.8 306.5 325.6 306.0 325.3 305.6 325.1 305.2 324.8 304.9 324.4 304.7 324.0 304.9 323.6 305.2 323.2 305.5 322.8 306.0 322.7 306.4 322.4 307.0 322.3 307.5 322.2 308.1 322.1 308.7 322.1 309.2 322.5 309.7 322.8 309.8 323.2 310.0 323.6Z" fill="none" stroke="#48d048" stroke-width="0.4" opacity="0.5"/>
<path d="M304.4 327.4h.5M304.1 322.4h.5M318.7 318.3h.5M311.3 325.0h.5M304.1 321.6h.5M303.7 319.7h.5M296.4 319.1h.5M315.6 320.5h.5M316.4 327.7h.5M307.9 325.1h.5M300.0 321.3h.5M319.4 320.6h.5M300.5 317.7h.5M292.7 315.8h.5M294.1 337.2h.5M304.1 334.2h.5M312.5 321.5h.5M321.4 334.5h.5M311.9 327.0h.5M296.3 320.0h.5M299.4 332.5h.5M310.3 318.0h.5M309.8 328.6h.5M302.2 321.4h.5M292.7 326.1h.5M319.0 317.3h.5M303.3 324.3h.5M307.9 320.0h.5M303.3 321.4h.5M321.6 314.4h.5M304.2 319.4h.5M314.1 321.1h.5M303.4 326.0h.5M298.0 329.2h.5M315.1 324.3h.5M298.3 327.9h.5M313.0 325.8h.5M300.8 325.3h.5M314.2 324.5h.5M305.9 335.9h.5" stroke="#48d048" stroke-width="0.5" opacity="0.5"/>
<ellipse cx="305.5" cy="325" rx="9.03" ry="7.60" fill="#3c3ce8" opacity="0.3" transform="rotate(0 305.5 325)" filter="url(#bl2)"/>
<path d="M314.6 325.0 314.7 326.8 314.8 328.8 313.9 330.7 311.8 331.7 309.9 332.7 307.5 332.5 305.5 332.2 303.6 332.0 301.8 331.5 299.9 330.9 297.6 330.3 296.2 328.8 294.7 327.1 295.6 325.0 296.3 323.2 297.9 321.9 298.7 320.4 300.2 319.4 301.7 318.4 303.4 317.2 305.5 316.5 307.8 316.5 309.9 317.3 311.6 318.5 312.8 320.1 312.9 322.0 314.0 323.4ZM314.8 325.0 314.6 326.7 313.9 328.4 313.0 330.0 311.0 330.9 309.0 331.0 307.2 331.5 305.5 331.6 303.8 331.4 301.8 331.6 299.8 331.1 298.2 329.9 296.6 328.6 296.7 326.7 297.3 325.0 298.3 323.6 298.9 322.3 299.4 320.9 300.2 319.4 301.5 318.0 303.4 317.1 305.5 316.8 307.6 317.3 309.3 318.3 310.5 319.7 311.4 321.0 312.9 322.0 313.7 323.4ZM314.2 325.0 313.8 326.6 313.0 328.1 311.5 329.0 310.1 329.8 308.5 330.2 307.0 330.7 305.5 331.6 303.6 332.0 301.6 331.8 300.3 330.5 299.2 329.2 298.2 328.0 298.4 326.4 298.4 325.0 298.4 323.6 298.8 322.3 299.3 320.9 300.2 319.4 301.7 318.3 303.6 318.1 305.5 318.4 307.2 318.7 308.4 319.9 310.1 320.2 311.1 321.2 312.5 322.1 313.4 323.5ZM312.8 325.0 311.9 326.2 311.0 327.2 310.3 328.2 309.3 329.0 308.5 330.3 307.1 330.9 305.5 331.2 303.8 331.4 302.2 330.9 301.2 329.5 300.5 328.4 299.9 327.3 299.1 326.2 299.1 325.0 298.6 323.7 298.7 322.2 299.6 321.1 300.8 320.0 302.3 319.4 304.1 319.8 305.5 319.5 306.9 319.9 308.3 320.1 309.8 320.4 311.2 321.2 312.6 322.1 313.0 323.5ZM312.3 325.0 311.2 326.1 310.6 327.1 309.8 327.9 308.9 328.6 308.1 329.6 306.9 330.2 305.5 330.6 304.0 330.5 302.6 330.0 301.4 329.3 300.7 328.2 300.7 326.9 299.8 326.1 299.6 325.0 299.8 323.9 299.5 322.6 300.1 321.4 301.2 320.4 302.7 320.1 304.2 320.3 305.5 320.5 306.8 320.3 308.0 320.6 309.4 320.9 310.3 321.8 311.4 322.6 312.3 323.7ZM310.7 325.0 310.4 326.0 310.1 326.9 309.3 327.5 308.5 328.2 307.7 328.9 306.8 329.6 305.5 329.9 304.2 329.9 303.2 329.0 302.3 328.4 301.7 327.6 301.2 326.7 300.8 325.9 300.3 325.0 300.1 324.0 300.4 322.9 301.2 322.1 302.1 321.5 303.2 320.9 304.4 320.9 305.5 320.8 306.6 320.9 307.6 321.3 308.9 321.4 309.8 322.1 310.8 322.8 310.9 324.0ZM309.6 325.0 309.4 325.8 309.3 326.6 309.3 327.6 308.6 328.3 307.6 328.7 306.5 328.7 305.5 328.8 304.5 328.6 303.7 328.2 302.8 327.8 302.3 327.1 301.2 326.7 300.6 325.9 300.8 325.0 301.0 324.1 301.6 323.4 302.2 322.8 302.9 322.2 303.7 321.8 304.6 321.5 305.5 321.1 306.5 321.2 307.7 321.2 308.5 321.9 309.1 322.6 309.4 323.4 309.4 324.2ZM309.0 325.0 308.8 325.6 308.5 326.2 308.3 326.9 307.8 327.5 307.2 328.0 306.4 328.1 305.5 328.2 304.7 328.0 304.0 327.6 303.5 327.1 303.0 326.7 302.3 326.3 302.1 325.7 301.6 325.0 301.6 324.2 301.9 323.5 302.5 323.0 303.2 322.6 304.0 322.3 304.8 322.4 305.5 322.2 306.3 322.1 307.1 322.2 308.0 322.4 308.5 323.0 309.0 323.6 308.9 324.3ZM308.1 325.0 307.9 325.5 307.7 325.9 307.5 326.4 307.3 326.9 306.7 327.1 306.1 327.4 305.5 327.6 304.9 327.3 304.3 327.2 303.9 326.7 303.5 326.3 303.1 326.0 302.9 325.5 302.5 325.0 302.7 324.5 302.8 323.9 303.2 323.4 303.7 323.1 304.3 323.0 304.9 322.9 305.5 322.7 306.1 322.8 306.7 322.9 307.3 323.1 307.9 323.4 308.1 324.0 308.1 324.5ZM307.4 325.0 307.3 325.4 307.3 325.7 307.1 326.1 306.7 326.3 306.3 326.5 305.9 326.5 305.5 326.5 305.1 326.4 304.7 326.4 304.3 326.3 303.9 326.1 303.6 325.8 303.6 325.4 303.4 325.0 303.5 324.6 303.9 324.3 304.1 324.0 304.4 323.8 304.7 323.5 305.1 323.4 305.5 323.3 305.9 323.4 306.4 323.4 306.7 323.8 307.0 324.0 307.2 324.3 307.2 324.7ZM306.5 325.0 306.5 325.2 306.5 325.4 306.4 325.6 306.2 325.8 306.0 325.9 305.7 325.9 305.5 325.9 305.3 325.9 305.1 325.8 304.8 325.7 304.6 325.6 304.5 325.4 304.4 325.2 304.4 325.0 304.4 324.8 304.6 324.6 304.7 324.5 304.8 324.3 305.0 324.2 305.2 324.1 305.5 324.0 305.8 324.1 306.0 324.1 306.2 324.2 306.3 324.5 306.4 324.6 306.5 324.8Z" fill="none" stroke="#3c3ce8" stroke-width="0.4" opacity="0.6"/>
<path d="M309.1 325.0h.5M325.5 324.6h.5M311.4 323.0h.5M294.7 328.6h.5M300.1 328.8h.5M299.2 325.1h.5M312.4 323.1h.5M311.4 329.4h.5M307.6 324.7h.5M297.2 313.8h.5M304.3 322.4h.5M308.6 321.4h.5M300.4 326.1h.5M310.8 336.5h.5M306.3 332.8h.5M303.2 331.7h.5M300.8 322.7h.5M312.3 324.0h.5M298.7 322.0h.5M311.1 314.8h.5M296.6 316.9h.5M308.5 323.7h.5M306.0 317.5h.5M306.5 324.8h.5M308.1 326.6h.5M310.8 330.1h.5M316.9 313.3h.5M302.8 330.9h.5M311.4 328.7h.5M298.4 328.4h.5M300.8 330.5h.5M299.7 322.2h.5M300.8 331.6h.5M311.7 338.1h.5M307.3 320.2h.5M299.8 324.0h.5M299.3 325.6h.5M300.7 332.7h.5M311.7 322.3h.5M304.0 324.5h.5" stroke="#3c3ce8" stroke-width="0.5" opacity="0.5"/>
<path d="M309.3 325.0 309.6 325.8 309.7 326.8 309.2 327.7 308.5 328.5 307.4 328.9 306.1 328.8 305.0 328.8 304.0 328.5 303.1 328.2 302.0 328.0 301.0 327.6 300.3 326.8 299.7 326.0 299.6 325.0 299.9 324.1 300.7 323.3 301.6 322.8 302.1 322.1 303.0 321.7 304.0 321.3 305.0 320.9 306.2 320.7 307.4 321.1 308.3 321.7 309.1 322.4 309.1 323.4 309.5 324.2ZM309.3 325.0 308.9 325.7 308.4 326.3 307.7 326.8 307.2 327.2 306.6 327.6 305.9 328.0 305.0 328.3 304.1 328.3 303.2 328.0 302.6 327.4 302.2 326.8 301.8 326.2 301.8 325.6 301.3 325.0 301.2 324.3 301.5 323.6 301.8 323.0 302.3 322.3 303.3 322.1 304.2 322.0 305.0 322.0 305.8 322.3 306.6 322.4 307.4 322.6 308.0 323.1 308.8 323.5 309.2 324.2ZM307.5 325.0 307.7 325.5 307.5 326.0 307.3 326.5 306.8 326.8 306.2 327.1 305.6 327.0 305.0 327.0 304.4 327.0 303.9 326.8 303.4 326.6 302.9 326.3 302.5 326.0 302.2 325.5 302.1 325.0 302.4 324.5 302.8 324.2 303.2 323.8 303.5 323.5 303.9 323.2 304.4 322.9 305.0 322.8 305.6 322.8 306.3 322.9 306.7 323.3 307.0 323.7 307.2 324.1 307.5 324.5ZM306.6 325.0 306.5 325.3 306.4 325.5 306.2 325.8 305.9 325.9 305.7 326.1 305.3 326.1 305.0 326.2 304.7 326.1 304.3 326.1 304.0 326.0 303.7 325.8 303.5 325.6 303.5 325.3 303.5 325.0 303.7 324.8 303.7 324.5 303.9 324.3 304.1 324.1 304.3 323.8 304.6 323.7 305.0 323.8 305.3 323.8 305.6 324.0 305.9 324.1 306.1 324.3 306.2 324.5 306.4 324.7Z" fill="none" stroke="#8a3ac0" stroke-width="0.4" opacity="0.6"/>
<path d="M311.3 325.6h.5M304.9 322.4h.5M312.6 322.3h.5M303.4 321.3h.5M305.1 324.4h.5M304.0 327.3h.5M310.9 324.9h.5M303.1 327.9h.5M300.7 324.3h.5M308.4 325.0h.5M305.4 323.0h.5M303.1 329.0h.5M300.6 326.3h.5M307.7 324.5h.5M301.5 327.7h.5M303.3 325.6h.5M307.8 328.1h.5M304.6 324.5h.5M306.6 320.9h.5M306.6 322.1h.5M307.2 325.7h.5M307.7 322.0h.5M311.2 325.1h.5M302.5 326.6h.5M308.1 322.9h.5M308.6 320.8h.5M303.9 326.2h.5M305.9 326.2h.5M308.3 328.0h.5M304.9 324.2h.5M302.2 324.9h.5M306.9 322.0h.5M304.5 328.4h.5M302.2 323.9h.5M309.0 322.8h.5M304.6 326.4h.5M311.8 324.6h.5M309.1 326.9h.5M309.6 320.9h.5M304.1 324.9h.5" stroke="#8a3ac0" stroke-width="0.5" opacity="0.5"/>
<ellipse cx="316" cy="341" rx="18.05" ry="7.60" fill="#3c3ce8" opacity="0.15" transform="rotate(0 316 341)" filter="url(#bl2)"/>
<path d="M333.8 341.0 333.3 342.7 331.3 344.1 328.9 345.3 327.8 347.2 325.1 348.9 320.6 349.5 316.0 350.0 311.5 349.2 307.8 348.2 305.2 346.7 302.5 345.5 300.5 344.1 298.1 342.7 296.2 341.0 295.0 339.0 297.6 337.3 300.2 335.7 303.8 334.6 307.9 333.9 312.4 334.3 316.0 334.2 319.8 333.9 324.6 333.5 329.0 334.1 333.1 335.2 335.7 337.0 334.6 339.2ZM332.1 341.0 330.8 342.4 329.4 343.7 328.5 345.2 326.4 346.5 323.8 347.8 320.1 348.5 316.0 348.7 312.2 348.0 308.7 347.4 306.0 346.3 305.0 344.7 302.1 343.8 300.0 342.5 298.8 341.0 297.5 339.2 299.5 337.6 302.4 336.4 305.5 335.5 309.6 335.4 312.6 334.7 316.0 334.4 319.6 334.4 323.8 334.2 327.4 335.0 330.1 336.3 331.8 337.8 332.7 339.4ZM329.8 341.0 330.3 342.4 330.7 344.0 328.5 345.2 325.7 346.1 322.2 346.4 318.9 346.3 316.0 346.2 313.2 346.1 309.8 346.4 306.5 346.0 303.5 345.2 302.0 343.8 300.7 342.5 300.9 341.0 302.6 339.7 303.7 338.5 305.8 337.6 308.1 336.8 309.7 335.5 312.6 334.7 316.0 334.6 319.5 334.5 322.4 335.4 324.5 336.5 326.4 337.5 328.3 338.5 328.6 339.8ZM328.9 341.0 328.4 342.2 326.7 343.2 325.3 344.1 322.8 344.6 320.9 345.3 318.6 345.9 316.0 345.9 313.2 346.1 310.4 345.9 307.8 345.3 305.9 344.4 305.2 343.2 305.2 342.0 305.5 341.0 304.8 339.9 305.4 338.9 306.4 337.8 308.0 336.8 310.2 335.9 313.2 335.8 316.0 335.9 318.4 336.5 320.7 336.9 323.0 337.3 325.0 338.0 327.1 338.7 328.6 339.8ZM325.8 341.0 326.0 342.0 325.2 342.9 323.8 343.6 322.0 344.2 320.0 344.5 317.9 344.5 316.0 344.7 313.8 345.1 311.4 345.0 309.6 344.4 307.7 343.8 306.3 343.0 306.0 342.0 306.5 341.0 307.6 340.2 307.8 339.3 309.1 338.7 309.7 337.7 311.5 337.0 313.7 336.7 316.0 336.6 318.2 336.9 320.3 337.2 322.0 337.8 322.6 338.8 324.6 339.3 325.3 340.1ZM324.1 341.0 323.0 341.7 322.7 342.4 321.1 342.7 320.2 343.2 319.2 343.8 317.7 344.1 316.0 344.5 314.1 344.5 312.6 343.9 311.3 343.5 310.6 342.8 309.4 342.3 309.3 341.6 308.9 341.0 308.5 340.3 308.5 339.5 309.4 338.8 311.1 338.4 312.8 338.2 314.4 338.0 316.0 338.1 317.6 338.1 319.2 338.2 320.8 338.5 322.3 338.9 323.6 339.5 324.2 340.2ZM321.7 341.0 321.6 341.5 321.2 342.1 320.5 342.5 319.2 342.7 318.1 342.9 317.0 342.9 316.0 343.1 314.8 343.1 313.7 343.0 312.4 342.9 311.6 342.5 310.8 342.1 310.8 341.5 311.1 341.0 311.1 340.5 311.5 340.1 312.2 339.7 312.8 339.3 313.6 338.9 314.7 338.6 316.0 338.6 317.2 338.8 318.3 339.0 319.0 339.4 320.0 339.7 320.6 340.1 320.8 340.5ZM318.9 341.0 319.0 341.3 319.0 341.6 318.4 341.8 317.8 342.0 317.2 342.1 316.6 342.1 316.0 342.2 315.3 342.2 314.7 342.2 314.1 342.0 313.4 341.9 313.0 341.6 313.0 341.3 313.0 341.0 313.3 340.7 313.5 340.5 313.8 340.2 314.2 340.0 314.7 339.8 315.3 339.7 316.0 339.7 316.7 339.7 317.3 339.9 317.8 340.1 318.2 340.3 318.4 340.5 318.9 340.7Z" fill="none" stroke="#3c3ce8" stroke-width="0.4" opacity="0.45"/>
<path d="M319.9 333.4h.5M327.2 329.9h.5M299.0 345.9h.5M301.8 341.3h.5M329.9 341.3h.5M300.4 350.4h.5M297.0 330.4h.5M298.8 348.4h.5M314.1 341.0h.5M311.4 342.6h.5M338.4 348.3h.5M324.6 346.0h.5M332.1 347.1h.5M303.3 348.3h.5M295.8 340.3h.5M314.7 343.7h.5M328.0 347.7h.5M330.4 334.2h.5M310.2 341.0h.5M316.3 338.1h.5M313.2 343.7h.5M324.3 338.0h.5M315.7 338.7h.5M314.0 338.9h.5M321.9 337.0h.5M315.4 341.0h.5M309.5 341.5h.5M304.1 339.0h.5M298.7 338.7h.5M339.6 342.1h.5M304.5 348.0h.5M311.6 340.6h.5M318.6 344.4h.5M296.2 345.0h.5M313.6 344.5h.5M326.4 342.5h.5M312.7 346.8h.5M311.6 338.2h.5M310.2 337.0h.5M328.6 338.6h.5" stroke="#3c3ce8" stroke-width="0.5" opacity="0.5"/>
<path d="M328.6 341.0 327.8 342.0 325.4 342.7 323.8 343.3 322.6 344.1 320.9 344.8 318.8 345.6 316.0 345.8 313.0 345.9 310.2 345.5 308.6 344.5 307.1 343.7 306.6 342.7 305.7 341.9 305.2 341.0 304.1 340.0 304.7 339.0 305.8 338.0 307.5 337.0 310.7 336.8 313.5 336.9 316.0 336.8 318.4 337.0 320.6 337.5 323.8 337.3 326.5 337.9 327.9 338.9 329.3 339.9ZM325.5 341.0 325.2 341.8 325.1 342.6 324.2 343.5 322.3 344.0 319.8 343.9 317.9 344.1 316.0 344.1 314.2 344.0 312.0 344.1 309.9 343.9 308.2 343.3 306.7 342.7 306.1 341.8 306.8 341.0 307.3 340.3 308.6 339.7 309.7 339.1 310.5 338.4 311.9 337.8 313.8 337.3 316.0 337.1 318.2 337.4 320.1 337.8 321.6 338.4 322.9 338.9 323.7 339.6 324.5 340.3ZM322.5 341.0 322.7 341.6 322.3 342.1 321.1 342.5 319.8 342.8 318.6 343.0 317.4 343.2 316.0 343.2 314.6 343.2 313.0 343.3 311.6 343.1 310.6 342.6 309.9 342.1 310.0 341.5 309.9 341.0 310.1 340.5 310.7 340.0 311.1 339.5 311.7 339.0 313.0 338.6 314.4 338.4 316.0 338.5 317.5 338.6 318.5 339.0 319.5 339.4 320.5 339.7 321.4 340.0 322.3 340.5ZM319.8 341.0 319.4 341.3 319.0 341.5 318.5 341.8 318.2 342.0 317.5 342.1 316.8 342.3 316.0 342.4 315.1 342.5 314.3 342.3 313.6 342.1 313.3 341.8 313.1 341.5 312.6 341.3 312.5 341.0 312.4 340.7 312.6 340.4 312.8 340.1 313.5 339.8 314.4 339.8 315.2 339.7 316.0 339.7 316.8 339.7 317.5 339.8 318.2 340.0 319.0 340.1 319.5 340.4 319.7 340.7Z" fill="none" stroke="#7070f0" stroke-width="0.4" opacity="0.45"/>
<path d="M301.2 338.1h.5M320.6 343.5h.5M307.0 342.1h.5M317.1 342.8h.5M322.2 343.0h.5M306.8 338.5h.5M309.1 341.4h.5M318.3 345.6h.5M324.5 337.4h.5M306.0 339.6h.5M309.6 345.7h.5M323.9 342.3h.5M308.0 337.5h.5M320.7 337.8h.5M322.8 344.0h.5M321.5 342.8h.5M322.6 341.8h.5M322.7 338.0h.5M326.1 339.3h.5M311.1 339.4h.5M313.8 344.7h.5M316.8 337.3h.5M327.9 338.0h.5M320.0 341.5h.5M312.9 339.8h.5M323.2 341.3h.5M324.6 343.1h.5M313.7 340.5h.5M317.7 337.6h.5M324.6 343.7h.5M317.0 341.6h.5M311.4 340.2h.5M311.9 343.7h.5M314.6 341.5h.5M314.2 341.9h.5M318.6 340.3h.5M311.5 340.9h.5M306.5 338.7h.5M323.0 339.9h.5M316.3 345.7h.5" stroke="#7070f0" stroke-width="0.5" opacity="0.5"/>
<path d="M315.7,287.9 L315.7,363.2 M283.1,333.1 L357.7,333.1" stroke="#222" stroke-width="0.8"/>
<ellipse cx="410.8" cy="249.3" rx="11.88" ry="8.55" fill="#3c3ce8" opacity="0.22" transform="rotate(0 410.8 249.3)" filter="url(#bl2)"/>
<path d="M424.1 249.3 424.8 251.6 423.3 253.6 421.3 255.4 418.5 256.2 415.8 256.8 413.2 257.0 410.8 257.2 408.1 257.9 404.9 258.1 402.1 257.2 400.1 255.5 398.6 253.5 399.0 251.2 399.6 249.3 399.4 247.4 400.7 245.8 401.2 243.8 403.2 242.4 404.7 240.2 407.6 239.2 410.8 239.5 413.6 240.4 416.1 241.4 417.5 243.3 419.1 244.5 421.4 245.6 423.3 247.3ZM420.7 249.3 421.2 251.0 420.4 252.6 420.0 254.6 418.4 256.1 416.0 257.1 413.4 257.5 410.8 257.6 408.6 256.3 406.7 255.5 404.4 255.1 401.9 254.4 400.7 252.8 399.0 251.2 398.8 249.3 398.9 247.4 400.2 245.6 402.2 244.4 404.6 243.7 406.6 243.0 408.5 242.1 410.8 241.2 413.5 240.6 416.1 241.3 418.2 242.6 419.8 244.1 420.3 246.0 420.5 247.7ZM421.2 249.3 421.5 251.1 420.7 252.7 418.8 253.9 417.0 254.9 414.8 255.2 412.9 255.8 410.8 255.7 408.7 256.1 406.5 255.8 403.8 255.6 401.9 254.4 401.0 252.7 400.4 251.0 400.9 249.3 402.2 247.9 402.5 246.4 403.1 244.9 404.6 243.7 406.2 242.4 408.4 241.7 410.8 241.7 413.1 242.0 414.9 243.2 416.4 244.2 417.6 245.4 419.0 246.5 420.3 247.7ZM419.3 249.3 419.0 250.6 417.8 251.7 417.0 252.9 416.3 254.3 414.6 255.0 412.9 255.9 410.8 256.5 408.7 255.9 406.8 255.3 405.4 254.2 404.2 253.1 403.7 251.8 402.5 250.7 402.2 249.3 401.8 247.8 401.9 246.2 403.3 245.0 405.0 244.1 407.1 243.8 409.0 243.7 410.8 243.5 412.7 243.3 414.4 243.9 416.8 243.9 418.6 244.8 419.3 246.3 419.9 247.8ZM418.7 249.3 417.5 250.4 417.2 251.5 416.1 252.4 415.2 253.3 414.1 254.2 412.7 255.3 410.8 255.4 409.0 254.9 407.6 254.1 406.2 253.5 405.5 252.3 404.6 251.4 403.7 250.5 403.2 249.3 402.5 247.9 403.3 246.7 404.1 245.5 405.8 244.8 407.5 244.3 409.3 244.6 410.8 244.2 412.3 244.5 414.0 244.6 415.7 244.8 417.6 245.4 418.5 246.6 418.6 248.0ZM417.8 249.3 417.5 250.4 416.5 251.3 415.7 252.1 414.3 252.4 413.4 253.2 412.1 253.5 410.8 253.8 409.3 253.9 407.9 253.7 406.4 253.3 405.5 252.3 405.0 251.3 404.8 250.3 405.0 249.3 405.2 248.4 404.8 247.2 405.4 246.2 406.3 245.2 407.7 244.6 409.3 244.5 410.8 244.6 412.1 245.3 413.4 245.4 414.5 246.0 415.8 246.4 417.0 247.1 417.7 248.2ZM416.1 249.3 416.1 250.2 415.5 250.9 414.5 251.4 413.8 252.0 413.0 252.6 411.9 252.9 410.8 253.4 409.6 253.2 408.5 252.8 407.5 252.3 406.9 251.6 406.5 250.8 406.1 250.1 405.9 249.3 405.7 248.5 405.7 247.5 406.3 246.7 407.3 246.2 408.4 245.8 409.7 245.7 410.8 245.8 411.8 246.0 412.8 246.3 414.0 246.4 415.1 246.8 415.8 247.6 416.1 248.4ZM415.0 249.3 415.2 250.0 414.5 250.6 414.0 251.1 413.2 251.5 412.5 251.8 411.6 251.9 410.8 252.0 409.9 252.2 408.9 252.1 408.1 251.7 407.3 251.3 406.9 250.6 407.1 249.9 407.0 249.3 407.2 248.7 407.3 248.1 407.8 247.6 408.2 247.0 408.9 246.4 409.8 246.3 410.8 246.3 411.7 246.4 412.5 246.8 413.1 247.2 413.7 247.7 414.2 248.1 414.7 248.7ZM413.4 249.3 413.5 249.7 413.4 250.2 413.2 250.7 412.7 251.0 412.1 251.2 411.4 251.3 410.8 251.3 410.2 251.0 409.6 251.1 409.1 250.9 408.7 250.5 408.1 250.2 408.0 249.8 407.8 249.3 408.1 248.9 408.4 248.5 408.8 248.2 409.2 247.8 409.6 247.6 410.2 247.3 410.8 247.2 411.5 247.2 412.1 247.3 412.5 247.7 413.0 248.0 413.1 248.5 413.2 248.9ZM412.5 249.3 412.4 249.6 412.2 249.8 412.0 250.0 411.7 250.1 411.5 250.3 411.1 250.4 410.8 250.5 410.4 250.4 410.1 250.4 409.8 250.2 409.6 250.0 409.5 249.8 409.4 249.5 409.2 249.3 409.2 249.0 409.3 248.8 409.5 248.6 409.8 248.4 410.1 248.2 410.4 248.2 410.8 248.2 411.1 248.3 411.4 248.4 411.7 248.5 412.1 248.6 412.2 248.8 412.4 249.0Z" fill="none" stroke="#3c3ce8" stroke-width="0.4" opacity="0.5"/>
<path d="M403.8 256.6h.5M406.8 248.7h.5M411.6 247.4h.5M415.9 251.9h.5M409.2 253.9h.5M410.1 248.1h.5M421.4 248.8h.5M411.6 249.4h.5M410.5 252.7h.5M402.9 251.2h.5M414.8 246.8h.5M412.4 252.4h.5M418.0 241.8h.5M396.5 251.2h.5M427.4 255.2h.5M411.5 245.0h.5M403.9 246.3h.5M415.9 247.5h.5M409.6 247.4h.5M418.1 247.3h.5M413.4 240.2h.5M428.2 246.6h.5M412.6 255.5h.5M404.5 238.8h.5M404.7 251.9h.5M405.7 252.5h.5M405.4 248.0h.5M414.9 242.0h.5M409.4 247.2h.5M409.7 251.0h.5M405.4 244.4h.5M402.7 256.2h.5M408.9 247.0h.5M415.9 242.9h.5M414.3 243.2h.5M416.1 247.8h.5M399.0 253.3h.5M421.0 248.2h.5M394.7 240.7h.5M414.0 248.0h.5" stroke="#3c3ce8" stroke-width="0.5" opacity="0.5"/>
<ellipse cx="407.3" cy="260.7" rx="10.92" ry="8.07" fill="#e84848" opacity="0.22" transform="rotate(0 407.3 260.7)" filter="url(#bl2)"/>
<path d="M417.2 260.7 417.3 262.4 417.8 264.4 416.8 266.3 415.3 268.2 413.0 269.5 410.0 269.3 407.3 268.9 405.1 267.8 403.0 267.2 400.9 266.6 398.9 265.7 396.8 264.4 394.9 262.8 394.2 260.7 395.3 258.7 396.7 256.9 399.4 256.1 401.1 255.0 402.8 253.8 404.8 252.6 407.3 251.6 410.1 251.5 412.7 252.4 415.2 253.3 416.5 255.3 417.3 257.1 416.8 259.1ZM417.2 260.7 416.5 262.2 415.9 263.8 414.5 264.9 413.7 266.6 412.2 268.3 409.8 268.9 407.3 269.4 405.0 268.3 402.9 267.4 401.2 266.4 400.1 265.0 398.9 263.7 397.4 262.4 396.1 260.7 395.7 258.7 397.3 257.1 398.6 255.6 400.7 254.6 403.1 254.2 405.2 254.1 407.3 254.0 409.4 253.9 411.7 254.0 414.0 254.5 416.2 255.5 417.4 257.1 418.1 258.9ZM415.8 260.7 415.3 262.1 414.7 263.3 414.4 264.9 413.5 266.4 411.7 267.5 409.5 267.8 407.3 267.9 405.2 267.6 403.7 266.2 402.0 265.6 400.8 264.5 399.1 263.6 397.6 262.3 396.9 260.7 397.1 259.0 398.3 257.5 400.0 256.4 401.8 255.6 403.5 254.9 405.4 254.4 407.3 254.1 409.4 254.0 411.4 254.4 413.9 254.6 415.2 256.0 416.1 257.6 416.2 259.2ZM416.3 260.7 415.7 262.1 415.0 263.4 413.9 264.6 412.0 265.0 410.7 265.9 408.9 265.8 407.3 266.4 405.5 266.6 403.6 266.4 401.5 266.0 400.5 264.7 399.2 263.6 399.6 262.0 399.7 260.7 400.1 259.5 400.3 258.2 401.3 257.2 402.1 255.9 403.6 255.1 405.2 254.0 407.3 254.3 409.2 254.6 410.8 255.4 411.6 256.7 413.3 257.2 414.1 258.3 415.5 259.3ZM414.4 260.7 414.8 262.0 414.0 263.1 413.0 264.1 411.8 264.9 410.2 265.1 408.8 265.5 407.3 265.7 405.8 265.5 404.2 265.5 402.6 265.0 401.5 264.1 400.7 263.1 400.0 261.9 400.6 260.7 401.1 259.6 401.3 258.6 401.9 257.5 402.8 256.5 404.1 255.7 405.7 255.4 407.3 255.3 409.0 255.3 410.2 256.3 411.3 257.0 412.0 257.9 413.3 258.6 414.0 259.6ZM413.6 260.7 413.7 261.8 413.0 262.7 411.8 263.3 410.7 263.9 409.6 264.2 408.6 264.9 407.3 264.9 405.9 265.1 404.6 264.9 403.4 264.3 402.6 263.5 402.2 262.5 402.1 261.6 401.6 260.7 402.1 259.8 402.4 258.9 402.4 257.8 403.2 256.9 404.5 256.5 405.9 256.3 407.3 256.3 408.6 256.4 409.7 257.0 410.7 257.5 411.6 258.2 412.8 258.7 413.7 259.6ZM411.6 260.7 411.4 261.4 411.5 262.2 411.0 262.9 410.3 263.5 409.5 264.1 408.4 264.3 407.3 264.3 406.2 264.2 405.4 263.6 404.7 263.1 403.8 262.8 403.2 262.1 402.6 261.5 402.2 260.7 402.0 259.8 402.6 259.0 403.4 258.4 404.4 258.0 405.5 257.9 406.3 257.5 407.3 257.4 408.4 257.2 409.6 257.2 410.5 257.7 411.4 258.3 411.8 259.1 411.6 260.0ZM411.1 260.7 410.5 261.2 410.5 261.8 409.9 262.2 409.6 262.8 409.0 263.3 408.1 263.4 407.3 263.7 406.4 263.6 405.7 263.2 405.1 262.8 404.7 262.2 404.3 261.8 404.0 261.3 403.7 260.7 403.4 260.0 403.7 259.4 404.2 258.9 405.0 258.6 405.8 258.4 406.5 258.1 407.3 258.2 408.1 258.2 408.8 258.3 409.7 258.5 410.4 258.9 411.0 259.4 410.9 260.1ZM409.8 260.7 409.7 261.1 409.3 261.4 409.1 261.8 408.9 262.2 408.5 262.5 407.9 262.7 407.3 262.7 406.7 262.7 406.2 262.4 405.9 262.0 405.5 261.8 405.1 261.5 405.0 261.1 404.5 260.7 404.6 260.3 404.8 259.8 405.1 259.4 405.7 259.2 406.3 259.1 406.7 258.9 407.3 258.8 407.8 259.0 408.4 259.0 409.0 259.1 409.5 259.4 409.7 259.9 409.8 260.3ZM408.7 260.7 408.7 260.9 408.6 261.1 408.5 261.4 408.3 261.6 408.0 261.8 407.6 261.8 407.3 261.8 407.0 261.8 406.7 261.6 406.5 261.5 406.2 261.3 406.0 261.1 405.9 260.9 405.8 260.7 405.7 260.4 406.0 260.2 406.2 260.0 406.4 259.9 406.7 259.8 407.0 259.7 407.3 259.7 407.6 259.7 408.0 259.7 408.2 259.8 408.5 260.0 408.7 260.2 408.6 260.5Z" fill="none" stroke="#e84848" stroke-width="0.4" opacity="0.6"/>
<path d="M409.8 255.9h.5M393.5 259.9h.5M398.4 262.6h.5M401.8 260.5h.5M398.6 268.1h.5M407.4 254.6h.5M400.5 263.7h.5M413.3 258.5h.5M408.5 257.2h.5M415.6 262.2h.5M394.7 260.0h.5M399.8 261.5h.5M406.7 256.5h.5M409.5 262.3h.5M403.8 257.7h.5M396.2 268.1h.5M403.8 261.0h.5M403.3 258.1h.5M410.7 264.5h.5M405.3 262.8h.5M417.4 259.2h.5M408.4 273.9h.5M410.9 264.3h.5M415.9 263.6h.5M406.0 262.4h.5M414.4 269.3h.5M401.8 253.7h.5M411.8 254.8h.5M409.3 263.0h.5M402.3 261.7h.5M406.9 263.2h.5M403.9 265.1h.5M414.0 251.2h.5M418.5 249.5h.5M400.1 269.7h.5M395.8 270.5h.5M399.6 260.2h.5M405.5 259.4h.5M414.6 253.3h.5M412.8 264.3h.5" stroke="#e84848" stroke-width="0.5" opacity="0.5"/>
<path d="M417.1 261.0 416.8 262.6 415.9 264.0 415.7 265.9 414.6 267.7 412.5 268.9 410.1 269.9 407.3 269.4 404.9 268.8 402.7 267.9 401.5 266.3 400.0 265.2 397.7 264.3 396.3 262.8 395.7 261.0 394.9 258.9 396.1 257.1 398.6 256.0 400.6 254.9 403.0 254.4 405.1 253.8 407.3 254.1 409.6 253.7 412.3 253.5 415.0 254.0 416.9 255.4 417.5 257.4 418.6 259.1ZM417.4 261.0 416.9 262.6 415.5 263.9 414.1 264.9 412.1 265.4 410.7 266.2 409.2 267.2 407.3 267.4 405.2 267.6 403.1 267.3 401.1 266.7 399.8 265.3 399.8 263.6 399.2 262.3 399.1 261.0 399.7 259.7 399.1 258.1 399.9 256.7 401.3 255.6 402.9 254.4 405.1 253.9 407.3 254.6 409.1 255.3 410.9 255.6 412.3 256.4 413.6 257.3 415.5 258.1 417.0 259.4ZM413.6 261.0 413.5 262.0 413.0 263.0 412.9 264.3 411.9 265.2 410.7 266.1 409.0 266.5 407.3 266.3 405.8 265.8 404.5 265.3 403.5 264.5 402.4 263.9 401.1 263.2 400.2 262.2 399.9 261.0 400.1 259.8 400.8 258.7 401.9 257.9 403.4 257.4 404.5 256.8 405.9 256.6 407.3 256.2 408.8 256.1 410.5 256.1 411.9 256.8 413.0 257.7 413.7 258.7 413.6 259.9ZM412.0 261.0 411.8 261.7 411.1 262.3 410.9 263.1 410.3 263.7 409.4 264.2 408.5 264.8 407.3 264.7 406.2 264.4 405.2 264.2 404.6 263.4 403.7 263.1 403.4 262.4 403.0 261.7 402.2 261.0 402.2 260.2 402.6 259.4 403.2 258.6 404.2 258.2 405.4 258.1 406.4 258.0 407.3 258.0 408.3 257.7 409.3 257.9 410.4 258.2 411.3 258.7 411.8 259.4 412.1 260.2ZM410.2 261.0 410.0 261.5 409.9 261.9 409.4 262.2 408.9 262.5 408.4 262.7 407.8 262.7 407.3 262.8 406.7 262.8 406.1 262.8 405.4 262.7 405.0 262.3 404.7 261.9 404.6 261.4 404.6 261.0 404.8 260.6 404.9 260.2 405.3 259.9 405.6 259.4 406.1 259.1 406.7 258.9 407.3 259.0 407.9 259.1 408.4 259.4 408.8 259.6 409.2 259.9 409.5 260.2 409.8 260.6Z" fill="none" stroke="#48d048" stroke-width="0.4" opacity="0.35"/>
<path d="M405.5 263.6h.5M410.2 257.5h.5M410.8 261.8h.5M405.9 257.6h.5M407.6 268.7h.5M405.4 262.5h.5M401.1 250.3h.5M400.2 262.0h.5M414.9 253.5h.5M407.7 263.1h.5M410.7 251.9h.5M406.4 259.7h.5M399.7 257.0h.5M400.6 262.2h.5M414.6 262.9h.5M405.8 260.1h.5M410.9 259.2h.5M401.9 264.2h.5M404.0 263.6h.5M412.8 258.8h.5M399.8 254.9h.5M408.4 255.6h.5M401.9 255.3h.5M403.6 262.6h.5M400.5 261.3h.5M420.2 265.9h.5M407.1 255.2h.5M417.6 252.6h.5M408.6 263.3h.5M406.1 265.8h.5M404.7 264.2h.5M416.9 259.8h.5M413.3 269.3h.5M414.0 263.8h.5M404.3 260.8h.5M427.5 262.4h.5M392.1 260.4h.5M408.5 260.7h.5M413.7 256.1h.5M411.0 262.4h.5" stroke="#48d048" stroke-width="0.5" opacity="0.5"/>
<path d="M410.8,206.5 L410.8,281.3 M383.7,254.2 L458.1,254.2" stroke="#222" stroke-width="0.8"/>
<ellipse cx="410.8" cy="329.9" rx="12.82" ry="8.55" fill="#3c3ce8" opacity="0.2" transform="rotate(0 410.8 329.9)" filter="url(#bl2)"/>
<path d="M426.1 329.9 424.6 332.0 422.8 333.7 420.0 334.8 418.2 336.1 416.1 337.3 413.9 339.0 410.8 339.5 407.5 339.6 404.2 339.1 402.3 337.0 400.1 335.6 399.4 333.6 398.7 331.7 398.9 329.9 397.7 327.9 398.4 325.9 399.1 323.7 401.2 321.9 404.3 320.9 407.8 321.1 410.8 321.7 413.5 321.9 415.8 323.0 418.7 323.3 421.9 324.0 423.9 325.7 425.6 327.6ZM424.3 329.9 423.4 331.8 421.5 333.3 419.8 334.7 417.3 335.3 415.4 336.2 413.5 337.8 410.8 337.9 407.9 338.3 404.7 338.3 402.7 336.7 400.9 335.2 400.6 333.2 400.7 331.4 399.5 329.9 399.2 328.1 400.3 326.5 401.0 324.7 402.2 322.7 405.2 322.1 407.9 321.3 410.8 322.4 413.3 322.7 415.4 323.5 418.0 323.9 420.1 324.9 422.1 326.3 424.1 327.9ZM420.9 329.9 420.7 331.4 420.6 333.1 420.4 335.0 418.3 336.2 416.1 337.3 413.2 337.0 410.8 336.7 408.7 335.9 406.5 335.9 404.2 335.4 401.9 334.6 400.2 333.3 398.6 331.8 398.7 329.9 399.9 328.2 401.3 326.9 403.3 325.9 404.9 325.0 406.4 323.8 408.3 322.6 410.8 321.9 413.5 322.0 416.2 322.5 418.1 323.8 419.0 325.5 420.1 326.9 419.8 328.5ZM419.4 329.9 419.9 331.3 419.5 332.7 418.8 334.2 417.2 335.2 415.2 336.0 413.0 336.2 410.8 335.6 408.8 335.7 407.0 335.1 405.0 334.7 403.1 334.0 401.2 333.0 400.9 331.4 400.7 329.9 401.4 328.5 402.5 327.2 404.1 326.3 405.4 325.4 406.9 324.5 408.6 323.5 410.8 322.9 413.2 322.9 415.4 323.6 417.3 324.5 418.5 325.8 418.8 327.3 419.3 328.6ZM419.8 329.9 419.4 331.2 419.0 332.5 417.3 333.4 415.7 334.0 414.3 334.7 412.4 334.5 410.8 335.1 408.9 335.3 407.1 335.0 405.2 334.6 403.9 333.6 402.8 332.5 402.8 331.1 403.1 329.9 403.6 328.8 403.7 327.6 404.8 326.7 405.7 325.6 406.9 324.5 408.8 324.2 410.8 323.9 412.7 324.3 414.2 325.2 415.3 326.1 416.7 326.8 417.6 327.7 419.1 328.6ZM417.3 329.9 416.6 330.8 416.4 331.7 416.4 332.9 415.3 333.7 414.2 334.6 412.4 334.6 410.8 334.9 409.2 334.5 408.0 333.8 406.7 333.4 406.0 332.5 404.5 331.9 404.0 330.9 403.3 329.9 403.6 328.8 403.9 327.7 405.0 326.8 406.7 326.5 408.1 326.2 409.4 325.9 410.8 325.5 412.4 325.2 413.9 325.6 415.6 325.9 416.9 326.6 417.3 327.8 417.4 328.9ZM417.0 329.9 416.5 330.8 416.2 331.6 415.2 332.3 414.2 332.7 413.0 333.0 411.9 333.2 410.8 333.8 409.5 333.6 408.2 333.5 407.1 333.0 406.3 332.3 405.6 331.6 405.8 330.7 405.4 329.9 405.8 329.1 405.9 328.3 406.2 327.5 407.1 326.8 408.2 326.3 409.4 325.9 410.8 326.1 412.0 326.4 413.0 326.9 413.9 327.3 414.9 327.7 415.8 328.3 416.4 329.0ZM415.4 329.9 415.2 330.6 415.0 331.2 414.2 331.7 413.3 332.0 412.6 332.4 411.7 332.6 410.8 332.5 409.9 332.5 408.8 332.6 407.9 332.3 407.1 331.9 406.9 331.2 406.5 330.6 406.8 329.9 406.8 329.3 407.1 328.7 407.7 328.2 408.1 327.6 408.7 327.1 409.8 326.9 410.8 326.7 411.8 326.9 412.6 327.4 413.3 327.8 413.9 328.3 414.6 328.7 414.8 329.3ZM414.1 329.9 414.0 330.4 413.6 330.8 413.2 331.2 412.6 331.4 412.0 331.6 411.5 331.8 410.8 331.8 410.1 331.8 409.5 331.7 408.7 331.6 408.4 331.2 408.0 330.8 407.9 330.3 407.9 329.9 408.2 329.5 408.2 329.1 408.5 328.7 408.8 328.3 409.4 328.0 410.1 327.8 410.8 327.9 411.4 328.1 412.0 328.2 412.6 328.4 412.9 328.8 413.5 329.0 413.7 329.5ZM412.6 329.9 412.4 330.1 412.4 330.4 412.3 330.7 411.9 330.8 411.6 331.0 411.2 331.0 410.8 330.9 410.4 331.0 410.1 330.9 409.8 330.8 409.3 330.7 409.1 330.4 409.1 330.2 409.1 329.9 409.1 329.6 409.4 329.4 409.6 329.2 409.8 329.1 410.0 328.9 410.4 328.8 410.8 328.7 411.2 328.7 411.6 328.8 411.9 329.0 412.0 329.3 412.3 329.4 412.4 329.7Z" fill="none" stroke="#3c3ce8" stroke-width="0.4" opacity="0.5"/>
<path d="M418.5 328.8h.5M414.3 329.5h.5M393.7 339.1h.5M401.4 332.9h.5M420.0 325.5h.5M404.2 332.3h.5M407.0 339.3h.5M390.5 333.6h.5M404.3 332.7h.5M410.8 329.7h.5M421.2 324.7h.5M408.3 317.5h.5M418.2 330.1h.5M414.0 330.7h.5M410.7 329.1h.5M434.8 324.8h.5M397.4 328.3h.5M405.3 332.6h.5M408.6 326.2h.5M421.4 325.3h.5M395.8 325.2h.5M412.0 335.0h.5M406.6 336.5h.5M409.6 325.7h.5M406.6 328.4h.5M411.1 333.8h.5M401.4 334.7h.5M414.4 327.8h.5M418.4 327.1h.5M401.2 326.2h.5M413.9 327.8h.5M407.8 339.6h.5M402.8 332.7h.5M428.0 325.4h.5M398.0 334.4h.5M410.5 332.6h.5M410.7 330.1h.5M411.6 328.9h.5M409.9 339.6h.5M414.4 323.3h.5" stroke="#3c3ce8" stroke-width="0.5" opacity="0.5"/>
<ellipse cx="404" cy="343" rx="17.57" ry="8.07" fill="#e84848" opacity="0.15" transform="rotate(0 404 343)" filter="url(#bl2)"/>
<path d="M420.2 343.0 421.6 344.8 420.4 346.6 420.0 348.9 416.8 350.3 413.0 351.6 408.3 351.7 404.0 351.0 400.4 350.3 397.1 349.5 393.1 349.3 389.8 348.2 386.5 346.9 384.6 345.0 383.8 343.0 384.6 341.0 387.0 339.2 391.2 338.3 393.4 336.9 397.0 336.4 400.1 335.1 404.0 334.5 408.5 333.9 413.3 334.1 417.1 335.5 418.1 337.8 419.0 339.7 420.8 341.2ZM422.5 343.0 421.0 344.8 419.8 346.5 417.1 347.8 413.6 348.5 410.2 348.9 407.2 349.4 404.0 350.2 400.2 350.6 396.1 350.5 393.0 349.3 390.5 348.0 389.7 346.2 389.3 344.5 388.8 343.0 389.3 341.5 390.6 340.0 390.8 338.2 393.3 336.8 395.8 335.2 399.9 334.8 404.0 335.4 407.5 335.9 410.3 337.0 412.9 337.9 415.2 338.9 419.2 339.6 421.4 341.2ZM416.8 343.0 416.7 344.3 416.0 345.6 414.7 346.9 412.7 348.0 410.9 349.6 407.5 350.1 404.0 350.1 401.0 349.1 398.0 348.7 395.9 347.7 393.8 346.7 392.4 345.6 390.6 344.4 389.0 343.0 389.3 341.5 390.7 340.1 392.7 338.9 395.9 338.3 398.6 337.9 401.1 337.1 404.0 337.3 407.1 336.7 410.1 337.2 413.7 337.4 416.0 338.6 416.9 340.2 417.2 341.6ZM415.7 343.0 416.8 344.3 416.2 345.7 414.0 346.7 411.4 347.2 408.7 347.5 406.3 347.6 404.0 347.9 401.5 348.0 398.6 348.1 396.5 347.3 393.9 346.7 392.8 345.5 392.3 344.2 392.5 343.0 393.5 341.9 394.7 340.9 395.6 339.9 396.9 338.9 398.7 337.9 401.2 337.3 404.0 336.9 406.8 337.4 409.3 337.9 411.2 338.8 412.6 339.9 413.2 341.0 415.4 341.8ZM413.9 343.0 412.9 343.9 411.8 344.7 410.7 345.4 409.7 346.3 408.5 347.3 406.4 347.8 404.0 347.9 401.7 347.5 399.9 346.9 398.0 346.4 397.4 345.4 396.1 344.7 395.5 343.9 394.0 343.0 393.9 341.9 394.9 341.0 396.3 340.2 397.9 339.5 399.9 339.1 402.1 339.2 404.0 338.8 405.9 339.2 408.0 339.2 410.5 339.3 412.0 340.1 413.1 341.0 413.9 342.0ZM411.6 343.0 412.1 343.8 411.0 344.5 410.0 345.2 408.3 345.5 406.9 345.8 405.5 346.1 404.0 346.1 402.3 346.4 400.6 346.3 399.2 345.7 397.8 345.3 397.1 344.5 397.1 343.7 397.2 343.0 397.4 342.3 397.7 341.6 398.6 341.0 399.1 340.2 400.6 339.8 402.2 339.3 404.0 339.5 405.7 339.7 407.1 340.1 408.4 340.5 409.2 341.1 410.3 341.6 411.5 342.2ZM409.3 343.0 409.3 343.6 408.7 344.0 407.7 344.4 406.9 344.7 406.0 344.9 405.1 345.2 404.0 345.3 402.8 345.4 401.7 345.2 400.6 345.0 399.7 344.6 399.2 344.1 399.3 343.5 399.1 343.0 399.4 342.5 399.3 342.0 399.7 341.4 400.7 341.1 401.5 340.6 402.8 340.5 404.0 340.7 405.1 340.9 406.2 340.9 406.9 341.3 407.8 341.6 408.5 342.0 409.2 342.5ZM406.9 343.0 406.7 343.3 406.6 343.6 406.0 343.7 405.6 343.9 405.2 344.2 404.7 344.4 404.0 344.4 403.3 344.4 402.6 344.3 402.1 344.1 401.8 343.8 401.7 343.5 401.3 343.3 401.3 343.0 401.1 342.7 401.2 342.4 401.6 342.1 402.1 341.9 402.8 341.8 403.4 341.7 404.0 341.7 404.6 341.8 405.2 341.8 405.8 342.0 406.4 342.1 406.8 342.4 406.9 342.7Z" fill="none" stroke="#e84848" stroke-width="0.4" opacity="0.45"/>
<path d="M391.5 350.5h.5M418.0 336.4h.5M392.8 351.0h.5M411.8 341.7h.5M432.9 341.3h.5M405.8 347.4h.5M398.5 348.5h.5M408.6 352.1h.5M409.5 344.7h.5M405.5 348.4h.5M419.0 347.7h.5M393.8 339.7h.5M407.7 338.4h.5M417.6 348.2h.5M403.0 336.7h.5M401.0 342.7h.5M377.9 346.3h.5M392.6 340.2h.5M400.8 340.1h.5M397.0 348.1h.5M397.5 344.5h.5M396.1 336.0h.5M395.2 340.9h.5M375.8 329.5h.5M383.3 345.5h.5M405.7 340.6h.5M398.4 350.5h.5M402.7 338.6h.5M390.1 341.9h.5M408.9 339.7h.5M396.3 337.3h.5M394.4 332.3h.5M398.5 341.8h.5M413.4 347.4h.5M401.9 339.5h.5M395.1 334.0h.5M413.9 343.2h.5M396.5 339.0h.5M401.6 335.2h.5M436.8 344.3h.5" stroke="#e84848" stroke-width="0.5" opacity="0.5"/>
<ellipse cx="403" cy="344" rx="11.88" ry="6.65" fill="#48d048" opacity="0.2" transform="rotate(0 403 344)" filter="url(#bl2)"/>
<path d="M417.5 344.0 416.8 345.8 415.5 347.4 412.4 348.2 410.2 349.1 408.0 349.9 405.4 349.8 403.0 350.3 400.1 351.2 396.9 351.1 394.5 350.0 392.5 348.7 391.6 347.1 391.6 345.5 391.4 344.0 391.8 342.6 392.4 341.1 393.0 339.5 395.0 338.4 396.8 336.8 400.0 336.7 403.0 336.6 405.7 337.4 407.7 338.5 410.0 339.1 412.1 339.9 413.8 341.1 416.2 342.3ZM412.6 344.0 412.7 345.2 411.7 346.3 410.9 347.5 410.5 349.2 408.2 350.1 405.7 350.7 403.0 350.1 400.7 349.8 398.9 348.8 397.0 348.2 395.6 347.3 393.4 346.6 392.5 345.3 391.6 344.0 391.8 342.6 392.5 341.2 394.9 340.4 396.6 339.5 398.7 339.0 400.9 338.8 403.0 338.5 405.5 337.8 407.9 338.3 410.5 338.7 412.5 339.8 413.1 341.3 413.0 342.7ZM412.8 344.0 412.0 345.2 410.1 345.9 409.2 346.8 408.4 347.8 406.8 348.4 405.1 349.1 403.0 349.7 400.7 349.6 398.7 349.0 397.6 347.8 396.4 346.9 395.5 346.0 394.9 345.0 394.3 344.0 393.5 342.8 394.2 341.6 395.3 340.6 397.1 339.9 398.9 339.2 401.2 339.5 403.0 339.5 404.7 339.8 406.8 339.6 408.6 340.1 410.8 340.5 411.9 341.6 412.2 342.8ZM410.7 344.0 409.7 344.9 408.8 345.6 407.9 346.2 407.3 347.0 406.3 347.8 404.7 348.3 403.0 348.5 401.3 348.3 399.6 347.9 398.3 347.3 397.9 346.3 397.1 345.6 396.1 344.9 396.1 344.0 395.6 343.1 396.1 342.1 396.6 341.2 398.2 340.6 399.7 340.2 401.4 340.2 403.0 340.2 404.5 340.2 406.1 340.3 407.8 340.6 409.4 341.2 410.4 342.0 410.8 343.0ZM408.0 344.0 408.3 344.7 408.1 345.4 407.5 346.0 406.8 346.7 405.6 347.1 404.4 347.4 403.0 347.3 401.8 347.0 400.9 346.5 399.6 346.4 398.5 346.0 397.5 345.5 397.0 344.8 396.7 344.0 397.1 343.2 398.0 342.7 399.0 342.2 399.8 341.8 400.8 341.4 401.8 341.0 403.0 340.8 404.3 340.7 405.7 340.8 406.8 341.4 407.7 341.9 408.1 342.6 408.2 343.3ZM407.2 344.0 407.2 344.5 406.7 345.0 406.2 345.4 405.4 345.7 404.6 345.9 403.8 346.0 403.0 346.1 402.2 346.0 401.2 346.1 400.5 345.8 399.7 345.5 399.3 345.0 398.9 344.5 399.3 344.0 399.6 343.6 399.7 343.1 400.2 342.7 400.6 342.3 401.2 341.9 402.0 341.6 403.0 341.5 403.9 341.8 404.6 342.1 405.4 342.3 405.9 342.7 406.1 343.2 406.5 343.5ZM405.3 344.0 405.2 344.3 405.0 344.5 404.6 344.7 404.3 344.9 403.9 345.0 403.5 345.2 403.0 345.3 402.5 345.3 402.0 345.2 401.6 345.0 401.3 344.8 401.2 344.5 401.0 344.3 400.9 344.0 400.9 343.7 400.9 343.4 401.1 343.2 401.6 343.0 402.0 342.8 402.5 342.8 403.0 342.7 403.5 342.8 403.9 342.9 404.3 343.1 404.8 343.2 405.0 343.5 405.4 343.7Z" fill="none" stroke="#48d048" stroke-width="0.4" opacity="0.55"/>
<path d="M405.7 339.0h.5M402.6 339.3h.5M390.2 341.6h.5M406.5 354.9h.5M401.3 345.3h.5M400.8 342.7h.5M397.9 352.3h.5M410.1 342.6h.5M404.4 344.2h.5M396.0 345.4h.5M405.8 350.4h.5M404.8 344.0h.5M406.8 344.9h.5M421.7 341.7h.5M385.0 349.7h.5M411.6 346.0h.5M408.0 346.2h.5M384.9 346.6h.5M399.3 348.4h.5M417.3 347.0h.5M393.1 341.8h.5M392.7 338.4h.5M401.8 345.8h.5M413.7 339.5h.5M399.9 344.0h.5M408.5 345.5h.5M399.1 343.9h.5M406.9 345.1h.5M401.8 338.7h.5M397.9 333.4h.5M402.7 342.7h.5M398.5 351.9h.5M395.6 346.3h.5M397.7 337.5h.5M400.3 339.2h.5M395.8 340.3h.5M410.6 346.7h.5M406.9 339.7h.5M406.7 344.7h.5M403.0 338.9h.5" stroke="#48d048" stroke-width="0.5" opacity="0.5"/>
<path d="M410.8,287.9 L410.8,363.2 M383.7,336.1 L458.1,336.1" stroke="#222" stroke-width="0.8"/>
<ellipse cx="521.7" cy="249" rx="9.03" ry="8.07" fill="#3c3ce8" opacity="0.25" transform="rotate(0 521.7 249)" filter="url(#bl2)"/>
<path d="M531.8 249.0 531.6 251.0 530.9 253.0 529.0 254.2 527.5 255.5 525.3 255.7 523.5 256.2 521.7 257.4 519.5 257.6 517.1 257.6 515.3 256.2 513.6 254.8 512.4 253.0 513.2 250.7 513.1 249.0 513.4 247.3 514.1 245.7 514.3 243.7 515.5 242.1 517.0 240.3 519.3 239.5 521.7 239.8 523.7 241.2 525.5 242.0 526.7 243.4 528.6 244.1 530.2 245.3 531.7 247.0ZM531.4 249.0 530.1 250.7 529.0 252.1 528.1 253.6 526.5 254.3 525.2 255.4 523.6 256.3 521.7 257.3 519.6 257.2 517.5 256.9 515.8 255.6 514.7 254.0 514.8 252.0 513.9 250.6 513.6 249.0 513.4 247.3 513.9 245.6 514.5 243.9 515.6 242.1 517.6 241.4 519.7 241.3 521.7 241.9 523.4 242.2 525.1 242.8 526.4 243.7 528.7 244.0 530.1 245.4 531.3 247.0ZM529.2 249.0 529.9 250.7 529.5 252.3 528.1 253.6 526.7 254.7 524.7 254.6 523.2 255.1 521.7 255.1 520.1 255.4 518.3 255.2 516.7 254.6 515.2 253.7 514.2 252.2 513.9 250.6 514.4 249.0 514.7 247.6 515.6 246.4 516.0 245.0 517.0 243.7 518.1 242.3 519.9 241.8 521.7 241.6 523.6 241.6 524.9 243.1 526.3 243.8 527.0 245.3 528.2 246.2 528.8 247.6ZM528.0 249.0 528.1 250.3 528.3 251.9 527.6 253.2 526.4 254.3 524.8 254.8 523.1 254.7 521.7 254.6 520.3 254.5 519.0 254.0 517.4 253.8 515.9 253.1 515.1 251.9 514.5 250.5 514.3 249.0 515.0 247.6 516.1 246.6 517.0 245.7 517.7 244.5 518.9 243.8 520.2 243.0 521.7 242.3 523.4 242.4 524.8 243.3 526.0 244.1 526.7 245.4 527.3 246.6 527.6 247.8ZM527.7 249.0 527.6 250.2 526.5 251.1 525.7 251.9 525.1 252.8 524.0 253.2 523.0 254.0 521.7 254.8 520.3 254.4 519.0 254.0 518.1 253.1 517.1 252.3 516.8 251.1 516.4 250.1 516.5 249.0 516.2 247.9 516.2 246.6 516.9 245.6 517.8 244.6 519.0 243.9 520.4 243.8 521.7 244.0 522.9 244.4 524.0 244.7 525.3 245.0 526.3 245.7 527.5 246.5 527.7 247.8ZM527.0 249.0 526.8 250.0 526.5 251.1 525.3 251.6 524.4 252.1 523.6 252.6 522.7 252.8 521.7 253.1 520.6 253.4 519.3 253.4 518.3 252.8 517.7 251.8 517.5 250.8 517.2 249.9 517.1 249.0 517.4 248.1 517.5 247.2 517.9 246.3 518.6 245.5 519.4 244.7 520.6 244.5 521.7 244.4 522.8 244.9 523.6 245.5 524.4 246.0 525.3 246.4 525.9 247.2 526.5 248.0ZM526.1 249.0 525.7 249.8 525.2 250.5 524.6 251.1 524.0 251.6 523.2 251.8 522.6 252.4 521.7 252.6 520.7 252.8 519.8 252.5 518.9 252.1 518.4 251.3 518.2 250.5 518.2 249.7 518.0 249.0 518.0 248.3 518.3 247.5 518.4 246.7 519.0 245.9 519.9 245.6 520.7 245.2 521.7 245.4 522.5 245.9 523.2 246.2 523.9 246.6 524.6 246.9 525.2 247.5 525.8 248.2ZM524.6 249.0 524.4 249.5 524.3 250.1 524.1 250.7 523.6 251.2 523.2 251.8 522.4 251.8 521.7 251.7 521.0 251.6 520.4 251.4 520.0 250.9 519.3 250.7 518.9 250.2 518.6 249.6 518.3 249.0 518.5 248.4 518.8 247.7 519.5 247.4 520.0 247.1 520.5 246.7 521.0 246.4 521.7 246.4 522.4 246.3 523.1 246.4 523.8 246.7 524.2 247.2 524.3 247.9 524.4 248.4ZM523.7 249.0 523.5 249.4 523.6 249.8 523.4 250.2 523.0 250.5 522.6 250.8 522.2 251.0 521.7 251.0 521.2 250.8 520.8 250.6 520.5 250.3 520.1 250.1 519.8 249.8 519.5 249.4 519.5 249.0 519.4 248.5 519.7 248.1 520.1 247.8 520.4 247.5 520.8 247.3 521.3 247.3 521.7 247.1 522.2 247.1 522.7 247.2 523.1 247.4 523.5 247.7 523.6 248.2 523.8 248.6ZM522.8 249.0 522.9 249.2 522.9 249.5 522.7 249.7 522.5 249.9 522.2 250.0 522.0 250.0 521.7 250.0 521.4 250.0 521.2 250.0 521.0 249.8 520.8 249.7 520.5 249.5 520.5 249.2 520.5 249.0 520.6 248.8 520.7 248.6 520.8 248.4 521.0 248.2 521.2 248.1 521.4 247.9 521.7 247.9 522.0 247.9 522.2 248.0 522.4 248.2 522.6 248.4 522.7 248.6 522.8 248.8Z" fill="none" stroke="#3c3ce8" stroke-width="0.4" opacity="0.55"/>
<path d="M524.9 254.6h.5M515.4 245.4h.5M523.9 249.2h.5M520.8 253.9h.5M528.6 244.5h.5M505.8 249.0h.5M516.7 246.0h.5M520.8 247.9h.5M525.7 242.0h.5M518.2 241.0h.5M525.2 254.5h.5M523.3 250.4h.5M524.2 255.3h.5M521.6 249.9h.5M518.2 252.0h.5M507.5 248.0h.5M528.1 254.8h.5M520.3 253.5h.5M513.3 248.8h.5M524.1 256.6h.5M530.1 252.7h.5M527.5 246.4h.5M525.9 249.7h.5M529.4 248.3h.5M519.3 253.2h.5M525.6 243.5h.5M513.7 245.5h.5M521.2 240.6h.5M526.3 249.1h.5M525.4 239.1h.5M522.0 244.7h.5M515.1 252.0h.5M522.7 262.1h.5M520.6 244.9h.5M522.4 254.4h.5M516.0 247.5h.5M521.4 244.3h.5M524.6 239.4h.5M526.1 249.3h.5M529.1 248.9h.5" stroke="#3c3ce8" stroke-width="0.5" opacity="0.5"/>
<ellipse cx="507" cy="258" rx="12.35" ry="11.40" fill="#48d048" opacity="0.1" transform="rotate(0 507 258)" filter="url(#bl2)"/>
<path d="M521.0 258.0 520.3 260.8 518.3 263.0 516.2 264.8 514.1 266.3 512.1 267.8 509.8 269.4 507.0 271.0 503.9 270.6 500.8 269.8 498.0 268.4 496.8 265.5 496.0 262.9 495.8 260.4 495.3 258.0 495.4 255.6 494.9 252.6 495.6 249.6 498.3 247.9 500.7 245.9 503.9 245.5 507.0 245.9 509.5 247.7 511.9 248.7 514.2 249.7 517.5 250.3 519.3 252.5 521.7 254.9ZM519.3 258.0 518.1 260.3 516.5 262.2 514.5 263.5 512.9 264.9 511.4 266.4 509.4 267.7 507.0 268.9 504.2 269.2 502.0 267.7 499.9 266.2 497.9 264.7 498.1 262.0 497.8 259.9 497.7 258.0 496.8 255.9 496.6 253.4 498.2 251.5 499.6 249.4 501.7 247.9 504.4 247.5 507.0 248.6 509.3 248.7 511.0 250.3 513.2 250.9 515.5 251.8 517.6 253.3 518.5 255.6ZM516.9 258.0 516.2 259.9 515.9 262.0 514.4 263.5 512.2 264.0 510.4 264.5 508.7 265.1 507.0 265.4 505.0 266.1 502.8 266.0 500.7 265.3 499.6 263.5 498.4 261.8 498.9 259.7 498.4 258.0 499.4 256.4 499.5 254.7 500.6 253.3 501.1 251.2 503.0 250.3 504.8 249.1 507.0 249.2 509.0 250.0 510.8 250.8 512.0 252.3 513.5 253.2 514.2 254.8 515.5 256.2ZM514.3 258.0 513.2 259.3 512.4 260.4 511.8 261.6 510.9 262.5 509.9 263.5 508.5 264.2 507.0 264.7 505.4 264.4 503.8 264.1 502.7 263.0 502.1 261.6 501.4 260.5 501.2 259.2 500.3 258.0 500.4 256.6 500.7 255.2 500.9 253.5 502.3 252.5 504.0 252.3 505.5 251.8 507.0 251.9 508.3 252.7 509.7 252.8 511.3 253.0 512.4 254.0 513.9 255.0 514.5 256.4ZM511.5 258.0 511.4 258.9 511.0 259.8 510.4 260.5 510.0 261.5 509.2 262.3 508.1 262.5 507.0 262.8 506.0 262.2 505.0 261.7 504.2 261.2 503.5 260.6 503.1 259.7 502.4 259.0 502.2 258.0 501.8 256.9 502.5 256.0 503.1 255.1 504.0 254.6 505.1 254.3 506.0 254.1 507.0 253.9 508.0 253.8 509.1 254.0 510.3 254.2 511.1 255.0 511.4 256.0 511.8 257.0ZM509.8 258.0 509.7 258.6 509.2 259.0 509.0 259.5 508.5 259.8 508.1 260.1 507.6 260.4 507.0 260.5 506.4 260.6 505.8 260.4 505.4 259.9 505.0 259.4 504.8 259.0 504.6 258.5 504.5 258.0 504.4 257.5 504.5 256.9 504.8 256.3 505.2 256.0 505.8 255.6 506.4 255.6 507.0 255.7 507.6 255.8 508.1 255.9 508.6 256.1 509.1 256.4 509.5 256.9 509.7 257.4Z" fill="none" stroke="#48d048" stroke-width="0.4" opacity="0.4"/>
<path d="M504.7 263.6h.5M513.4 278.7h.5M510.9 251.8h.5M497.7 252.4h.5M506.8 253.2h.5M505.8 251.9h.5M501.3 245.1h.5M514.4 272.0h.5M491.6 255.1h.5M505.5 261.0h.5M505.6 266.7h.5M511.8 256.4h.5M507.4 250.1h.5M513.5 257.7h.5M502.9 258.4h.5M509.2 260.6h.5M510.6 256.6h.5M512.4 269.0h.5M511.4 257.6h.5M487.2 249.3h.5M520.1 249.3h.5M511.5 270.5h.5M514.5 244.4h.5M522.3 255.0h.5M498.2 267.4h.5M493.9 255.9h.5M492.7 262.3h.5M501.6 264.2h.5M504.1 254.6h.5M508.5 257.0h.5M516.3 251.3h.5M501.0 264.7h.5M509.6 243.0h.5M494.2 264.3h.5M515.3 262.3h.5M506.3 261.7h.5M507.3 263.3h.5M511.2 259.4h.5M513.9 270.8h.5M523.8 247.7h.5" stroke="#48d048" stroke-width="0.5" opacity="0.5"/>
<ellipse cx="506.8" cy="260.2" rx="9.97" ry="9.03" fill="#e84848" opacity="0.25" transform="rotate(0 506.8 260.2)" filter="url(#bl2)"/>
<path d="M517.0 260.2 515.9 262.1 515.0 263.8 514.4 265.7 512.9 267.1 511.7 269.4 509.4 270.5 506.8 271.3 504.2 270.6 501.9 269.3 500.7 267.1 499.5 265.5 498.8 263.7 497.5 262.1 496.7 260.2 496.0 258.0 496.1 255.5 498.0 253.8 500.1 252.6 502.2 251.6 504.7 252.0 506.8 252.1 509.0 251.5 511.1 252.1 513.8 252.2 516.0 253.6 517.1 255.7 517.6 258.0ZM517.0 260.2 517.0 262.3 514.9 263.7 514.0 265.4 511.9 266.0 510.5 267.2 508.7 267.8 506.8 268.7 504.5 269.2 502.1 269.1 500.3 267.6 499.2 265.7 498.4 263.9 498.9 261.8 498.0 260.2 498.6 258.5 498.5 256.6 499.1 254.6 500.3 252.9 502.5 252.0 504.6 251.3 506.8 252.0 508.6 252.9 510.5 253.3 512.1 254.1 514.4 254.7 515.9 256.2 517.4 258.0ZM514.6 260.2 515.8 262.1 515.1 263.8 514.1 265.5 512.5 266.6 510.6 267.4 508.5 266.9 506.8 267.1 505.0 267.2 503.3 266.8 501.3 266.4 499.4 265.5 498.3 263.9 497.6 262.1 498.3 260.2 498.8 258.5 499.5 257.0 501.1 256.1 502.1 254.9 503.0 253.1 504.8 252.3 506.8 251.6 508.9 252.0 510.6 253.1 511.8 254.5 513.1 255.7 513.7 257.2 514.7 258.6ZM514.7 260.2 514.5 261.8 513.4 263.1 511.9 263.9 510.8 264.8 509.7 265.7 508.4 266.4 506.8 267.4 504.9 267.6 503.3 266.7 501.7 266.0 500.8 264.5 500.4 263.0 500.3 261.5 500.4 260.2 500.0 258.8 500.1 257.3 500.2 255.5 501.5 254.2 503.2 253.5 505.2 253.7 506.8 253.7 508.4 254.0 509.7 254.8 511.1 255.3 512.9 255.8 514.0 257.0 515.1 258.5ZM513.3 260.2 513.3 261.5 512.0 262.5 511.3 263.5 510.4 264.2 509.4 265.1 508.3 266.0 506.8 266.2 505.2 266.6 503.8 265.8 502.9 264.6 502.2 263.5 501.6 262.5 501.1 261.4 500.8 260.2 500.7 258.9 500.7 257.5 501.4 256.3 502.6 255.4 503.8 254.5 505.5 254.9 506.8 255.1 508.0 255.3 509.5 255.2 510.9 255.6 512.2 256.3 512.9 257.5 513.8 258.8ZM512.1 260.2 512.4 261.4 512.1 262.5 511.4 263.6 510.3 264.1 509.2 264.7 507.9 264.7 506.8 264.8 505.7 264.6 504.5 264.6 503.3 264.2 502.1 263.6 501.5 262.5 501.3 261.3 501.2 260.2 501.4 259.1 502.5 258.3 503.2 257.6 503.7 256.7 504.5 255.9 505.5 255.0 506.8 255.1 508.1 255.0 509.2 255.7 510.3 256.3 510.9 257.3 511.1 258.3 511.6 259.2ZM510.9 260.2 511.0 261.1 511.2 262.1 510.5 262.9 509.7 263.4 508.8 264.0 507.7 263.9 506.8 264.1 505.9 263.9 505.0 263.6 504.0 263.4 503.1 262.9 502.3 262.1 502.1 261.2 502.4 260.2 502.4 259.3 503.2 258.6 503.8 258.0 504.3 257.4 505.0 256.8 505.8 256.2 506.8 255.8 507.9 256.0 508.8 256.5 509.6 257.0 509.9 258.0 510.5 258.6 510.8 259.4ZM510.0 260.2 509.8 260.8 509.9 261.5 509.5 262.1 509.1 262.9 508.3 263.1 507.6 263.2 506.8 263.1 506.1 262.9 505.5 262.7 505.0 262.3 504.1 262.1 503.7 261.5 503.4 260.9 503.2 260.2 503.5 259.5 503.6 258.8 504.1 258.3 504.8 257.9 505.4 257.7 506.1 257.4 506.8 257.2 507.6 257.0 508.4 257.2 509.0 257.7 509.6 258.2 509.8 258.9 509.8 259.6ZM509.2 260.2 509.1 260.7 508.9 261.1 508.4 261.4 508.2 261.8 507.7 262.0 507.3 262.2 506.8 262.4 506.2 262.4 505.7 262.3 505.3 261.9 505.0 261.5 504.9 261.0 504.7 260.6 504.6 260.2 504.4 259.7 504.6 259.3 504.8 258.7 505.3 258.5 505.7 258.2 506.3 258.2 506.8 258.1 507.3 258.2 507.7 258.4 508.2 258.6 508.7 258.9 509.1 259.2 509.2 259.7ZM508.2 260.2 508.2 260.5 508.0 260.7 507.9 261.0 507.6 261.1 507.3 261.2 507.1 261.3 506.8 261.4 506.5 261.4 506.2 261.3 505.9 261.2 505.8 261.0 505.5 260.8 505.5 260.5 505.6 260.2 505.6 260.0 505.6 259.7 505.8 259.5 505.9 259.2 506.2 259.0 506.5 258.9 506.8 259.0 507.1 259.1 507.4 259.1 507.6 259.3 507.8 259.5 508.0 259.7 508.1 259.9Z" fill="none" stroke="#e84848" stroke-width="0.4" opacity="0.6"/>
<path d="M503.9 264.6h.5M512.2 261.0h.5M495.1 257.6h.5M511.0 255.9h.5M509.7 259.2h.5M496.0 263.6h.5M505.9 254.8h.5M511.1 258.2h.5M506.1 253.9h.5M504.9 260.3h.5M498.9 256.1h.5M506.6 256.2h.5M506.6 261.4h.5M502.7 255.4h.5M507.8 275.3h.5M509.3 267.0h.5M505.7 272.2h.5M508.5 258.8h.5M505.9 262.0h.5M509.5 280.4h.5M503.3 255.0h.5M501.3 255.9h.5M512.9 269.7h.5M511.3 259.5h.5M508.7 263.8h.5M500.3 267.9h.5M504.2 256.4h.5M508.7 263.2h.5M507.7 256.4h.5M505.3 270.3h.5M512.2 266.0h.5M503.4 262.8h.5M507.2 260.9h.5M501.1 272.5h.5M501.0 268.2h.5M506.1 262.7h.5M510.2 246.4h.5M500.7 257.3h.5M496.5 253.1h.5M503.1 255.6h.5" stroke="#e84848" stroke-width="0.5" opacity="0.5"/>
<path d="M535.7 262.0 535.8 262.6 536.5 263.4 535.5 264.1 533.0 264.5 530.9 265.1 527.8 265.0 525.0 264.9 522.7 264.5 520.3 264.5 518.4 264.1 515.3 263.9 512.9 263.5 512.5 262.7 512.3 262.0 512.2 261.3 514.0 260.7 516.3 260.3 518.8 260.0 520.1 259.5 522.5 259.2 525.0 258.7 527.9 258.8 531.1 258.9 533.2 259.4 534.3 260.2 534.6 260.8 535.3 261.4ZM534.0 262.0 532.7 262.4 531.9 262.8 530.8 263.2 529.7 263.5 528.5 263.8 527.0 264.1 525.0 264.3 523.0 264.2 521.0 264.1 520.1 263.5 519.2 263.2 518.0 262.8 517.5 262.4 516.6 262.0 516.9 261.5 516.5 261.0 517.8 260.6 519.2 260.2 521.5 260.2 523.2 260.0 525.0 260.1 526.7 260.2 528.4 260.2 530.3 260.3 531.7 260.7 533.0 261.0 533.5 261.5ZM529.9 262.0 530.0 262.3 529.3 262.5 528.7 262.7 527.7 262.8 527.0 263.0 526.0 263.1 525.0 263.1 523.9 263.2 522.7 263.2 521.7 263.0 521.1 262.8 520.6 262.5 520.6 262.3 520.5 262.0 520.7 261.8 521.1 261.5 521.4 261.3 522.0 261.1 522.8 260.9 523.9 260.8 525.0 260.8 526.1 260.8 526.8 261.1 527.6 261.2 528.6 261.3 529.2 261.5 529.5 261.7Z" fill="none" stroke="#48d048" stroke-width="0.4" opacity="0.3"/>
<path d="M514.5 264.4h.5M515.3 264.0h.5M523.5 263.8h.5M520.6 261.9h.5M518.6 259.9h.5M538.5 264.4h.5M506.1 263.8h.5M514.2 262.8h.5M512.7 260.2h.5M537.8 261.9h.5M511.4 262.2h.5M518.3 263.9h.5M531.5 261.2h.5M527.6 261.7h.5M528.8 261.8h.5" stroke="#48d048" stroke-width="0.5" opacity="0.5"/>
<path d="M516.4,206.5 L516.4,281.3 M484.0,254.9 L559.0,254.9" stroke="#222" stroke-width="0.8"/>
<ellipse cx="519.9" cy="330.8" rx="11.88" ry="7.60" fill="#3c3ce8" opacity="0.22" transform="rotate(0 519.9 330.8)" filter="url(#bl2)"/>
<path d="M531.9 330.8 531.4 332.5 529.9 333.9 528.6 335.2 527.5 336.9 525.4 338.1 522.9 339.1 519.9 339.9 517.0 338.9 514.4 338.1 512.4 336.8 511.1 335.3 509.4 334.0 508.0 332.5 506.9 330.8 506.3 328.8 506.9 326.8 509.4 325.4 511.7 324.2 514.9 324.2 517.4 323.8 519.9 324.0 522.4 323.8 525.3 323.7 528.2 324.2 530.5 325.4 532.7 326.9 532.9 328.9ZM533.0 330.8 531.9 332.5 529.6 333.8 528.0 334.9 526.3 335.9 524.1 336.4 522.3 337.4 519.9 338.1 517.1 338.5 514.3 338.2 512.5 336.8 510.9 335.4 510.0 333.8 509.6 332.3 509.4 330.8 509.3 329.3 509.4 327.6 510.5 326.0 511.9 324.4 514.6 323.8 517.3 323.4 519.9 324.0 522.3 324.1 524.2 325.1 526.5 325.5 528.2 326.6 531.0 327.4 532.4 329.0ZM531.5 330.8 530.4 332.3 529.1 333.6 527.0 334.4 525.8 335.6 523.6 335.8 521.9 336.5 519.9 337.4 517.4 337.7 515.0 337.3 513.2 336.2 511.4 335.1 511.1 333.5 510.9 332.1 510.9 330.8 511.1 329.5 511.3 328.1 511.3 326.4 513.1 325.3 515.3 324.7 517.5 324.0 519.9 324.1 522.0 324.8 524.0 325.4 525.4 326.4 527.5 326.9 529.0 328.0 530.3 329.3ZM527.7 330.8 528.2 332.0 528.4 333.4 527.6 334.7 526.2 335.9 524.0 336.2 522.0 336.7 519.9 336.4 518.1 335.9 516.5 335.3 514.5 335.1 512.8 334.4 511.0 333.5 510.2 332.2 509.9 330.8 511.2 329.5 512.1 328.4 513.4 327.5 515.0 326.9 516.5 326.3 518.0 325.5 519.9 325.0 522.0 324.9 524.0 325.3 525.7 326.1 526.9 327.2 527.1 328.6 527.4 329.7ZM528.1 330.8 527.5 331.9 527.0 333.0 525.4 333.6 524.4 334.4 523.0 334.9 521.6 335.6 519.9 336.0 518.0 336.0 516.2 335.7 514.8 334.9 513.7 334.0 513.5 332.8 513.1 331.8 512.8 330.8 512.7 329.7 512.6 328.5 513.7 327.6 514.6 326.6 516.2 325.9 518.1 325.9 519.9 326.1 521.5 326.3 523.1 326.6 524.1 327.4 525.7 327.8 527.1 328.6 527.7 329.7ZM526.6 330.8 526.3 331.7 526.0 332.7 525.3 333.5 524.1 334.2 522.7 334.6 521.2 334.5 519.9 334.4 518.6 334.5 517.1 334.6 515.6 334.3 514.3 333.6 513.6 332.7 513.5 331.7 513.2 330.8 514.3 330.0 514.6 329.2 515.2 328.4 515.9 327.6 516.9 326.8 518.4 326.6 519.9 326.4 521.5 326.4 522.7 327.1 523.7 327.8 524.5 328.5 525.2 329.2 526.1 329.9ZM525.2 330.8 525.2 331.6 524.2 332.1 523.5 332.6 522.8 333.1 522.0 333.6 521.1 334.1 519.9 334.2 518.6 334.5 517.4 334.1 516.7 333.4 516.0 332.8 515.4 332.2 515.2 331.5 515.0 330.8 514.6 330.0 514.7 329.2 515.4 328.5 516.3 327.9 517.4 327.5 518.8 327.7 519.9 327.7 521.0 327.8 522.1 327.9 523.0 328.3 524.2 328.6 524.9 329.3 525.3 330.0ZM523.8 330.8 524.1 331.4 523.7 332.0 523.3 332.6 522.6 333.0 521.7 333.2 520.8 333.2 519.9 333.2 519.1 333.0 518.2 333.0 517.4 332.8 516.7 332.5 516.0 332.0 515.8 331.4 515.8 330.8 516.1 330.2 516.5 329.7 517.1 329.4 517.4 328.8 518.2 328.6 519.0 328.2 519.9 328.0 520.8 328.2 521.7 328.5 522.4 328.8 522.7 329.4 523.3 329.8 523.7 330.2ZM522.4 330.8 522.4 331.2 522.2 331.5 522.1 331.9 521.7 332.2 521.2 332.6 520.6 332.7 519.9 332.5 519.3 332.5 518.8 332.2 518.2 332.1 517.8 331.9 517.4 331.6 517.1 331.2 517.0 330.8 516.9 330.4 517.4 330.0 517.7 329.7 518.3 329.5 518.8 329.4 519.3 329.2 519.9 329.0 520.6 329.0 521.1 329.2 521.8 329.3 522.2 329.6 522.4 330.0 522.5 330.4ZM521.6 330.8 521.6 331.0 521.4 331.3 521.1 331.4 520.8 331.5 520.5 331.6 520.2 331.8 519.9 331.8 519.5 331.8 519.2 331.8 518.9 331.6 518.6 331.5 518.5 331.2 518.4 331.0 518.4 330.8 518.5 330.6 518.5 330.4 518.7 330.2 518.9 330.0 519.2 329.8 519.5 329.7 519.9 329.8 520.2 329.9 520.6 329.9 520.8 330.1 521.1 330.2 521.3 330.4 521.5 330.6Z" fill="none" stroke="#3c3ce8" stroke-width="0.4" opacity="0.5"/>
<path d="M520.2 327.9h.5M523.8 326.3h.5M517.2 324.4h.5M500.8 338.8h.5M507.3 329.4h.5M516.0 333.5h.5M514.7 325.8h.5M515.3 326.8h.5M528.1 329.1h.5M515.5 330.0h.5M515.4 336.7h.5M514.2 328.7h.5M514.5 333.6h.5M518.0 326.3h.5M520.1 321.5h.5M518.6 320.0h.5M518.3 330.1h.5M523.7 338.9h.5M526.8 335.3h.5M535.2 331.6h.5M516.0 334.4h.5M518.9 331.2h.5M527.1 327.1h.5M525.1 325.8h.5M523.7 339.3h.5M518.8 326.2h.5M510.6 335.5h.5M530.1 330.5h.5M521.1 327.9h.5M507.3 325.5h.5M522.2 329.6h.5M532.8 337.3h.5M515.7 335.2h.5M518.0 330.4h.5M520.5 328.5h.5M511.3 332.7h.5M512.2 329.7h.5M517.2 333.8h.5M522.1 331.5h.5M521.5 330.2h.5" stroke="#3c3ce8" stroke-width="0.5" opacity="0.5"/>
<ellipse cx="516" cy="343" rx="20.90" ry="7.12" fill="#e84848" opacity="0.15" transform="rotate(0 516 343)" filter="url(#bl2)"/>
<path d="M540.1 343.0 540.9 344.9 537.3 346.5 533.6 347.8 529.3 348.7 524.2 348.8 520.1 349.2 516.0 349.9 511.1 350.3 506.2 350.0 501.3 349.3 497.1 348.1 495.7 346.3 495.0 344.6 496.1 343.0 497.2 341.5 498.1 340.1 498.8 338.3 501.7 336.9 505.8 335.8 510.4 334.7 516.0 335.2 521.1 335.3 524.7 336.8 528.8 337.5 531.8 338.7 534.3 340.0 537.1 341.4ZM533.0 343.0 532.8 344.3 533.4 345.9 532.0 347.3 528.7 348.4 525.1 349.4 520.6 349.9 516.0 349.5 512.1 348.9 508.8 348.1 505.6 347.5 501.2 347.0 497.6 346.0 495.2 344.6 494.8 343.0 494.6 341.3 497.3 339.9 501.4 339.0 505.5 338.5 508.7 337.8 512.0 337.1 516.0 336.2 520.5 336.2 525.5 336.3 529.5 337.2 531.3 338.8 532.2 340.3 533.5 341.6ZM531.4 343.0 531.2 344.2 530.6 345.4 528.7 346.5 527.1 347.7 523.6 348.4 519.9 348.9 516.0 349.0 512.5 348.2 509.0 348.0 507.2 346.8 503.5 346.4 500.6 345.5 498.7 344.3 497.7 343.0 498.3 341.6 500.1 340.4 502.6 339.4 506.4 338.9 509.2 338.2 512.5 337.8 516.0 337.6 519.6 337.6 523.6 337.6 527.5 338.1 530.7 339.0 531.0 340.5 532.1 341.7ZM528.4 343.0 528.6 344.0 529.0 345.1 527.6 346.2 525.4 347.0 522.9 347.9 519.4 348.1 516.0 347.6 513.2 347.1 510.2 347.1 508.1 346.4 505.0 346.0 502.3 345.2 500.7 344.2 500.1 343.0 501.6 341.9 503.7 341.0 505.7 340.2 508.4 339.7 510.6 339.2 512.9 338.4 516.0 338.2 519.2 338.2 522.9 338.1 525.1 339.1 527.4 339.9 527.8 341.1 529.0 342.0ZM529.0 343.0 528.2 343.9 526.1 344.7 524.4 345.3 522.4 345.7 520.7 346.3 518.4 346.6 516.0 346.9 513.2 347.2 510.7 346.8 508.2 346.3 507.0 345.5 506.2 344.6 505.6 343.8 506.2 343.0 506.1 342.2 505.7 341.3 506.8 340.5 508.0 339.6 510.8 339.3 513.4 339.1 516.0 339.0 518.3 339.6 520.5 339.8 522.2 340.3 524.7 340.6 526.7 341.2 528.3 342.0ZM524.5 343.0 524.5 343.7 524.6 344.4 523.1 344.9 522.0 345.5 520.1 345.9 517.9 345.8 516.0 345.7 514.2 345.7 512.4 345.5 510.7 345.3 508.8 345.0 507.6 344.4 507.0 343.7 506.4 343.0 507.4 342.3 508.4 341.7 509.5 341.2 511.2 340.9 512.2 340.3 514.0 340.1 516.0 340.0 518.1 339.9 519.9 340.3 521.3 340.7 522.7 341.2 523.2 341.8 523.8 342.4ZM522.6 343.0 522.4 343.5 521.8 343.9 520.6 344.2 519.6 344.5 518.5 344.8 517.3 345.0 516.0 345.1 514.6 345.1 513.0 345.1 512.0 344.7 511.1 344.3 510.7 343.9 510.7 343.4 510.6 343.0 510.3 342.6 510.6 342.1 511.1 341.7 511.8 341.2 513.2 341.0 514.5 340.8 516.0 340.8 517.3 341.0 518.3 341.3 519.7 341.4 520.4 341.8 521.6 342.1 522.3 342.5ZM519.2 343.0 519.3 343.3 518.9 343.5 518.6 343.7 518.3 344.0 517.6 344.1 516.8 344.2 516.0 344.2 515.2 344.1 514.6 344.0 514.0 343.8 513.4 343.7 513.0 343.5 512.5 343.3 512.3 343.0 512.3 342.7 513.0 342.5 513.3 342.3 514.0 342.1 514.6 342.0 515.3 341.9 516.0 341.9 516.8 341.8 517.5 341.9 518.3 342.0 518.7 342.3 519.1 342.5 519.2 342.7Z" fill="none" stroke="#e84848" stroke-width="0.4" opacity="0.5"/>
<path d="M483.9 343.0h.5M532.0 348.9h.5M514.3 353.6h.5M527.4 346.5h.5M519.3 340.6h.5M496.6 334.5h.5M540.6 340.6h.5M532.1 337.5h.5M522.7 336.8h.5M524.3 352.8h.5M499.4 339.7h.5M526.2 349.1h.5M550.9 341.3h.5M521.2 344.3h.5M537.3 342.0h.5M498.8 343.7h.5M523.2 342.5h.5M502.5 336.7h.5M510.2 343.6h.5M500.9 342.0h.5M519.3 345.1h.5M510.1 345.9h.5M534.1 339.2h.5M522.0 346.7h.5M519.7 343.6h.5M507.6 343.0h.5M520.0 345.6h.5M523.2 344.5h.5M517.8 341.8h.5M517.7 344.9h.5M511.7 338.9h.5M525.5 335.8h.5M519.1 349.9h.5M509.5 347.4h.5M520.3 345.4h.5M512.9 349.3h.5M514.9 340.9h.5M526.5 347.1h.5M504.7 342.5h.5M515.8 342.6h.5" stroke="#e84848" stroke-width="0.5" opacity="0.5"/>
<ellipse cx="510" cy="344" rx="14.25" ry="7.12" fill="#48d048" opacity="0.2" transform="rotate(0 510 344)" filter="url(#bl2)"/>
<path d="M525.7 344.0 526.6 345.9 525.6 347.8 522.7 349.1 519.9 350.2 516.4 350.6 513.1 350.7 510.0 350.7 506.9 350.8 503.3 351.0 500.0 350.3 496.5 349.4 495.7 347.5 494.0 345.8 494.8 344.0 496.4 342.5 497.7 341.0 498.9 339.6 500.9 338.3 503.2 336.9 506.4 336.1 510.0 335.9 513.5 336.4 516.9 336.9 519.1 338.3 520.0 340.0 522.1 341.1 523.6 342.4ZM524.4 344.0 523.8 345.6 521.4 346.7 519.3 347.7 517.2 348.5 515.4 349.6 512.7 350.0 510.0 350.7 506.7 351.2 503.6 350.7 501.4 349.4 499.1 348.4 498.4 346.8 498.1 345.4 498.7 344.0 497.7 342.6 498.0 341.1 498.6 339.5 501.0 338.4 503.6 337.3 507.1 337.5 510.0 337.7 512.5 338.5 515.1 338.7 517.8 339.1 520.3 339.9 522.6 341.0 523.9 342.4ZM520.1 344.0 519.4 345.1 519.1 346.2 519.2 347.7 517.8 348.9 515.3 349.5 512.8 350.2 510.0 349.9 507.5 349.5 505.5 348.7 503.3 348.2 501.5 347.4 500.4 346.3 498.7 345.3 497.5 344.0 498.0 342.6 498.8 341.3 501.3 340.5 503.3 339.8 505.4 339.3 507.7 338.9 510.0 338.4 512.5 338.5 515.6 338.2 517.8 339.1 519.7 340.1 520.1 341.6 520.9 342.8ZM520.6 344.0 520.3 345.2 519.3 346.2 517.4 347.0 515.6 347.5 513.7 347.9 511.9 348.1 510.0 348.3 507.9 348.7 505.5 348.7 503.6 348.0 502.1 347.1 500.6 346.3 500.9 345.0 500.8 344.0 501.1 343.0 502.2 342.1 502.5 341.0 504.0 340.2 505.4 339.2 507.7 339.1 510.0 339.0 512.2 339.2 514.0 339.8 515.5 340.5 516.6 341.4 517.8 342.1 519.8 342.9ZM516.8 344.0 516.7 344.8 516.3 345.5 515.9 346.4 515.0 347.1 513.8 348.0 511.9 348.3 510.0 348.2 508.2 347.9 506.7 347.4 505.7 346.7 504.6 346.1 503.3 345.6 502.0 344.9 501.4 344.0 502.1 343.1 502.7 342.2 503.9 341.6 505.5 341.2 506.9 340.8 508.4 340.4 510.0 340.4 511.7 340.2 513.6 340.3 515.1 340.8 516.6 341.4 517.5 342.2 517.4 343.1ZM516.2 344.0 516.2 344.7 515.4 345.3 514.7 345.9 513.4 346.1 512.4 346.5 511.2 346.7 510.0 347.0 508.6 347.0 507.2 346.9 505.8 346.6 504.9 346.0 504.5 345.3 504.7 344.6 504.3 344.0 504.9 343.4 504.6 342.7 505.0 342.0 505.9 341.4 507.1 341.0 508.6 340.9 510.0 340.8 511.3 341.1 512.4 341.5 513.3 341.9 514.5 342.2 515.2 342.7 515.9 343.3ZM514.6 344.0 514.5 344.5 513.9 344.9 513.5 345.4 512.5 345.5 511.7 345.7 510.9 345.9 510.0 346.0 509.0 346.1 508.1 346.0 507.2 345.7 506.4 345.4 505.9 345.0 506.0 344.5 506.1 344.0 506.4 343.6 506.6 343.2 506.7 342.7 507.5 342.4 508.2 342.1 509.0 341.8 510.0 341.7 511.0 341.9 511.7 342.3 512.4 342.5 513.2 342.7 513.5 343.2 514.2 343.5ZM512.1 344.0 512.1 344.2 512.2 344.5 511.8 344.7 511.5 344.9 511.1 345.1 510.6 345.2 510.0 345.2 509.5 345.1 509.1 345.0 508.6 344.9 508.2 344.7 507.8 344.5 507.5 344.3 507.6 344.0 507.6 343.7 507.9 343.5 508.2 343.3 508.6 343.1 509.1 343.0 509.5 342.9 510.0 342.8 510.5 342.8 511.1 342.9 511.5 343.0 511.8 343.3 512.1 343.5 512.1 343.8Z" fill="none" stroke="#48d048" stroke-width="0.4" opacity="0.6"/>
<path d="M501.8 348.0h.5M500.9 340.0h.5M499.0 339.9h.5M514.7 339.8h.5M507.3 339.2h.5M503.0 347.8h.5M508.8 344.1h.5M521.4 338.6h.5M504.4 343.1h.5M517.0 341.5h.5M497.7 352.3h.5M510.0 345.6h.5M512.6 342.2h.5M499.8 341.0h.5M504.5 348.8h.5M507.9 339.7h.5M512.5 345.7h.5M520.8 346.1h.5M509.3 346.4h.5M527.3 346.8h.5M521.0 346.8h.5M511.5 341.6h.5M521.8 347.8h.5M527.7 345.2h.5M494.6 349.9h.5M504.0 342.4h.5M517.1 337.8h.5M528.1 338.6h.5M509.2 339.5h.5M517.8 341.5h.5M510.5 349.2h.5M511.0 345.6h.5M506.4 345.8h.5M507.3 339.8h.5M502.1 352.0h.5M505.0 341.7h.5M513.4 347.0h.5M506.6 341.1h.5M503.9 347.0h.5M511.8 331.2h.5" stroke="#48d048" stroke-width="0.5" opacity="0.5"/>
<path d="M516.4,287.9 L516.4,363.2 M484.0,336.4 L559.0,336.4" stroke="#222" stroke-width="0.8"/>
<text x="11.60" y="250.70" font-size="12.8" text-anchor="middle" fill="#222" stroke="#222" stroke-width="0.18" transform="rotate(-90 11.60 250.70)">MAIT</text>
<text x="11.60" y="323.40" font-size="12.8" text-anchor="middle" fill="#222" stroke="#222" stroke-width="0.18" transform="rotate(-90 11.60 323.40)">iNKT</text>
<text x="43.20" y="247.20" font-size="10.4" text-anchor="middle" fill="#222" stroke="#222" stroke-width="0.18" transform="rotate(-90 43.20 247.20)" textLength="68.3" lengthAdjust="spacingAndGlyphs">5-OP-RU-MR1</text>
<text x="55.40" y="247.60" font-size="10.4" text-anchor="middle" fill="#222" stroke="#222" stroke-width="0.18" transform="rotate(-90 55.40 247.60)" textLength="67.2" lengthAdjust="spacingAndGlyphs">-PE (enriched)</text>
<text x="42.80" y="331.50" font-size="10.4" text-anchor="middle" fill="#222" stroke="#222" stroke-width="0.18" transform="rotate(-90 42.80 331.50)">PBS57-CD1d</text>
<text x="54.80" y="325.40" font-size="10.4" text-anchor="middle" fill="#222" stroke="#222" stroke-width="0.18" transform="rotate(-90 54.80 325.40)" textLength="74.8" lengthAdjust="spacingAndGlyphs">-APC (enriched)</text>
<text x="96.50" y="377.80" font-size="10.4" text-anchor="middle" fill="#222" stroke="#222" stroke-width="0.18" textLength="68.5" lengthAdjust="spacingAndGlyphs">CD3&#949;-BUV395</text>
<text x="158.70" y="329.00" font-size="10.4" text-anchor="middle" fill="#222" stroke="#222" stroke-width="0.18" transform="rotate(-90 158.70 329.00)" textLength="66.5" lengthAdjust="spacingAndGlyphs">CD161-BV650</text>
<text x="213.00" y="378.00" font-size="10.4" text-anchor="middle" fill="#222" stroke="#222" stroke-width="0.18">CD27-PerCP-Cy5.5</text>
<text x="276.60" y="329.00" font-size="10.4" text-anchor="middle" fill="#222" stroke="#222" stroke-width="0.18" transform="rotate(-90 276.60 329.00)" textLength="66.5" lengthAdjust="spacingAndGlyphs">CD4-APC-Cy7</text>
<text x="314.40" y="378.00" font-size="10.4" text-anchor="middle" fill="#222" stroke="#222" stroke-width="0.18" textLength="61.3" lengthAdjust="spacingAndGlyphs">CD8&#945;-AF700</text>
<text x="376.40" y="333.40" font-size="10.4" text-anchor="middle" fill="#222" stroke="#222" stroke-width="0.18" transform="rotate(-90 376.40 333.40)" textLength="57.8" lengthAdjust="spacingAndGlyphs">ROR&#947;t-FITC</text>
<text x="416.50" y="378.00" font-size="10.4" text-anchor="middle" fill="#222" stroke="#222" stroke-width="0.18" textLength="65.6" lengthAdjust="spacingAndGlyphs">TBET-PE-Cy7</text>
<text x="475.40" y="329.90" font-size="10.4" text-anchor="middle" fill="#222" stroke="#222" stroke-width="0.18" transform="rotate(-90 475.40 329.90)" textLength="64.8" lengthAdjust="spacingAndGlyphs">TBET-PE-Cy7</text>
<text x="513.30" y="378.00" font-size="10.4" text-anchor="middle" fill="#222" stroke="#222" stroke-width="0.18" textLength="60.5" lengthAdjust="spacingAndGlyphs">PLZF-PE-TR</text>
<text x="566.90" y="273.10" font-size="12.3" text-anchor="start" fill="#4fc46e" stroke="#4fc46e" stroke-width="0.18" textLength="116.3" lengthAdjust="spacingAndGlyphs">St1 (CD27<tspan dy="-4.2" font-size="8.5">&#8211;</tspan><tspan dy="4.2">CD161</tspan><tspan dy="-4.2" font-size="8.5">&#8211;</tspan><tspan dy="4.2">)</tspan></text>
<text x="566.90" y="288.80" font-size="12.3" text-anchor="start" fill="#ee2a2a" stroke="#ee2a2a" stroke-width="0.18" textLength="116.3" lengthAdjust="spacingAndGlyphs">St2 (CD27<tspan dy="-4.2" font-size="8.5">+</tspan><tspan dy="4.2">CD161</tspan><tspan dy="-4.2" font-size="8.5">&#8211;</tspan><tspan dy="4.2">)</tspan></text>
<text x="566.90" y="304.30" font-size="12.3" text-anchor="start" fill="#5555ee" stroke="#5555ee" stroke-width="0.18" textLength="78.0" lengthAdjust="spacingAndGlyphs">St3 (CD161<tspan dy="-4.2" font-size="8.5">+</tspan><tspan dy="4.2">)</tspan></text>
<text x="12.60" y="413.00" font-size="12" text-anchor="start" font-weight="bold" fill="#000">c</text>
<text x="12.60" y="560.80" font-size="12" text-anchor="start" font-weight="bold" fill="#000">d</text>
<text x="65.60" y="517.92" font-size="5.9" text-anchor="end" font-weight="bold" fill="#111" textLength="3.54" lengthAdjust="spacingAndGlyphs">0</text>
<text x="65.60" y="499.32" font-size="5.9" text-anchor="end" font-weight="bold" fill="#111" textLength="10.63" lengthAdjust="spacingAndGlyphs">500</text>
<text x="65.60" y="480.72" font-size="5.9" text-anchor="end" font-weight="bold" fill="#111" textLength="14.17" lengthAdjust="spacingAndGlyphs">1000</text>
<text x="65.60" y="462.12" font-size="5.9" text-anchor="end" font-weight="bold" fill="#111" textLength="14.17" lengthAdjust="spacingAndGlyphs">1500</text>
<text x="65.60" y="443.52" font-size="5.9" text-anchor="end" font-weight="bold" fill="#111" textLength="14.17" lengthAdjust="spacingAndGlyphs">2000</text>
<text x="70.00" y="526.60" font-size="5.9" text-anchor="middle" font-weight="bold" fill="#111" textLength="12.06" lengthAdjust="spacingAndGlyphs">0.01</text>
<text x="98.10" y="526.60" font-size="5.9" text-anchor="middle" font-weight="bold" fill="#111" textLength="8.61" lengthAdjust="spacingAndGlyphs">0.1</text>
<text x="126.20" y="526.60" font-size="5.9" text-anchor="middle" font-weight="bold" fill="#111" textLength="3.45" lengthAdjust="spacingAndGlyphs">1</text>
<text x="154.30" y="526.60" font-size="5.9" text-anchor="middle" font-weight="bold" fill="#111" textLength="6.89" lengthAdjust="spacingAndGlyphs">10</text>
<text x="182.40" y="526.60" font-size="5.9" text-anchor="middle" font-weight="bold" fill="#111" textLength="10.34" lengthAdjust="spacingAndGlyphs">100</text>
<path d="M70.00,441.40 L70.00,515.80 L182.40,515.80 M70.00,515.80 L67.00,515.80 M70.00,497.20 L67.00,497.20 M70.00,478.60 L67.00,478.60 M70.00,460.00 L67.00,460.00 M70.00,441.40 L67.00,441.40 M70.00,515.80 L70.00,518.80 M78.46,515.80 L78.46,517.60 M83.41,515.80 L83.41,517.60 M86.92,515.80 L86.92,517.60 M89.64,515.80 L89.64,517.60 M91.87,515.80 L91.87,517.60 M93.75,515.80 L93.75,517.60 M95.38,515.80 L95.38,517.60 M96.81,515.80 L96.81,517.60 M98.10,515.80 L98.10,518.80 M106.56,515.80 L106.56,517.60 M111.51,515.80 L111.51,517.60 M115.02,515.80 L115.02,517.60 M117.74,515.80 L117.74,517.60 M119.97,515.80 L119.97,517.60 M121.85,515.80 L121.85,517.60 M123.48,515.80 L123.48,517.60 M124.91,515.80 L124.91,517.60 M126.20,515.80 L126.20,518.80 M134.66,515.80 L134.66,517.60 M139.61,515.80 L139.61,517.60 M143.12,515.80 L143.12,517.60 M145.84,515.80 L145.84,517.60 M148.07,515.80 L148.07,517.60 M149.95,515.80 L149.95,517.60 M151.58,515.80 L151.58,517.60 M153.01,515.80 L153.01,517.60 M154.30,515.80 L154.30,518.80 M162.76,515.80 L162.76,517.60 M167.71,515.80 L167.71,517.60 M171.22,515.80 L171.22,517.60 M173.94,515.80 L173.94,517.60 M176.17,515.80 L176.17,517.60 M178.05,515.80 L178.05,517.60 M179.68,515.80 L179.68,517.60 M181.11,515.80 L181.11,517.60 M182.40,515.80 L182.40,518.80 " stroke="#1a1a1a" stroke-width="1.2" fill="none"/>
<text x="35.11" y="478.00" font-size="6.7" text-anchor="middle" fill="#222" stroke="#222" stroke-width="0.18" transform="rotate(-90 35.11 478.00)" textLength="35" lengthAdjust="spacingAndGlyphs"># MAITcells</text>
<text x="44.01" y="478.00" font-size="6.7" text-anchor="middle" fill="#222" stroke="#222" stroke-width="0.18" transform="rotate(-90 44.01 478.00)" textLength="65" lengthAdjust="spacingAndGlyphs">(per 10<tspan dy="-2" font-size="4.5">9</tspan><tspan dy="2"> </tspan>thymocytes)</text>
<text x="126.40" y="535.30" font-size="6.7" text-anchor="middle" fill="#222" stroke="#222" stroke-width="0.18">Age (y)</text>
<circle cx="87.13" cy="510.65" r="2.3" fill="none" stroke="#333" stroke-width="0.62"/>
<circle cx="89.41" cy="513.49" r="2.3" fill="none" stroke="#333" stroke-width="0.62"/>
<circle cx="104.59" cy="505.52" r="2.3" fill="none" stroke="#333" stroke-width="0.62"/>
<circle cx="104.59" cy="511.97" r="2.3" fill="none" stroke="#333" stroke-width="0.62"/>
<circle cx="104.59" cy="514.82" r="2.3" fill="none" stroke="#333" stroke-width="0.62"/>
<circle cx="109.72" cy="510.65" r="2.3" fill="none" stroke="#333" stroke-width="0.62"/>
<circle cx="110.85" cy="512.92" r="2.3" fill="none" stroke="#333" stroke-width="0.62"/>
<circle cx="115.98" cy="511.97" r="2.3" fill="none" stroke="#333" stroke-width="0.62"/>
<circle cx="121.67" cy="512.54" r="2.3" fill="none" stroke="#333" stroke-width="0.62"/>
<circle cx="127.36" cy="513.49" r="2.3" fill="none" stroke="#333" stroke-width="0.62"/>
<circle cx="133.62" cy="513.11" r="2.3" fill="none" stroke="#333" stroke-width="0.62"/>
<circle cx="139.70" cy="509.32" r="2.3" fill="none" stroke="#333" stroke-width="0.62"/>
<circle cx="142.92" cy="507.42" r="2.3" fill="none" stroke="#333" stroke-width="0.62"/>
<circle cx="143.49" cy="506.85" r="2.3" fill="none" stroke="#333" stroke-width="0.62"/>
<circle cx="145.96" cy="513.49" r="2.3" fill="none" stroke="#333" stroke-width="0.62"/>
<circle cx="151.65" cy="514.06" r="2.3" fill="none" stroke="#333" stroke-width="0.62"/>
<circle cx="152.98" cy="494.52" r="2.3" fill="none" stroke="#333" stroke-width="0.62"/>
<circle cx="155.26" cy="500.78" r="2.3" fill="none" stroke="#333" stroke-width="0.62"/>
<circle cx="156.39" cy="483.70" r="2.3" fill="none" stroke="#333" stroke-width="0.62"/>
<circle cx="158.10" cy="458.84" r="2.3" fill="none" stroke="#333" stroke-width="0.62"/>
<circle cx="158.29" cy="508.18" r="2.3" fill="none" stroke="#333" stroke-width="0.62"/>
<circle cx="166.26" cy="504.57" r="2.3" fill="none" stroke="#333" stroke-width="0.62"/>
<circle cx="169.68" cy="502.11" r="2.3" fill="none" stroke="#333" stroke-width="0.62"/>
<circle cx="175.18" cy="501.16" r="2.3" fill="none" stroke="#333" stroke-width="0.62"/>
<path d="M88.08,510.08 C92.89,510.04 108.96,510.01 116.93,509.89 C124.90,509.76 130.84,509.66 135.90,509.32 C140.96,508.97 144.12,508.37 147.29,507.80 C150.45,507.23 152.35,506.69 154.88,505.90 C157.41,505.11 160.09,504.32 162.47,503.06 C164.84,501.79 166.99,500.52 169.11,498.31 C171.23,496.10 174.17,491.20 175.18,489.77" stroke="#111" stroke-width="1.1" fill="none"/>
<text x="183.70" y="493.00" font-size="10" text-anchor="middle" font-weight="bold" fill="#111">*</text>
<text x="221.60" y="518.22" font-size="5.9" text-anchor="end" font-weight="bold" fill="#111" textLength="3.54" lengthAdjust="spacingAndGlyphs">0</text>
<text x="221.60" y="501.94" font-size="5.9" text-anchor="end" font-weight="bold" fill="#111" textLength="7.09" lengthAdjust="spacingAndGlyphs">20</text>
<text x="221.60" y="485.66" font-size="5.9" text-anchor="end" font-weight="bold" fill="#111" textLength="7.09" lengthAdjust="spacingAndGlyphs">40</text>
<text x="221.60" y="469.38" font-size="5.9" text-anchor="end" font-weight="bold" fill="#111" textLength="7.09" lengthAdjust="spacingAndGlyphs">60</text>
<text x="221.60" y="453.10" font-size="5.9" text-anchor="end" font-weight="bold" fill="#111" textLength="7.09" lengthAdjust="spacingAndGlyphs">80</text>
<text x="221.60" y="436.82" font-size="5.9" text-anchor="end" font-weight="bold" fill="#111" textLength="10.63" lengthAdjust="spacingAndGlyphs">100</text>
<text x="226.00" y="526.90" font-size="5.9" text-anchor="middle" font-weight="bold" fill="#111" textLength="12.06" lengthAdjust="spacingAndGlyphs">0.01</text>
<text x="254.42" y="526.90" font-size="5.9" text-anchor="middle" font-weight="bold" fill="#111" textLength="8.61" lengthAdjust="spacingAndGlyphs">0.1</text>
<text x="282.84" y="526.90" font-size="5.9" text-anchor="middle" font-weight="bold" fill="#111" textLength="3.45" lengthAdjust="spacingAndGlyphs">1</text>
<text x="311.26" y="526.90" font-size="5.9" text-anchor="middle" font-weight="bold" fill="#111" textLength="6.89" lengthAdjust="spacingAndGlyphs">10</text>
<text x="339.68" y="526.90" font-size="5.9" text-anchor="middle" font-weight="bold" fill="#111" textLength="10.34" lengthAdjust="spacingAndGlyphs">100</text>
<path d="M226.00,434.70 L226.00,516.10 L339.68,516.10 M226.00,516.10 L223.00,516.10 M226.00,499.82 L223.00,499.82 M226.00,483.54 L223.00,483.54 M226.00,467.26 L223.00,467.26 M226.00,450.98 L223.00,450.98 M226.00,434.70 L223.00,434.70 M226.00,516.10 L226.00,519.10 M234.56,516.10 L234.56,517.90 M239.56,516.10 L239.56,517.90 M243.11,516.10 L243.11,517.90 M245.86,516.10 L245.86,517.90 M248.12,516.10 L248.12,517.90 M250.02,516.10 L250.02,517.90 M251.67,516.10 L251.67,517.90 M253.12,516.10 L253.12,517.90 M254.42,516.10 L254.42,519.10 M262.98,516.10 L262.98,517.90 M267.98,516.10 L267.98,517.90 M271.53,516.10 L271.53,517.90 M274.28,516.10 L274.28,517.90 M276.54,516.10 L276.54,517.90 M278.44,516.10 L278.44,517.90 M280.09,516.10 L280.09,517.90 M281.54,516.10 L281.54,517.90 M282.84,516.10 L282.84,519.10 M291.40,516.10 L291.40,517.90 M296.40,516.10 L296.40,517.90 M299.95,516.10 L299.95,517.90 M302.70,516.10 L302.70,517.90 M304.96,516.10 L304.96,517.90 M306.86,516.10 L306.86,517.90 M308.51,516.10 L308.51,517.90 M309.96,516.10 L309.96,517.90 M311.26,516.10 L311.26,519.10 M319.82,516.10 L319.82,517.90 M324.82,516.10 L324.82,517.90 M328.37,516.10 L328.37,517.90 M331.12,516.10 L331.12,517.90 M333.38,516.10 L333.38,517.90 M335.28,516.10 L335.28,517.90 M336.93,516.10 L336.93,517.90 M338.38,516.10 L338.38,517.90 M339.68,516.10 L339.68,519.10 " stroke="#1a1a1a" stroke-width="1.2" fill="none"/>
<text x="207.31" y="475.70" font-size="6.7" text-anchor="middle" fill="#222" stroke="#222" stroke-width="0.18" transform="rotate(-90 207.31 475.70)" textLength="47" lengthAdjust="spacingAndGlyphs">% of MAIT cells</text>
<text x="282.30" y="534.70" font-size="6.7" text-anchor="middle" fill="#222" stroke="#222" stroke-width="0.18">Age (y)</text>
<text x="259.50" y="420.60" font-size="10.9" text-anchor="start" fill="#58d27c" stroke="#58d27c" stroke-width="0.18">St1</text>
<text x="278.10" y="420.60" font-size="10.9" text-anchor="start" fill="#ee3b3b" stroke="#ee3b3b" stroke-width="0.18">St2</text>
<text x="297.20" y="420.60" font-size="10.9" text-anchor="start" fill="#5656ee" stroke="#5656ee" stroke-width="0.18">St3</text>
<path d="M242.62,472.44 C248.33,472.52 267.85,472.31 276.87,472.93 C285.89,473.56 291.35,474.88 296.73,476.16 C302.10,477.44 305.41,478.44 309.14,480.63 C312.86,482.82 316.17,486.21 319.06,489.32 C321.96,492.42 324.24,495.52 326.51,499.24 C328.79,502.97 331.68,509.59 332.72,511.65" stroke="#ee3b3b" stroke-width="1.0" fill="none"/>
<path d="M242.62,493.78 C248.33,493.87 268.27,494.07 276.87,494.28 C285.47,494.49 289.28,494.40 294.24,495.02 C299.21,495.65 302.52,496.47 306.65,498.00 C310.79,499.53 315.55,502.14 319.06,504.21 C322.58,506.28 325.48,508.84 327.75,510.41 C330.03,511.99 331.89,513.10 332.72,513.64" stroke="#58d27c" stroke-width="1.0" fill="none"/>
<path d="M242.62,502.22 C249.57,501.97 274.88,501.85 284.32,500.73 C293.75,499.62 295.07,497.63 299.21,495.52 C303.34,493.41 305.83,491.59 309.14,488.08 C312.45,484.56 316.17,479.39 319.06,474.42 C321.96,469.46 324.24,463.88 326.51,458.29 C328.79,452.71 331.68,443.81 332.72,440.92" stroke="#5656ee" stroke-width="1.0" fill="none"/>
<circle cx="242.62" cy="464.50" r="2.2" fill="#ee3535" stroke="#333" stroke-width="0.45"/>
<circle cx="245.85" cy="463.26" r="2.2" fill="#ee3535" stroke="#333" stroke-width="0.45"/>
<circle cx="260.74" cy="451.59" r="2.2" fill="#ee3535" stroke="#333" stroke-width="0.45"/>
<circle cx="260.74" cy="457.79" r="2.2" fill="#ee3535" stroke="#333" stroke-width="0.45"/>
<circle cx="260.74" cy="471.94" r="2.2" fill="#ee3535" stroke="#333" stroke-width="0.45"/>
<circle cx="260.74" cy="480.13" r="2.2" fill="#ee3535" stroke="#333" stroke-width="0.45"/>
<circle cx="264.46" cy="471.94" r="2.2" fill="#ee3535" stroke="#333" stroke-width="0.45"/>
<circle cx="265.20" cy="478.40" r="2.2" fill="#ee3535" stroke="#333" stroke-width="0.45"/>
<circle cx="268.93" cy="471.69" r="2.2" fill="#ee3535" stroke="#333" stroke-width="0.45"/>
<circle cx="271.91" cy="460.03" r="2.2" fill="#ee3535" stroke="#333" stroke-width="0.45"/>
<circle cx="277.37" cy="455.31" r="2.2" fill="#ee3535" stroke="#333" stroke-width="0.45"/>
<circle cx="274.39" cy="495.02" r="2.2" fill="#ee3535" stroke="#333" stroke-width="0.45"/>
<circle cx="289.78" cy="478.40" r="2.2" fill="#ee3535" stroke="#333" stroke-width="0.45"/>
<circle cx="296.23" cy="463.50" r="2.2" fill="#ee3535" stroke="#333" stroke-width="0.45"/>
<circle cx="299.70" cy="488.32" r="2.2" fill="#ee3535" stroke="#333" stroke-width="0.45"/>
<circle cx="312.36" cy="485.10" r="2.2" fill="#ee3535" stroke="#333" stroke-width="0.45"/>
<circle cx="313.36" cy="475.67" r="2.2" fill="#ee3535" stroke="#333" stroke-width="0.45"/>
<circle cx="323.28" cy="486.83" r="2.2" fill="#ee3535" stroke="#333" stroke-width="0.45"/>
<circle cx="332.47" cy="500.98" r="2.2" fill="#ee3535" stroke="#333" stroke-width="0.45"/>
<circle cx="326.51" cy="513.39" r="2.2" fill="#ee3535" stroke="#333" stroke-width="0.45"/>
<circle cx="309.63" cy="514.88" r="2.2" fill="#ee3535" stroke="#333" stroke-width="0.45"/>
<circle cx="242.62" cy="507.19" r="2.2" fill="#5151ee" stroke="#333" stroke-width="0.45"/>
<circle cx="245.85" cy="504.21" r="2.2" fill="#5151ee" stroke="#333" stroke-width="0.45"/>
<circle cx="260.49" cy="499.24" r="2.2" fill="#5151ee" stroke="#333" stroke-width="0.45"/>
<circle cx="260.49" cy="502.22" r="2.2" fill="#5151ee" stroke="#333" stroke-width="0.45"/>
<circle cx="260.49" cy="506.19" r="2.2" fill="#5151ee" stroke="#333" stroke-width="0.45"/>
<circle cx="260.74" cy="509.92" r="2.2" fill="#5151ee" stroke="#333" stroke-width="0.45"/>
<circle cx="265.20" cy="513.64" r="2.2" fill="#5151ee" stroke="#333" stroke-width="0.45"/>
<circle cx="268.93" cy="510.91" r="2.2" fill="#5151ee" stroke="#333" stroke-width="0.45"/>
<circle cx="268.93" cy="501.23" r="2.2" fill="#5151ee" stroke="#333" stroke-width="0.45"/>
<circle cx="271.91" cy="510.91" r="2.2" fill="#5151ee" stroke="#333" stroke-width="0.45"/>
<circle cx="274.39" cy="486.09" r="2.2" fill="#5151ee" stroke="#333" stroke-width="0.45"/>
<circle cx="277.37" cy="512.15" r="2.2" fill="#5151ee" stroke="#333" stroke-width="0.45"/>
<circle cx="283.82" cy="501.23" r="2.2" fill="#5151ee" stroke="#333" stroke-width="0.45"/>
<circle cx="289.78" cy="495.02" r="2.2" fill="#5151ee" stroke="#333" stroke-width="0.45"/>
<circle cx="296.23" cy="512.15" r="2.2" fill="#5151ee" stroke="#333" stroke-width="0.45"/>
<circle cx="299.70" cy="487.58" r="2.2" fill="#5151ee" stroke="#333" stroke-width="0.45"/>
<circle cx="309.88" cy="449.60" r="2.2" fill="#5151ee" stroke="#333" stroke-width="0.45"/>
<circle cx="312.36" cy="475.67" r="2.2" fill="#5151ee" stroke="#333" stroke-width="0.45"/>
<circle cx="313.36" cy="488.82" r="2.2" fill="#5151ee" stroke="#333" stroke-width="0.45"/>
<circle cx="323.28" cy="484.85" r="2.2" fill="#5151ee" stroke="#333" stroke-width="0.45"/>
<circle cx="326.51" cy="437.94" r="2.2" fill="#5151ee" stroke="#333" stroke-width="0.45"/>
<circle cx="332.47" cy="461.27" r="2.2" fill="#5151ee" stroke="#333" stroke-width="0.45"/>
<circle cx="242.62" cy="496.76" r="2.2" fill="#5ccc7a" stroke="#333" stroke-width="0.45"/>
<circle cx="245.85" cy="502.22" r="2.2" fill="#5ccc7a" stroke="#333" stroke-width="0.45"/>
<circle cx="260.74" cy="486.83" r="2.2" fill="#5ccc7a" stroke="#333" stroke-width="0.45"/>
<circle cx="260.74" cy="490.06" r="2.2" fill="#5ccc7a" stroke="#333" stroke-width="0.45"/>
<circle cx="260.74" cy="497.51" r="2.2" fill="#5ccc7a" stroke="#333" stroke-width="0.45"/>
<circle cx="260.74" cy="509.67" r="2.2" fill="#5ccc7a" stroke="#333" stroke-width="0.45"/>
<circle cx="265.20" cy="476.41" r="2.2" fill="#5ccc7a" stroke="#333" stroke-width="0.45"/>
<circle cx="265.20" cy="495.52" r="2.2" fill="#5ccc7a" stroke="#333" stroke-width="0.45"/>
<circle cx="268.93" cy="483.11" r="2.2" fill="#5ccc7a" stroke="#333" stroke-width="0.45"/>
<circle cx="268.93" cy="488.08" r="2.2" fill="#5ccc7a" stroke="#333" stroke-width="0.45"/>
<circle cx="271.91" cy="496.27" r="2.2" fill="#5ccc7a" stroke="#333" stroke-width="0.45"/>
<circle cx="274.39" cy="488.08" r="2.2" fill="#5ccc7a" stroke="#333" stroke-width="0.45"/>
<circle cx="277.37" cy="499.99" r="2.2" fill="#5ccc7a" stroke="#333" stroke-width="0.45"/>
<circle cx="289.78" cy="496.27" r="2.2" fill="#5ccc7a" stroke="#333" stroke-width="0.45"/>
<circle cx="296.23" cy="493.29" r="2.2" fill="#5ccc7a" stroke="#333" stroke-width="0.45"/>
<circle cx="299.70" cy="491.30" r="2.2" fill="#5ccc7a" stroke="#333" stroke-width="0.45"/>
<circle cx="309.63" cy="502.47" r="2.2" fill="#5ccc7a" stroke="#333" stroke-width="0.45"/>
<circle cx="312.36" cy="504.21" r="2.2" fill="#5ccc7a" stroke="#333" stroke-width="0.45"/>
<circle cx="313.36" cy="506.69" r="2.2" fill="#5ccc7a" stroke="#333" stroke-width="0.45"/>
<circle cx="323.28" cy="498.00" r="2.2" fill="#5ccc7a" stroke="#333" stroke-width="0.45"/>
<circle cx="326.51" cy="515.87" r="2.2" fill="#5ccc7a" stroke="#333" stroke-width="0.45"/>
<circle cx="332.47" cy="505.45" r="2.2" fill="#5ccc7a" stroke="#333" stroke-width="0.45"/>
<text x="345.10" y="456.70" font-size="10" text-anchor="middle" font-weight="bold" fill="#5656ee">***</text>
<text x="343.10" y="506.10" font-size="10" text-anchor="middle" font-weight="bold" fill="#ee3b3b">**</text>
<text x="340.90" y="515.00" font-size="10" text-anchor="middle" font-weight="bold" fill="#58d27c">*</text>
<text x="390.80" y="517.52" font-size="5.9" text-anchor="end" font-weight="bold" fill="#111" textLength="3.54" lengthAdjust="spacingAndGlyphs">0</text>
<text x="390.80" y="501.28" font-size="5.9" text-anchor="end" font-weight="bold" fill="#111" textLength="10.63" lengthAdjust="spacingAndGlyphs">100</text>
<text x="390.80" y="485.04" font-size="5.9" text-anchor="end" font-weight="bold" fill="#111" textLength="10.63" lengthAdjust="spacingAndGlyphs">200</text>
<text x="390.80" y="468.80" font-size="5.9" text-anchor="end" font-weight="bold" fill="#111" textLength="10.63" lengthAdjust="spacingAndGlyphs">300</text>
<text x="390.80" y="452.56" font-size="5.9" text-anchor="end" font-weight="bold" fill="#111" textLength="10.63" lengthAdjust="spacingAndGlyphs">400</text>
<text x="390.80" y="436.32" font-size="5.9" text-anchor="end" font-weight="bold" fill="#111" textLength="10.63" lengthAdjust="spacingAndGlyphs">500</text>
<text x="395.20" y="526.20" font-size="5.9" text-anchor="middle" font-weight="bold" fill="#111" textLength="12.06" lengthAdjust="spacingAndGlyphs">0.01</text>
<text x="423.80" y="526.20" font-size="5.9" text-anchor="middle" font-weight="bold" fill="#111" textLength="8.61" lengthAdjust="spacingAndGlyphs">0.1</text>
<text x="452.40" y="526.20" font-size="5.9" text-anchor="middle" font-weight="bold" fill="#111" textLength="3.45" lengthAdjust="spacingAndGlyphs">1</text>
<text x="481.00" y="526.20" font-size="5.9" text-anchor="middle" font-weight="bold" fill="#111" textLength="6.89" lengthAdjust="spacingAndGlyphs">10</text>
<text x="509.60" y="526.20" font-size="5.9" text-anchor="middle" font-weight="bold" fill="#111" textLength="10.34" lengthAdjust="spacingAndGlyphs">100</text>
<path d="M395.20,434.20 L395.20,515.40 L509.60,515.40 M395.20,515.40 L392.20,515.40 M395.20,499.16 L392.20,499.16 M395.20,482.92 L392.20,482.92 M395.20,466.68 L392.20,466.68 M395.20,450.44 L392.20,450.44 M395.20,434.20 L392.20,434.20 M395.20,515.40 L395.20,518.40 M403.81,515.40 L403.81,517.20 M408.85,515.40 L408.85,517.20 M412.42,515.40 L412.42,517.20 M415.19,515.40 L415.19,517.20 M417.46,515.40 L417.46,517.20 M419.37,515.40 L419.37,517.20 M421.03,515.40 L421.03,517.20 M422.49,515.40 L422.49,517.20 M423.80,515.40 L423.80,518.40 M432.41,515.40 L432.41,517.20 M437.45,515.40 L437.45,517.20 M441.02,515.40 L441.02,517.20 M443.79,515.40 L443.79,517.20 M446.06,515.40 L446.06,517.20 M447.97,515.40 L447.97,517.20 M449.63,515.40 L449.63,517.20 M451.09,515.40 L451.09,517.20 M452.40,515.40 L452.40,518.40 M461.01,515.40 L461.01,517.20 M466.05,515.40 L466.05,517.20 M469.62,515.40 L469.62,517.20 M472.39,515.40 L472.39,517.20 M474.66,515.40 L474.66,517.20 M476.57,515.40 L476.57,517.20 M478.23,515.40 L478.23,517.20 M479.69,515.40 L479.69,517.20 M481.00,515.40 L481.00,518.40 M489.61,515.40 L489.61,517.20 M494.65,515.40 L494.65,517.20 M498.22,515.40 L498.22,517.20 M500.99,515.40 L500.99,517.20 M503.26,515.40 L503.26,517.20 M505.17,515.40 L505.17,517.20 M506.83,515.40 L506.83,517.20 M508.29,515.40 L508.29,517.20 M509.60,515.40 L509.60,518.40 " stroke="#1a1a1a" stroke-width="1.2" fill="none"/>
<text x="363.48" y="474.40" font-size="6.9" text-anchor="middle" fill="#222" stroke="#222" stroke-width="0.18" transform="rotate(-90 363.48 474.40)" textLength="37" lengthAdjust="spacingAndGlyphs">Cell number</text>
<text x="372.98" y="474.40" font-size="6.9" text-anchor="middle" fill="#222" stroke="#222" stroke-width="0.18" transform="rotate(-90 372.98 474.40)" textLength="64" lengthAdjust="spacingAndGlyphs">(per 10<tspan dy="-2" font-size="4.5">9</tspan><tspan dy="2"> </tspan>thymocytes)</text>
<text x="452.30" y="534.70" font-size="6.7" text-anchor="middle" fill="#222" stroke="#222" stroke-width="0.18">Age (y)</text>
<text x="430.20" y="420.60" font-size="10.9" text-anchor="start" fill="#58d27c" stroke="#58d27c" stroke-width="0.18">St1</text>
<text x="449.30" y="420.60" font-size="10.9" text-anchor="start" fill="#ee3b3b" stroke="#ee3b3b" stroke-width="0.18">St2</text>
<text x="468.70" y="420.60" font-size="10.9" text-anchor="start" fill="#5656ee" stroke="#5656ee" stroke-width="0.18">St3</text>
<path d="M412.09,504.95 C419.95,504.95 448.90,505.37 459.24,504.95 C469.59,504.54 469.59,503.38 474.14,502.47 C478.69,501.56 482.82,500.40 486.55,499.49 C490.27,498.58 493.91,497.63 496.47,497.01 C499.04,496.39 501.02,495.98 501.93,495.77" stroke="#ee3b3b" stroke-width="1.0" fill="none"/>
<path d="M412.09,509.92 C419.12,509.79 444.77,509.71 454.28,509.17 C463.79,508.63 465.04,508.26 469.17,506.69 C473.31,505.12 476.20,502.55 479.10,499.74 C482.00,496.93 484.06,494.24 486.55,489.81 C489.03,485.39 491.43,479.55 493.99,473.18 C496.56,466.81 500.61,455.19 501.93,451.59" stroke="#5656ee" stroke-width="1.0" fill="none"/>
<path d="M412.09,509.92 C419.95,510.00 448.90,510.54 459.24,510.41 C469.59,510.29 469.59,509.59 474.14,509.17 C478.69,508.76 481.91,508.47 486.55,507.93 C491.18,507.39 499.37,506.28 501.93,505.95" stroke="#58d27c" stroke-width="1.0" fill="none"/>
<circle cx="412.09" cy="501.73" r="2.2" fill="#ee3535" stroke="#333" stroke-width="0.45"/>
<circle cx="415.31" cy="512.15" r="2.2" fill="#ee3535" stroke="#333" stroke-width="0.45"/>
<circle cx="430.20" cy="504.21" r="2.2" fill="#ee3535" stroke="#333" stroke-width="0.45"/>
<circle cx="430.20" cy="511.65" r="2.2" fill="#ee3535" stroke="#333" stroke-width="0.45"/>
<circle cx="434.92" cy="503.46" r="2.2" fill="#ee3535" stroke="#333" stroke-width="0.45"/>
<circle cx="441.37" cy="500.98" r="2.2" fill="#ee3535" stroke="#333" stroke-width="0.45"/>
<circle cx="446.83" cy="504.70" r="2.2" fill="#ee3535" stroke="#333" stroke-width="0.45"/>
<circle cx="459.24" cy="509.67" r="2.2" fill="#ee3535" stroke="#333" stroke-width="0.45"/>
<circle cx="465.95" cy="495.52" r="2.2" fill="#ee3535" stroke="#333" stroke-width="0.45"/>
<circle cx="469.67" cy="502.22" r="2.2" fill="#ee3535" stroke="#333" stroke-width="0.45"/>
<circle cx="479.10" cy="513.64" r="2.2" fill="#ee3535" stroke="#333" stroke-width="0.45"/>
<circle cx="481.58" cy="490.56" r="2.2" fill="#ee3535" stroke="#333" stroke-width="0.45"/>
<circle cx="483.32" cy="444.64" r="2.2" fill="#ee3535" stroke="#333" stroke-width="0.45"/>
<circle cx="493.25" cy="498.00" r="2.2" fill="#ee3535" stroke="#333" stroke-width="0.45"/>
<circle cx="496.47" cy="512.90" r="2.2" fill="#ee3535" stroke="#333" stroke-width="0.45"/>
<circle cx="501.93" cy="502.97" r="2.2" fill="#ee3535" stroke="#333" stroke-width="0.45"/>
<circle cx="412.09" cy="513.39" r="2.2" fill="#5151ee" stroke="#333" stroke-width="0.45"/>
<circle cx="430.20" cy="513.64" r="2.2" fill="#5151ee" stroke="#333" stroke-width="0.45"/>
<circle cx="434.92" cy="514.14" r="2.2" fill="#5151ee" stroke="#333" stroke-width="0.45"/>
<circle cx="439.39" cy="513.64" r="2.2" fill="#5151ee" stroke="#333" stroke-width="0.45"/>
<circle cx="446.83" cy="514.14" r="2.2" fill="#5151ee" stroke="#333" stroke-width="0.45"/>
<circle cx="453.04" cy="513.39" r="2.2" fill="#5151ee" stroke="#333" stroke-width="0.45"/>
<circle cx="465.95" cy="514.14" r="2.2" fill="#5151ee" stroke="#333" stroke-width="0.45"/>
<circle cx="479.10" cy="437.69" r="2.2" fill="#5151ee" stroke="#333" stroke-width="0.45"/>
<circle cx="482.08" cy="482.37" r="2.2" fill="#5151ee" stroke="#333" stroke-width="0.45"/>
<circle cx="483.32" cy="467.72" r="2.2" fill="#5151ee" stroke="#333" stroke-width="0.45"/>
<circle cx="493.25" cy="496.76" r="2.2" fill="#5151ee" stroke="#333" stroke-width="0.45"/>
<circle cx="496.47" cy="457.79" r="2.2" fill="#5151ee" stroke="#333" stroke-width="0.45"/>
<circle cx="501.93" cy="471.20" r="2.2" fill="#5151ee" stroke="#333" stroke-width="0.45"/>
<circle cx="412.09" cy="509.67" r="2.2" fill="#5ccc7a" stroke="#333" stroke-width="0.45"/>
<circle cx="415.31" cy="514.14" r="2.2" fill="#5ccc7a" stroke="#333" stroke-width="0.45"/>
<circle cx="430.20" cy="508.68" r="2.2" fill="#5ccc7a" stroke="#333" stroke-width="0.45"/>
<circle cx="430.20" cy="511.65" r="2.2" fill="#5ccc7a" stroke="#333" stroke-width="0.45"/>
<circle cx="430.20" cy="514.14" r="2.2" fill="#5ccc7a" stroke="#333" stroke-width="0.45"/>
<circle cx="434.92" cy="504.21" r="2.2" fill="#5ccc7a" stroke="#333" stroke-width="0.45"/>
<circle cx="434.92" cy="514.14" r="2.2" fill="#5ccc7a" stroke="#333" stroke-width="0.45"/>
<circle cx="438.15" cy="509.67" r="2.2" fill="#5ccc7a" stroke="#333" stroke-width="0.45"/>
<circle cx="441.37" cy="510.41" r="2.2" fill="#5ccc7a" stroke="#333" stroke-width="0.45"/>
<circle cx="443.11" cy="512.15" r="2.2" fill="#5ccc7a" stroke="#333" stroke-width="0.45"/>
<circle cx="446.83" cy="512.15" r="2.2" fill="#5ccc7a" stroke="#333" stroke-width="0.45"/>
<circle cx="459.24" cy="512.15" r="2.2" fill="#5ccc7a" stroke="#333" stroke-width="0.45"/>
<circle cx="465.95" cy="505.95" r="2.2" fill="#5ccc7a" stroke="#333" stroke-width="0.45"/>
<circle cx="469.67" cy="504.21" r="2.2" fill="#5ccc7a" stroke="#333" stroke-width="0.45"/>
<circle cx="479.10" cy="499.74" r="2.2" fill="#5ccc7a" stroke="#333" stroke-width="0.45"/>
<circle cx="481.58" cy="507.19" r="2.2" fill="#5ccc7a" stroke="#333" stroke-width="0.45"/>
<circle cx="483.32" cy="494.78" r="2.2" fill="#5ccc7a" stroke="#333" stroke-width="0.45"/>
<circle cx="493.25" cy="504.21" r="2.2" fill="#5ccc7a" stroke="#333" stroke-width="0.45"/>
<circle cx="496.47" cy="515.38" r="2.2" fill="#5ccc7a" stroke="#333" stroke-width="0.45"/>
<circle cx="501.93" cy="506.69" r="2.2" fill="#5ccc7a" stroke="#333" stroke-width="0.45"/>
<text x="513.10" y="465.90" font-size="10" text-anchor="middle" font-weight="bold" fill="#5656ee">***</text>
<text x="549.60" y="517.52" font-size="5.9" text-anchor="end" font-weight="bold" fill="#111" textLength="3.54" lengthAdjust="spacingAndGlyphs">0</text>
<text x="549.60" y="501.24" font-size="5.9" text-anchor="end" font-weight="bold" fill="#111" textLength="7.09" lengthAdjust="spacingAndGlyphs">20</text>
<text x="549.60" y="484.96" font-size="5.9" text-anchor="end" font-weight="bold" fill="#111" textLength="7.09" lengthAdjust="spacingAndGlyphs">40</text>
<text x="549.60" y="468.68" font-size="5.9" text-anchor="end" font-weight="bold" fill="#111" textLength="7.09" lengthAdjust="spacingAndGlyphs">60</text>
<text x="549.60" y="452.40" font-size="5.9" text-anchor="end" font-weight="bold" fill="#111" textLength="7.09" lengthAdjust="spacingAndGlyphs">80</text>
<text x="549.60" y="436.12" font-size="5.9" text-anchor="end" font-weight="bold" fill="#111" textLength="10.63" lengthAdjust="spacingAndGlyphs">100</text>
<text x="554.00" y="526.20" font-size="5.9" text-anchor="middle" font-weight="bold" fill="#111" textLength="12.06" lengthAdjust="spacingAndGlyphs">0.01</text>
<text x="582.40" y="526.20" font-size="5.9" text-anchor="middle" font-weight="bold" fill="#111" textLength="8.61" lengthAdjust="spacingAndGlyphs">0.1</text>
<text x="610.80" y="526.20" font-size="5.9" text-anchor="middle" font-weight="bold" fill="#111" textLength="3.45" lengthAdjust="spacingAndGlyphs">1</text>
<text x="639.20" y="526.20" font-size="5.9" text-anchor="middle" font-weight="bold" fill="#111" textLength="6.89" lengthAdjust="spacingAndGlyphs">10</text>
<text x="667.60" y="526.20" font-size="5.9" text-anchor="middle" font-weight="bold" fill="#111" textLength="10.34" lengthAdjust="spacingAndGlyphs">100</text>
<path d="M554.00,434.00 L554.00,515.40 L667.60,515.40 M554.00,515.40 L551.00,515.40 M554.00,499.12 L551.00,499.12 M554.00,482.84 L551.00,482.84 M554.00,466.56 L551.00,466.56 M554.00,450.28 L551.00,450.28 M554.00,434.00 L551.00,434.00 M554.00,515.40 L554.00,518.40 M562.55,515.40 L562.55,517.20 M567.55,515.40 L567.55,517.20 M571.10,515.40 L571.10,517.20 M573.85,515.40 L573.85,517.20 M576.10,515.40 L576.10,517.20 M578.00,515.40 L578.00,517.20 M579.65,515.40 L579.65,517.20 M581.10,515.40 L581.10,517.20 M582.40,515.40 L582.40,518.40 M590.95,515.40 L590.95,517.20 M595.95,515.40 L595.95,517.20 M599.50,515.40 L599.50,517.20 M602.25,515.40 L602.25,517.20 M604.50,515.40 L604.50,517.20 M606.40,515.40 L606.40,517.20 M608.05,515.40 L608.05,517.20 M609.50,515.40 L609.50,517.20 M610.80,515.40 L610.80,518.40 M619.35,515.40 L619.35,517.20 M624.35,515.40 L624.35,517.20 M627.90,515.40 L627.90,517.20 M630.65,515.40 L630.65,517.20 M632.90,515.40 L632.90,517.20 M634.80,515.40 L634.80,517.20 M636.45,515.40 L636.45,517.20 M637.90,515.40 L637.90,517.20 M639.20,515.40 L639.20,518.40 M647.75,515.40 L647.75,517.20 M652.75,515.40 L652.75,517.20 M656.30,515.40 L656.30,517.20 M659.05,515.40 L659.05,517.20 M661.30,515.40 L661.30,517.20 M663.20,515.40 L663.20,517.20 M664.85,515.40 L664.85,517.20 M666.30,515.40 L666.30,517.20 M667.60,515.40 L667.60,518.40 " stroke="#1a1a1a" stroke-width="1.2" fill="none"/>
<text x="536.01" y="474.40" font-size="6.7" text-anchor="middle" fill="#222" stroke="#222" stroke-width="0.18" transform="rotate(-90 536.01 474.40)" textLength="47" lengthAdjust="spacingAndGlyphs">% of MAIT cells</text>
<text x="611.00" y="534.70" font-size="6.7" text-anchor="middle" fill="#222" stroke="#222" stroke-width="0.18">Age (y)</text>
<text x="596.90" y="414.40" font-size="11.3" text-anchor="start" fill="#111" stroke="#111" stroke-width="0.18">DN,</text>
<text x="618.00" y="414.40" font-size="11.3" text-anchor="start" fill="#58d27c" stroke="#58d27c" stroke-width="0.18">DP,</text>
<text x="576.60" y="426.80" font-size="11.3" text-anchor="start" fill="#ee3b3b" stroke="#ee3b3b" stroke-width="0.18" textLength="40.7" lengthAdjust="spacingAndGlyphs">CD4 SP,</text>
<text x="621.20" y="426.80" font-size="11.3" text-anchor="start" fill="#5656ee" stroke="#5656ee" stroke-width="0.18" textLength="37.7" lengthAdjust="spacingAndGlyphs">CD8 SP</text>
<path d="M588.96,469.46 L588.96,512.15" stroke="#222" stroke-width="0.9"/>
<path d="M570.85,473.18 C578.08,473.06 604.15,472.98 614.28,472.44 C624.42,471.90 626.69,471.61 631.65,469.96 C636.62,468.30 640.34,465.28 644.06,462.51 C647.79,459.74 651.18,456.93 653.99,453.33 C656.81,449.73 659.78,442.99 660.94,440.92" stroke="#5656ee" stroke-width="1.0" fill="none"/>
<path d="M570.85,494.28 C576.02,494.45 592.98,494.86 601.87,495.27 C610.76,495.69 618.00,496.10 624.21,496.76 C630.41,497.42 634.96,498.00 639.10,499.24 C643.24,500.49 646.13,502.14 649.03,504.21 C651.92,506.28 655.23,510.41 656.47,511.65" stroke="#ee3b3b" stroke-width="1.0" fill="none"/>
<path d="M570.85,504.21 C578.08,504.25 604.15,504.33 614.28,504.46 C624.42,504.58 626.28,504.37 631.65,504.95 C637.03,505.53 642.41,506.81 646.55,507.93 C650.68,509.05 654.82,511.03 656.47,511.65" stroke="#58d27c" stroke-width="1.0" fill="none"/>
<path d="M570.85,507.93 C578.08,507.93 604.15,507.93 614.28,507.93 C624.42,507.93 626.28,508.34 631.65,507.93 C637.03,507.52 641.79,506.90 646.55,505.45 C651.30,504.00 657.92,500.28 660.20,499.24" stroke="#111" stroke-width="1.0" fill="none"/>
<circle cx="570.85" cy="488.08" r="2.2" fill="#ee3535" stroke="#333" stroke-width="0.45"/>
<circle cx="573.82" cy="473.93" r="2.2" fill="#ee3535" stroke="#333" stroke-width="0.45"/>
<circle cx="580.03" cy="503.71" r="2.2" fill="#ee3535" stroke="#333" stroke-width="0.45"/>
<circle cx="588.96" cy="473.93" r="2.2" fill="#ee3535" stroke="#333" stroke-width="0.45"/>
<circle cx="588.96" cy="489.32" r="2.2" fill="#ee3535" stroke="#333" stroke-width="0.45"/>
<circle cx="588.96" cy="492.29" r="2.2" fill="#ee3535" stroke="#333" stroke-width="0.45"/>
<circle cx="593.93" cy="492.54" r="2.2" fill="#ee3535" stroke="#333" stroke-width="0.45"/>
<circle cx="593.93" cy="495.52" r="2.2" fill="#ee3535" stroke="#333" stroke-width="0.45"/>
<circle cx="596.91" cy="478.15" r="2.2" fill="#ee3535" stroke="#333" stroke-width="0.45"/>
<circle cx="600.13" cy="463.75" r="2.2" fill="#ee3535" stroke="#333" stroke-width="0.45"/>
<circle cx="602.61" cy="502.22" r="2.2" fill="#ee3535" stroke="#333" stroke-width="0.45"/>
<circle cx="606.09" cy="502.22" r="2.2" fill="#ee3535" stroke="#333" stroke-width="0.45"/>
<circle cx="612.05" cy="500.98" r="2.2" fill="#ee3535" stroke="#333" stroke-width="0.45"/>
<circle cx="618.50" cy="498.00" r="2.2" fill="#ee3535" stroke="#333" stroke-width="0.45"/>
<circle cx="624.21" cy="496.76" r="2.2" fill="#ee3535" stroke="#333" stroke-width="0.45"/>
<circle cx="628.68" cy="500.98" r="2.2" fill="#ee3535" stroke="#333" stroke-width="0.45"/>
<circle cx="630.91" cy="500.49" r="2.2" fill="#ee3535" stroke="#333" stroke-width="0.45"/>
<circle cx="636.62" cy="496.76" r="2.2" fill="#ee3535" stroke="#333" stroke-width="0.45"/>
<circle cx="641.58" cy="484.35" r="2.2" fill="#ee3535" stroke="#333" stroke-width="0.45"/>
<circle cx="643.32" cy="509.17" r="2.2" fill="#ee3535" stroke="#333" stroke-width="0.45"/>
<circle cx="651.51" cy="501.73" r="2.2" fill="#ee3535" stroke="#333" stroke-width="0.45"/>
<circle cx="655.23" cy="514.63" r="2.2" fill="#ee3535" stroke="#333" stroke-width="0.45"/>
<circle cx="656.97" cy="514.14" r="2.2" fill="#ee3535" stroke="#333" stroke-width="0.45"/>
<circle cx="570.85" cy="509.17" r="2.2" fill="#111" stroke="#333" stroke-width="0.45"/>
<circle cx="573.82" cy="509.17" r="2.2" fill="#111" stroke="#333" stroke-width="0.45"/>
<circle cx="580.03" cy="509.92" r="2.2" fill="#111" stroke="#333" stroke-width="0.45"/>
<circle cx="588.96" cy="509.17" r="2.2" fill="#111" stroke="#333" stroke-width="0.45"/>
<circle cx="588.96" cy="511.16" r="2.2" fill="#111" stroke="#333" stroke-width="0.45"/>
<circle cx="593.93" cy="507.93" r="2.2" fill="#111" stroke="#333" stroke-width="0.45"/>
<circle cx="596.91" cy="510.41" r="2.2" fill="#111" stroke="#333" stroke-width="0.45"/>
<circle cx="600.13" cy="509.67" r="2.2" fill="#111" stroke="#333" stroke-width="0.45"/>
<circle cx="602.61" cy="507.93" r="2.2" fill="#111" stroke="#333" stroke-width="0.45"/>
<circle cx="606.09" cy="512.15" r="2.2" fill="#111" stroke="#333" stroke-width="0.45"/>
<circle cx="612.05" cy="506.69" r="2.2" fill="#111" stroke="#333" stroke-width="0.45"/>
<circle cx="618.50" cy="506.69" r="2.2" fill="#111" stroke="#333" stroke-width="0.45"/>
<circle cx="624.21" cy="511.65" r="2.2" fill="#111" stroke="#333" stroke-width="0.45"/>
<circle cx="628.68" cy="509.17" r="2.2" fill="#111" stroke="#333" stroke-width="0.45"/>
<circle cx="630.91" cy="510.41" r="2.2" fill="#111" stroke="#333" stroke-width="0.45"/>
<circle cx="636.62" cy="502.97" r="2.2" fill="#111" stroke="#333" stroke-width="0.45"/>
<circle cx="637.86" cy="505.45" r="2.2" fill="#111" stroke="#333" stroke-width="0.45"/>
<circle cx="640.34" cy="509.17" r="2.2" fill="#111" stroke="#333" stroke-width="0.45"/>
<circle cx="641.58" cy="504.21" r="2.2" fill="#111" stroke="#333" stroke-width="0.45"/>
<circle cx="643.32" cy="493.78" r="2.2" fill="#111" stroke="#333" stroke-width="0.45"/>
<circle cx="651.51" cy="506.19" r="2.2" fill="#111" stroke="#333" stroke-width="0.45"/>
<circle cx="655.23" cy="497.26" r="2.2" fill="#111" stroke="#333" stroke-width="0.45"/>
<circle cx="656.97" cy="497.26" r="2.2" fill="#111" stroke="#333" stroke-width="0.45"/>
<circle cx="660.94" cy="507.93" r="2.2" fill="#111" stroke="#333" stroke-width="0.45"/>
<circle cx="570.85" cy="475.67" r="2.2" fill="#5151ee" stroke="#333" stroke-width="0.45"/>
<circle cx="573.82" cy="486.83" r="2.2" fill="#5151ee" stroke="#333" stroke-width="0.45"/>
<circle cx="580.03" cy="469.46" r="2.2" fill="#5151ee" stroke="#333" stroke-width="0.45"/>
<circle cx="588.96" cy="466.23" r="2.2" fill="#5151ee" stroke="#333" stroke-width="0.45"/>
<circle cx="588.96" cy="479.39" r="2.2" fill="#5151ee" stroke="#333" stroke-width="0.45"/>
<circle cx="588.96" cy="483.11" r="2.2" fill="#5151ee" stroke="#333" stroke-width="0.45"/>
<circle cx="588.96" cy="486.83" r="2.2" fill="#5151ee" stroke="#333" stroke-width="0.45"/>
<circle cx="593.93" cy="472.44" r="2.2" fill="#5151ee" stroke="#333" stroke-width="0.45"/>
<circle cx="593.93" cy="475.67" r="2.2" fill="#5151ee" stroke="#333" stroke-width="0.45"/>
<circle cx="596.91" cy="486.83" r="2.2" fill="#5151ee" stroke="#333" stroke-width="0.45"/>
<circle cx="600.13" cy="491.80" r="2.2" fill="#5151ee" stroke="#333" stroke-width="0.45"/>
<circle cx="602.61" cy="471.20" r="2.2" fill="#5151ee" stroke="#333" stroke-width="0.45"/>
<circle cx="606.09" cy="462.01" r="2.2" fill="#5151ee" stroke="#333" stroke-width="0.45"/>
<circle cx="612.05" cy="460.03" r="2.2" fill="#5151ee" stroke="#333" stroke-width="0.45"/>
<circle cx="618.50" cy="473.68" r="2.2" fill="#5151ee" stroke="#333" stroke-width="0.45"/>
<circle cx="624.21" cy="473.18" r="2.2" fill="#5151ee" stroke="#333" stroke-width="0.45"/>
<circle cx="627.93" cy="445.38" r="2.2" fill="#5151ee" stroke="#333" stroke-width="0.45"/>
<circle cx="628.68" cy="460.77" r="2.2" fill="#5151ee" stroke="#333" stroke-width="0.45"/>
<circle cx="628.68" cy="462.01" r="2.2" fill="#5151ee" stroke="#333" stroke-width="0.45"/>
<circle cx="630.91" cy="468.96" r="2.2" fill="#5151ee" stroke="#333" stroke-width="0.45"/>
<circle cx="636.62" cy="468.72" r="2.2" fill="#5151ee" stroke="#333" stroke-width="0.45"/>
<circle cx="637.86" cy="452.58" r="2.2" fill="#5151ee" stroke="#333" stroke-width="0.45"/>
<circle cx="640.34" cy="456.31" r="2.2" fill="#5151ee" stroke="#333" stroke-width="0.45"/>
<circle cx="641.58" cy="469.46" r="2.2" fill="#5151ee" stroke="#333" stroke-width="0.45"/>
<circle cx="643.32" cy="445.88" r="2.2" fill="#5151ee" stroke="#333" stroke-width="0.45"/>
<circle cx="643.32" cy="463.26" r="2.2" fill="#5151ee" stroke="#333" stroke-width="0.45"/>
<circle cx="651.51" cy="446.38" r="2.2" fill="#5151ee" stroke="#333" stroke-width="0.45"/>
<circle cx="651.51" cy="467.47" r="2.2" fill="#5151ee" stroke="#333" stroke-width="0.45"/>
<circle cx="655.23" cy="454.57" r="2.2" fill="#5151ee" stroke="#333" stroke-width="0.45"/>
<circle cx="656.97" cy="452.58" r="2.2" fill="#5151ee" stroke="#333" stroke-width="0.45"/>
<circle cx="660.94" cy="448.86" r="2.2" fill="#5151ee" stroke="#333" stroke-width="0.45"/>
<circle cx="570.85" cy="506.19" r="2.2" fill="#5ccc7a" stroke="#333" stroke-width="0.45"/>
<circle cx="573.82" cy="506.69" r="2.2" fill="#5ccc7a" stroke="#333" stroke-width="0.45"/>
<circle cx="580.03" cy="495.52" r="2.2" fill="#5ccc7a" stroke="#333" stroke-width="0.45"/>
<circle cx="588.96" cy="493.78" r="2.2" fill="#5ccc7a" stroke="#333" stroke-width="0.45"/>
<circle cx="588.96" cy="496.76" r="2.2" fill="#5ccc7a" stroke="#333" stroke-width="0.45"/>
<circle cx="588.96" cy="500.49" r="2.2" fill="#5ccc7a" stroke="#333" stroke-width="0.45"/>
<circle cx="593.93" cy="503.71" r="2.2" fill="#5ccc7a" stroke="#333" stroke-width="0.45"/>
<circle cx="596.91" cy="504.21" r="2.2" fill="#5ccc7a" stroke="#333" stroke-width="0.45"/>
<circle cx="600.13" cy="512.90" r="2.2" fill="#5ccc7a" stroke="#333" stroke-width="0.45"/>
<circle cx="602.61" cy="499.24" r="2.2" fill="#5ccc7a" stroke="#333" stroke-width="0.45"/>
<circle cx="606.09" cy="501.73" r="2.2" fill="#5ccc7a" stroke="#333" stroke-width="0.45"/>
<circle cx="612.05" cy="510.41" r="2.2" fill="#5ccc7a" stroke="#333" stroke-width="0.45"/>
<circle cx="618.50" cy="501.73" r="2.2" fill="#5ccc7a" stroke="#333" stroke-width="0.45"/>
<circle cx="624.21" cy="496.27" r="2.2" fill="#5ccc7a" stroke="#333" stroke-width="0.45"/>
<circle cx="624.21" cy="514.14" r="2.2" fill="#5ccc7a" stroke="#333" stroke-width="0.45"/>
<circle cx="628.68" cy="506.19" r="2.2" fill="#5ccc7a" stroke="#333" stroke-width="0.45"/>
<circle cx="630.91" cy="505.45" r="2.2" fill="#5ccc7a" stroke="#333" stroke-width="0.45"/>
<circle cx="636.62" cy="506.69" r="2.2" fill="#5ccc7a" stroke="#333" stroke-width="0.45"/>
<circle cx="637.86" cy="511.65" r="2.2" fill="#5ccc7a" stroke="#333" stroke-width="0.45"/>
<circle cx="640.34" cy="514.14" r="2.2" fill="#5ccc7a" stroke="#333" stroke-width="0.45"/>
<circle cx="641.58" cy="515.38" r="2.2" fill="#5ccc7a" stroke="#333" stroke-width="0.45"/>
<circle cx="643.32" cy="511.65" r="2.2" fill="#5ccc7a" stroke="#333" stroke-width="0.45"/>
<circle cx="651.51" cy="513.64" r="2.2" fill="#5ccc7a" stroke="#333" stroke-width="0.45"/>
<circle cx="655.23" cy="511.65" r="2.2" fill="#5ccc7a" stroke="#333" stroke-width="0.45"/>
<circle cx="656.97" cy="512.90" r="2.2" fill="#5ccc7a" stroke="#333" stroke-width="0.45"/>
<circle cx="660.94" cy="511.65" r="2.2" fill="#5ccc7a" stroke="#333" stroke-width="0.45"/>
<text x="674.20" y="444.00" font-size="10" text-anchor="middle" font-weight="bold" fill="#5656ee">***</text>
<text x="672.40" y="500.60" font-size="10" text-anchor="middle" font-weight="bold" fill="#111">**</text>
<text x="672.40" y="508.60" font-size="10" text-anchor="middle" font-weight="bold" fill="#ee3b3b">**</text>
<text x="672.40" y="516.30" font-size="10" text-anchor="middle" font-weight="bold" fill="#58d27c">**</text>
<text x="67.20" y="646.72" font-size="5.9" text-anchor="end" font-weight="bold" fill="#111" textLength="3.54" lengthAdjust="spacingAndGlyphs">0</text>
<text x="67.20" y="631.62" font-size="5.9" text-anchor="end" font-weight="bold" fill="#111" textLength="3.54" lengthAdjust="spacingAndGlyphs">5</text>
<text x="67.20" y="616.52" font-size="5.9" text-anchor="end" font-weight="bold" fill="#111" textLength="7.09" lengthAdjust="spacingAndGlyphs">10</text>
<text x="67.20" y="601.42" font-size="5.9" text-anchor="end" font-weight="bold" fill="#111" textLength="7.09" lengthAdjust="spacingAndGlyphs">15</text>
<text x="67.20" y="586.32" font-size="5.9" text-anchor="end" font-weight="bold" fill="#111" textLength="7.09" lengthAdjust="spacingAndGlyphs">20</text>
<text x="67.20" y="571.22" font-size="5.9" text-anchor="end" font-weight="bold" fill="#111" textLength="7.09" lengthAdjust="spacingAndGlyphs">25</text>
<text x="71.60" y="655.40" font-size="5.9" text-anchor="middle" font-weight="bold" fill="#111" textLength="12.06" lengthAdjust="spacingAndGlyphs">0.01</text>
<text x="99.50" y="655.40" font-size="5.9" text-anchor="middle" font-weight="bold" fill="#111" textLength="8.61" lengthAdjust="spacingAndGlyphs">0.1</text>
<text x="127.40" y="655.40" font-size="5.9" text-anchor="middle" font-weight="bold" fill="#111" textLength="3.45" lengthAdjust="spacingAndGlyphs">1</text>
<text x="155.30" y="655.40" font-size="5.9" text-anchor="middle" font-weight="bold" fill="#111" textLength="6.89" lengthAdjust="spacingAndGlyphs">10</text>
<text x="183.20" y="655.40" font-size="5.9" text-anchor="middle" font-weight="bold" fill="#111" textLength="10.34" lengthAdjust="spacingAndGlyphs">100</text>
<path d="M71.60,569.10 L71.60,644.60 L183.20,644.60 M71.60,644.60 L68.60,644.60 M71.60,629.50 L68.60,629.50 M71.60,614.40 L68.60,614.40 M71.60,599.30 L68.60,599.30 M71.60,584.20 L68.60,584.20 M71.60,569.10 L68.60,569.10 M71.60,644.60 L71.60,647.60 M80.00,644.60 L80.00,646.40 M84.91,644.60 L84.91,646.40 M88.40,644.60 L88.40,646.40 M91.10,644.60 L91.10,646.40 M93.31,644.60 L93.31,646.40 M95.18,644.60 L95.18,646.40 M96.80,644.60 L96.80,646.40 M98.22,644.60 L98.22,646.40 M99.50,644.60 L99.50,647.60 M107.90,644.60 L107.90,646.40 M112.81,644.60 L112.81,646.40 M116.30,644.60 L116.30,646.40 M119.00,644.60 L119.00,646.40 M121.21,644.60 L121.21,646.40 M123.08,644.60 L123.08,646.40 M124.70,644.60 L124.70,646.40 M126.12,644.60 L126.12,646.40 M127.40,644.60 L127.40,647.60 M135.80,644.60 L135.80,646.40 M140.71,644.60 L140.71,646.40 M144.20,644.60 L144.20,646.40 M146.90,644.60 L146.90,646.40 M149.11,644.60 L149.11,646.40 M150.98,644.60 L150.98,646.40 M152.60,644.60 L152.60,646.40 M154.02,644.60 L154.02,646.40 M155.30,644.60 L155.30,647.60 M163.70,644.60 L163.70,646.40 M168.61,644.60 L168.61,646.40 M172.10,644.60 L172.10,646.40 M174.80,644.60 L174.80,646.40 M177.01,644.60 L177.01,646.40 M178.88,644.60 L178.88,646.40 M180.50,644.60 L180.50,646.40 M181.92,644.60 L181.92,646.40 M183.20,644.60 L183.20,647.60 " stroke="#1a1a1a" stroke-width="1.2" fill="none"/>
<text x="42.61" y="606.60" font-size="6.7" text-anchor="middle" fill="#222" stroke="#222" stroke-width="0.18" transform="rotate(-90 42.61 606.60)" textLength="35" lengthAdjust="spacingAndGlyphs"># iNKT cells</text>
<text x="52.31" y="606.60" font-size="6.7" text-anchor="middle" fill="#222" stroke="#222" stroke-width="0.18" transform="rotate(-90 52.31 606.60)" textLength="63" lengthAdjust="spacingAndGlyphs">(per 10<tspan dy="-2" font-size="4.5">9</tspan><tspan dy="2"> </tspan>thymocytes)</text>
<text x="127.40" y="663.40" font-size="6.7" text-anchor="middle" fill="#222" stroke="#222" stroke-width="0.18">Age (y)</text>
<circle cx="88.20" cy="584.38" r="2.3" fill="none" stroke="#333" stroke-width="0.62"/>
<circle cx="90.98" cy="593.53" r="2.3" fill="none" stroke="#333" stroke-width="0.62"/>
<circle cx="105.40" cy="574.67" r="2.3" fill="none" stroke="#333" stroke-width="0.62"/>
<circle cx="105.40" cy="595.47" r="2.3" fill="none" stroke="#333" stroke-width="0.62"/>
<circle cx="105.40" cy="610.17" r="2.3" fill="none" stroke="#333" stroke-width="0.62"/>
<circle cx="105.40" cy="614.34" r="2.3" fill="none" stroke="#333" stroke-width="0.62"/>
<circle cx="105.40" cy="641.24" r="2.3" fill="none" stroke="#333" stroke-width="0.62"/>
<circle cx="110.39" cy="588.54" r="2.3" fill="none" stroke="#333" stroke-width="0.62"/>
<circle cx="113.72" cy="599.08" r="2.3" fill="none" stroke="#333" stroke-width="0.62"/>
<circle cx="113.72" cy="621.27" r="2.3" fill="none" stroke="#333" stroke-width="0.62"/>
<circle cx="116.50" cy="573.28" r="2.3" fill="none" stroke="#333" stroke-width="0.62"/>
<circle cx="122.04" cy="605.74" r="2.3" fill="none" stroke="#333" stroke-width="0.62"/>
<circle cx="128.14" cy="617.66" r="2.3" fill="none" stroke="#333" stroke-width="0.62"/>
<circle cx="134.52" cy="619.88" r="2.3" fill="none" stroke="#333" stroke-width="0.62"/>
<circle cx="140.07" cy="598.25" r="2.3" fill="none" stroke="#333" stroke-width="0.62"/>
<circle cx="143.68" cy="604.35" r="2.3" fill="none" stroke="#333" stroke-width="0.62"/>
<circle cx="143.68" cy="606.01" r="2.3" fill="none" stroke="#333" stroke-width="0.62"/>
<circle cx="146.45" cy="621.82" r="2.3" fill="none" stroke="#333" stroke-width="0.62"/>
<circle cx="152.00" cy="617.66" r="2.3" fill="none" stroke="#333" stroke-width="0.62"/>
<circle cx="153.39" cy="626.54" r="2.3" fill="none" stroke="#333" stroke-width="0.62"/>
<circle cx="156.16" cy="575.50" r="2.3" fill="none" stroke="#333" stroke-width="0.62"/>
<circle cx="166.98" cy="573.28" r="2.3" fill="none" stroke="#333" stroke-width="0.62"/>
<path d="M88.20,605.74 C94.31,605.74 115.94,605.97 124.82,605.74 C133.69,605.51 136.84,605.37 141.46,604.35 C146.08,603.33 149.32,601.58 152.55,599.63 C155.79,597.69 158.47,595.24 160.87,592.70 C163.28,590.16 165.96,585.77 166.98,584.38" stroke="#111" stroke-width="1.1" fill="none"/>
<text x="222.30" y="647.62" font-size="5.9" text-anchor="end" font-weight="bold" fill="#111" textLength="3.54" lengthAdjust="spacingAndGlyphs">0</text>
<text x="222.30" y="631.38" font-size="5.9" text-anchor="end" font-weight="bold" fill="#111" textLength="7.09" lengthAdjust="spacingAndGlyphs">20</text>
<text x="222.30" y="615.14" font-size="5.9" text-anchor="end" font-weight="bold" fill="#111" textLength="7.09" lengthAdjust="spacingAndGlyphs">40</text>
<text x="222.30" y="598.90" font-size="5.9" text-anchor="end" font-weight="bold" fill="#111" textLength="7.09" lengthAdjust="spacingAndGlyphs">60</text>
<text x="222.30" y="582.66" font-size="5.9" text-anchor="end" font-weight="bold" fill="#111" textLength="7.09" lengthAdjust="spacingAndGlyphs">80</text>
<text x="222.30" y="566.42" font-size="5.9" text-anchor="end" font-weight="bold" fill="#111" textLength="10.63" lengthAdjust="spacingAndGlyphs">100</text>
<text x="226.70" y="656.30" font-size="5.9" text-anchor="middle" font-weight="bold" fill="#111" textLength="12.06" lengthAdjust="spacingAndGlyphs">0.01</text>
<text x="255.10" y="656.30" font-size="5.9" text-anchor="middle" font-weight="bold" fill="#111" textLength="8.61" lengthAdjust="spacingAndGlyphs">0.1</text>
<text x="283.50" y="656.30" font-size="5.9" text-anchor="middle" font-weight="bold" fill="#111" textLength="3.45" lengthAdjust="spacingAndGlyphs">1</text>
<text x="311.90" y="656.30" font-size="5.9" text-anchor="middle" font-weight="bold" fill="#111" textLength="6.89" lengthAdjust="spacingAndGlyphs">10</text>
<text x="340.30" y="656.30" font-size="5.9" text-anchor="middle" font-weight="bold" fill="#111" textLength="10.34" lengthAdjust="spacingAndGlyphs">100</text>
<path d="M226.70,564.30 L226.70,645.50 L340.30,645.50 M226.70,645.50 L223.70,645.50 M226.70,629.26 L223.70,629.26 M226.70,613.02 L223.70,613.02 M226.70,596.78 L223.70,596.78 M226.70,580.54 L223.70,580.54 M226.70,564.30 L223.70,564.30 M226.70,645.50 L226.70,648.50 M235.25,645.50 L235.25,647.30 M240.25,645.50 L240.25,647.30 M243.80,645.50 L243.80,647.30 M246.55,645.50 L246.55,647.30 M248.80,645.50 L248.80,647.30 M250.70,645.50 L250.70,647.30 M252.35,645.50 L252.35,647.30 M253.80,645.50 L253.80,647.30 M255.10,645.50 L255.10,648.50 M263.65,645.50 L263.65,647.30 M268.65,645.50 L268.65,647.30 M272.20,645.50 L272.20,647.30 M274.95,645.50 L274.95,647.30 M277.20,645.50 L277.20,647.30 M279.10,645.50 L279.10,647.30 M280.75,645.50 L280.75,647.30 M282.20,645.50 L282.20,647.30 M283.50,645.50 L283.50,648.50 M292.05,645.50 L292.05,647.30 M297.05,645.50 L297.05,647.30 M300.60,645.50 L300.60,647.30 M303.35,645.50 L303.35,647.30 M305.60,645.50 L305.60,647.30 M307.50,645.50 L307.50,647.30 M309.15,645.50 L309.15,647.30 M310.60,645.50 L310.60,647.30 M311.90,645.50 L311.90,648.50 M320.45,645.50 L320.45,647.30 M325.45,645.50 L325.45,647.30 M329.00,645.50 L329.00,647.30 M331.75,645.50 L331.75,647.30 M334.00,645.50 L334.00,647.30 M335.90,645.50 L335.90,647.30 M337.55,645.50 L337.55,647.30 M339.00,645.50 L339.00,647.30 M340.30,645.50 L340.30,648.50 " stroke="#1a1a1a" stroke-width="1.2" fill="none"/>
<text x="208.51" y="605.00" font-size="6.7" text-anchor="middle" fill="#222" stroke="#222" stroke-width="0.18" transform="rotate(-90 208.51 605.00)" textLength="45" lengthAdjust="spacingAndGlyphs">% of NKT cells</text>
<text x="283.50" y="664.80" font-size="6.7" text-anchor="middle" fill="#222" stroke="#222" stroke-width="0.18">Age (y)</text>
<path d="M243.86,582.69 C249.36,582.69 267.23,582.86 276.87,582.69 C286.51,582.53 295.07,582.19 301.69,581.70 C308.31,581.20 312.86,580.46 316.58,579.71 C320.31,578.97 322.79,577.64 324.03,577.23" stroke="#ee3b3b" stroke-width="1.0" fill="none"/>
<path d="M243.86,636.80 C251.43,636.88 278.40,637.13 289.28,637.29 C300.16,637.46 303.34,637.05 309.14,637.79 C314.93,638.54 321.55,641.10 324.03,641.76" stroke="#5656ee" stroke-width="1.0" fill="none"/>
<path d="M243.86,637.54 C251.43,637.46 275.92,637.34 289.28,637.05 C302.64,636.76 318.24,636.01 324.03,635.81" stroke="#58d27c" stroke-width="1.0" fill="none"/>
<circle cx="243.86" cy="574.75" r="2.2" fill="#ee3535" stroke="#333" stroke-width="0.45"/>
<circle cx="247.09" cy="573.51" r="2.2" fill="#ee3535" stroke="#333" stroke-width="0.45"/>
<circle cx="261.48" cy="574.75" r="2.2" fill="#ee3535" stroke="#333" stroke-width="0.45"/>
<circle cx="261.48" cy="578.97" r="2.2" fill="#ee3535" stroke="#333" stroke-width="0.45"/>
<circle cx="261.48" cy="582.19" r="2.2" fill="#ee3535" stroke="#333" stroke-width="0.45"/>
<circle cx="261.48" cy="592.12" r="2.2" fill="#ee3535" stroke="#333" stroke-width="0.45"/>
<circle cx="269.42" cy="579.71" r="2.2" fill="#ee3535" stroke="#333" stroke-width="0.45"/>
<circle cx="273.15" cy="580.95" r="2.2" fill="#ee3535" stroke="#333" stroke-width="0.45"/>
<circle cx="278.61" cy="585.92" r="2.2" fill="#ee3535" stroke="#333" stroke-width="0.45"/>
<circle cx="297.22" cy="574.25" r="2.2" fill="#ee3535" stroke="#333" stroke-width="0.45"/>
<circle cx="312.86" cy="568.05" r="2.2" fill="#ee3535" stroke="#333" stroke-width="0.45"/>
<circle cx="324.03" cy="582.69" r="2.2" fill="#ee3535" stroke="#333" stroke-width="0.45"/>
<circle cx="269.42" cy="615.70" r="2.2" fill="#ee3535" stroke="#333" stroke-width="0.45"/>
<circle cx="243.86" cy="637.29" r="2.2" fill="#5151ee" stroke="#333" stroke-width="0.45"/>
<circle cx="247.09" cy="638.54" r="2.2" fill="#5151ee" stroke="#333" stroke-width="0.45"/>
<circle cx="261.48" cy="631.09" r="2.2" fill="#5151ee" stroke="#333" stroke-width="0.45"/>
<circle cx="261.48" cy="635.56" r="2.2" fill="#5151ee" stroke="#333" stroke-width="0.45"/>
<circle cx="261.48" cy="640.52" r="2.2" fill="#5151ee" stroke="#333" stroke-width="0.45"/>
<circle cx="261.48" cy="643.75" r="2.2" fill="#5151ee" stroke="#333" stroke-width="0.45"/>
<circle cx="269.42" cy="641.76" r="2.2" fill="#5151ee" stroke="#333" stroke-width="0.45"/>
<circle cx="273.15" cy="634.32" r="2.2" fill="#5151ee" stroke="#333" stroke-width="0.45"/>
<circle cx="278.61" cy="627.37" r="2.2" fill="#5151ee" stroke="#333" stroke-width="0.45"/>
<circle cx="297.22" cy="645.49" r="2.2" fill="#5151ee" stroke="#333" stroke-width="0.45"/>
<circle cx="324.03" cy="640.52" r="2.2" fill="#5151ee" stroke="#333" stroke-width="0.45"/>
<circle cx="243.86" cy="643.75" r="2.2" fill="#5ccc7a" stroke="#333" stroke-width="0.45"/>
<circle cx="247.09" cy="643.75" r="2.2" fill="#5ccc7a" stroke="#333" stroke-width="0.45"/>
<circle cx="261.48" cy="633.08" r="2.2" fill="#5ccc7a" stroke="#333" stroke-width="0.45"/>
<circle cx="261.48" cy="638.04" r="2.2" fill="#5ccc7a" stroke="#333" stroke-width="0.45"/>
<circle cx="261.48" cy="645.49" r="2.2" fill="#5ccc7a" stroke="#333" stroke-width="0.45"/>
<circle cx="269.42" cy="607.51" r="2.2" fill="#5ccc7a" stroke="#333" stroke-width="0.45"/>
<circle cx="269.42" cy="633.82" r="2.2" fill="#5ccc7a" stroke="#333" stroke-width="0.45"/>
<circle cx="273.15" cy="641.02" r="2.2" fill="#5ccc7a" stroke="#333" stroke-width="0.45"/>
<circle cx="278.61" cy="642.26" r="2.2" fill="#5ccc7a" stroke="#333" stroke-width="0.45"/>
<circle cx="297.22" cy="640.02" r="2.2" fill="#5ccc7a" stroke="#333" stroke-width="0.45"/>
<circle cx="312.86" cy="643.75" r="2.2" fill="#5ccc7a" stroke="#333" stroke-width="0.45"/>
<circle cx="324.03" cy="633.08" r="2.2" fill="#5ccc7a" stroke="#333" stroke-width="0.45"/>
<text x="389.80" y="647.62" font-size="5.9" text-anchor="end" font-weight="bold" fill="#111" textLength="3.54" lengthAdjust="spacingAndGlyphs">0</text>
<text x="389.80" y="631.38" font-size="5.9" text-anchor="end" font-weight="bold" fill="#111" textLength="3.54" lengthAdjust="spacingAndGlyphs">5</text>
<text x="389.80" y="615.14" font-size="5.9" text-anchor="end" font-weight="bold" fill="#111" textLength="7.09" lengthAdjust="spacingAndGlyphs">10</text>
<text x="389.80" y="598.90" font-size="5.9" text-anchor="end" font-weight="bold" fill="#111" textLength="7.09" lengthAdjust="spacingAndGlyphs">15</text>
<text x="389.80" y="582.66" font-size="5.9" text-anchor="end" font-weight="bold" fill="#111" textLength="7.09" lengthAdjust="spacingAndGlyphs">20</text>
<text x="389.80" y="566.42" font-size="5.9" text-anchor="end" font-weight="bold" fill="#111" textLength="7.09" lengthAdjust="spacingAndGlyphs">25</text>
<text x="394.20" y="656.30" font-size="5.9" text-anchor="middle" font-weight="bold" fill="#111" textLength="12.06" lengthAdjust="spacingAndGlyphs">0.01</text>
<text x="422.60" y="656.30" font-size="5.9" text-anchor="middle" font-weight="bold" fill="#111" textLength="8.61" lengthAdjust="spacingAndGlyphs">0.1</text>
<text x="451.00" y="656.30" font-size="5.9" text-anchor="middle" font-weight="bold" fill="#111" textLength="3.45" lengthAdjust="spacingAndGlyphs">1</text>
<text x="479.40" y="656.30" font-size="5.9" text-anchor="middle" font-weight="bold" fill="#111" textLength="6.89" lengthAdjust="spacingAndGlyphs">10</text>
<text x="507.80" y="656.30" font-size="5.9" text-anchor="middle" font-weight="bold" fill="#111" textLength="10.34" lengthAdjust="spacingAndGlyphs">100</text>
<path d="M394.20,564.30 L394.20,645.50 L507.80,645.50 M394.20,645.50 L391.20,645.50 M394.20,629.26 L391.20,629.26 M394.20,613.02 L391.20,613.02 M394.20,596.78 L391.20,596.78 M394.20,580.54 L391.20,580.54 M394.20,564.30 L391.20,564.30 M394.20,645.50 L394.20,648.50 M402.75,645.50 L402.75,647.30 M407.75,645.50 L407.75,647.30 M411.30,645.50 L411.30,647.30 M414.05,645.50 L414.05,647.30 M416.30,645.50 L416.30,647.30 M418.20,645.50 L418.20,647.30 M419.85,645.50 L419.85,647.30 M421.30,645.50 L421.30,647.30 M422.60,645.50 L422.60,648.50 M431.15,645.50 L431.15,647.30 M436.15,645.50 L436.15,647.30 M439.70,645.50 L439.70,647.30 M442.45,645.50 L442.45,647.30 M444.70,645.50 L444.70,647.30 M446.60,645.50 L446.60,647.30 M448.25,645.50 L448.25,647.30 M449.70,645.50 L449.70,647.30 M451.00,645.50 L451.00,648.50 M459.55,645.50 L459.55,647.30 M464.55,645.50 L464.55,647.30 M468.10,645.50 L468.10,647.30 M470.85,645.50 L470.85,647.30 M473.10,645.50 L473.10,647.30 M475.00,645.50 L475.00,647.30 M476.65,645.50 L476.65,647.30 M478.10,645.50 L478.10,647.30 M479.40,645.50 L479.40,648.50 M487.95,645.50 L487.95,647.30 M492.95,645.50 L492.95,647.30 M496.50,645.50 L496.50,647.30 M499.25,645.50 L499.25,647.30 M501.50,645.50 L501.50,647.30 M503.40,645.50 L503.40,647.30 M505.05,645.50 L505.05,647.30 M506.50,645.50 L506.50,647.30 M507.80,645.50 L507.80,648.50 " stroke="#1a1a1a" stroke-width="1.2" fill="none"/>
<text x="364.81" y="605.00" font-size="6.7" text-anchor="middle" fill="#222" stroke="#222" stroke-width="0.18" transform="rotate(-90 364.81 605.00)" textLength="34" lengthAdjust="spacingAndGlyphs">Cell number</text>
<text x="374.81" y="605.00" font-size="6.7" text-anchor="middle" fill="#222" stroke="#222" stroke-width="0.18" transform="rotate(-90 374.81 605.00)" textLength="63" lengthAdjust="spacingAndGlyphs">(per 10<tspan dy="-2" font-size="4.5">9</tspan><tspan dy="2"> </tspan>thymocytes)</text>
<text x="451.10" y="664.80" font-size="6.7" text-anchor="middle" fill="#222" stroke="#222" stroke-width="0.18">Age (y)</text>
<path d="M411.59,607.01 C418.70,606.93 444.68,606.93 454.28,606.52 C463.88,606.10 465.04,605.69 469.17,604.53 C473.31,603.37 476.20,602.05 479.10,599.57 C482.00,597.09 484.48,593.28 486.55,589.64 C488.61,586.00 490.68,579.71 491.51,577.73" stroke="#ee3b3b" stroke-width="1.0" fill="none"/>
<path d="M411.59,639.78 C418.70,639.82 440.96,639.69 454.28,640.02 C467.60,640.36 485.31,641.47 491.51,641.76" stroke="#5656ee" stroke-width="1.0" fill="none"/>
<path d="M411.59,642.26 C418.70,642.09 443.86,641.56 454.28,641.27 C464.70,640.98 469.17,641.06 474.14,640.52 C479.10,639.98 481.17,638.87 484.06,638.04 C486.96,637.21 490.27,635.97 491.51,635.56" stroke="#58d27c" stroke-width="1.0" fill="none"/>
<circle cx="411.59" cy="588.40" r="2.2" fill="#ee3535" stroke="#333" stroke-width="0.45"/>
<circle cx="414.57" cy="596.84" r="2.2" fill="#ee3535" stroke="#333" stroke-width="0.45"/>
<circle cx="429.46" cy="595.85" r="2.2" fill="#ee3535" stroke="#333" stroke-width="0.45"/>
<circle cx="429.46" cy="599.07" r="2.2" fill="#ee3535" stroke="#333" stroke-width="0.45"/>
<circle cx="429.46" cy="614.96" r="2.2" fill="#ee3535" stroke="#333" stroke-width="0.45"/>
<circle cx="437.65" cy="605.77" r="2.2" fill="#ee3535" stroke="#333" stroke-width="0.45"/>
<circle cx="440.63" cy="584.68" r="2.2" fill="#ee3535" stroke="#333" stroke-width="0.45"/>
<circle cx="446.34" cy="614.46" r="2.2" fill="#ee3535" stroke="#333" stroke-width="0.45"/>
<circle cx="464.70" cy="602.05" r="2.2" fill="#ee3535" stroke="#333" stroke-width="0.45"/>
<circle cx="480.84" cy="574.25" r="2.2" fill="#ee3535" stroke="#333" stroke-width="0.45"/>
<circle cx="491.51" cy="585.42" r="2.2" fill="#ee3535" stroke="#333" stroke-width="0.45"/>
<circle cx="411.59" cy="638.78" r="2.2" fill="#5151ee" stroke="#333" stroke-width="0.45"/>
<circle cx="414.57" cy="640.52" r="2.2" fill="#5151ee" stroke="#333" stroke-width="0.45"/>
<circle cx="429.46" cy="631.83" r="2.2" fill="#5151ee" stroke="#333" stroke-width="0.45"/>
<circle cx="429.46" cy="637.29" r="2.2" fill="#5151ee" stroke="#333" stroke-width="0.45"/>
<circle cx="429.46" cy="640.52" r="2.2" fill="#5151ee" stroke="#333" stroke-width="0.45"/>
<circle cx="429.46" cy="643.75" r="2.2" fill="#5151ee" stroke="#333" stroke-width="0.45"/>
<circle cx="437.65" cy="641.76" r="2.2" fill="#5151ee" stroke="#333" stroke-width="0.45"/>
<circle cx="440.63" cy="634.32" r="2.2" fill="#5151ee" stroke="#333" stroke-width="0.45"/>
<circle cx="446.34" cy="636.05" r="2.2" fill="#5151ee" stroke="#333" stroke-width="0.45"/>
<circle cx="464.70" cy="645.49" r="2.2" fill="#5151ee" stroke="#333" stroke-width="0.45"/>
<circle cx="491.51" cy="640.52" r="2.2" fill="#5151ee" stroke="#333" stroke-width="0.45"/>
<circle cx="411.59" cy="643.75" r="2.2" fill="#5ccc7a" stroke="#333" stroke-width="0.45"/>
<circle cx="414.57" cy="644.24" r="2.2" fill="#5ccc7a" stroke="#333" stroke-width="0.45"/>
<circle cx="429.46" cy="634.81" r="2.2" fill="#5ccc7a" stroke="#333" stroke-width="0.45"/>
<circle cx="429.46" cy="641.27" r="2.2" fill="#5ccc7a" stroke="#333" stroke-width="0.45"/>
<circle cx="429.46" cy="645.49" r="2.2" fill="#5ccc7a" stroke="#333" stroke-width="0.45"/>
<circle cx="437.65" cy="633.82" r="2.2" fill="#5ccc7a" stroke="#333" stroke-width="0.45"/>
<circle cx="437.65" cy="638.04" r="2.2" fill="#5ccc7a" stroke="#333" stroke-width="0.45"/>
<circle cx="440.63" cy="641.27" r="2.2" fill="#5ccc7a" stroke="#333" stroke-width="0.45"/>
<circle cx="446.34" cy="643.75" r="2.2" fill="#5ccc7a" stroke="#333" stroke-width="0.45"/>
<circle cx="464.70" cy="642.26" r="2.2" fill="#5ccc7a" stroke="#333" stroke-width="0.45"/>
<circle cx="480.84" cy="644.24" r="2.2" fill="#5ccc7a" stroke="#333" stroke-width="0.45"/>
<circle cx="491.51" cy="633.57" r="2.2" fill="#5ccc7a" stroke="#333" stroke-width="0.45"/>
<text x="549.80" y="646.32" font-size="5.9" text-anchor="end" font-weight="bold" fill="#111" textLength="3.54" lengthAdjust="spacingAndGlyphs">0</text>
<text x="549.80" y="630.20" font-size="5.9" text-anchor="end" font-weight="bold" fill="#111" textLength="7.09" lengthAdjust="spacingAndGlyphs">20</text>
<text x="549.80" y="614.08" font-size="5.9" text-anchor="end" font-weight="bold" fill="#111" textLength="7.09" lengthAdjust="spacingAndGlyphs">40</text>
<text x="549.80" y="597.96" font-size="5.9" text-anchor="end" font-weight="bold" fill="#111" textLength="7.09" lengthAdjust="spacingAndGlyphs">60</text>
<text x="549.80" y="581.84" font-size="5.9" text-anchor="end" font-weight="bold" fill="#111" textLength="7.09" lengthAdjust="spacingAndGlyphs">80</text>
<text x="549.80" y="565.72" font-size="5.9" text-anchor="end" font-weight="bold" fill="#111" textLength="10.63" lengthAdjust="spacingAndGlyphs">100</text>
<text x="554.20" y="655.00" font-size="5.9" text-anchor="middle" font-weight="bold" fill="#111" textLength="12.06" lengthAdjust="spacingAndGlyphs">0.01</text>
<text x="582.60" y="655.00" font-size="5.9" text-anchor="middle" font-weight="bold" fill="#111" textLength="8.61" lengthAdjust="spacingAndGlyphs">0.1</text>
<text x="611.00" y="655.00" font-size="5.9" text-anchor="middle" font-weight="bold" fill="#111" textLength="3.45" lengthAdjust="spacingAndGlyphs">1</text>
<text x="639.40" y="655.00" font-size="5.9" text-anchor="middle" font-weight="bold" fill="#111" textLength="6.89" lengthAdjust="spacingAndGlyphs">10</text>
<text x="667.80" y="655.00" font-size="5.9" text-anchor="middle" font-weight="bold" fill="#111" textLength="10.34" lengthAdjust="spacingAndGlyphs">100</text>
<path d="M554.20,563.60 L554.20,644.20 L667.80,644.20 M554.20,644.20 L551.20,644.20 M554.20,628.08 L551.20,628.08 M554.20,611.96 L551.20,611.96 M554.20,595.84 L551.20,595.84 M554.20,579.72 L551.20,579.72 M554.20,563.60 L551.20,563.60 M554.20,644.20 L554.20,647.20 M562.75,644.20 L562.75,646.00 M567.75,644.20 L567.75,646.00 M571.30,644.20 L571.30,646.00 M574.05,644.20 L574.05,646.00 M576.30,644.20 L576.30,646.00 M578.20,644.20 L578.20,646.00 M579.85,644.20 L579.85,646.00 M581.30,644.20 L581.30,646.00 M582.60,644.20 L582.60,647.20 M591.15,644.20 L591.15,646.00 M596.15,644.20 L596.15,646.00 M599.70,644.20 L599.70,646.00 M602.45,644.20 L602.45,646.00 M604.70,644.20 L604.70,646.00 M606.60,644.20 L606.60,646.00 M608.25,644.20 L608.25,646.00 M609.70,644.20 L609.70,646.00 M611.00,644.20 L611.00,647.20 M619.55,644.20 L619.55,646.00 M624.55,644.20 L624.55,646.00 M628.10,644.20 L628.10,646.00 M630.85,644.20 L630.85,646.00 M633.10,644.20 L633.10,646.00 M635.00,644.20 L635.00,646.00 M636.65,644.20 L636.65,646.00 M638.10,644.20 L638.10,646.00 M639.40,644.20 L639.40,647.20 M647.95,644.20 L647.95,646.00 M652.95,644.20 L652.95,646.00 M656.50,644.20 L656.50,646.00 M659.25,644.20 L659.25,646.00 M661.50,644.20 L661.50,646.00 M663.40,644.20 L663.40,646.00 M665.05,644.20 L665.05,646.00 M666.50,644.20 L666.50,646.00 M667.80,644.20 L667.80,647.20 " stroke="#1a1a1a" stroke-width="1.2" fill="none"/>
<text x="536.01" y="604.00" font-size="6.7" text-anchor="middle" fill="#222" stroke="#222" stroke-width="0.18" transform="rotate(-90 536.01 604.00)" textLength="45" lengthAdjust="spacingAndGlyphs">% of NKT cells</text>
<text x="611.00" y="663.60" font-size="6.7" text-anchor="middle" fill="#222" stroke="#222" stroke-width="0.18">Age (y)</text>
<path d="M571.59,576.49 C578.70,576.40 602.28,576.28 614.28,575.99 C626.28,575.70 638.69,574.95 643.57,574.75" stroke="#ee3b3b" stroke-width="1.0" fill="none"/>
<path d="M571.59,636.30 C578.70,636.38 604.27,636.63 614.28,636.80 C624.29,636.96 626.77,636.88 631.65,637.29 C636.54,637.71 641.58,638.95 643.57,639.28" stroke="#111" stroke-width="1.0" fill="none"/>
<path d="M571.59,641.27 L643.57,641.76" stroke="#5656ee" stroke-width="1.0" fill="none"/>
<path d="M571.59,641.76 L643.57,641.27" stroke="#58d27c" stroke-width="1.0" fill="none"/>
<circle cx="571.59" cy="585.42" r="2.2" fill="#ee3535" stroke="#333" stroke-width="0.45"/>
<circle cx="574.57" cy="573.51" r="2.2" fill="#ee3535" stroke="#333" stroke-width="0.45"/>
<circle cx="589.46" cy="574.00" r="2.2" fill="#ee3535" stroke="#333" stroke-width="0.45"/>
<circle cx="589.46" cy="575.99" r="2.2" fill="#ee3535" stroke="#333" stroke-width="0.45"/>
<circle cx="589.46" cy="579.71" r="2.2" fill="#ee3535" stroke="#333" stroke-width="0.45"/>
<circle cx="594.42" cy="572.27" r="2.2" fill="#ee3535" stroke="#333" stroke-width="0.45"/>
<circle cx="600.63" cy="576.73" r="2.2" fill="#ee3535" stroke="#333" stroke-width="0.45"/>
<circle cx="616.27" cy="579.71" r="2.2" fill="#ee3535" stroke="#333" stroke-width="0.45"/>
<circle cx="624.70" cy="571.77" r="2.2" fill="#ee3535" stroke="#333" stroke-width="0.45"/>
<circle cx="626.69" cy="576.49" r="2.2" fill="#ee3535" stroke="#333" stroke-width="0.45"/>
<circle cx="628.43" cy="569.78" r="2.2" fill="#ee3535" stroke="#333" stroke-width="0.45"/>
<circle cx="629.17" cy="575.99" r="2.2" fill="#ee3535" stroke="#333" stroke-width="0.45"/>
<circle cx="631.16" cy="567.80" r="2.2" fill="#ee3535" stroke="#333" stroke-width="0.45"/>
<circle cx="636.62" cy="571.03" r="2.2" fill="#ee3535" stroke="#333" stroke-width="0.45"/>
<circle cx="638.36" cy="580.95" r="2.2" fill="#ee3535" stroke="#333" stroke-width="0.45"/>
<circle cx="640.84" cy="578.97" r="2.2" fill="#ee3535" stroke="#333" stroke-width="0.45"/>
<circle cx="643.57" cy="573.51" r="2.2" fill="#ee3535" stroke="#333" stroke-width="0.45"/>
<circle cx="571.59" cy="631.83" r="2.2" fill="#111" stroke="#333" stroke-width="0.45"/>
<circle cx="574.57" cy="636.80" r="2.2" fill="#111" stroke="#333" stroke-width="0.45"/>
<circle cx="589.46" cy="633.08" r="2.2" fill="#111" stroke="#333" stroke-width="0.45"/>
<circle cx="589.46" cy="636.30" r="2.2" fill="#111" stroke="#333" stroke-width="0.45"/>
<circle cx="594.42" cy="639.78" r="2.2" fill="#111" stroke="#333" stroke-width="0.45"/>
<circle cx="600.63" cy="634.81" r="2.2" fill="#111" stroke="#333" stroke-width="0.45"/>
<circle cx="616.27" cy="633.82" r="2.2" fill="#111" stroke="#333" stroke-width="0.45"/>
<circle cx="626.69" cy="634.32" r="2.2" fill="#111" stroke="#333" stroke-width="0.45"/>
<circle cx="638.36" cy="633.82" r="2.2" fill="#111" stroke="#333" stroke-width="0.45"/>
<circle cx="640.84" cy="637.29" r="2.2" fill="#111" stroke="#333" stroke-width="0.45"/>
<circle cx="643.57" cy="638.78" r="2.2" fill="#111" stroke="#333" stroke-width="0.45"/>
<circle cx="571.59" cy="636.80" r="2.2" fill="#5151ee" stroke="#333" stroke-width="0.45"/>
<circle cx="574.57" cy="643.75" r="2.2" fill="#5151ee" stroke="#333" stroke-width="0.45"/>
<circle cx="589.46" cy="641.76" r="2.2" fill="#5151ee" stroke="#333" stroke-width="0.45"/>
<circle cx="600.63" cy="641.76" r="2.2" fill="#5151ee" stroke="#333" stroke-width="0.45"/>
<circle cx="616.27" cy="639.28" r="2.2" fill="#5151ee" stroke="#333" stroke-width="0.45"/>
<circle cx="624.70" cy="643.75" r="2.2" fill="#5151ee" stroke="#333" stroke-width="0.45"/>
<circle cx="629.17" cy="643.75" r="2.2" fill="#5151ee" stroke="#333" stroke-width="0.45"/>
<circle cx="631.65" cy="641.76" r="2.2" fill="#5151ee" stroke="#333" stroke-width="0.45"/>
<circle cx="638.36" cy="643.75" r="2.2" fill="#5151ee" stroke="#333" stroke-width="0.45"/>
<circle cx="571.59" cy="641.76" r="2.2" fill="#5ccc7a" stroke="#333" stroke-width="0.45"/>
<circle cx="574.57" cy="643.75" r="2.2" fill="#5ccc7a" stroke="#333" stroke-width="0.45"/>
<circle cx="589.46" cy="640.52" r="2.2" fill="#5ccc7a" stroke="#333" stroke-width="0.45"/>
<circle cx="600.63" cy="643.75" r="2.2" fill="#5ccc7a" stroke="#333" stroke-width="0.45"/>
<circle cx="616.27" cy="643.00" r="2.2" fill="#5ccc7a" stroke="#333" stroke-width="0.45"/>
<circle cx="624.70" cy="640.52" r="2.2" fill="#5ccc7a" stroke="#333" stroke-width="0.45"/>
<circle cx="626.69" cy="643.00" r="2.2" fill="#5ccc7a" stroke="#333" stroke-width="0.45"/>
<circle cx="629.17" cy="639.28" r="2.2" fill="#5ccc7a" stroke="#333" stroke-width="0.45"/>
<circle cx="631.16" cy="644.24" r="2.2" fill="#5ccc7a" stroke="#333" stroke-width="0.45"/>
<circle cx="638.36" cy="641.76" r="2.2" fill="#5ccc7a" stroke="#333" stroke-width="0.45"/>
<circle cx="640.84" cy="640.02" r="2.2" fill="#5ccc7a" stroke="#333" stroke-width="0.45"/>
<circle cx="643.57" cy="641.76" r="2.2" fill="#5ccc7a" stroke="#333" stroke-width="0.45"/>
<text x="13.40" y="695.80" font-size="12" text-anchor="start" font-weight="bold" fill="#000">e</text>
<text x="386.20" y="694.20" font-size="12" text-anchor="start" font-weight="bold" fill="#000">f</text>
<text x="71.80" y="785.90" font-size="6.6" text-anchor="end" font-weight="bold" fill="#111">10<tspan dy="-2.6" font-size="4.09">1</tspan></text>
<text x="71.80" y="757.37" font-size="6.6" text-anchor="end" font-weight="bold" fill="#111">10<tspan dy="-2.6" font-size="4.09">2</tspan></text>
<text x="71.80" y="728.83" font-size="6.6" text-anchor="end" font-weight="bold" fill="#111">10<tspan dy="-2.6" font-size="4.09">3</tspan></text>
<text x="71.80" y="700.30" font-size="6.6" text-anchor="end" font-weight="bold" fill="#111">10<tspan dy="-2.6" font-size="4.09">4</tspan></text>
<text x="74.20" y="794.80" font-size="6.6" text-anchor="middle" font-weight="bold" fill="#111">10<tspan dy="-2.6" font-size="4.09">&#8211;1</tspan></text>
<text x="101.25" y="794.80" font-size="6.6" text-anchor="middle" font-weight="bold" fill="#111">10<tspan dy="-2.6" font-size="4.09">0</tspan></text>
<text x="128.30" y="794.80" font-size="6.6" text-anchor="middle" font-weight="bold" fill="#111">10<tspan dy="-2.6" font-size="4.09">1</tspan></text>
<text x="155.35" y="794.80" font-size="6.6" text-anchor="middle" font-weight="bold" fill="#111">10<tspan dy="-2.6" font-size="4.09">2</tspan></text>
<text x="182.40" y="794.80" font-size="6.6" text-anchor="middle" font-weight="bold" fill="#111">10<tspan dy="-2.6" font-size="4.09">3</tspan></text>
<path d="M74.20,698.00 L74.20,783.60 L182.40,783.60 M74.20,783.60 L71.00,783.60 M74.20,755.07 L71.00,755.07 M74.20,726.53 L71.00,726.53 M74.20,698.00 L71.00,698.00 M74.20,783.60 L74.20,786.60 M101.25,783.60 L101.25,786.60 M128.30,783.60 L128.30,786.60 M155.35,783.60 L155.35,786.60 M182.40,783.60 L182.40,786.60 " stroke="#1a1a1a" stroke-width="1.2" fill="none"/>
<text x="41.39" y="741.00" font-size="7.2" text-anchor="middle" fill="#222" stroke="#222" stroke-width="0.18" transform="rotate(-90 41.39 741.00)" textLength="76" lengthAdjust="spacingAndGlyphs">#&#160;&#160;MAIT cells in thymus</text>
<text x="51.09" y="741.00" font-size="7.2" text-anchor="middle" fill="#222" stroke="#222" stroke-width="0.18" transform="rotate(-90 51.09 741.00)" textLength="66" lengthAdjust="spacingAndGlyphs">(per 10<tspan dy="-2" font-size="4.5">9</tspan><tspan dy="2"> </tspan>thymocytes)</text>
<text x="128.00" y="804.80" font-size="7.2" text-anchor="middle" fill="#222" stroke="#222" stroke-width="0.18" textLength="74.6" lengthAdjust="spacingAndGlyphs"># MAIT cells in PBMCs</text>
<text x="128.10" y="812.20" font-size="7.2" text-anchor="middle" fill="#222" stroke="#222" stroke-width="0.18" textLength="45.2" lengthAdjust="spacingAndGlyphs">(per ml blood)</text>
<text x="83.20" y="729.90" font-size="8.6" text-anchor="start" fill="#222" stroke="#222" stroke-width="0.18" textLength="33.2" lengthAdjust="spacingAndGlyphs">R<tspan dy="-3.2" font-size="6">2</tspan><tspan dy="3.2">=0.05</tspan></text>
<path d="M98.53,740.48 C102.54,740.55 115.77,740.55 122.63,740.86 C129.49,741.18 135.60,741.62 139.71,742.38 C143.82,743.14 145.15,743.71 147.30,745.42 C149.45,747.13 151.29,749.85 152.62,752.63 C153.95,755.41 154.64,759.02 155.27,762.12 C155.91,765.22 156.22,769.71 156.41,771.23" stroke="#111" stroke-width="1.0" fill="none"/>
<circle cx="98.53" cy="738.02" r="2.5" fill="#111" stroke="#000" stroke-width="0.3"/>
<circle cx="123.20" cy="742.76" r="2.5" fill="#111" stroke="#000" stroke-width="0.3"/>
<circle cx="140.66" cy="741.62" r="2.5" fill="#111" stroke="#000" stroke-width="0.3"/>
<circle cx="152.43" cy="746.18" r="2.5" fill="#111" stroke="#000" stroke-width="0.3"/>
<circle cx="129.46" cy="721.32" r="2.5" fill="#111" stroke="#000" stroke-width="0.3"/>
<circle cx="124.91" cy="751.87" r="2.5" fill="#111" stroke="#000" stroke-width="0.3"/>
<circle cx="129.27" cy="751.87" r="2.5" fill="#111" stroke="#000" stroke-width="0.3"/>
<circle cx="131.74" cy="750.92" r="2.5" fill="#111" stroke="#000" stroke-width="0.3"/>
<circle cx="124.53" cy="756.81" r="2.5" fill="#111" stroke="#000" stroke-width="0.3"/>
<circle cx="117.51" cy="760.60" r="2.5" fill="#111" stroke="#000" stroke-width="0.3"/>
<circle cx="145.41" cy="759.84" r="2.5" fill="#111" stroke="#000" stroke-width="0.3"/>
<circle cx="119.97" cy="768.95" r="2.5" fill="#111" stroke="#000" stroke-width="0.3"/>
<circle cx="149.96" cy="770.09" r="2.5" fill="#111" stroke="#000" stroke-width="0.3"/>
<circle cx="156.41" cy="771.23" r="2.5" fill="#111" stroke="#000" stroke-width="0.3"/>
<text x="240.90" y="785.90" font-size="6.6" text-anchor="end" font-weight="bold" fill="#111">10<tspan dy="-2.6" font-size="4.09">1</tspan></text>
<text x="240.90" y="757.37" font-size="6.6" text-anchor="end" font-weight="bold" fill="#111">10<tspan dy="-2.6" font-size="4.09">2</tspan></text>
<text x="240.90" y="728.83" font-size="6.6" text-anchor="end" font-weight="bold" fill="#111">10<tspan dy="-2.6" font-size="4.09">3</tspan></text>
<text x="240.90" y="700.30" font-size="6.6" text-anchor="end" font-weight="bold" fill="#111">10<tspan dy="-2.6" font-size="4.09">4</tspan></text>
<text x="243.30" y="794.80" font-size="6.6" text-anchor="middle" font-weight="bold" fill="#111">0.001</text>
<text x="270.00" y="794.80" font-size="6.6" text-anchor="middle" font-weight="bold" fill="#111">0.01</text>
<text x="296.70" y="794.80" font-size="6.6" text-anchor="middle" font-weight="bold" fill="#111">0.1</text>
<text x="323.40" y="794.80" font-size="6.6" text-anchor="middle" font-weight="bold" fill="#111">1</text>
<text x="350.10" y="794.80" font-size="6.6" text-anchor="middle" font-weight="bold" fill="#111">10</text>
<path d="M243.30,698.00 L243.30,783.60 L350.10,783.60 M243.30,783.60 L240.10,783.60 M243.30,755.07 L240.10,755.07 M243.30,726.53 L240.10,726.53 M243.30,698.00 L240.10,698.00 M243.30,783.60 L243.30,786.60 M270.00,783.60 L270.00,786.60 M296.70,783.60 L296.70,786.60 M323.40,783.60 L323.40,786.60 M350.10,783.60 L350.10,786.60 " stroke="#1a1a1a" stroke-width="1.2" fill="none"/>
<text x="209.19" y="741.00" font-size="7.2" text-anchor="middle" fill="#222" stroke="#222" stroke-width="0.18" transform="rotate(-90 209.19 741.00)" textLength="75" lengthAdjust="spacingAndGlyphs"># MAIT cells in thymus</text>
<text x="219.49" y="741.00" font-size="7.2" text-anchor="middle" fill="#222" stroke="#222" stroke-width="0.18" transform="rotate(-90 219.49 741.00)" textLength="66" lengthAdjust="spacingAndGlyphs">(per 10<tspan dy="-2" font-size="4.5">9</tspan><tspan dy="2"> </tspan>thymocytes)</text>
<text x="296.80" y="804.80" font-size="7.2" text-anchor="middle" fill="#222" stroke="#222" stroke-width="0.18" textLength="74.6" lengthAdjust="spacingAndGlyphs">% MAIT cells in PBMCs</text>
<text x="296.80" y="813.10" font-size="7.2" text-anchor="middle" fill="#222" stroke="#222" stroke-width="0.18" textLength="63" lengthAdjust="spacingAndGlyphs">(among CD3<tspan dy="-2.3" font-size="4.5">+</tspan><tspan dy="2.3"> cells)</tspan></text>
<text x="337.60" y="731.60" font-size="8.6" text-anchor="start" fill="#222" stroke="#222" stroke-width="0.18" textLength="34.0" lengthAdjust="spacingAndGlyphs">R<tspan dy="-3.2" font-size="6">2</tspan><tspan dy="3.2">=0.05</tspan></text>
<path d="M269.88,747.12 C275.06,747.12 293.00,747.31 300.95,747.12 C308.90,746.94 312.97,746.61 317.59,746.01 C322.21,745.41 325.22,744.58 328.68,743.52 C332.15,742.45 335.53,740.98 338.39,739.63 C341.26,738.29 344.63,736.17 345.88,735.47" stroke="#111" stroke-width="1.0" fill="none"/>
<circle cx="269.61" cy="752.67" r="2.5" fill="#111" stroke="#000" stroke-width="0.3"/>
<circle cx="278.76" cy="751.28" r="2.5" fill="#111" stroke="#000" stroke-width="0.3"/>
<circle cx="284.86" cy="743.24" r="2.5" fill="#111" stroke="#000" stroke-width="0.3"/>
<circle cx="288.47" cy="762.38" r="2.5" fill="#111" stroke="#000" stroke-width="0.3"/>
<circle cx="290.41" cy="752.12" r="2.5" fill="#111" stroke="#000" stroke-width="0.3"/>
<circle cx="296.51" cy="757.11" r="2.5" fill="#111" stroke="#000" stroke-width="0.3"/>
<circle cx="282.64" cy="769.04" r="2.5" fill="#111" stroke="#000" stroke-width="0.3"/>
<circle cx="303.72" cy="770.15" r="2.5" fill="#111" stroke="#000" stroke-width="0.3"/>
<circle cx="317.59" cy="738.25" r="2.5" fill="#111" stroke="#000" stroke-width="0.3"/>
<circle cx="317.59" cy="760.44" r="2.5" fill="#111" stroke="#000" stroke-width="0.3"/>
<circle cx="320.36" cy="759.88" r="2.5" fill="#111" stroke="#000" stroke-width="0.3"/>
<circle cx="327.58" cy="721.61" r="2.5" fill="#111" stroke="#000" stroke-width="0.3"/>
<circle cx="332.85" cy="741.85" r="2.5" fill="#111" stroke="#000" stroke-width="0.3"/>
<circle cx="333.40" cy="770.98" r="2.5" fill="#111" stroke="#000" stroke-width="0.3"/>
<circle cx="335.06" cy="746.57" r="2.5" fill="#111" stroke="#000" stroke-width="0.3"/>
<circle cx="345.88" cy="738.25" r="2.5" fill="#111" stroke="#000" stroke-width="0.3"/>
<line x1="462.5" y1="764.95" x2="600.10" y2="764.95" stroke="#e4e4e4" stroke-width="0.6" stroke-dasharray="2 1"/>
<line x1="462.5" y1="742.30" x2="600.10" y2="742.30" stroke="#e4e4e4" stroke-width="0.6" stroke-dasharray="2 1"/>
<line x1="462.5" y1="719.65" x2="600.10" y2="719.65" stroke="#e4e4e4" stroke-width="0.6" stroke-dasharray="2 1"/>
<text x="456.50" y="790.60" font-size="8.4" text-anchor="end" font-weight="bold" fill="#111">0</text>
<text x="605.90" y="790.60" font-size="8.4" text-anchor="start" font-weight="bold" fill="#111">0</text>
<text x="456.50" y="767.95" font-size="8.4" text-anchor="end" font-weight="bold" fill="#111">500</text>
<text x="605.90" y="767.95" font-size="8.4" text-anchor="start" font-weight="bold" fill="#111">50</text>
<text x="456.50" y="745.30" font-size="8.4" text-anchor="end" font-weight="bold" fill="#111">1000</text>
<text x="605.90" y="745.30" font-size="8.4" text-anchor="start" font-weight="bold" fill="#111">100</text>
<text x="456.50" y="722.65" font-size="8.4" text-anchor="end" font-weight="bold" fill="#111">1500</text>
<text x="605.90" y="722.65" font-size="8.4" text-anchor="start" font-weight="bold" fill="#111">150</text>
<text x="456.50" y="700.00" font-size="8.4" text-anchor="end" font-weight="bold" fill="#111">2000</text>
<text x="605.90" y="700.00" font-size="8.4" text-anchor="start" font-weight="bold" fill="#111">200</text>
<text x="462.50" y="802.30" font-size="8.4" text-anchor="middle" font-weight="bold" fill="#111">0.01</text>
<text x="496.90" y="802.30" font-size="8.4" text-anchor="middle" font-weight="bold" fill="#111">0.1</text>
<text x="531.30" y="802.30" font-size="8.4" text-anchor="middle" font-weight="bold" fill="#111">1</text>
<text x="565.70" y="802.30" font-size="8.4" text-anchor="middle" font-weight="bold" fill="#111">10</text>
<text x="600.10" y="802.30" font-size="8.4" text-anchor="middle" font-weight="bold" fill="#111">100</text>
<path d="M462.5,697.0 L600.10,697.0 M462.5,697.0 L462.5,787.6 L600.10,787.6 M600.10,697.0 L600.10,787.6 M462.5,787.60 L459.00,787.60 M600.10,787.60 L603.60,787.60 M462.5,764.95 L459.00,764.95 M600.10,764.95 L603.60,764.95 M462.5,742.30 L459.00,742.30 M600.10,742.30 L603.60,742.30 M462.5,719.65 L459.00,719.65 M600.10,719.65 L603.60,719.65 M462.5,697.00 L459.00,697.00 M600.10,697.00 L603.60,697.00 M462.50,787.6 L462.50,791.10 M472.86,787.6 L472.86,789.60 M478.91,787.6 L478.91,789.60 M483.21,787.6 L483.21,789.60 M486.54,787.6 L486.54,789.60 M489.27,787.6 L489.27,789.60 M491.57,787.6 L491.57,789.60 M493.57,787.6 L493.57,789.60 M495.33,787.6 L495.33,789.60 M496.90,787.6 L496.90,791.10 M507.26,787.6 L507.26,789.60 M513.31,787.6 L513.31,789.60 M517.61,787.6 L517.61,789.60 M520.94,787.6 L520.94,789.60 M523.67,787.6 L523.67,789.60 M525.97,787.6 L525.97,789.60 M527.97,787.6 L527.97,789.60 M529.73,787.6 L529.73,789.60 M531.30,787.6 L531.30,791.10 M541.66,787.6 L541.66,789.60 M547.71,787.6 L547.71,789.60 M552.01,787.6 L552.01,789.60 M555.34,787.6 L555.34,789.60 M558.07,787.6 L558.07,789.60 M560.37,787.6 L560.37,789.60 M562.37,787.6 L562.37,789.60 M564.13,787.6 L564.13,789.60 M565.70,787.6 L565.70,791.10 M576.06,787.6 L576.06,789.60 M582.11,787.6 L582.11,789.60 M586.41,787.6 L586.41,789.60 M589.74,787.6 L589.74,789.60 M592.47,787.6 L592.47,789.60 M594.77,787.6 L594.77,789.60 M596.77,787.6 L596.77,789.60 M598.53,787.6 L598.53,789.60 M600.10,787.6 L600.10,791.10 " stroke="#111" stroke-width="1.3" fill="none"/>
<text x="531.00" y="815.50" font-size="9.5" text-anchor="middle" fill="#222" stroke="#222" stroke-width="0.18" textLength="31.0" lengthAdjust="spacingAndGlyphs">Age (y)</text>
<text x="416.16" y="741.40" font-size="9.6" text-anchor="middle" fill="#2c2ce6" stroke="#2c2ce6" stroke-width="0.18" transform="rotate(-90 416.16 741.40)" textLength="76" lengthAdjust="spacingAndGlyphs"># MAIT in thymus</text>
<text x="428.96" y="741.40" font-size="9.6" text-anchor="middle" fill="#2c2ce6" stroke="#2c2ce6" stroke-width="0.18" transform="rotate(-90 428.96 741.40)" textLength="90" lengthAdjust="spacingAndGlyphs">(per 10<tspan dy="-3.5" font-size="6.5">9</tspan><tspan dy="3.5"> thymocytes)</tspan></text>
<text x="637.14" y="742.60" font-size="9.6" text-anchor="middle" fill="#5fe030" stroke="#5fe030" stroke-width="0.18" transform="rotate(90 637.14 742.60)" textLength="68" lengthAdjust="spacingAndGlyphs"># MAITin PBMC</text>
<text x="625.54" y="741.40" font-size="9.6" text-anchor="middle" fill="#5fe030" stroke="#5fe030" stroke-width="0.18" transform="rotate(90 625.54 741.40)" textLength="33" lengthAdjust="spacingAndGlyphs">(per ml)</text>
<path d="M483.50,781.10 C490.42,781.18 514.18,781.80 525.00,781.60 C535.82,781.40 541.40,780.95 548.40,779.90 C555.40,778.85 561.95,777.05 567.00,775.30 C572.05,773.55 574.72,772.52 578.70,769.40 C582.68,766.28 588.87,758.73 590.90,756.60" stroke="#2c2ce6" stroke-width="1.2" fill="none"/>
<path d="M483.50,772.90 C490.42,772.90 514.18,772.78 525.00,772.90 C535.82,773.02 541.40,773.08 548.40,773.60 C555.40,774.12 561.57,774.75 567.00,776.00 C572.43,777.25 577.02,779.27 581.00,781.10 C584.98,782.93 589.25,786.02 590.90,787.00" stroke="#5fe030" stroke-width="1.2" fill="none"/>
<circle cx="569.80" cy="718.00" r="2.3" fill="#2222dd" stroke="#222" stroke-width="0.3"/>
<circle cx="563.50" cy="761.20" r="2.3" fill="#2222dd" stroke="#222" stroke-width="0.3"/>
<circle cx="566.60" cy="769.40" r="2.3" fill="#2222dd" stroke="#222" stroke-width="0.3"/>
<circle cx="590.90" cy="769.40" r="2.3" fill="#2222dd" stroke="#222" stroke-width="0.3"/>
<circle cx="569.80" cy="778.30" r="2.3" fill="#2222dd" stroke="#222" stroke-width="0.3"/>
<circle cx="551.20" cy="776.90" r="2.3" fill="#2222dd" stroke="#222" stroke-width="0.3"/>
<circle cx="547.20" cy="779.20" r="2.3" fill="#2222dd" stroke="#222" stroke-width="0.3"/>
<circle cx="554.70" cy="784.60" r="2.3" fill="#2222dd" stroke="#222" stroke-width="0.3"/>
<circle cx="561.70" cy="785.80" r="2.3" fill="#2222dd" stroke="#222" stroke-width="0.3"/>
<circle cx="532.00" cy="785.30" r="2.3" fill="#2222dd" stroke="#222" stroke-width="0.3"/>
<circle cx="504.50" cy="775.30" r="2.3" fill="#2222dd" stroke="#222" stroke-width="0.3"/>
<circle cx="483.50" cy="781.10" r="2.3" fill="#2222dd" stroke="#222" stroke-width="0.3"/>
<circle cx="486.70" cy="785.80" r="2.3" fill="#2222dd" stroke="#222" stroke-width="0.3"/>
<circle cx="504.50" cy="781.10" r="2.3" fill="#2222dd" stroke="#222" stroke-width="0.3"/>
<circle cx="504.50" cy="785.80" r="2.3" fill="#2222dd" stroke="#222" stroke-width="0.3"/>
<circle cx="510.80" cy="785.80" r="2.3" fill="#2222dd" stroke="#222" stroke-width="0.3"/>
<circle cx="517.80" cy="781.80" r="2.3" fill="#2222dd" stroke="#222" stroke-width="0.3"/>
<circle cx="521.30" cy="785.80" r="2.3" fill="#2222dd" stroke="#222" stroke-width="0.3"/>
<circle cx="531.80" cy="785.10" r="2.3" fill="#2222dd" stroke="#222" stroke-width="0.3"/>
<circle cx="551.40" cy="751.40" r="2.3" fill="#66e033" stroke="#333" stroke-width="0.3"/>
<circle cx="554.70" cy="767.60" r="2.3" fill="#66e033" stroke="#333" stroke-width="0.3"/>
<circle cx="579.90" cy="774.60" r="2.3" fill="#66e033" stroke="#333" stroke-width="0.3"/>
<circle cx="569.80" cy="782.70" r="2.3" fill="#66e033" stroke="#333" stroke-width="0.3"/>
<circle cx="590.90" cy="786.90" r="2.3" fill="#66e033" stroke="#333" stroke-width="0.3"/>
<circle cx="539.50" cy="785.30" r="2.3" fill="#66e033" stroke="#333" stroke-width="0.3"/>
<circle cx="525.00" cy="784.60" r="2.3" fill="#66e033" stroke="#333" stroke-width="0.3"/>
<circle cx="486.70" cy="737.20" r="2.3" fill="#66e033" stroke="#333" stroke-width="0.3"/>
<circle cx="504.50" cy="758.00" r="2.3" fill="#66e033" stroke="#333" stroke-width="0.3"/>
<circle cx="483.50" cy="782.70" r="2.3" fill="#66e033" stroke="#333" stroke-width="0.3"/>
<circle cx="504.50" cy="784.60" r="2.3" fill="#66e033" stroke="#333" stroke-width="0.3"/>
<circle cx="510.30" cy="781.10" r="2.3" fill="#66e033" stroke="#333" stroke-width="0.3"/>
<circle cx="514.30" cy="785.30" r="2.3" fill="#66e033" stroke="#333" stroke-width="0.3"/>
<circle cx="518.50" cy="784.10" r="2.3" fill="#66e033" stroke="#333" stroke-width="0.3"/>
<circle cx="525.30" cy="784.10" r="2.3" fill="#66e033" stroke="#333" stroke-width="0.3"/>
</svg>
</body></html>
